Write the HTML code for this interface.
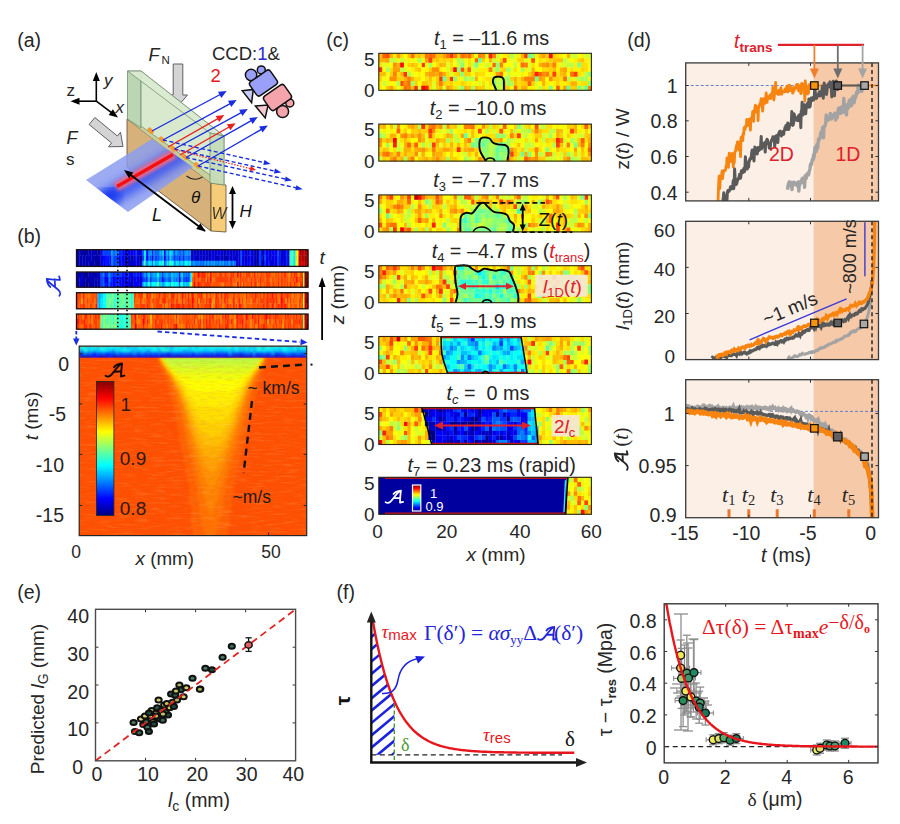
<!DOCTYPE html><html><head><meta charset="utf-8"><title>figure</title><style>html,body{margin:0;padding:0;background:#fff;width:900px;height:824px;overflow:hidden;font-family:"Liberation Sans",sans-serif;}svg{display:block;}</style></head><body><svg width="900" height="824" viewBox="0 0 900 824"><rect width="900" height="824" fill="#fff"/><text x="17.2" y="47.2" font-family='"Liberation Sans", sans-serif' font-size="19.5" text-anchor="start" fill="#262626" >(a)</text>
<line x1="96.3" y1="101.2" x2="96.3" y2="79.2" stroke="#000" stroke-width="1.6" /><polygon points="96.3,72 99.8,81 92.8,81" fill="#000" stroke="none" stroke-width="1" />
<line x1="96.3" y1="101.2" x2="77.7" y2="101.2" stroke="#000" stroke-width="1.6" /><polygon points="70.5,101.2 79.5,97.7 79.5,104.7" fill="#000" stroke="none" stroke-width="1" />
<line x1="96.3" y1="101.2" x2="112.2" y2="113.2" stroke="#000" stroke-width="1.6" /><polygon points="118,117.5 108.7,114.9 112.9,109.3" fill="#000" stroke="none" stroke-width="1" />
<text x="66.5" y="95.5" font-family='"Liberation Sans", sans-serif' font-size="17" text-anchor="start" fill="#262626" >z</text>
<text x="104.0" y="86.0" font-family='"Liberation Sans", sans-serif' font-size="17" text-anchor="start" fill="#262626" font-style="italic" >y</text>
<text x="115.5" y="113.0" font-family='"Liberation Sans", sans-serif' font-size="17" text-anchor="start" fill="#262626" font-style="italic" >x</text>
<polygon points="89.1,124.5 111.6,143 108.5,146.8 123,146.5 120.5,132.2 117.4,136 94.9,117.5" fill="#d4d4d4" stroke="#606060" stroke-width="1" />
<text x="66.5" y="143.5" font-family='"Liberation Sans", sans-serif' font-size="18" text-anchor="start" fill="#262626" font-style="italic" >F</text>
<text x="66.0" y="165.0" font-family='"Liberation Sans", sans-serif' font-size="17" text-anchor="start" fill="#262626" >s</text>
<polygon points="173.2,64 173.2,95 168.5,95 178,106 187.5,95 182.8,95 182.8,64" fill="#d4d4d4" stroke="#606060" stroke-width="1" />
<text x="148.5" y="60.5" font-family='"Liberation Sans", sans-serif' font-size="18" text-anchor="start" fill="#262626" font-style="italic" >F</text>
<text x="161.5" y="64.0" font-family='"Liberation Sans", sans-serif' font-size="11.5" text-anchor="start" fill="#262626" >N</text>
<text x="212" y="60" font-family='"Liberation Sans", sans-serif' font-size="18.5" fill="#262626">CCD:<tspan fill="#2a2ad0">1</tspan>&amp;</text>
<text x="210.5" y="82.0" font-family='"Liberation Sans", sans-serif' font-size="18.5" text-anchor="start" fill="#e8161c" >2</text>
<polygon points="127,119 211,183 211,231 127,167" fill="#d6b27a" stroke="#5a4a30" stroke-width="0.8" />
<polygon points="211,183 226,185 226,232 211,231" fill="#f6cc78" stroke="#5a4a30" stroke-width="0.8" />
<polygon points="127,119 141,126 226,185 211,183" fill="#c7cf9a" stroke="none" stroke-width="1" />
<defs><filter id="blr2" x="-20%" y="-20%" width="140%" height="140%"><feGaussianBlur stdDeviation="1.6"/></filter><filter id="blr6" x="-30%" y="-30%" width="160%" height="160%"><feGaussianBlur stdDeviation="5"/></filter><clipPath id="bplc"><polygon points="86,180 152,139 193,167 128,212"/></clipPath></defs>
<polygon points="86,180 152,139 193,167 128,212" fill="#8c9ef0" stroke="none" stroke-width="1" opacity="0.85"/>
<g clip-path="url(#bplc)">
<line x1="100" y1="203" x2="185" y2="152" stroke="#2a46f2" stroke-width="18" filter="url(#blr6)" opacity="0.75"/>
<line x1="100" y1="202" x2="118" y2="191" stroke="#1030f0" stroke-width="14" filter="url(#blr6)" opacity="0.85"/>
</g>
<line x1="116" y1="187" x2="174" y2="154" stroke="#ff6a7a" stroke-width="10" opacity="0.8" filter="url(#blr2)"/>
<line x1="117" y1="186.5" x2="173" y2="154.5" stroke="#f41010" stroke-width="3.2" />
<polygon points="127.5,71 141,71 141,128 127.5,119" fill="#b9d3ae" stroke="#6b8a6b" stroke-width="0.8" opacity="0.95"/>
<polygon points="141,71 224,136 224,185 141,126" fill="#d3e6c6" stroke="#6b8a6b" stroke-width="0.8" opacity="0.85"/>
<polygon points="127.5,71 141,71 224,136 210,133" fill="#dcecd2" stroke="#6b8a6b" stroke-width="0.8" opacity="0.9"/>
<polygon points="210,133 224,136 224,185 210,183" fill="#c6dcb8" stroke="#6b8a6b" stroke-width="0.8" opacity="0.9"/>
<rect x="147.2" y="128.7" width="7" height="4" rx="1.5" fill="#f7962a" transform="rotate(45 150.7 130.7)"/>
<rect x="158.5" y="137.5" width="7" height="4" rx="1.5" fill="#f7962a" transform="rotate(45 162.0 139.5)"/>
<rect x="169.8" y="146.5" width="7" height="4" rx="1.5" fill="#f7962a" transform="rotate(45 173.3 148.5)"/>
<rect x="181.5" y="155.0" width="7" height="4" rx="1.5" fill="#f7962a" transform="rotate(45 185.0 157.0)"/>
<rect x="193.5" y="163.3" width="7" height="4" rx="1.5" fill="#f7962a" transform="rotate(45 197.0 165.3)"/>
<line x1="152" y1="131" x2="221.1" y2="94" stroke="#1a2ee0" stroke-width="1.4" /><polygon points="226.7,91 221.3,97.9 218,91.7" fill="#1a2ee0" stroke="none" stroke-width="1" />
<line x1="163" y1="140" x2="231.1" y2="103.1" stroke="#1a2ee0" stroke-width="1.4" /><polygon points="236.7,100 231.3,106.9 228,100.7" fill="#1a2ee0" stroke="none" stroke-width="1" />
<line x1="174.5" y1="149" x2="242.2" y2="112.1" stroke="#1a2ee0" stroke-width="1.4" /><polygon points="247.8,109 242.5,115.9 239.1,109.8" fill="#1a2ee0" stroke="none" stroke-width="1" />
<line x1="186" y1="157.5" x2="252.2" y2="120.1" stroke="#1a2ee0" stroke-width="1.4" /><polygon points="257.8,117 252.6,124 249.1,117.9" fill="#1a2ee0" stroke="none" stroke-width="1" />
<line x1="198" y1="166" x2="262.3" y2="128.8" stroke="#1a2ee0" stroke-width="1.4" /><polygon points="267.8,125.6 262.6,132.6 259.1,126.6" fill="#1a2ee0" stroke="none" stroke-width="1" />
<line x1="168" y1="147" x2="218.8" y2="118.2" stroke="#e82020" stroke-width="1.4" /><polygon points="224.4,115 219.2,122 215.7,115.9" fill="#e82020" stroke="none" stroke-width="1" />
<line x1="180" y1="155" x2="230" y2="126.5" stroke="#e82020" stroke-width="1.4" /><polygon points="235.6,123.3 230.4,130.3 226.9,124.2" fill="#e82020" stroke="none" stroke-width="1" />
<line x1="163" y1="140" x2="264.8" y2="162.7" stroke="#1a2ee0" stroke-width="1.4" stroke-dasharray="4,2.5"/>
<polygon points="270.7,164 263.3,164.9 264.4,160" fill="#1a2ee0" stroke="none" stroke-width="1" />
<line x1="174.5" y1="149" x2="275.4" y2="171.2" stroke="#1a2ee0" stroke-width="1.4" stroke-dasharray="4,2.5"/>
<polygon points="281.3,172.5 273.9,173.4 275,168.6" fill="#1a2ee0" stroke="none" stroke-width="1" />
<line x1="186" y1="157.5" x2="286.1" y2="179.2" stroke="#1a2ee0" stroke-width="1.4" stroke-dasharray="4,2.5"/>
<polygon points="292,180.5 284.6,181.5 285.7,176.6" fill="#1a2ee0" stroke="none" stroke-width="1" />
<line x1="198" y1="166" x2="296.8" y2="188" stroke="#1a2ee0" stroke-width="1.4" stroke-dasharray="4,2.5"/>
<polygon points="302.7,189.3 295.3,190.2 296.4,185.3" fill="#1a2ee0" stroke="none" stroke-width="1" />
<line x1="176" y1="150" x2="252" y2="169" stroke="#e82020" stroke-width="1.2" stroke-dasharray="1.5,1.5"/>
<polygon points="256,170 249.6,171 250.8,166.1" fill="#e82020" stroke="none" stroke-width="1" />
<path d="M186.5,176 Q194,182 202.5,177" fill="none" stroke="#222" stroke-width="1.1"/>
<text x="191.0" y="203.0" font-family='"Liberation Sans", sans-serif' font-size="17" text-anchor="start" fill="#111" font-style="italic" >θ</text>
<line x1="205" y1="231" x2="129.8" y2="174.3" stroke="#000" stroke-width="1.8" /><polygon points="124,170 133.3,172.6 129.1,178.2" fill="#000" stroke="none" stroke-width="1" />
<polygon points="205.5,231.5 196.2,228.9 200.4,223.3" fill="#000" stroke="none" stroke-width="1" />
<text x="152.0" y="221.0" font-family='"Liberation Sans", sans-serif' font-size="18" text-anchor="start" fill="#111" font-style="italic" >L</text>
<text x="211.5" y="219.0" font-family='"Liberation Sans", sans-serif' font-size="16" text-anchor="start" fill="#222" font-style="italic" opacity="0.85">W</text>
<line x1="232.5" y1="207" x2="232.5" y2="192.4" stroke="#000" stroke-width="1.8" /><polygon points="232.5,186 236,194 229,194" fill="#000" stroke="none" stroke-width="1" />
<line x1="232.5" y1="207" x2="232.5" y2="222.6" stroke="#000" stroke-width="1.8" /><polygon points="232.5,229 229,221 236,221" fill="#000" stroke="none" stroke-width="1" />
<text x="239.5" y="216.5" font-family='"Liberation Sans", sans-serif' font-size="17" text-anchor="start" fill="#111" font-style="italic" >H</text>
<g transform="translate(263.5,83) rotate(-35)"><rect x="-12" y="-8" width="24" height="16" rx="3" fill="#9aa0f8" stroke="#1a1a1a" stroke-width="1.2"/></g><circle cx="251.1" cy="75" r="5.7" fill="#9aa0f8" stroke="#111" stroke-width="1.5"/><circle cx="261.3" cy="69.9" r="4" fill="#9aa0f8" stroke="#111" stroke-width="1.5"/><polygon points="242.2,90.7 253.3,89.4 251.6,102.6" fill="#c8ccf8" stroke="#111" stroke-width="1.5" />
<g transform="translate(277.5,97.5) rotate(-35)"><rect x="-12" y="-8" width="24" height="16" rx="3" fill="#f6a4ac" stroke="#1a1a1a" stroke-width="1.2"/></g><circle cx="282.6" cy="111.5" r="6" fill="#f6a4ac" stroke="#111" stroke-width="1.5"/><circle cx="289.8" cy="103" r="4" fill="#f6a4ac" stroke="#111" stroke-width="1.5"/><polygon points="255.4,106 268.1,105.1 265.2,117.9" fill="#f8c8d0" stroke="#111" stroke-width="1.5" />
<g transform="translate(263.5,83) rotate(-35)"><rect x="-12.5" y="-8.5" width="25" height="17" rx="3" fill="#9aa0f8" stroke="#111" stroke-width="1.5"/></g>
<g transform="translate(277.5,97.5) rotate(-35)"><rect x="-12.5" y="-8.5" width="25" height="17" rx="3" fill="#f6a4ac" stroke="#111" stroke-width="1.5"/></g>
<text x="17.2" y="242.8" font-family='"Liberation Sans", sans-serif' font-size="19.5" text-anchor="start" fill="#262626" >(b)</text>
<defs><filter id="sblur" x="0" y="0" width="100%" height="100%"><feGaussianBlur stdDeviation="0.5"/></filter></defs>
<g filter="url(#sblur)"><path fill="#000095" d="M76.5 249.7h1.8v5.9h-1.8zM76.5 255.3h1.8v5.9h-1.8zM84.0 249.7h1.8v5.9h-1.8zM84.0 255.3h1.8v5.9h-1.8zM85.5 249.7h1.8v5.9h-1.8zM93.0 260.8h1.8v5.9h-1.8zM96.0 260.8h1.8v5.9h-1.8zM97.5 249.7h1.8v5.9h-1.8zM97.5 260.8h1.8v5.9h-1.8zM99.0 249.7h1.8v5.9h-1.8zM139.5 255.3h1.8v5.9h-1.8zM255.0 255.3h1.8v5.9h-1.8zM256.5 260.8h1.8v5.9h-1.8z"/><path fill="#0000aa" d="M76.5 260.8h1.8v5.9h-1.8zM78.0 249.7h1.8v5.9h-1.8zM79.5 255.3h1.8v5.9h-1.8zM79.5 260.8h1.8v5.9h-1.8zM81.0 249.7h1.8v5.9h-1.8zM81.0 255.3h1.8v5.9h-1.8zM81.0 260.8h1.8v5.9h-1.8zM82.5 249.7h1.8v5.9h-1.8zM84.0 260.8h1.8v5.9h-1.8zM85.5 255.3h1.8v5.9h-1.8zM87.0 260.8h1.8v5.9h-1.8zM88.5 249.7h1.8v5.9h-1.8zM90.0 260.8h1.8v5.9h-1.8zM91.5 249.7h1.8v5.9h-1.8zM91.5 255.3h1.8v5.9h-1.8zM91.5 260.8h1.8v5.9h-1.8zM93.0 255.3h1.8v5.9h-1.8zM94.5 255.3h1.8v5.9h-1.8zM96.0 249.7h1.8v5.9h-1.8zM96.0 255.3h1.8v5.9h-1.8zM97.5 255.3h1.8v5.9h-1.8zM99.0 255.3h1.8v5.9h-1.8zM99.0 260.8h1.8v5.9h-1.8zM124.5 255.3h1.8v5.9h-1.8zM124.5 260.8h1.8v5.9h-1.8zM126.0 255.3h1.8v5.9h-1.8zM126.0 260.8h1.8v5.9h-1.8zM130.5 255.3h1.8v5.9h-1.8zM132.0 255.3h1.8v5.9h-1.8zM138.0 255.3h1.8v5.9h-1.8zM139.5 260.8h1.8v5.9h-1.8zM192.0 249.7h1.8v5.9h-1.8zM192.0 255.3h1.8v5.9h-1.8zM195.0 249.7h1.8v5.9h-1.8zM202.5 255.3h1.8v5.9h-1.8zM205.5 255.3h1.8v5.9h-1.8zM208.5 249.7h1.8v5.9h-1.8zM208.5 255.3h1.8v5.9h-1.8zM223.5 249.7h1.8v5.9h-1.8zM223.5 255.3h1.8v5.9h-1.8zM225.0 255.3h1.8v5.9h-1.8zM226.5 255.3h1.8v5.9h-1.8zM231.0 249.7h1.8v5.9h-1.8zM231.0 255.3h1.8v5.9h-1.8zM234.0 249.7h1.8v5.9h-1.8zM244.5 255.3h1.8v5.9h-1.8zM256.5 249.7h1.8v5.9h-1.8zM256.5 255.3h1.8v5.9h-1.8zM261.0 260.8h1.8v5.9h-1.8zM262.5 255.3h1.8v5.9h-1.8zM262.5 260.8h1.8v5.9h-1.8zM288.0 249.7h1.8v5.9h-1.8z"/><path fill="#0000bf" d="M78.0 255.3h1.8v5.9h-1.8zM78.0 260.8h1.8v5.9h-1.8zM79.5 249.7h1.8v5.9h-1.8zM82.5 255.3h1.8v5.9h-1.8zM82.5 260.8h1.8v5.9h-1.8zM85.5 260.8h1.8v5.9h-1.8zM87.0 249.7h1.8v5.9h-1.8zM87.0 255.3h1.8v5.9h-1.8zM88.5 255.3h1.8v5.9h-1.8zM88.5 260.8h1.8v5.9h-1.8zM90.0 249.7h1.8v5.9h-1.8zM90.0 255.3h1.8v5.9h-1.8zM93.0 249.7h1.8v5.9h-1.8zM94.5 249.7h1.8v5.9h-1.8zM94.5 260.8h1.8v5.9h-1.8zM129.0 255.3h1.8v5.9h-1.8zM129.0 260.8h1.8v5.9h-1.8zM130.5 260.8h1.8v5.9h-1.8zM132.0 260.8h1.8v5.9h-1.8zM133.5 255.3h1.8v5.9h-1.8zM133.5 260.8h1.8v5.9h-1.8zM138.0 260.8h1.8v5.9h-1.8zM141.0 255.3h1.8v5.9h-1.8zM190.5 249.7h1.8v5.9h-1.8zM190.5 255.3h1.8v5.9h-1.8zM195.0 255.3h1.8v5.9h-1.8zM196.5 249.7h1.8v5.9h-1.8zM196.5 255.3h1.8v5.9h-1.8zM198.0 255.3h1.8v5.9h-1.8zM199.5 249.7h1.8v5.9h-1.8zM202.5 249.7h1.8v5.9h-1.8zM205.5 249.7h1.8v5.9h-1.8zM214.5 249.7h1.8v5.9h-1.8zM214.5 255.3h1.8v5.9h-1.8zM216.0 255.3h1.8v5.9h-1.8zM217.5 255.3h1.8v5.9h-1.8zM220.5 249.7h1.8v5.9h-1.8zM220.5 255.3h1.8v5.9h-1.8zM222.0 255.3h1.8v5.9h-1.8zM226.5 249.7h1.8v5.9h-1.8zM229.5 255.3h1.8v5.9h-1.8zM234.0 255.3h1.8v5.9h-1.8zM235.5 249.7h1.8v5.9h-1.8zM235.5 255.3h1.8v5.9h-1.8zM238.5 249.7h1.8v5.9h-1.8zM238.5 255.3h1.8v5.9h-1.8zM238.5 260.8h1.8v5.9h-1.8zM246.0 249.7h1.8v5.9h-1.8zM247.5 255.3h1.8v5.9h-1.8zM252.0 249.7h1.8v5.9h-1.8zM252.0 255.3h1.8v5.9h-1.8zM261.0 249.7h1.8v5.9h-1.8zM261.0 255.3h1.8v5.9h-1.8zM262.5 249.7h1.8v5.9h-1.8zM267.0 255.3h1.8v5.9h-1.8zM267.0 260.8h1.8v5.9h-1.8zM270.0 249.7h1.8v5.9h-1.8zM270.0 255.3h1.8v5.9h-1.8zM282.0 260.8h1.8v5.9h-1.8zM288.0 255.3h1.8v5.9h-1.8zM288.0 260.8h1.8v5.9h-1.8z"/><path fill="#0000ea" d="M100.5 249.7h1.8v5.9h-1.8zM102.0 260.8h1.8v5.9h-1.8zM118.5 255.3h1.8v5.9h-1.8zM123.0 255.3h1.8v5.9h-1.8zM129.0 249.7h1.8v5.9h-1.8zM133.5 249.7h1.8v5.9h-1.8zM136.5 249.7h1.8v5.9h-1.8zM193.5 249.7h1.8v5.9h-1.8zM193.5 255.3h1.8v5.9h-1.8zM211.5 249.7h1.8v5.9h-1.8zM211.5 255.3h1.8v5.9h-1.8zM216.0 249.7h1.8v5.9h-1.8zM219.0 249.7h1.8v5.9h-1.8zM228.0 249.7h1.8v5.9h-1.8zM228.0 255.3h1.8v5.9h-1.8zM232.5 249.7h1.8v5.9h-1.8zM232.5 255.3h1.8v5.9h-1.8zM237.0 249.7h1.8v5.9h-1.8zM237.0 255.3h1.8v5.9h-1.8zM237.0 260.8h1.8v5.9h-1.8zM241.5 255.3h1.8v5.9h-1.8zM243.0 249.7h1.8v5.9h-1.8zM243.0 255.3h1.8v5.9h-1.8zM246.0 260.8h1.8v5.9h-1.8zM250.5 249.7h1.8v5.9h-1.8zM250.5 260.8h1.8v5.9h-1.8zM253.5 249.7h1.8v5.9h-1.8zM253.5 255.3h1.8v5.9h-1.8zM253.5 260.8h1.8v5.9h-1.8zM258.0 249.7h1.8v5.9h-1.8zM258.0 255.3h1.8v5.9h-1.8zM258.0 260.8h1.8v5.9h-1.8zM273.0 260.8h1.8v5.9h-1.8zM274.5 255.3h1.8v5.9h-1.8zM276.0 249.7h1.8v5.9h-1.8zM276.0 255.3h1.8v5.9h-1.8zM279.0 249.7h1.8v5.9h-1.8zM279.0 255.3h1.8v5.9h-1.8zM280.5 260.8h1.8v5.9h-1.8zM285.0 255.3h1.8v5.9h-1.8zM285.0 260.8h1.8v5.9h-1.8z"/><path fill="#0000d4" d="M100.5 255.3h1.8v5.9h-1.8zM100.5 260.8h1.8v5.9h-1.8zM118.5 260.8h1.8v5.9h-1.8zM123.0 260.8h1.8v5.9h-1.8zM124.5 249.7h1.8v5.9h-1.8zM126.0 249.7h1.8v5.9h-1.8zM127.5 255.3h1.8v5.9h-1.8zM127.5 260.8h1.8v5.9h-1.8zM130.5 249.7h1.8v5.9h-1.8zM136.5 255.3h1.8v5.9h-1.8zM136.5 260.8h1.8v5.9h-1.8zM138.0 249.7h1.8v5.9h-1.8zM139.5 249.7h1.8v5.9h-1.8zM141.0 260.8h1.8v5.9h-1.8zM151.5 255.3h1.8v5.9h-1.8zM163.5 255.3h1.8v5.9h-1.8zM198.0 249.7h1.8v5.9h-1.8zM199.5 255.3h1.8v5.9h-1.8zM201.0 249.7h1.8v5.9h-1.8zM201.0 255.3h1.8v5.9h-1.8zM204.0 249.7h1.8v5.9h-1.8zM204.0 255.3h1.8v5.9h-1.8zM207.0 249.7h1.8v5.9h-1.8zM207.0 255.3h1.8v5.9h-1.8zM210.0 249.7h1.8v5.9h-1.8zM210.0 255.3h1.8v5.9h-1.8zM213.0 249.7h1.8v5.9h-1.8zM213.0 255.3h1.8v5.9h-1.8zM217.5 249.7h1.8v5.9h-1.8zM219.0 255.3h1.8v5.9h-1.8zM222.0 249.7h1.8v5.9h-1.8zM225.0 249.7h1.8v5.9h-1.8zM229.5 249.7h1.8v5.9h-1.8zM235.5 260.8h1.8v5.9h-1.8zM241.5 260.8h1.8v5.9h-1.8zM244.5 249.7h1.8v5.9h-1.8zM244.5 260.8h1.8v5.9h-1.8zM246.0 255.3h1.8v5.9h-1.8zM247.5 249.7h1.8v5.9h-1.8zM247.5 260.8h1.8v5.9h-1.8zM250.5 255.3h1.8v5.9h-1.8zM252.0 260.8h1.8v5.9h-1.8zM267.0 249.7h1.8v5.9h-1.8zM270.0 260.8h1.8v5.9h-1.8zM271.5 255.3h1.8v5.9h-1.8zM271.5 260.8h1.8v5.9h-1.8zM274.5 249.7h1.8v5.9h-1.8zM274.5 260.8h1.8v5.9h-1.8zM276.0 260.8h1.8v5.9h-1.8zM279.0 260.8h1.8v5.9h-1.8zM280.5 249.7h1.8v5.9h-1.8zM280.5 255.3h1.8v5.9h-1.8zM282.0 249.7h1.8v5.9h-1.8zM282.0 255.3h1.8v5.9h-1.8zM283.5 249.7h1.8v5.9h-1.8zM283.5 255.3h1.8v5.9h-1.8zM283.5 260.8h1.8v5.9h-1.8z"/><path fill="#002aff" d="M102.0 249.7h1.8v5.9h-1.8zM114.0 260.8h1.8v5.9h-1.8zM117.0 255.3h1.8v5.9h-1.8zM120.0 249.7h1.8v5.9h-1.8zM121.5 249.7h1.8v5.9h-1.8zM135.0 249.7h1.8v5.9h-1.8zM145.5 249.7h1.8v5.9h-1.8zM151.5 249.7h1.8v5.9h-1.8zM165.0 255.3h1.8v5.9h-1.8zM168.0 255.3h1.8v5.9h-1.8zM178.5 255.3h1.8v5.9h-1.8zM183.0 249.7h1.8v5.9h-1.8zM264.0 249.7h1.8v5.9h-1.8zM264.0 260.8h1.8v5.9h-1.8z"/><path fill="#0000ff" d="M102.0 255.3h1.8v5.9h-1.8zM103.5 255.3h1.8v5.9h-1.8zM103.5 260.8h1.8v5.9h-1.8zM108.0 260.8h1.8v5.9h-1.8zM109.5 255.3h1.8v5.9h-1.8zM120.0 260.8h1.8v5.9h-1.8zM121.5 255.3h1.8v5.9h-1.8zM123.0 249.7h1.8v5.9h-1.8zM127.5 249.7h1.8v5.9h-1.8zM132.0 249.7h1.8v5.9h-1.8zM135.0 260.8h1.8v5.9h-1.8zM141.0 249.7h1.8v5.9h-1.8zM147.0 255.3h1.8v5.9h-1.8zM163.5 249.7h1.8v5.9h-1.8zM183.0 255.3h1.8v5.9h-1.8zM241.5 249.7h1.8v5.9h-1.8zM243.0 260.8h1.8v5.9h-1.8zM249.0 255.3h1.8v5.9h-1.8zM265.5 249.7h1.8v5.9h-1.8zM265.5 255.3h1.8v5.9h-1.8zM265.5 260.8h1.8v5.9h-1.8zM268.5 249.7h1.8v5.9h-1.8zM268.5 255.3h1.8v5.9h-1.8zM271.5 249.7h1.8v5.9h-1.8zM273.0 249.7h1.8v5.9h-1.8zM273.0 255.3h1.8v5.9h-1.8zM285.0 249.7h1.8v5.9h-1.8z"/><path fill="#0040ff" d="M103.5 249.7h1.8v5.9h-1.8zM105.0 249.7h1.8v5.9h-1.8zM106.5 249.7h1.8v5.9h-1.8zM108.0 249.7h1.8v5.9h-1.8zM109.5 249.7h1.8v5.9h-1.8zM114.0 255.3h1.8v5.9h-1.8zM115.5 255.3h1.8v5.9h-1.8zM142.5 255.3h1.8v5.9h-1.8zM154.5 255.3h1.8v5.9h-1.8zM156.0 255.3h1.8v5.9h-1.8zM174.0 249.7h1.8v5.9h-1.8zM240.0 249.7h1.8v5.9h-1.8zM240.0 255.3h1.8v5.9h-1.8zM240.0 260.8h1.8v5.9h-1.8zM259.5 249.7h1.8v5.9h-1.8zM259.5 255.3h1.8v5.9h-1.8zM259.5 260.8h1.8v5.9h-1.8zM264.0 255.3h1.8v5.9h-1.8zM277.5 255.3h1.8v5.9h-1.8zM277.5 260.8h1.8v5.9h-1.8z"/><path fill="#0015ff" d="M105.0 255.3h1.8v5.9h-1.8zM105.0 260.8h1.8v5.9h-1.8zM106.5 255.3h1.8v5.9h-1.8zM106.5 260.8h1.8v5.9h-1.8zM108.0 255.3h1.8v5.9h-1.8zM109.5 260.8h1.8v5.9h-1.8zM118.5 249.7h1.8v5.9h-1.8zM120.0 255.3h1.8v5.9h-1.8zM121.5 260.8h1.8v5.9h-1.8zM135.0 255.3h1.8v5.9h-1.8zM145.5 255.3h1.8v5.9h-1.8zM147.0 249.7h1.8v5.9h-1.8zM174.0 255.3h1.8v5.9h-1.8zM249.0 249.7h1.8v5.9h-1.8zM249.0 260.8h1.8v5.9h-1.8zM268.5 260.8h1.8v5.9h-1.8zM286.5 249.7h1.8v5.9h-1.8zM286.5 255.3h1.8v5.9h-1.8zM286.5 260.8h1.8v5.9h-1.8z"/><path fill="#00aaff" d="M111.0 249.7h1.8v5.9h-1.8zM154.5 260.8h1.8v5.9h-1.8zM159.0 249.7h1.8v5.9h-1.8zM162.0 255.3h1.8v5.9h-1.8zM175.5 249.7h1.8v5.9h-1.8zM178.5 260.8h1.8v5.9h-1.8zM228.0 260.8h1.8v5.9h-1.8zM232.5 260.8h1.8v5.9h-1.8z"/><path fill="#0080ff" d="M111.0 255.3h1.8v5.9h-1.8zM111.0 260.8h1.8v5.9h-1.8zM115.5 249.7h1.8v5.9h-1.8zM147.0 260.8h1.8v5.9h-1.8zM148.5 255.3h1.8v5.9h-1.8zM153.0 249.7h1.8v5.9h-1.8zM159.0 255.3h1.8v5.9h-1.8zM171.0 255.3h1.8v5.9h-1.8zM172.5 249.7h1.8v5.9h-1.8zM177.0 249.7h1.8v5.9h-1.8zM181.5 249.7h1.8v5.9h-1.8zM183.0 260.8h1.8v5.9h-1.8zM184.5 255.3h1.8v5.9h-1.8zM187.5 249.7h1.8v5.9h-1.8zM192.0 260.8h1.8v5.9h-1.8zM195.0 260.8h1.8v5.9h-1.8zM196.5 260.8h1.8v5.9h-1.8zM198.0 260.8h1.8v5.9h-1.8zM201.0 260.8h1.8v5.9h-1.8zM208.5 260.8h1.8v5.9h-1.8zM210.0 260.8h1.8v5.9h-1.8zM214.5 260.8h1.8v5.9h-1.8zM216.0 260.8h1.8v5.9h-1.8zM220.5 260.8h1.8v5.9h-1.8zM225.0 260.8h1.8v5.9h-1.8zM229.5 260.8h1.8v5.9h-1.8z"/><path fill="#006aff" d="M112.5 249.7h1.8v5.9h-1.8zM114.0 249.7h1.8v5.9h-1.8zM117.0 249.7h1.8v5.9h-1.8zM142.5 249.7h1.8v5.9h-1.8zM151.5 260.8h1.8v5.9h-1.8zM153.0 255.3h1.8v5.9h-1.8zM154.5 249.7h1.8v5.9h-1.8zM156.0 249.7h1.8v5.9h-1.8zM157.5 249.7h1.8v5.9h-1.8zM160.5 255.3h1.8v5.9h-1.8zM168.0 249.7h1.8v5.9h-1.8zM172.5 255.3h1.8v5.9h-1.8zM175.5 255.3h1.8v5.9h-1.8zM178.5 249.7h1.8v5.9h-1.8zM180.0 249.7h1.8v5.9h-1.8zM181.5 255.3h1.8v5.9h-1.8zM186.0 255.3h1.8v5.9h-1.8zM189.0 255.3h1.8v5.9h-1.8zM190.5 260.8h1.8v5.9h-1.8zM199.5 260.8h1.8v5.9h-1.8zM205.5 260.8h1.8v5.9h-1.8zM217.5 260.8h1.8v5.9h-1.8zM223.5 260.8h1.8v5.9h-1.8zM226.5 260.8h1.8v5.9h-1.8zM234.0 260.8h1.8v5.9h-1.8z"/><path fill="#0055ff" d="M112.5 255.3h1.8v5.9h-1.8zM112.5 260.8h1.8v5.9h-1.8zM115.5 260.8h1.8v5.9h-1.8zM117.0 260.8h1.8v5.9h-1.8zM150.0 255.3h1.8v5.9h-1.8zM157.5 255.3h1.8v5.9h-1.8zM163.5 260.8h1.8v5.9h-1.8zM165.0 249.7h1.8v5.9h-1.8zM177.0 255.3h1.8v5.9h-1.8zM180.0 255.3h1.8v5.9h-1.8zM187.5 255.3h1.8v5.9h-1.8zM202.5 260.8h1.8v5.9h-1.8zM231.0 260.8h1.8v5.9h-1.8zM277.5 249.7h1.8v5.9h-1.8z"/><path fill="#00bfff" d="M142.5 260.8h1.8v5.9h-1.8zM156.0 260.8h1.8v5.9h-1.8zM157.5 260.8h1.8v5.9h-1.8zM166.5 249.7h1.8v5.9h-1.8zM168.0 260.8h1.8v5.9h-1.8zM171.0 249.7h1.8v5.9h-1.8zM180.0 260.8h1.8v5.9h-1.8z"/><path fill="#00ffff" d="M144.0 249.7h1.8v5.9h-1.8zM159.0 260.8h1.8v5.9h-1.8zM166.5 260.8h1.8v5.9h-1.8zM184.5 260.8h1.8v5.9h-1.8zM186.0 260.8h1.8v5.9h-1.8zM189.0 260.8h1.8v5.9h-1.8zM292.5 255.3h1.8v5.9h-1.8z"/><path fill="#00eaff" d="M144.0 255.3h1.8v5.9h-1.8zM148.5 260.8h1.8v5.9h-1.8zM153.0 260.8h1.8v5.9h-1.8zM160.5 260.8h1.8v5.9h-1.8zM169.5 249.7h1.8v5.9h-1.8zM172.5 260.8h1.8v5.9h-1.8zM175.5 260.8h1.8v5.9h-1.8zM294.0 255.3h1.8v5.9h-1.8z"/><path fill="#55ffaa" d="M144.0 260.8h1.8v5.9h-1.8zM169.5 260.8h1.8v5.9h-1.8zM291.0 249.7h1.8v5.9h-1.8zM291.0 255.3h1.8v5.9h-1.8z"/><path fill="#0095ff" d="M145.5 260.8h1.8v5.9h-1.8zM148.5 249.7h1.8v5.9h-1.8zM150.0 249.7h1.8v5.9h-1.8zM160.5 249.7h1.8v5.9h-1.8zM165.0 260.8h1.8v5.9h-1.8zM166.5 255.3h1.8v5.9h-1.8zM174.0 260.8h1.8v5.9h-1.8zM184.5 249.7h1.8v5.9h-1.8zM186.0 249.7h1.8v5.9h-1.8zM189.0 249.7h1.8v5.9h-1.8zM193.5 260.8h1.8v5.9h-1.8zM204.0 260.8h1.8v5.9h-1.8zM207.0 260.8h1.8v5.9h-1.8zM211.5 260.8h1.8v5.9h-1.8zM213.0 260.8h1.8v5.9h-1.8zM219.0 260.8h1.8v5.9h-1.8zM222.0 260.8h1.8v5.9h-1.8z"/><path fill="#00d4ff" d="M150.0 260.8h1.8v5.9h-1.8zM162.0 249.7h1.8v5.9h-1.8zM169.5 255.3h1.8v5.9h-1.8zM177.0 260.8h1.8v5.9h-1.8zM181.5 260.8h1.8v5.9h-1.8zM187.5 260.8h1.8v5.9h-1.8zM294.0 249.7h1.8v5.9h-1.8zM294.0 260.8h1.8v5.9h-1.8z"/><path fill="#2bffd4" d="M162.0 260.8h1.8v5.9h-1.8zM289.5 249.7h1.8v5.9h-1.8zM292.5 249.7h1.8v5.9h-1.8z"/><path fill="#15ffea" d="M171.0 260.8h1.8v5.9h-1.8zM292.5 260.8h1.8v5.9h-1.8z"/><path fill="#000080" d="M255.0 249.7h1.8v5.9h-1.8zM255.0 260.8h1.8v5.9h-1.8z"/><path fill="#40ffbf" d="M289.5 255.3h1.8v5.9h-1.8zM289.5 260.8h1.8v5.9h-1.8zM291.0 260.8h1.8v5.9h-1.8z"/><path fill="#ffea00" d="M295.5 249.7h1.8v5.9h-1.8z"/><path fill="#ffd500" d="M295.5 255.3h1.8v5.9h-1.8z"/><path fill="#ffff00" d="M295.5 260.8h1.8v5.9h-1.8zM297.0 249.7h1.8v5.9h-1.8z"/><path fill="#d5ff2a" d="M297.0 255.3h1.8v5.9h-1.8z"/><path fill="#bfff40" d="M297.0 260.8h1.8v5.9h-1.8z"/><path fill="#ea0000" d="M298.5 249.7h1.8v5.9h-1.8zM303.0 260.8h1.8v5.9h-1.8z"/><path fill="#bf0000" d="M298.5 255.3h1.8v5.9h-1.8zM300.0 255.3h1.8v5.9h-1.8zM300.0 260.8h1.8v5.9h-1.8zM303.0 255.3h1.8v5.9h-1.8zM306.0 255.3h1.8v5.9h-1.8z"/><path fill="#d50000" d="M298.5 260.8h1.8v5.9h-1.8zM301.5 260.8h1.8v5.9h-1.8zM303.0 249.7h1.8v5.9h-1.8zM306.0 260.8h1.8v5.9h-1.8z"/><path fill="#950000" d="M300.0 249.7h1.8v5.9h-1.8zM304.5 255.3h1.8v5.9h-1.8zM307.5 249.7h0.8v5.9h-0.8zM307.5 260.8h0.8v5.9h-0.8z"/><path fill="#aa0000" d="M301.5 249.7h1.8v5.9h-1.8zM301.5 255.3h1.8v5.9h-1.8zM304.5 249.7h1.8v5.9h-1.8zM304.5 260.8h1.8v5.9h-1.8zM306.0 249.7h1.8v5.9h-1.8zM307.5 255.3h0.8v5.9h-0.8z"/></g>
<rect x="76.5" y="249.7" width="231.5" height="16.7" fill="none" stroke="#1a1010" stroke-width="1.3" />
<g filter="url(#sblur)"><path fill="#0000bf" d="M76.5 272.0h1.8v5.4h-1.8zM76.5 277.1h1.8v5.4h-1.8zM79.5 282.1h1.8v5.4h-1.8zM81.0 272.0h1.8v5.4h-1.8zM81.0 277.1h1.8v5.4h-1.8zM81.0 282.1h1.8v5.4h-1.8zM82.5 272.0h1.8v5.4h-1.8zM82.5 277.1h1.8v5.4h-1.8zM82.5 282.1h1.8v5.4h-1.8zM90.0 272.0h1.8v5.4h-1.8zM90.0 277.1h1.8v5.4h-1.8zM91.5 272.0h1.8v5.4h-1.8zM91.5 277.1h1.8v5.4h-1.8zM94.5 277.1h1.8v5.4h-1.8zM94.5 282.1h1.8v5.4h-1.8zM96.0 272.0h1.8v5.4h-1.8zM96.0 277.1h1.8v5.4h-1.8zM97.5 272.0h1.8v5.4h-1.8zM97.5 282.1h1.8v5.4h-1.8zM99.0 272.0h1.8v5.4h-1.8zM124.5 277.1h1.8v5.4h-1.8zM124.5 282.1h1.8v5.4h-1.8zM129.0 277.1h1.8v5.4h-1.8zM129.0 282.1h1.8v5.4h-1.8zM130.5 282.1h1.8v5.4h-1.8zM132.0 272.0h1.8v5.4h-1.8zM139.5 277.1h1.8v5.4h-1.8z"/><path fill="#0000aa" d="M76.5 282.1h1.8v5.4h-1.8zM78.0 272.0h1.8v5.4h-1.8zM78.0 277.1h1.8v5.4h-1.8zM78.0 282.1h1.8v5.4h-1.8zM79.5 272.0h1.8v5.4h-1.8zM84.0 277.1h1.8v5.4h-1.8zM87.0 277.1h1.8v5.4h-1.8zM88.5 272.0h1.8v5.4h-1.8zM88.5 277.1h1.8v5.4h-1.8zM88.5 282.1h1.8v5.4h-1.8zM90.0 282.1h1.8v5.4h-1.8zM91.5 282.1h1.8v5.4h-1.8zM93.0 272.0h1.8v5.4h-1.8zM93.0 282.1h1.8v5.4h-1.8zM94.5 272.0h1.8v5.4h-1.8zM96.0 282.1h1.8v5.4h-1.8zM97.5 277.1h1.8v5.4h-1.8zM99.0 277.1h1.8v5.4h-1.8zM99.0 282.1h1.8v5.4h-1.8zM132.0 277.1h1.8v5.4h-1.8zM132.0 282.1h1.8v5.4h-1.8z"/><path fill="#0000d4" d="M79.5 277.1h1.8v5.4h-1.8zM105.0 282.1h1.8v5.4h-1.8zM130.5 277.1h1.8v5.4h-1.8zM138.0 277.1h1.8v5.4h-1.8zM139.5 282.1h1.8v5.4h-1.8z"/><path fill="#000095" d="M84.0 272.0h1.8v5.4h-1.8zM84.0 282.1h1.8v5.4h-1.8zM85.5 272.0h1.8v5.4h-1.8zM85.5 277.1h1.8v5.4h-1.8zM87.0 272.0h1.8v5.4h-1.8zM87.0 282.1h1.8v5.4h-1.8zM93.0 277.1h1.8v5.4h-1.8z"/><path fill="#000080" d="M85.5 282.1h1.8v5.4h-1.8z"/><path fill="#0055ff" d="M100.5 272.0h1.8v5.4h-1.8zM102.0 277.1h1.8v5.4h-1.8zM102.0 282.1h1.8v5.4h-1.8zM103.5 272.0h1.8v5.4h-1.8zM109.5 277.1h1.8v5.4h-1.8zM144.0 277.1h1.8v5.4h-1.8zM145.5 272.0h1.8v5.4h-1.8zM163.5 277.1h1.8v5.4h-1.8zM168.0 277.1h1.8v5.4h-1.8zM169.5 277.1h1.8v5.4h-1.8zM184.5 277.1h1.8v5.4h-1.8zM187.5 272.0h1.8v5.4h-1.8z"/><path fill="#0040ff" d="M100.5 277.1h1.8v5.4h-1.8zM100.5 282.1h1.8v5.4h-1.8zM103.5 282.1h1.8v5.4h-1.8zM111.0 272.0h1.8v5.4h-1.8zM114.0 272.0h1.8v5.4h-1.8zM115.5 272.0h1.8v5.4h-1.8zM117.0 272.0h1.8v5.4h-1.8zM118.5 272.0h1.8v5.4h-1.8zM120.0 272.0h1.8v5.4h-1.8zM127.5 272.0h1.8v5.4h-1.8zM142.5 277.1h1.8v5.4h-1.8zM150.0 272.0h1.8v5.4h-1.8zM159.0 277.1h1.8v5.4h-1.8zM183.0 272.0h1.8v5.4h-1.8zM187.5 277.1h1.8v5.4h-1.8z"/><path fill="#006aff" d="M102.0 272.0h1.8v5.4h-1.8zM108.0 277.1h1.8v5.4h-1.8zM108.0 282.1h1.8v5.4h-1.8zM109.5 272.0h1.8v5.4h-1.8zM142.5 272.0h1.8v5.4h-1.8zM147.0 277.1h1.8v5.4h-1.8zM159.0 272.0h1.8v5.4h-1.8zM160.5 277.1h1.8v5.4h-1.8zM165.0 277.1h1.8v5.4h-1.8zM175.5 277.1h1.8v5.4h-1.8zM178.5 282.1h1.8v5.4h-1.8zM180.0 277.1h1.8v5.4h-1.8zM186.0 272.0h1.8v5.4h-1.8zM189.0 277.1h1.8v5.4h-1.8z"/><path fill="#002aff" d="M103.5 277.1h1.8v5.4h-1.8zM106.5 272.0h1.8v5.4h-1.8zM109.5 282.1h1.8v5.4h-1.8zM111.0 277.1h1.8v5.4h-1.8zM112.5 272.0h1.8v5.4h-1.8zM115.5 282.1h1.8v5.4h-1.8zM117.0 277.1h1.8v5.4h-1.8zM117.0 282.1h1.8v5.4h-1.8zM135.0 272.0h1.8v5.4h-1.8zM141.0 272.0h1.8v5.4h-1.8zM145.5 277.1h1.8v5.4h-1.8zM162.0 272.0h1.8v5.4h-1.8zM183.0 277.1h1.8v5.4h-1.8zM186.0 277.1h1.8v5.4h-1.8z"/><path fill="#0015ff" d="M105.0 272.0h1.8v5.4h-1.8zM111.0 282.1h1.8v5.4h-1.8zM114.0 277.1h1.8v5.4h-1.8zM115.5 277.1h1.8v5.4h-1.8zM118.5 277.1h1.8v5.4h-1.8zM118.5 282.1h1.8v5.4h-1.8zM121.5 272.0h1.8v5.4h-1.8zM123.0 272.0h1.8v5.4h-1.8zM126.0 272.0h1.8v5.4h-1.8zM127.5 277.1h1.8v5.4h-1.8zM133.5 272.0h1.8v5.4h-1.8zM136.5 272.0h1.8v5.4h-1.8zM138.0 272.0h1.8v5.4h-1.8zM162.0 277.1h1.8v5.4h-1.8zM178.5 272.0h1.8v5.4h-1.8z"/><path fill="#0000ea" d="M105.0 277.1h1.8v5.4h-1.8zM106.5 277.1h1.8v5.4h-1.8zM121.5 277.1h1.8v5.4h-1.8zM121.5 282.1h1.8v5.4h-1.8zM123.0 277.1h1.8v5.4h-1.8zM123.0 282.1h1.8v5.4h-1.8zM129.0 272.0h1.8v5.4h-1.8zM130.5 272.0h1.8v5.4h-1.8zM133.5 277.1h1.8v5.4h-1.8zM135.0 282.1h1.8v5.4h-1.8zM136.5 277.1h1.8v5.4h-1.8zM136.5 282.1h1.8v5.4h-1.8zM138.0 282.1h1.8v5.4h-1.8zM139.5 272.0h1.8v5.4h-1.8zM150.0 277.1h1.8v5.4h-1.8zM178.5 277.1h1.8v5.4h-1.8z"/><path fill="#0000ff" d="M106.5 282.1h1.8v5.4h-1.8zM112.5 277.1h1.8v5.4h-1.8zM112.5 282.1h1.8v5.4h-1.8zM114.0 282.1h1.8v5.4h-1.8zM120.0 277.1h1.8v5.4h-1.8zM120.0 282.1h1.8v5.4h-1.8zM124.5 272.0h1.8v5.4h-1.8zM126.0 277.1h1.8v5.4h-1.8zM126.0 282.1h1.8v5.4h-1.8zM127.5 282.1h1.8v5.4h-1.8zM133.5 282.1h1.8v5.4h-1.8zM135.0 277.1h1.8v5.4h-1.8zM141.0 277.1h1.8v5.4h-1.8zM141.0 282.1h1.8v5.4h-1.8z"/><path fill="#0080ff" d="M108.0 272.0h1.8v5.4h-1.8zM150.0 282.1h1.8v5.4h-1.8zM151.5 277.1h1.8v5.4h-1.8zM153.0 277.1h1.8v5.4h-1.8zM154.5 277.1h1.8v5.4h-1.8zM156.0 277.1h1.8v5.4h-1.8zM166.5 277.1h1.8v5.4h-1.8zM168.0 272.0h1.8v5.4h-1.8zM169.5 272.0h1.8v5.4h-1.8zM174.0 277.1h1.8v5.4h-1.8zM177.0 277.1h1.8v5.4h-1.8zM184.5 272.0h1.8v5.4h-1.8zM189.0 272.0h1.8v5.4h-1.8z"/><path fill="#00bfff" d="M142.5 282.1h1.8v5.4h-1.8zM156.0 272.0h1.8v5.4h-1.8zM157.5 277.1h1.8v5.4h-1.8zM163.5 282.1h1.8v5.4h-1.8zM169.5 282.1h1.8v5.4h-1.8zM171.0 272.0h1.8v5.4h-1.8zM186.0 282.1h1.8v5.4h-1.8zM187.5 282.1h1.8v5.4h-1.8z"/><path fill="#0095ff" d="M144.0 272.0h1.8v5.4h-1.8zM147.0 272.0h1.8v5.4h-1.8zM151.5 272.0h1.8v5.4h-1.8zM154.5 272.0h1.8v5.4h-1.8zM160.5 272.0h1.8v5.4h-1.8zM162.0 282.1h1.8v5.4h-1.8zM163.5 272.0h1.8v5.4h-1.8zM165.0 272.0h1.8v5.4h-1.8zM172.5 277.1h1.8v5.4h-1.8zM174.0 272.0h1.8v5.4h-1.8zM177.0 272.0h1.8v5.4h-1.8zM180.0 272.0h1.8v5.4h-1.8zM183.0 282.1h1.8v5.4h-1.8z"/><path fill="#00eaff" d="M144.0 282.1h1.8v5.4h-1.8zM147.0 282.1h1.8v5.4h-1.8zM154.5 282.1h1.8v5.4h-1.8zM165.0 282.1h1.8v5.4h-1.8zM168.0 282.1h1.8v5.4h-1.8zM174.0 282.1h1.8v5.4h-1.8zM177.0 282.1h1.8v5.4h-1.8zM180.0 282.1h1.8v5.4h-1.8z"/><path fill="#00aaff" d="M145.5 282.1h1.8v5.4h-1.8zM148.5 277.1h1.8v5.4h-1.8zM153.0 272.0h1.8v5.4h-1.8zM159.0 282.1h1.8v5.4h-1.8zM166.5 272.0h1.8v5.4h-1.8zM171.0 277.1h1.8v5.4h-1.8zM172.5 272.0h1.8v5.4h-1.8zM175.5 272.0h1.8v5.4h-1.8zM181.5 277.1h1.8v5.4h-1.8z"/><path fill="#00d4ff" d="M148.5 272.0h1.8v5.4h-1.8zM160.5 282.1h1.8v5.4h-1.8zM181.5 272.0h1.8v5.4h-1.8zM184.5 282.1h1.8v5.4h-1.8z"/><path fill="#2bffd4" d="M148.5 282.1h1.8v5.4h-1.8zM171.0 282.1h1.8v5.4h-1.8zM181.5 282.1h1.8v5.4h-1.8z"/><path fill="#00ffff" d="M151.5 282.1h1.8v5.4h-1.8zM153.0 282.1h1.8v5.4h-1.8zM157.5 272.0h1.8v5.4h-1.8zM166.5 282.1h1.8v5.4h-1.8zM175.5 282.1h1.8v5.4h-1.8zM189.0 282.1h1.8v5.4h-1.8z"/><path fill="#15ffea" d="M156.0 282.1h1.8v5.4h-1.8zM172.5 282.1h1.8v5.4h-1.8zM190.5 272.0h1.8v5.4h-1.8zM190.5 277.1h1.8v5.4h-1.8z"/><path fill="#55ffaa" d="M157.5 282.1h1.8v5.4h-1.8z"/><path fill="#d5ff2a" d="M190.5 282.1h1.8v5.4h-1.8z"/><path fill="#ff9500" d="M192.0 272.0h1.8v5.4h-1.8zM205.5 277.1h1.8v5.4h-1.8zM222.0 282.1h1.8v5.4h-1.8zM235.5 282.1h1.8v5.4h-1.8zM241.5 282.1h1.8v5.4h-1.8zM256.5 282.1h1.8v5.4h-1.8zM298.5 282.1h1.8v5.4h-1.8z"/><path fill="#ff6a00" d="M192.0 277.1h1.8v5.4h-1.8zM195.0 272.0h1.8v5.4h-1.8zM195.0 277.1h1.8v5.4h-1.8zM195.0 282.1h1.8v5.4h-1.8zM199.5 277.1h1.8v5.4h-1.8zM205.5 272.0h1.8v5.4h-1.8zM211.5 272.0h1.8v5.4h-1.8zM211.5 282.1h1.8v5.4h-1.8zM213.0 277.1h1.8v5.4h-1.8zM217.5 272.0h1.8v5.4h-1.8zM220.5 282.1h1.8v5.4h-1.8zM222.0 272.0h1.8v5.4h-1.8zM228.0 272.0h1.8v5.4h-1.8zM228.0 277.1h1.8v5.4h-1.8zM234.0 272.0h1.8v5.4h-1.8zM234.0 282.1h1.8v5.4h-1.8zM235.5 272.0h1.8v5.4h-1.8zM235.5 277.1h1.8v5.4h-1.8zM237.0 277.1h1.8v5.4h-1.8zM238.5 272.0h1.8v5.4h-1.8zM238.5 277.1h1.8v5.4h-1.8zM244.5 272.0h1.8v5.4h-1.8zM244.5 282.1h1.8v5.4h-1.8zM249.0 282.1h1.8v5.4h-1.8zM255.0 272.0h1.8v5.4h-1.8zM256.5 277.1h1.8v5.4h-1.8zM258.0 272.0h1.8v5.4h-1.8zM258.0 282.1h1.8v5.4h-1.8zM261.0 282.1h1.8v5.4h-1.8zM262.5 282.1h1.8v5.4h-1.8zM264.0 272.0h1.8v5.4h-1.8zM264.0 277.1h1.8v5.4h-1.8zM270.0 282.1h1.8v5.4h-1.8zM271.5 272.0h1.8v5.4h-1.8zM273.0 272.0h1.8v5.4h-1.8zM274.5 277.1h1.8v5.4h-1.8zM274.5 282.1h1.8v5.4h-1.8zM279.0 277.1h1.8v5.4h-1.8zM286.5 272.0h1.8v5.4h-1.8zM289.5 272.0h1.8v5.4h-1.8zM291.0 282.1h1.8v5.4h-1.8zM292.5 272.0h1.8v5.4h-1.8zM292.5 282.1h1.8v5.4h-1.8zM294.0 277.1h1.8v5.4h-1.8zM297.0 272.0h1.8v5.4h-1.8zM297.0 282.1h1.8v5.4h-1.8z"/><path fill="#ff8000" d="M192.0 282.1h1.8v5.4h-1.8zM208.5 272.0h1.8v5.4h-1.8zM211.5 277.1h1.8v5.4h-1.8zM232.5 282.1h1.8v5.4h-1.8zM238.5 282.1h1.8v5.4h-1.8zM241.5 272.0h1.8v5.4h-1.8zM247.5 277.1h1.8v5.4h-1.8zM250.5 272.0h1.8v5.4h-1.8zM252.0 282.1h1.8v5.4h-1.8zM270.0 277.1h1.8v5.4h-1.8zM279.0 272.0h1.8v5.4h-1.8zM279.0 282.1h1.8v5.4h-1.8zM288.0 272.0h1.8v5.4h-1.8zM288.0 277.1h1.8v5.4h-1.8zM288.0 282.1h1.8v5.4h-1.8zM298.5 272.0h1.8v5.4h-1.8z"/><path fill="#ff4000" d="M193.5 272.0h1.8v5.4h-1.8zM196.5 272.0h1.8v5.4h-1.8zM196.5 282.1h1.8v5.4h-1.8zM199.5 282.1h1.8v5.4h-1.8zM201.0 277.1h1.8v5.4h-1.8zM201.0 282.1h1.8v5.4h-1.8zM202.5 277.1h1.8v5.4h-1.8zM204.0 277.1h1.8v5.4h-1.8zM204.0 282.1h1.8v5.4h-1.8zM205.5 282.1h1.8v5.4h-1.8zM207.0 282.1h1.8v5.4h-1.8zM208.5 282.1h1.8v5.4h-1.8zM210.0 282.1h1.8v5.4h-1.8zM216.0 277.1h1.8v5.4h-1.8zM216.0 282.1h1.8v5.4h-1.8zM217.5 277.1h1.8v5.4h-1.8zM219.0 272.0h1.8v5.4h-1.8zM219.0 277.1h1.8v5.4h-1.8zM220.5 272.0h1.8v5.4h-1.8zM220.5 277.1h1.8v5.4h-1.8zM222.0 277.1h1.8v5.4h-1.8zM223.5 277.1h1.8v5.4h-1.8zM225.0 277.1h1.8v5.4h-1.8zM225.0 282.1h1.8v5.4h-1.8zM226.5 277.1h1.8v5.4h-1.8zM229.5 282.1h1.8v5.4h-1.8zM231.0 277.1h1.8v5.4h-1.8zM231.0 282.1h1.8v5.4h-1.8zM232.5 272.0h1.8v5.4h-1.8zM240.0 277.1h1.8v5.4h-1.8zM240.0 282.1h1.8v5.4h-1.8zM243.0 277.1h1.8v5.4h-1.8zM243.0 282.1h1.8v5.4h-1.8zM246.0 272.0h1.8v5.4h-1.8zM246.0 277.1h1.8v5.4h-1.8zM247.5 272.0h1.8v5.4h-1.8zM249.0 272.0h1.8v5.4h-1.8zM250.5 277.1h1.8v5.4h-1.8zM253.5 277.1h1.8v5.4h-1.8zM253.5 282.1h1.8v5.4h-1.8zM255.0 277.1h1.8v5.4h-1.8zM259.5 282.1h1.8v5.4h-1.8zM261.0 272.0h1.8v5.4h-1.8zM265.5 272.0h1.8v5.4h-1.8zM265.5 282.1h1.8v5.4h-1.8zM267.0 272.0h1.8v5.4h-1.8zM267.0 282.1h1.8v5.4h-1.8zM268.5 272.0h1.8v5.4h-1.8zM268.5 282.1h1.8v5.4h-1.8zM273.0 282.1h1.8v5.4h-1.8zM277.5 272.0h1.8v5.4h-1.8zM277.5 277.1h1.8v5.4h-1.8zM280.5 272.0h1.8v5.4h-1.8zM280.5 277.1h1.8v5.4h-1.8zM280.5 282.1h1.8v5.4h-1.8zM282.0 277.1h1.8v5.4h-1.8zM285.0 272.0h1.8v5.4h-1.8zM285.0 277.1h1.8v5.4h-1.8zM286.5 282.1h1.8v5.4h-1.8zM291.0 272.0h1.8v5.4h-1.8zM292.5 277.1h1.8v5.4h-1.8zM295.5 272.0h1.8v5.4h-1.8zM297.0 277.1h1.8v5.4h-1.8zM300.0 272.0h1.8v5.4h-1.8zM300.0 277.1h1.8v5.4h-1.8zM301.5 272.0h1.8v5.4h-1.8z"/><path fill="#ff2a00" d="M193.5 277.1h1.8v5.4h-1.8zM201.0 272.0h1.8v5.4h-1.8zM202.5 272.0h1.8v5.4h-1.8zM204.0 272.0h1.8v5.4h-1.8zM207.0 277.1h1.8v5.4h-1.8zM225.0 272.0h1.8v5.4h-1.8zM229.5 277.1h1.8v5.4h-1.8zM231.0 272.0h1.8v5.4h-1.8zM240.0 272.0h1.8v5.4h-1.8zM250.5 282.1h1.8v5.4h-1.8zM253.5 272.0h1.8v5.4h-1.8zM255.0 282.1h1.8v5.4h-1.8zM259.5 277.1h1.8v5.4h-1.8zM267.0 277.1h1.8v5.4h-1.8zM277.5 282.1h1.8v5.4h-1.8zM283.5 272.0h1.8v5.4h-1.8zM289.5 282.1h1.8v5.4h-1.8zM294.0 272.0h1.8v5.4h-1.8zM294.0 282.1h1.8v5.4h-1.8zM300.0 282.1h1.8v5.4h-1.8zM301.5 277.1h1.8v5.4h-1.8zM301.5 282.1h1.8v5.4h-1.8z"/><path fill="#ea0000" d="M193.5 282.1h1.8v5.4h-1.8z"/><path fill="#ff5500" d="M196.5 277.1h1.8v5.4h-1.8zM198.0 277.1h1.8v5.4h-1.8zM199.5 272.0h1.8v5.4h-1.8zM202.5 282.1h1.8v5.4h-1.8zM207.0 272.0h1.8v5.4h-1.8zM208.5 277.1h1.8v5.4h-1.8zM213.0 272.0h1.8v5.4h-1.8zM213.0 282.1h1.8v5.4h-1.8zM214.5 272.0h1.8v5.4h-1.8zM214.5 277.1h1.8v5.4h-1.8zM214.5 282.1h1.8v5.4h-1.8zM216.0 272.0h1.8v5.4h-1.8zM217.5 282.1h1.8v5.4h-1.8zM219.0 282.1h1.8v5.4h-1.8zM223.5 272.0h1.8v5.4h-1.8zM223.5 282.1h1.8v5.4h-1.8zM226.5 272.0h1.8v5.4h-1.8zM226.5 282.1h1.8v5.4h-1.8zM228.0 282.1h1.8v5.4h-1.8zM229.5 272.0h1.8v5.4h-1.8zM232.5 277.1h1.8v5.4h-1.8zM234.0 277.1h1.8v5.4h-1.8zM241.5 277.1h1.8v5.4h-1.8zM243.0 272.0h1.8v5.4h-1.8zM244.5 277.1h1.8v5.4h-1.8zM246.0 282.1h1.8v5.4h-1.8zM247.5 282.1h1.8v5.4h-1.8zM249.0 277.1h1.8v5.4h-1.8zM252.0 272.0h1.8v5.4h-1.8zM252.0 277.1h1.8v5.4h-1.8zM256.5 272.0h1.8v5.4h-1.8zM258.0 277.1h1.8v5.4h-1.8zM259.5 272.0h1.8v5.4h-1.8zM261.0 277.1h1.8v5.4h-1.8zM262.5 272.0h1.8v5.4h-1.8zM262.5 277.1h1.8v5.4h-1.8zM264.0 282.1h1.8v5.4h-1.8zM265.5 277.1h1.8v5.4h-1.8zM268.5 277.1h1.8v5.4h-1.8zM270.0 272.0h1.8v5.4h-1.8zM271.5 277.1h1.8v5.4h-1.8zM271.5 282.1h1.8v5.4h-1.8zM273.0 277.1h1.8v5.4h-1.8zM274.5 272.0h1.8v5.4h-1.8zM276.0 272.0h1.8v5.4h-1.8zM276.0 277.1h1.8v5.4h-1.8zM276.0 282.1h1.8v5.4h-1.8zM282.0 272.0h1.8v5.4h-1.8zM282.0 282.1h1.8v5.4h-1.8zM283.5 277.1h1.8v5.4h-1.8zM283.5 282.1h1.8v5.4h-1.8zM285.0 282.1h1.8v5.4h-1.8zM286.5 277.1h1.8v5.4h-1.8zM289.5 277.1h1.8v5.4h-1.8zM291.0 277.1h1.8v5.4h-1.8zM295.5 282.1h1.8v5.4h-1.8zM298.5 277.1h1.8v5.4h-1.8z"/><path fill="#ff0000" d="M198.0 272.0h1.8v5.4h-1.8z"/><path fill="#ff1500" d="M198.0 282.1h1.8v5.4h-1.8zM210.0 272.0h1.8v5.4h-1.8zM210.0 277.1h1.8v5.4h-1.8zM237.0 272.0h1.8v5.4h-1.8zM237.0 282.1h1.8v5.4h-1.8zM295.5 277.1h1.8v5.4h-1.8z"/><path fill="#bfff40" d="M303.0 272.0h1.8v5.4h-1.8zM303.0 277.1h1.8v5.4h-1.8z"/><path fill="#aaff55" d="M303.0 282.1h1.8v5.4h-1.8z"/><path fill="#800000" d="M304.5 272.0h1.8v5.4h-1.8zM304.5 277.1h1.8v5.4h-1.8zM304.5 282.1h1.8v5.4h-1.8zM306.0 277.1h1.8v5.4h-1.8zM306.0 282.1h1.8v5.4h-1.8zM307.5 282.1h0.8v5.4h-0.8z"/><path fill="#950000" d="M306.0 272.0h1.8v5.4h-1.8z"/><path fill="#aa0000" d="M307.5 272.0h0.8v5.4h-0.8z"/><path fill="#bf0000" d="M307.5 277.1h0.8v5.4h-0.8z"/></g>
<rect x="76.5" y="272" width="231.5" height="15.2" fill="none" stroke="#1a1010" stroke-width="1.3" />
<g filter="url(#sblur)"><path fill="#ff4000" d="M76.5 292.7h1.8v5.7h-1.8zM76.5 298.1h1.8v5.7h-1.8zM76.5 303.4h1.8v5.7h-1.8zM78.0 292.7h1.8v5.7h-1.8zM78.0 298.1h1.8v5.7h-1.8zM79.5 292.7h1.8v5.7h-1.8zM79.5 303.4h1.8v5.7h-1.8zM82.5 298.1h1.8v5.7h-1.8zM84.0 303.4h1.8v5.7h-1.8zM91.5 298.1h1.8v5.7h-1.8zM93.0 292.7h1.8v5.7h-1.8zM96.0 292.7h1.8v5.7h-1.8zM133.5 292.7h1.8v5.7h-1.8zM133.5 298.1h1.8v5.7h-1.8zM135.0 292.7h1.8v5.7h-1.8zM138.0 292.7h1.8v5.7h-1.8zM139.5 292.7h1.8v5.7h-1.8zM139.5 298.1h1.8v5.7h-1.8zM139.5 303.4h1.8v5.7h-1.8zM141.0 303.4h1.8v5.7h-1.8zM142.5 303.4h1.8v5.7h-1.8zM144.0 303.4h1.8v5.7h-1.8zM145.5 292.7h1.8v5.7h-1.8zM147.0 298.1h1.8v5.7h-1.8zM148.5 292.7h1.8v5.7h-1.8zM148.5 298.1h1.8v5.7h-1.8zM148.5 303.4h1.8v5.7h-1.8zM150.0 292.7h1.8v5.7h-1.8zM153.0 298.1h1.8v5.7h-1.8zM153.0 303.4h1.8v5.7h-1.8zM156.0 298.1h1.8v5.7h-1.8zM156.0 303.4h1.8v5.7h-1.8zM157.5 298.1h1.8v5.7h-1.8zM157.5 303.4h1.8v5.7h-1.8zM159.0 303.4h1.8v5.7h-1.8zM160.5 303.4h1.8v5.7h-1.8zM163.5 303.4h1.8v5.7h-1.8zM165.0 298.1h1.8v5.7h-1.8zM168.0 298.1h1.8v5.7h-1.8zM168.0 303.4h1.8v5.7h-1.8zM171.0 298.1h1.8v5.7h-1.8zM172.5 298.1h1.8v5.7h-1.8zM175.5 298.1h1.8v5.7h-1.8zM177.0 292.7h1.8v5.7h-1.8zM177.0 298.1h1.8v5.7h-1.8zM184.5 292.7h1.8v5.7h-1.8zM186.0 303.4h1.8v5.7h-1.8zM187.5 303.4h1.8v5.7h-1.8zM190.5 292.7h1.8v5.7h-1.8zM196.5 298.1h1.8v5.7h-1.8zM196.5 303.4h1.8v5.7h-1.8zM198.0 292.7h1.8v5.7h-1.8zM198.0 303.4h1.8v5.7h-1.8zM199.5 292.7h1.8v5.7h-1.8zM199.5 298.1h1.8v5.7h-1.8zM201.0 303.4h1.8v5.7h-1.8zM204.0 303.4h1.8v5.7h-1.8zM205.5 292.7h1.8v5.7h-1.8zM205.5 298.1h1.8v5.7h-1.8zM205.5 303.4h1.8v5.7h-1.8zM207.0 303.4h1.8v5.7h-1.8zM208.5 303.4h1.8v5.7h-1.8zM210.0 292.7h1.8v5.7h-1.8zM214.5 298.1h1.8v5.7h-1.8zM214.5 303.4h1.8v5.7h-1.8zM216.0 298.1h1.8v5.7h-1.8zM217.5 298.1h1.8v5.7h-1.8zM217.5 303.4h1.8v5.7h-1.8zM223.5 292.7h1.8v5.7h-1.8zM226.5 292.7h1.8v5.7h-1.8zM226.5 298.1h1.8v5.7h-1.8zM228.0 292.7h1.8v5.7h-1.8zM229.5 303.4h1.8v5.7h-1.8zM232.5 292.7h1.8v5.7h-1.8zM234.0 292.7h1.8v5.7h-1.8zM235.5 303.4h1.8v5.7h-1.8zM241.5 298.1h1.8v5.7h-1.8zM246.0 298.1h1.8v5.7h-1.8zM252.0 292.7h1.8v5.7h-1.8zM252.0 298.1h1.8v5.7h-1.8zM253.5 298.1h1.8v5.7h-1.8zM255.0 298.1h1.8v5.7h-1.8zM256.5 303.4h1.8v5.7h-1.8zM259.5 292.7h1.8v5.7h-1.8zM259.5 298.1h1.8v5.7h-1.8zM261.0 298.1h1.8v5.7h-1.8zM262.5 292.7h1.8v5.7h-1.8zM262.5 298.1h1.8v5.7h-1.8zM264.0 292.7h1.8v5.7h-1.8zM265.5 298.1h1.8v5.7h-1.8zM265.5 303.4h1.8v5.7h-1.8zM268.5 298.1h1.8v5.7h-1.8zM270.0 292.7h1.8v5.7h-1.8zM270.0 298.1h1.8v5.7h-1.8zM271.5 298.1h1.8v5.7h-1.8zM274.5 292.7h1.8v5.7h-1.8zM276.0 292.7h1.8v5.7h-1.8zM276.0 303.4h1.8v5.7h-1.8zM282.0 292.7h1.8v5.7h-1.8zM282.0 303.4h1.8v5.7h-1.8zM283.5 298.1h1.8v5.7h-1.8zM285.0 292.7h1.8v5.7h-1.8zM286.5 298.1h1.8v5.7h-1.8zM289.5 298.1h1.8v5.7h-1.8zM294.0 292.7h1.8v5.7h-1.8zM298.5 298.1h1.8v5.7h-1.8zM298.5 303.4h1.8v5.7h-1.8zM300.0 292.7h1.8v5.7h-1.8zM300.0 298.1h1.8v5.7h-1.8zM301.5 303.4h1.8v5.7h-1.8z"/><path fill="#ff5500" d="M78.0 303.4h1.8v5.7h-1.8zM79.5 298.1h1.8v5.7h-1.8zM81.0 303.4h1.8v5.7h-1.8zM84.0 292.7h1.8v5.7h-1.8zM84.0 298.1h1.8v5.7h-1.8zM87.0 303.4h1.8v5.7h-1.8zM90.0 292.7h1.8v5.7h-1.8zM90.0 298.1h1.8v5.7h-1.8zM91.5 292.7h1.8v5.7h-1.8zM91.5 303.4h1.8v5.7h-1.8zM93.0 298.1h1.8v5.7h-1.8zM94.5 292.7h1.8v5.7h-1.8zM94.5 303.4h1.8v5.7h-1.8zM135.0 303.4h1.8v5.7h-1.8zM136.5 303.4h1.8v5.7h-1.8zM138.0 303.4h1.8v5.7h-1.8zM141.0 298.1h1.8v5.7h-1.8zM145.5 298.1h1.8v5.7h-1.8zM145.5 303.4h1.8v5.7h-1.8zM151.5 298.1h1.8v5.7h-1.8zM153.0 292.7h1.8v5.7h-1.8zM154.5 298.1h1.8v5.7h-1.8zM154.5 303.4h1.8v5.7h-1.8zM156.0 292.7h1.8v5.7h-1.8zM157.5 292.7h1.8v5.7h-1.8zM159.0 298.1h1.8v5.7h-1.8zM162.0 292.7h1.8v5.7h-1.8zM165.0 292.7h1.8v5.7h-1.8zM166.5 292.7h1.8v5.7h-1.8zM169.5 298.1h1.8v5.7h-1.8zM174.0 292.7h1.8v5.7h-1.8zM174.0 303.4h1.8v5.7h-1.8zM180.0 303.4h1.8v5.7h-1.8zM183.0 292.7h1.8v5.7h-1.8zM184.5 298.1h1.8v5.7h-1.8zM184.5 303.4h1.8v5.7h-1.8zM186.0 298.1h1.8v5.7h-1.8zM189.0 298.1h1.8v5.7h-1.8zM190.5 298.1h1.8v5.7h-1.8zM190.5 303.4h1.8v5.7h-1.8zM193.5 298.1h1.8v5.7h-1.8zM196.5 292.7h1.8v5.7h-1.8zM201.0 298.1h1.8v5.7h-1.8zM202.5 298.1h1.8v5.7h-1.8zM202.5 303.4h1.8v5.7h-1.8zM207.0 292.7h1.8v5.7h-1.8zM207.0 298.1h1.8v5.7h-1.8zM214.5 292.7h1.8v5.7h-1.8zM217.5 292.7h1.8v5.7h-1.8zM219.0 303.4h1.8v5.7h-1.8zM220.5 298.1h1.8v5.7h-1.8zM220.5 303.4h1.8v5.7h-1.8zM225.0 298.1h1.8v5.7h-1.8zM225.0 303.4h1.8v5.7h-1.8zM228.0 303.4h1.8v5.7h-1.8zM234.0 298.1h1.8v5.7h-1.8zM234.0 303.4h1.8v5.7h-1.8zM237.0 292.7h1.8v5.7h-1.8zM237.0 298.1h1.8v5.7h-1.8zM238.5 292.7h1.8v5.7h-1.8zM241.5 303.4h1.8v5.7h-1.8zM246.0 303.4h1.8v5.7h-1.8zM247.5 303.4h1.8v5.7h-1.8zM249.0 292.7h1.8v5.7h-1.8zM249.0 298.1h1.8v5.7h-1.8zM250.5 292.7h1.8v5.7h-1.8zM252.0 303.4h1.8v5.7h-1.8zM253.5 292.7h1.8v5.7h-1.8zM253.5 303.4h1.8v5.7h-1.8zM255.0 303.4h1.8v5.7h-1.8zM256.5 292.7h1.8v5.7h-1.8zM258.0 292.7h1.8v5.7h-1.8zM258.0 298.1h1.8v5.7h-1.8zM258.0 303.4h1.8v5.7h-1.8zM259.5 303.4h1.8v5.7h-1.8zM261.0 303.4h1.8v5.7h-1.8zM264.0 298.1h1.8v5.7h-1.8zM264.0 303.4h1.8v5.7h-1.8zM265.5 292.7h1.8v5.7h-1.8zM268.5 292.7h1.8v5.7h-1.8zM268.5 303.4h1.8v5.7h-1.8zM273.0 292.7h1.8v5.7h-1.8zM273.0 303.4h1.8v5.7h-1.8zM274.5 298.1h1.8v5.7h-1.8zM279.0 303.4h1.8v5.7h-1.8zM283.5 292.7h1.8v5.7h-1.8zM286.5 303.4h1.8v5.7h-1.8zM288.0 292.7h1.8v5.7h-1.8zM289.5 292.7h1.8v5.7h-1.8zM289.5 303.4h1.8v5.7h-1.8zM291.0 303.4h1.8v5.7h-1.8zM292.5 298.1h1.8v5.7h-1.8zM294.0 303.4h1.8v5.7h-1.8zM295.5 303.4h1.8v5.7h-1.8zM300.0 303.4h1.8v5.7h-1.8zM301.5 298.1h1.8v5.7h-1.8z"/><path fill="#ff8000" d="M81.0 292.7h1.8v5.7h-1.8zM88.5 292.7h1.8v5.7h-1.8zM142.5 298.1h1.8v5.7h-1.8zM165.0 303.4h1.8v5.7h-1.8zM166.5 303.4h1.8v5.7h-1.8zM169.5 292.7h1.8v5.7h-1.8zM178.5 292.7h1.8v5.7h-1.8zM178.5 298.1h1.8v5.7h-1.8zM189.0 292.7h1.8v5.7h-1.8zM193.5 292.7h1.8v5.7h-1.8zM198.0 298.1h1.8v5.7h-1.8zM202.5 292.7h1.8v5.7h-1.8zM204.0 292.7h1.8v5.7h-1.8zM213.0 292.7h1.8v5.7h-1.8zM219.0 292.7h1.8v5.7h-1.8zM222.0 303.4h1.8v5.7h-1.8zM229.5 298.1h1.8v5.7h-1.8zM231.0 298.1h1.8v5.7h-1.8zM235.5 298.1h1.8v5.7h-1.8zM237.0 303.4h1.8v5.7h-1.8zM243.0 298.1h1.8v5.7h-1.8zM244.5 292.7h1.8v5.7h-1.8zM244.5 298.1h1.8v5.7h-1.8zM244.5 303.4h1.8v5.7h-1.8zM250.5 298.1h1.8v5.7h-1.8zM285.0 298.1h1.8v5.7h-1.8zM288.0 303.4h1.8v5.7h-1.8zM292.5 292.7h1.8v5.7h-1.8zM297.0 292.7h1.8v5.7h-1.8zM297.0 298.1h1.8v5.7h-1.8zM297.0 303.4h1.8v5.7h-1.8z"/><path fill="#ff9500" d="M81.0 298.1h1.8v5.7h-1.8zM142.5 292.7h1.8v5.7h-1.8zM144.0 292.7h1.8v5.7h-1.8zM151.5 292.7h1.8v5.7h-1.8zM151.5 303.4h1.8v5.7h-1.8zM211.5 298.1h1.8v5.7h-1.8zM213.0 298.1h1.8v5.7h-1.8zM279.0 298.1h1.8v5.7h-1.8z"/><path fill="#ff2a00" d="M82.5 292.7h1.8v5.7h-1.8zM82.5 303.4h1.8v5.7h-1.8zM87.0 298.1h1.8v5.7h-1.8zM90.0 303.4h1.8v5.7h-1.8zM96.0 298.1h1.8v5.7h-1.8zM141.0 292.7h1.8v5.7h-1.8zM147.0 292.7h1.8v5.7h-1.8zM147.0 303.4h1.8v5.7h-1.8zM159.0 292.7h1.8v5.7h-1.8zM162.0 298.1h1.8v5.7h-1.8zM163.5 292.7h1.8v5.7h-1.8zM163.5 298.1h1.8v5.7h-1.8zM171.0 292.7h1.8v5.7h-1.8zM172.5 292.7h1.8v5.7h-1.8zM172.5 303.4h1.8v5.7h-1.8zM175.5 303.4h1.8v5.7h-1.8zM177.0 303.4h1.8v5.7h-1.8zM178.5 303.4h1.8v5.7h-1.8zM181.5 298.1h1.8v5.7h-1.8zM181.5 303.4h1.8v5.7h-1.8zM183.0 303.4h1.8v5.7h-1.8zM187.5 292.7h1.8v5.7h-1.8zM187.5 298.1h1.8v5.7h-1.8zM189.0 303.4h1.8v5.7h-1.8zM201.0 292.7h1.8v5.7h-1.8zM208.5 298.1h1.8v5.7h-1.8zM210.0 298.1h1.8v5.7h-1.8zM216.0 292.7h1.8v5.7h-1.8zM216.0 303.4h1.8v5.7h-1.8zM220.5 292.7h1.8v5.7h-1.8zM223.5 298.1h1.8v5.7h-1.8zM225.0 292.7h1.8v5.7h-1.8zM226.5 303.4h1.8v5.7h-1.8zM232.5 298.1h1.8v5.7h-1.8zM232.5 303.4h1.8v5.7h-1.8zM238.5 298.1h1.8v5.7h-1.8zM240.0 303.4h1.8v5.7h-1.8zM246.0 292.7h1.8v5.7h-1.8zM255.0 292.7h1.8v5.7h-1.8zM262.5 303.4h1.8v5.7h-1.8zM267.0 292.7h1.8v5.7h-1.8zM267.0 298.1h1.8v5.7h-1.8zM267.0 303.4h1.8v5.7h-1.8zM273.0 298.1h1.8v5.7h-1.8zM276.0 298.1h1.8v5.7h-1.8zM277.5 303.4h1.8v5.7h-1.8zM282.0 298.1h1.8v5.7h-1.8zM283.5 303.4h1.8v5.7h-1.8zM285.0 303.4h1.8v5.7h-1.8zM286.5 292.7h1.8v5.7h-1.8zM301.5 292.7h1.8v5.7h-1.8z"/><path fill="#ff6a00" d="M85.5 292.7h1.8v5.7h-1.8zM85.5 298.1h1.8v5.7h-1.8zM85.5 303.4h1.8v5.7h-1.8zM87.0 292.7h1.8v5.7h-1.8zM88.5 298.1h1.8v5.7h-1.8zM88.5 303.4h1.8v5.7h-1.8zM93.0 303.4h1.8v5.7h-1.8zM94.5 298.1h1.8v5.7h-1.8zM133.5 303.4h1.8v5.7h-1.8zM135.0 298.1h1.8v5.7h-1.8zM136.5 292.7h1.8v5.7h-1.8zM136.5 298.1h1.8v5.7h-1.8zM138.0 298.1h1.8v5.7h-1.8zM144.0 298.1h1.8v5.7h-1.8zM150.0 298.1h1.8v5.7h-1.8zM150.0 303.4h1.8v5.7h-1.8zM154.5 292.7h1.8v5.7h-1.8zM160.5 292.7h1.8v5.7h-1.8zM160.5 298.1h1.8v5.7h-1.8zM162.0 303.4h1.8v5.7h-1.8zM166.5 298.1h1.8v5.7h-1.8zM168.0 292.7h1.8v5.7h-1.8zM169.5 303.4h1.8v5.7h-1.8zM174.0 298.1h1.8v5.7h-1.8zM175.5 292.7h1.8v5.7h-1.8zM180.0 292.7h1.8v5.7h-1.8zM180.0 298.1h1.8v5.7h-1.8zM183.0 298.1h1.8v5.7h-1.8zM186.0 292.7h1.8v5.7h-1.8zM193.5 303.4h1.8v5.7h-1.8zM195.0 292.7h1.8v5.7h-1.8zM195.0 298.1h1.8v5.7h-1.8zM195.0 303.4h1.8v5.7h-1.8zM199.5 303.4h1.8v5.7h-1.8zM204.0 298.1h1.8v5.7h-1.8zM208.5 292.7h1.8v5.7h-1.8zM211.5 292.7h1.8v5.7h-1.8zM213.0 303.4h1.8v5.7h-1.8zM219.0 298.1h1.8v5.7h-1.8zM222.0 292.7h1.8v5.7h-1.8zM222.0 298.1h1.8v5.7h-1.8zM223.5 303.4h1.8v5.7h-1.8zM228.0 298.1h1.8v5.7h-1.8zM229.5 292.7h1.8v5.7h-1.8zM231.0 292.7h1.8v5.7h-1.8zM231.0 303.4h1.8v5.7h-1.8zM235.5 292.7h1.8v5.7h-1.8zM240.0 292.7h1.8v5.7h-1.8zM240.0 298.1h1.8v5.7h-1.8zM241.5 292.7h1.8v5.7h-1.8zM243.0 292.7h1.8v5.7h-1.8zM243.0 303.4h1.8v5.7h-1.8zM247.5 292.7h1.8v5.7h-1.8zM247.5 298.1h1.8v5.7h-1.8zM249.0 303.4h1.8v5.7h-1.8zM250.5 303.4h1.8v5.7h-1.8zM256.5 298.1h1.8v5.7h-1.8zM261.0 292.7h1.8v5.7h-1.8zM270.0 303.4h1.8v5.7h-1.8zM274.5 303.4h1.8v5.7h-1.8zM277.5 292.7h1.8v5.7h-1.8zM277.5 298.1h1.8v5.7h-1.8zM279.0 292.7h1.8v5.7h-1.8zM288.0 298.1h1.8v5.7h-1.8zM291.0 292.7h1.8v5.7h-1.8zM291.0 298.1h1.8v5.7h-1.8zM292.5 303.4h1.8v5.7h-1.8zM294.0 298.1h1.8v5.7h-1.8zM295.5 292.7h1.8v5.7h-1.8zM295.5 298.1h1.8v5.7h-1.8zM298.5 292.7h1.8v5.7h-1.8z"/><path fill="#ff1500" d="M96.0 303.4h1.8v5.7h-1.8zM171.0 303.4h1.8v5.7h-1.8zM181.5 292.7h1.8v5.7h-1.8zM192.0 292.7h1.8v5.7h-1.8zM192.0 303.4h1.8v5.7h-1.8zM210.0 303.4h1.8v5.7h-1.8zM238.5 303.4h1.8v5.7h-1.8zM271.5 292.7h1.8v5.7h-1.8zM271.5 303.4h1.8v5.7h-1.8zM280.5 292.7h1.8v5.7h-1.8zM280.5 303.4h1.8v5.7h-1.8z"/><path fill="#00bfff" d="M97.5 292.7h1.8v5.7h-1.8zM97.5 298.1h1.8v5.7h-1.8z"/><path fill="#00d4ff" d="M97.5 303.4h1.8v5.7h-1.8zM100.5 292.7h1.8v5.7h-1.8zM102.0 292.7h1.8v5.7h-1.8z"/><path fill="#00aaff" d="M99.0 292.7h1.8v5.7h-1.8zM99.0 298.1h1.8v5.7h-1.8z"/><path fill="#0095ff" d="M99.0 303.4h1.8v5.7h-1.8z"/><path fill="#00eaff" d="M100.5 298.1h1.8v5.7h-1.8zM100.5 303.4h1.8v5.7h-1.8zM102.0 298.1h1.8v5.7h-1.8zM102.0 303.4h1.8v5.7h-1.8z"/><path fill="#15ffea" d="M103.5 292.7h1.8v5.7h-1.8zM103.5 298.1h1.8v5.7h-1.8zM105.0 303.4h1.8v5.7h-1.8zM114.0 292.7h1.8v5.7h-1.8zM114.0 298.1h1.8v5.7h-1.8zM114.0 303.4h1.8v5.7h-1.8zM130.5 298.1h1.8v5.7h-1.8zM130.5 303.4h1.8v5.7h-1.8z"/><path fill="#00ffff" d="M103.5 303.4h1.8v5.7h-1.8zM105.0 292.7h1.8v5.7h-1.8zM105.0 298.1h1.8v5.7h-1.8zM130.5 292.7h1.8v5.7h-1.8z"/><path fill="#6aff95" d="M106.5 292.7h1.8v5.7h-1.8zM106.5 298.1h1.8v5.7h-1.8zM106.5 303.4h1.8v5.7h-1.8zM108.0 298.1h1.8v5.7h-1.8zM108.0 303.4h1.8v5.7h-1.8zM109.5 303.4h1.8v5.7h-1.8zM112.5 298.1h1.8v5.7h-1.8zM112.5 303.4h1.8v5.7h-1.8zM117.0 303.4h1.8v5.7h-1.8zM120.0 298.1h1.8v5.7h-1.8zM120.0 303.4h1.8v5.7h-1.8zM121.5 298.1h1.8v5.7h-1.8zM121.5 303.4h1.8v5.7h-1.8zM123.0 292.7h1.8v5.7h-1.8zM127.5 292.7h1.8v5.7h-1.8zM127.5 298.1h1.8v5.7h-1.8zM127.5 303.4h1.8v5.7h-1.8zM129.0 292.7h1.8v5.7h-1.8zM129.0 303.4h1.8v5.7h-1.8z"/><path fill="#55ffaa" d="M108.0 292.7h1.8v5.7h-1.8zM109.5 292.7h1.8v5.7h-1.8zM111.0 292.7h1.8v5.7h-1.8zM111.0 298.1h1.8v5.7h-1.8zM115.5 292.7h1.8v5.7h-1.8zM115.5 298.1h1.8v5.7h-1.8zM115.5 303.4h1.8v5.7h-1.8zM117.0 292.7h1.8v5.7h-1.8zM117.0 298.1h1.8v5.7h-1.8zM118.5 292.7h1.8v5.7h-1.8zM118.5 303.4h1.8v5.7h-1.8zM123.0 303.4h1.8v5.7h-1.8zM129.0 298.1h1.8v5.7h-1.8z"/><path fill="#80ff80" d="M109.5 298.1h1.8v5.7h-1.8zM112.5 292.7h1.8v5.7h-1.8zM120.0 292.7h1.8v5.7h-1.8zM121.5 292.7h1.8v5.7h-1.8zM123.0 298.1h1.8v5.7h-1.8zM126.0 292.7h1.8v5.7h-1.8zM126.0 298.1h1.8v5.7h-1.8zM126.0 303.4h1.8v5.7h-1.8z"/><path fill="#40ffbf" d="M111.0 303.4h1.8v5.7h-1.8zM118.5 298.1h1.8v5.7h-1.8zM124.5 292.7h1.8v5.7h-1.8zM124.5 298.1h1.8v5.7h-1.8zM124.5 303.4h1.8v5.7h-1.8zM132.0 292.7h1.8v5.7h-1.8zM132.0 298.1h1.8v5.7h-1.8zM132.0 303.4h1.8v5.7h-1.8z"/><path fill="#ff0000" d="M192.0 298.1h1.8v5.7h-1.8zM280.5 298.1h1.8v5.7h-1.8z"/><path fill="#ffaa00" d="M211.5 303.4h1.8v5.7h-1.8z"/><path fill="#eaff15" d="M303.0 292.7h1.8v5.7h-1.8zM303.0 298.1h1.8v5.7h-1.8zM303.0 303.4h1.8v5.7h-1.8z"/><path fill="#bf0000" d="M304.5 292.7h1.8v5.7h-1.8z"/><path fill="#aa0000" d="M304.5 298.1h1.8v5.7h-1.8zM304.5 303.4h1.8v5.7h-1.8zM306.0 292.7h1.8v5.7h-1.8z"/><path fill="#950000" d="M306.0 298.1h1.8v5.7h-1.8zM307.5 298.1h0.8v5.7h-0.8zM307.5 303.4h0.8v5.7h-0.8z"/><path fill="#d50000" d="M306.0 303.4h1.8v5.7h-1.8z"/><path fill="#800000" d="M307.5 292.7h0.8v5.7h-0.8z"/></g>
<rect x="76.5" y="292.7" width="231.5" height="16.1" fill="none" stroke="#1a1010" stroke-width="1.3" />
<g filter="url(#sblur)"><path fill="#ff6a00" d="M76.5 314.0h1.8v5.4h-1.8zM79.5 324.1h1.8v5.4h-1.8zM81.0 324.1h1.8v5.4h-1.8zM87.0 314.0h1.8v5.4h-1.8zM87.0 324.1h1.8v5.4h-1.8zM88.5 314.0h1.8v5.4h-1.8zM88.5 319.1h1.8v5.4h-1.8zM91.5 324.1h1.8v5.4h-1.8zM99.0 319.1h1.8v5.4h-1.8zM99.0 324.1h1.8v5.4h-1.8zM132.0 324.1h1.8v5.4h-1.8zM139.5 314.0h1.8v5.4h-1.8zM139.5 319.1h1.8v5.4h-1.8zM139.5 324.1h1.8v5.4h-1.8zM141.0 319.1h1.8v5.4h-1.8zM145.5 314.0h1.8v5.4h-1.8zM145.5 319.1h1.8v5.4h-1.8zM145.5 324.1h1.8v5.4h-1.8zM148.5 314.0h1.8v5.4h-1.8zM151.5 319.1h1.8v5.4h-1.8zM153.0 314.0h1.8v5.4h-1.8zM153.0 324.1h1.8v5.4h-1.8zM157.5 319.1h1.8v5.4h-1.8zM162.0 314.0h1.8v5.4h-1.8zM163.5 324.1h1.8v5.4h-1.8zM165.0 319.1h1.8v5.4h-1.8zM171.0 314.0h1.8v5.4h-1.8zM171.0 324.1h1.8v5.4h-1.8zM174.0 319.1h1.8v5.4h-1.8zM178.5 314.0h1.8v5.4h-1.8zM180.0 314.0h1.8v5.4h-1.8zM180.0 319.1h1.8v5.4h-1.8zM180.0 324.1h1.8v5.4h-1.8zM181.5 319.1h1.8v5.4h-1.8zM183.0 324.1h1.8v5.4h-1.8zM187.5 324.1h1.8v5.4h-1.8zM190.5 314.0h1.8v5.4h-1.8zM190.5 324.1h1.8v5.4h-1.8zM192.0 319.1h1.8v5.4h-1.8zM195.0 324.1h1.8v5.4h-1.8zM196.5 324.1h1.8v5.4h-1.8zM199.5 314.0h1.8v5.4h-1.8zM204.0 314.0h1.8v5.4h-1.8zM214.5 319.1h1.8v5.4h-1.8zM217.5 314.0h1.8v5.4h-1.8zM217.5 324.1h1.8v5.4h-1.8zM219.0 314.0h1.8v5.4h-1.8zM223.5 314.0h1.8v5.4h-1.8zM223.5 324.1h1.8v5.4h-1.8zM229.5 319.1h1.8v5.4h-1.8zM231.0 314.0h1.8v5.4h-1.8zM232.5 314.0h1.8v5.4h-1.8zM232.5 319.1h1.8v5.4h-1.8zM243.0 314.0h1.8v5.4h-1.8zM243.0 319.1h1.8v5.4h-1.8zM243.0 324.1h1.8v5.4h-1.8zM249.0 314.0h1.8v5.4h-1.8zM249.0 319.1h1.8v5.4h-1.8zM249.0 324.1h1.8v5.4h-1.8zM250.5 314.0h1.8v5.4h-1.8zM256.5 319.1h1.8v5.4h-1.8zM256.5 324.1h1.8v5.4h-1.8zM259.5 314.0h1.8v5.4h-1.8zM261.0 319.1h1.8v5.4h-1.8zM262.5 319.1h1.8v5.4h-1.8zM267.0 324.1h1.8v5.4h-1.8zM268.5 324.1h1.8v5.4h-1.8zM270.0 324.1h1.8v5.4h-1.8zM271.5 314.0h1.8v5.4h-1.8zM274.5 324.1h1.8v5.4h-1.8zM277.5 319.1h1.8v5.4h-1.8zM277.5 324.1h1.8v5.4h-1.8zM282.0 314.0h1.8v5.4h-1.8zM283.5 314.0h1.8v5.4h-1.8zM298.5 324.1h1.8v5.4h-1.8z"/><path fill="#ff1500" d="M76.5 319.1h1.8v5.4h-1.8zM78.0 319.1h1.8v5.4h-1.8zM84.0 319.1h1.8v5.4h-1.8zM84.0 324.1h1.8v5.4h-1.8zM135.0 319.1h1.8v5.4h-1.8zM160.5 324.1h1.8v5.4h-1.8zM205.5 319.1h1.8v5.4h-1.8zM225.0 314.0h1.8v5.4h-1.8zM237.0 314.0h1.8v5.4h-1.8zM237.0 319.1h1.8v5.4h-1.8zM241.5 319.1h1.8v5.4h-1.8zM252.0 314.0h1.8v5.4h-1.8zM258.0 319.1h1.8v5.4h-1.8z"/><path fill="#ff2a00" d="M76.5 324.1h1.8v5.4h-1.8zM78.0 314.0h1.8v5.4h-1.8zM84.0 314.0h1.8v5.4h-1.8zM85.5 314.0h1.8v5.4h-1.8zM85.5 324.1h1.8v5.4h-1.8zM90.0 324.1h1.8v5.4h-1.8zM94.5 314.0h1.8v5.4h-1.8zM97.5 314.0h1.8v5.4h-1.8zM142.5 314.0h1.8v5.4h-1.8zM142.5 324.1h1.8v5.4h-1.8zM144.0 314.0h1.8v5.4h-1.8zM147.0 319.1h1.8v5.4h-1.8zM154.5 319.1h1.8v5.4h-1.8zM174.0 324.1h1.8v5.4h-1.8zM175.5 314.0h1.8v5.4h-1.8zM186.0 324.1h1.8v5.4h-1.8zM193.5 319.1h1.8v5.4h-1.8zM199.5 319.1h1.8v5.4h-1.8zM205.5 324.1h1.8v5.4h-1.8zM208.5 319.1h1.8v5.4h-1.8zM210.0 324.1h1.8v5.4h-1.8zM211.5 314.0h1.8v5.4h-1.8zM219.0 324.1h1.8v5.4h-1.8zM222.0 314.0h1.8v5.4h-1.8zM225.0 324.1h1.8v5.4h-1.8zM226.5 319.1h1.8v5.4h-1.8zM226.5 324.1h1.8v5.4h-1.8zM228.0 314.0h1.8v5.4h-1.8zM231.0 319.1h1.8v5.4h-1.8zM235.5 314.0h1.8v5.4h-1.8zM237.0 324.1h1.8v5.4h-1.8zM240.0 319.1h1.8v5.4h-1.8zM241.5 324.1h1.8v5.4h-1.8zM246.0 324.1h1.8v5.4h-1.8zM255.0 319.1h1.8v5.4h-1.8zM258.0 314.0h1.8v5.4h-1.8zM258.0 324.1h1.8v5.4h-1.8zM262.5 324.1h1.8v5.4h-1.8zM264.0 314.0h1.8v5.4h-1.8zM264.0 324.1h1.8v5.4h-1.8zM265.5 319.1h1.8v5.4h-1.8zM268.5 314.0h1.8v5.4h-1.8zM274.5 314.0h1.8v5.4h-1.8zM274.5 319.1h1.8v5.4h-1.8zM280.5 319.1h1.8v5.4h-1.8zM285.0 314.0h1.8v5.4h-1.8zM288.0 314.0h1.8v5.4h-1.8zM288.0 324.1h1.8v5.4h-1.8zM295.5 314.0h1.8v5.4h-1.8zM298.5 319.1h1.8v5.4h-1.8zM300.0 314.0h1.8v5.4h-1.8z"/><path fill="#ff4000" d="M78.0 324.1h1.8v5.4h-1.8zM81.0 314.0h1.8v5.4h-1.8zM81.0 319.1h1.8v5.4h-1.8zM82.5 319.1h1.8v5.4h-1.8zM88.5 324.1h1.8v5.4h-1.8zM90.0 314.0h1.8v5.4h-1.8zM93.0 314.0h1.8v5.4h-1.8zM93.0 319.1h1.8v5.4h-1.8zM94.5 319.1h1.8v5.4h-1.8zM94.5 324.1h1.8v5.4h-1.8zM96.0 314.0h1.8v5.4h-1.8zM96.0 319.1h1.8v5.4h-1.8zM96.0 324.1h1.8v5.4h-1.8zM130.5 314.0h1.8v5.4h-1.8zM130.5 319.1h1.8v5.4h-1.8zM133.5 314.0h1.8v5.4h-1.8zM138.0 314.0h1.8v5.4h-1.8zM138.0 324.1h1.8v5.4h-1.8zM144.0 319.1h1.8v5.4h-1.8zM154.5 324.1h1.8v5.4h-1.8zM156.0 314.0h1.8v5.4h-1.8zM156.0 319.1h1.8v5.4h-1.8zM156.0 324.1h1.8v5.4h-1.8zM157.5 314.0h1.8v5.4h-1.8zM157.5 324.1h1.8v5.4h-1.8zM159.0 319.1h1.8v5.4h-1.8zM159.0 324.1h1.8v5.4h-1.8zM160.5 319.1h1.8v5.4h-1.8zM162.0 319.1h1.8v5.4h-1.8zM168.0 314.0h1.8v5.4h-1.8zM168.0 319.1h1.8v5.4h-1.8zM168.0 324.1h1.8v5.4h-1.8zM171.0 319.1h1.8v5.4h-1.8zM172.5 324.1h1.8v5.4h-1.8zM186.0 314.0h1.8v5.4h-1.8zM186.0 319.1h1.8v5.4h-1.8zM187.5 319.1h1.8v5.4h-1.8zM189.0 324.1h1.8v5.4h-1.8zM192.0 324.1h1.8v5.4h-1.8zM193.5 314.0h1.8v5.4h-1.8zM195.0 314.0h1.8v5.4h-1.8zM198.0 319.1h1.8v5.4h-1.8zM198.0 324.1h1.8v5.4h-1.8zM199.5 324.1h1.8v5.4h-1.8zM202.5 319.1h1.8v5.4h-1.8zM205.5 314.0h1.8v5.4h-1.8zM207.0 324.1h1.8v5.4h-1.8zM208.5 314.0h1.8v5.4h-1.8zM208.5 324.1h1.8v5.4h-1.8zM210.0 314.0h1.8v5.4h-1.8zM210.0 319.1h1.8v5.4h-1.8zM213.0 314.0h1.8v5.4h-1.8zM213.0 319.1h1.8v5.4h-1.8zM216.0 319.1h1.8v5.4h-1.8zM219.0 319.1h1.8v5.4h-1.8zM222.0 324.1h1.8v5.4h-1.8zM225.0 319.1h1.8v5.4h-1.8zM226.5 314.0h1.8v5.4h-1.8zM228.0 319.1h1.8v5.4h-1.8zM228.0 324.1h1.8v5.4h-1.8zM235.5 324.1h1.8v5.4h-1.8zM238.5 314.0h1.8v5.4h-1.8zM238.5 319.1h1.8v5.4h-1.8zM240.0 314.0h1.8v5.4h-1.8zM241.5 314.0h1.8v5.4h-1.8zM244.5 324.1h1.8v5.4h-1.8zM246.0 319.1h1.8v5.4h-1.8zM253.5 314.0h1.8v5.4h-1.8zM253.5 319.1h1.8v5.4h-1.8zM253.5 324.1h1.8v5.4h-1.8zM255.0 314.0h1.8v5.4h-1.8zM261.0 324.1h1.8v5.4h-1.8zM264.0 319.1h1.8v5.4h-1.8zM265.5 324.1h1.8v5.4h-1.8zM267.0 314.0h1.8v5.4h-1.8zM270.0 314.0h1.8v5.4h-1.8zM270.0 319.1h1.8v5.4h-1.8zM273.0 314.0h1.8v5.4h-1.8zM273.0 324.1h1.8v5.4h-1.8zM276.0 314.0h1.8v5.4h-1.8zM276.0 324.1h1.8v5.4h-1.8zM277.5 314.0h1.8v5.4h-1.8zM279.0 319.1h1.8v5.4h-1.8zM283.5 324.1h1.8v5.4h-1.8zM285.0 319.1h1.8v5.4h-1.8zM285.0 324.1h1.8v5.4h-1.8zM286.5 314.0h1.8v5.4h-1.8zM288.0 319.1h1.8v5.4h-1.8zM289.5 319.1h1.8v5.4h-1.8zM289.5 324.1h1.8v5.4h-1.8zM292.5 314.0h1.8v5.4h-1.8zM292.5 319.1h1.8v5.4h-1.8zM292.5 324.1h1.8v5.4h-1.8zM294.0 319.1h1.8v5.4h-1.8zM294.0 324.1h1.8v5.4h-1.8zM295.5 319.1h1.8v5.4h-1.8zM297.0 319.1h1.8v5.4h-1.8zM300.0 319.1h1.8v5.4h-1.8zM300.0 324.1h1.8v5.4h-1.8zM301.5 319.1h1.8v5.4h-1.8zM301.5 324.1h1.8v5.4h-1.8z"/><path fill="#ff5500" d="M79.5 314.0h1.8v5.4h-1.8zM79.5 319.1h1.8v5.4h-1.8zM82.5 324.1h1.8v5.4h-1.8zM85.5 319.1h1.8v5.4h-1.8zM87.0 319.1h1.8v5.4h-1.8zM90.0 319.1h1.8v5.4h-1.8zM93.0 324.1h1.8v5.4h-1.8zM97.5 319.1h1.8v5.4h-1.8zM97.5 324.1h1.8v5.4h-1.8zM99.0 314.0h1.8v5.4h-1.8zM130.5 324.1h1.8v5.4h-1.8zM132.0 314.0h1.8v5.4h-1.8zM132.0 319.1h1.8v5.4h-1.8zM133.5 319.1h1.8v5.4h-1.8zM133.5 324.1h1.8v5.4h-1.8zM141.0 314.0h1.8v5.4h-1.8zM141.0 324.1h1.8v5.4h-1.8zM144.0 324.1h1.8v5.4h-1.8zM147.0 314.0h1.8v5.4h-1.8zM147.0 324.1h1.8v5.4h-1.8zM148.5 319.1h1.8v5.4h-1.8zM151.5 314.0h1.8v5.4h-1.8zM151.5 324.1h1.8v5.4h-1.8zM153.0 319.1h1.8v5.4h-1.8zM154.5 314.0h1.8v5.4h-1.8zM159.0 314.0h1.8v5.4h-1.8zM160.5 314.0h1.8v5.4h-1.8zM162.0 324.1h1.8v5.4h-1.8zM163.5 314.0h1.8v5.4h-1.8zM163.5 319.1h1.8v5.4h-1.8zM165.0 314.0h1.8v5.4h-1.8zM165.0 324.1h1.8v5.4h-1.8zM166.5 314.0h1.8v5.4h-1.8zM166.5 319.1h1.8v5.4h-1.8zM169.5 314.0h1.8v5.4h-1.8zM169.5 319.1h1.8v5.4h-1.8zM169.5 324.1h1.8v5.4h-1.8zM172.5 314.0h1.8v5.4h-1.8zM172.5 319.1h1.8v5.4h-1.8zM175.5 319.1h1.8v5.4h-1.8zM178.5 319.1h1.8v5.4h-1.8zM181.5 314.0h1.8v5.4h-1.8zM183.0 314.0h1.8v5.4h-1.8zM183.0 319.1h1.8v5.4h-1.8zM184.5 314.0h1.8v5.4h-1.8zM184.5 319.1h1.8v5.4h-1.8zM184.5 324.1h1.8v5.4h-1.8zM187.5 314.0h1.8v5.4h-1.8zM189.0 314.0h1.8v5.4h-1.8zM189.0 319.1h1.8v5.4h-1.8zM190.5 319.1h1.8v5.4h-1.8zM192.0 314.0h1.8v5.4h-1.8zM193.5 324.1h1.8v5.4h-1.8zM196.5 314.0h1.8v5.4h-1.8zM196.5 319.1h1.8v5.4h-1.8zM202.5 314.0h1.8v5.4h-1.8zM202.5 324.1h1.8v5.4h-1.8zM204.0 319.1h1.8v5.4h-1.8zM204.0 324.1h1.8v5.4h-1.8zM207.0 314.0h1.8v5.4h-1.8zM207.0 319.1h1.8v5.4h-1.8zM211.5 319.1h1.8v5.4h-1.8zM211.5 324.1h1.8v5.4h-1.8zM213.0 324.1h1.8v5.4h-1.8zM214.5 324.1h1.8v5.4h-1.8zM216.0 314.0h1.8v5.4h-1.8zM216.0 324.1h1.8v5.4h-1.8zM217.5 319.1h1.8v5.4h-1.8zM220.5 324.1h1.8v5.4h-1.8zM222.0 319.1h1.8v5.4h-1.8zM223.5 319.1h1.8v5.4h-1.8zM231.0 324.1h1.8v5.4h-1.8zM232.5 324.1h1.8v5.4h-1.8zM235.5 319.1h1.8v5.4h-1.8zM238.5 324.1h1.8v5.4h-1.8zM240.0 324.1h1.8v5.4h-1.8zM244.5 314.0h1.8v5.4h-1.8zM244.5 319.1h1.8v5.4h-1.8zM247.5 314.0h1.8v5.4h-1.8zM247.5 319.1h1.8v5.4h-1.8zM247.5 324.1h1.8v5.4h-1.8zM252.0 319.1h1.8v5.4h-1.8zM252.0 324.1h1.8v5.4h-1.8zM256.5 314.0h1.8v5.4h-1.8zM259.5 324.1h1.8v5.4h-1.8zM261.0 314.0h1.8v5.4h-1.8zM262.5 314.0h1.8v5.4h-1.8zM268.5 319.1h1.8v5.4h-1.8zM271.5 324.1h1.8v5.4h-1.8zM273.0 319.1h1.8v5.4h-1.8zM276.0 319.1h1.8v5.4h-1.8zM279.0 314.0h1.8v5.4h-1.8zM279.0 324.1h1.8v5.4h-1.8zM280.5 314.0h1.8v5.4h-1.8zM280.5 324.1h1.8v5.4h-1.8zM283.5 319.1h1.8v5.4h-1.8zM286.5 319.1h1.8v5.4h-1.8zM286.5 324.1h1.8v5.4h-1.8zM289.5 314.0h1.8v5.4h-1.8zM291.0 314.0h1.8v5.4h-1.8zM291.0 324.1h1.8v5.4h-1.8zM294.0 314.0h1.8v5.4h-1.8zM295.5 324.1h1.8v5.4h-1.8zM297.0 314.0h1.8v5.4h-1.8zM297.0 324.1h1.8v5.4h-1.8zM298.5 314.0h1.8v5.4h-1.8zM301.5 314.0h1.8v5.4h-1.8z"/><path fill="#ff8000" d="M82.5 314.0h1.8v5.4h-1.8zM91.5 314.0h1.8v5.4h-1.8zM91.5 319.1h1.8v5.4h-1.8zM136.5 319.1h1.8v5.4h-1.8zM136.5 324.1h1.8v5.4h-1.8zM138.0 319.1h1.8v5.4h-1.8zM148.5 324.1h1.8v5.4h-1.8zM150.0 324.1h1.8v5.4h-1.8zM166.5 324.1h1.8v5.4h-1.8zM174.0 314.0h1.8v5.4h-1.8zM177.0 314.0h1.8v5.4h-1.8zM177.0 319.1h1.8v5.4h-1.8zM177.0 324.1h1.8v5.4h-1.8zM178.5 324.1h1.8v5.4h-1.8zM181.5 324.1h1.8v5.4h-1.8zM195.0 319.1h1.8v5.4h-1.8zM198.0 314.0h1.8v5.4h-1.8zM201.0 319.1h1.8v5.4h-1.8zM201.0 324.1h1.8v5.4h-1.8zM214.5 314.0h1.8v5.4h-1.8zM220.5 314.0h1.8v5.4h-1.8zM220.5 319.1h1.8v5.4h-1.8zM229.5 314.0h1.8v5.4h-1.8zM229.5 324.1h1.8v5.4h-1.8zM234.0 314.0h1.8v5.4h-1.8zM234.0 324.1h1.8v5.4h-1.8zM250.5 319.1h1.8v5.4h-1.8zM250.5 324.1h1.8v5.4h-1.8zM255.0 324.1h1.8v5.4h-1.8zM259.5 319.1h1.8v5.4h-1.8zM271.5 319.1h1.8v5.4h-1.8zM282.0 319.1h1.8v5.4h-1.8zM291.0 319.1h1.8v5.4h-1.8z"/><path fill="#80ff80" d="M100.5 314.0h1.8v5.4h-1.8zM100.5 319.1h1.8v5.4h-1.8zM106.5 324.1h1.8v5.4h-1.8zM108.0 314.0h1.8v5.4h-1.8zM108.0 324.1h1.8v5.4h-1.8zM111.0 314.0h1.8v5.4h-1.8zM111.0 319.1h1.8v5.4h-1.8zM114.0 319.1h1.8v5.4h-1.8zM303.0 314.0h1.8v5.4h-1.8zM303.0 319.1h1.8v5.4h-1.8zM303.0 324.1h1.8v5.4h-1.8z"/><path fill="#55ffaa" d="M100.5 324.1h1.8v5.4h-1.8zM105.0 319.1h1.8v5.4h-1.8zM106.5 314.0h1.8v5.4h-1.8zM106.5 319.1h1.8v5.4h-1.8zM109.5 319.1h1.8v5.4h-1.8zM115.5 319.1h1.8v5.4h-1.8zM123.0 314.0h1.8v5.4h-1.8zM126.0 314.0h1.8v5.4h-1.8zM127.5 319.1h1.8v5.4h-1.8zM129.0 314.0h1.8v5.4h-1.8z"/><path fill="#40ffbf" d="M102.0 314.0h1.8v5.4h-1.8zM102.0 319.1h1.8v5.4h-1.8zM102.0 324.1h1.8v5.4h-1.8zM109.5 314.0h1.8v5.4h-1.8zM109.5 324.1h1.8v5.4h-1.8zM112.5 319.1h1.8v5.4h-1.8zM112.5 324.1h1.8v5.4h-1.8zM115.5 314.0h1.8v5.4h-1.8zM115.5 324.1h1.8v5.4h-1.8zM118.5 319.1h1.8v5.4h-1.8zM123.0 319.1h1.8v5.4h-1.8zM123.0 324.1h1.8v5.4h-1.8zM124.5 324.1h1.8v5.4h-1.8zM126.0 319.1h1.8v5.4h-1.8zM126.0 324.1h1.8v5.4h-1.8zM127.5 314.0h1.8v5.4h-1.8zM127.5 324.1h1.8v5.4h-1.8zM129.0 319.1h1.8v5.4h-1.8zM129.0 324.1h1.8v5.4h-1.8z"/><path fill="#95ff6a" d="M103.5 314.0h1.8v5.4h-1.8zM103.5 319.1h1.8v5.4h-1.8zM111.0 324.1h1.8v5.4h-1.8zM114.0 314.0h1.8v5.4h-1.8zM114.0 324.1h1.8v5.4h-1.8z"/><path fill="#aaff55" d="M103.5 324.1h1.8v5.4h-1.8z"/><path fill="#6aff95" d="M105.0 314.0h1.8v5.4h-1.8zM105.0 324.1h1.8v5.4h-1.8zM108.0 319.1h1.8v5.4h-1.8zM117.0 314.0h1.8v5.4h-1.8zM117.0 319.1h1.8v5.4h-1.8zM117.0 324.1h1.8v5.4h-1.8z"/><path fill="#2bffd4" d="M112.5 314.0h1.8v5.4h-1.8zM118.5 314.0h1.8v5.4h-1.8zM118.5 324.1h1.8v5.4h-1.8zM120.0 319.1h1.8v5.4h-1.8zM121.5 319.1h1.8v5.4h-1.8zM124.5 314.0h1.8v5.4h-1.8z"/><path fill="#15ffea" d="M120.0 314.0h1.8v5.4h-1.8zM120.0 324.1h1.8v5.4h-1.8zM121.5 324.1h1.8v5.4h-1.8zM124.5 319.1h1.8v5.4h-1.8z"/><path fill="#00ffff" d="M121.5 314.0h1.8v5.4h-1.8z"/><path fill="#ff0000" d="M135.0 314.0h1.8v5.4h-1.8zM142.5 319.1h1.8v5.4h-1.8zM175.5 324.1h1.8v5.4h-1.8zM246.0 314.0h1.8v5.4h-1.8zM265.5 314.0h1.8v5.4h-1.8z"/><path fill="#ea0000" d="M135.0 324.1h1.8v5.4h-1.8z"/><path fill="#ff9500" d="M136.5 314.0h1.8v5.4h-1.8zM201.0 314.0h1.8v5.4h-1.8zM234.0 319.1h1.8v5.4h-1.8zM267.0 319.1h1.8v5.4h-1.8zM282.0 324.1h1.8v5.4h-1.8z"/><path fill="#ffbf00" d="M150.0 314.0h1.8v5.4h-1.8z"/><path fill="#ffaa00" d="M150.0 319.1h1.8v5.4h-1.8z"/><path fill="#aa0000" d="M304.5 314.0h1.8v5.4h-1.8zM306.0 319.1h1.8v5.4h-1.8zM307.5 314.0h0.8v5.4h-0.8z"/><path fill="#d50000" d="M304.5 319.1h1.8v5.4h-1.8zM304.5 324.1h1.8v5.4h-1.8zM306.0 314.0h1.8v5.4h-1.8z"/><path fill="#950000" d="M306.0 324.1h1.8v5.4h-1.8zM307.5 324.1h0.8v5.4h-0.8z"/><path fill="#800000" d="M307.5 319.1h0.8v5.4h-0.8z"/></g>
<rect x="76.5" y="314" width="231.5" height="15.2" fill="none" stroke="#1a1010" stroke-width="1.3" />
<line x1="117.8" y1="249.7" x2="117.8" y2="329.2" stroke="#000" stroke-width="1.6" stroke-dasharray="1.6,2.4"/>
<line x1="127" y1="249.7" x2="127" y2="329.2" stroke="#000" stroke-width="1.6" stroke-dasharray="1.6,2.4"/>
<path transform="translate(60.4,296.4) rotate(-90) scale(1.020) translate(0,-14)" d="M0.6,13 C2,14.2 4.5,13.8 6.2,12.2 C9,9.3 12,4.2 16.2,0.8 M9.2,4.2 C10.8,2 13.5,0.9 17.2,0.6 M17.2,0.6 C16.6,5 16.3,9.2 16.2,13.6 M16.2,13.6 L19.6,12.8 M10.2,8.8 L16.6,8.4" fill="none" stroke="#2030e0" stroke-width="1.7" stroke-linecap="round" stroke-linejoin="round"/>
<line x1="76.3" y1="331" x2="76.3" y2="339" stroke="#1a2ee0" stroke-width="1.8" stroke-dasharray="3.5,2"/>
<polygon points="76.3,345.5 73,338.5 79.5,338.5" fill="#1a2ee0" stroke="none" stroke-width="1" />
<line x1="157.5" y1="331.5" x2="300" y2="342" stroke="#1a2ee0" stroke-width="1.8" stroke-dasharray="4.5,3"/>
<polygon points="307.5,342.6 300.3,345.3 300.8,338.8" fill="#1a2ee0" stroke="none" stroke-width="1" />
<line x1="322.1" y1="340" x2="322.1" y2="285" stroke="#000" stroke-width="1.8" /><polygon points="322.1,277 325.6,287 318.6,287" fill="#000" stroke="none" stroke-width="1" />
<text x="319.5" y="264.0" font-family='"Liberation Sans", sans-serif' font-size="19" text-anchor="start" fill="#262626" font-style="italic" >t</text>
<defs><clipPath id="hmclip"><rect x="79.2" y="346.1" width="227.5" height="189.5"/></clipPath><filter id="blurV" x="-30%" y="-30%" width="160%" height="160%"><feGaussianBlur stdDeviation="4"/></filter><filter id="blurS" x="-30%" y="-30%" width="160%" height="160%"><feGaussianBlur stdDeviation="2.5"/></filter><linearGradient id="vgrad" x1="0" y1="0" x2="0" y2="1"><stop offset="0" stop-color="#f2f23a"/><stop offset="0.35" stop-color="#f8d228"/><stop offset="0.7" stop-color="#f6a030"/><stop offset="1" stop-color="#f07830"/></linearGradient><linearGradient id="vgrad2" x1="0" y1="0" x2="0" y2="1"><stop offset="0" stop-color="#c8f070"/><stop offset="0.3" stop-color="#ecf03c"/><stop offset="0.7" stop-color="#f6d030"/><stop offset="1" stop-color="#f4a030"/></linearGradient><linearGradient id="cbar" x1="0" y1="1" x2="0" y2="0"><stop offset="0.000" stop-color="#000080"/><stop offset="0.062" stop-color="#0000bf"/><stop offset="0.125" stop-color="#0000ff"/><stop offset="0.188" stop-color="#0040ff"/><stop offset="0.250" stop-color="#0080ff"/><stop offset="0.312" stop-color="#00bfff"/><stop offset="0.375" stop-color="#00ffff"/><stop offset="0.438" stop-color="#40ffbf"/><stop offset="0.500" stop-color="#80ff80"/><stop offset="0.562" stop-color="#bfff40"/><stop offset="0.625" stop-color="#ffff00"/><stop offset="0.688" stop-color="#ffbf00"/><stop offset="0.750" stop-color="#ff8000"/><stop offset="0.812" stop-color="#ff4000"/><stop offset="0.875" stop-color="#ff0000"/><stop offset="0.938" stop-color="#bf0000"/><stop offset="1.000" stop-color="#800000"/></linearGradient><filter id="blur1" x="0" y="0" width="100%" height="100%"><feGaussianBlur stdDeviation="0.8"/></filter><filter id="grain" x="0" y="0" width="100%" height="100%"><feTurbulence type="fractalNoise" baseFrequency="0.12 0.7" numOctaves="2" seed="3"/><feColorMatrix type="matrix" values="0 0 0 0 0.55  0 0 0 0 0.2  0 0 0 0 0.05  0 0 0 1.6 -0.75"/></filter><filter id="grain2" x="0" y="0" width="100%" height="100%"><feTurbulence type="fractalNoise" baseFrequency="0.06 0.45" numOctaves="2" seed="8"/><feColorMatrix type="matrix" values="0 0 0 0 1  0 0 0 0 0.62  0 0 0 0 0.25  0 0 0 1.8 -0.85"/></filter></defs>
<g clip-path="url(#hmclip)">
<rect x="79.2" y="346.1" width="227.5" height="189.5" fill="#ff5200" stroke="none" stroke-width="1" />
<g filter="url(#blur1)"><path fill="#ff5000" d="M79.2 357.5h78.3v2.8h-78.3zM267.2 357.5h40.3v2.8h-40.3zM79.2 360.0h78.3v2.8h-78.3zM267.2 360.0h40.3v2.8h-40.3zM79.2 362.5h80.3v2.8h-80.3zM265.2 362.5h42.3v2.8h-42.3zM79.2 365.0h80.3v2.8h-80.3zM265.2 365.0h42.3v2.8h-42.3zM79.2 367.5h82.3v2.8h-82.3zM263.2 367.5h44.3v2.8h-44.3zM79.2 370.0h82.3v2.8h-82.3zM263.2 370.0h44.3v2.8h-44.3zM79.2 372.5h84.3v2.8h-84.3zM261.2 372.5h46.3v2.8h-46.3zM79.2 375.0h86.3v2.8h-86.3zM261.2 375.0h46.3v2.8h-46.3zM79.2 377.5h86.3v2.8h-86.3zM259.2 377.5h48.3v2.8h-48.3zM79.2 380.0h86.3v2.8h-86.3zM259.2 380.0h48.3v2.8h-48.3zM79.2 382.5h88.3v2.8h-88.3zM257.2 382.5h50.3v2.8h-50.3zM79.2 385.0h88.3v2.8h-88.3zM257.2 385.0h50.3v2.8h-50.3zM79.2 387.5h90.3v2.8h-90.3zM257.2 387.5h50.3v2.8h-50.3zM79.2 390.0h90.3v2.8h-90.3zM257.2 390.0h50.3v2.8h-50.3zM79.2 392.5h90.3v2.8h-90.3zM255.2 392.5h52.3v2.8h-52.3zM79.2 395.0h92.3v2.8h-92.3zM255.2 395.0h52.3v2.8h-52.3zM79.2 397.5h92.3v2.8h-92.3zM255.2 397.5h52.3v2.8h-52.3zM79.2 400.0h92.3v2.8h-92.3zM253.2 400.0h54.3v2.8h-54.3zM79.2 402.5h94.3v2.8h-94.3zM253.2 402.5h54.3v2.8h-54.3zM79.2 405.0h94.3v2.8h-94.3zM253.2 405.0h54.3v2.8h-54.3zM79.2 407.5h94.3v2.8h-94.3zM251.2 407.5h56.3v2.8h-56.3zM79.2 410.0h96.3v2.8h-96.3zM251.2 410.0h56.3v2.8h-56.3zM79.2 412.5h96.3v2.8h-96.3zM251.2 412.5h56.3v2.8h-56.3zM79.2 415.0h96.3v2.8h-96.3zM249.2 415.0h58.3v2.8h-58.3zM79.2 417.5h96.3v2.8h-96.3zM249.2 417.5h58.3v2.8h-58.3zM79.2 420.0h98.3v2.8h-98.3zM249.2 420.0h58.3v2.8h-58.3zM79.2 422.5h98.3v2.8h-98.3zM249.2 422.5h58.3v2.8h-58.3zM79.2 425.0h98.3v2.8h-98.3zM247.2 425.0h60.3v2.8h-60.3zM79.2 427.5h98.3v2.8h-98.3zM247.2 427.5h60.3v2.8h-60.3zM79.2 430.0h100.3v2.8h-100.3zM247.2 430.0h60.3v2.8h-60.3zM79.2 432.5h100.3v2.8h-100.3zM245.2 432.5h62.3v2.8h-62.3zM79.2 435.0h100.3v2.8h-100.3zM245.2 435.0h62.3v2.8h-62.3zM79.2 437.5h100.3v2.8h-100.3zM245.2 437.5h62.3v2.8h-62.3zM79.2 440.0h100.3v2.8h-100.3zM245.2 440.0h62.3v2.8h-62.3zM79.2 442.5h102.3v2.8h-102.3zM243.2 442.5h64.3v2.8h-64.3zM79.2 445.0h102.3v2.8h-102.3zM243.2 445.0h64.3v2.8h-64.3zM79.2 447.5h102.3v2.8h-102.3zM243.2 447.5h64.3v2.8h-64.3zM79.2 450.0h102.3v2.8h-102.3zM241.2 450.0h66.3v2.8h-66.3zM79.2 452.5h104.3v2.8h-104.3zM241.2 452.5h66.3v2.8h-66.3zM79.2 455.0h104.3v2.8h-104.3zM241.2 455.0h66.3v2.8h-66.3zM79.2 457.5h104.3v2.8h-104.3zM239.2 457.5h68.3v2.8h-68.3zM79.2 460.0h104.3v2.8h-104.3zM239.2 460.0h68.3v2.8h-68.3zM79.2 462.5h106.3v2.8h-106.3zM239.2 462.5h68.3v2.8h-68.3zM79.2 465.0h106.3v2.8h-106.3zM237.2 465.0h70.3v2.8h-70.3zM79.2 467.5h106.3v2.8h-106.3zM237.2 467.5h70.3v2.8h-70.3zM79.2 470.0h106.3v2.8h-106.3zM237.2 470.0h70.3v2.8h-70.3zM79.2 472.5h108.3v2.8h-108.3zM235.2 472.5h72.3v2.8h-72.3zM79.2 475.0h108.3v2.8h-108.3zM235.2 475.0h72.3v2.8h-72.3zM79.2 477.5h108.3v2.8h-108.3zM235.2 477.5h72.3v2.8h-72.3zM79.2 480.0h108.3v2.8h-108.3zM235.2 480.0h72.3v2.8h-72.3zM79.2 482.5h110.3v2.8h-110.3zM233.2 482.5h74.3v2.8h-74.3zM79.2 485.0h110.3v2.8h-110.3zM233.2 485.0h74.3v2.8h-74.3zM79.2 487.5h110.3v2.8h-110.3zM233.2 487.5h74.3v2.8h-74.3zM79.2 490.0h110.3v2.8h-110.3zM233.2 490.0h74.3v2.8h-74.3zM79.2 492.5h110.3v2.8h-110.3zM233.2 492.5h74.3v2.8h-74.3zM79.2 495.0h110.3v2.8h-110.3zM231.2 495.0h76.3v2.8h-76.3zM79.2 497.5h110.3v2.8h-110.3zM231.2 497.5h76.3v2.8h-76.3zM79.2 500.0h110.3v2.8h-110.3zM231.2 500.0h76.3v2.8h-76.3zM79.2 502.5h110.3v2.8h-110.3zM231.2 502.5h76.3v2.8h-76.3zM79.2 505.0h112.3v2.8h-112.3zM231.2 505.0h76.3v2.8h-76.3zM79.2 507.5h112.3v2.8h-112.3zM231.2 507.5h76.3v2.8h-76.3zM79.2 510.0h112.3v2.8h-112.3zM231.2 510.0h76.3v2.8h-76.3zM79.2 512.5h112.3v2.8h-112.3zM229.2 512.5h78.3v2.8h-78.3zM79.2 515.0h112.3v2.8h-112.3zM229.2 515.0h78.3v2.8h-78.3zM79.2 517.5h112.3v2.8h-112.3zM229.2 517.5h78.3v2.8h-78.3zM79.2 520.0h112.3v2.8h-112.3zM229.2 520.0h78.3v2.8h-78.3zM79.2 522.5h112.3v2.8h-112.3zM229.2 522.5h78.3v2.8h-78.3zM79.2 525.0h112.3v2.8h-112.3zM229.2 525.0h78.3v2.8h-78.3zM79.2 527.5h114.3v2.8h-114.3zM227.2 527.5h80.3v2.8h-80.3zM79.2 530.0h114.3v2.8h-114.3zM227.2 530.0h80.3v2.8h-80.3zM79.2 532.5h114.3v2.8h-114.3zM227.2 532.5h80.3v2.8h-80.3zM79.2 535.0h114.3v2.8h-114.3zM227.2 535.0h80.3v2.8h-80.3z"/><path fill="#ff6000" d="M157.2 357.5h2.3v2.8h-2.3zM265.2 357.5h2.3v2.8h-2.3zM157.2 360.0h2.3v2.8h-2.3zM265.2 360.0h2.3v2.8h-2.3zM159.2 362.5h2.3v2.8h-2.3zM263.2 362.5h2.3v2.8h-2.3zM159.2 365.0h2.3v2.8h-2.3zM263.2 365.0h2.3v2.8h-2.3zM161.2 367.5h2.3v2.8h-2.3zM261.2 367.5h2.3v2.8h-2.3zM161.2 370.0h4.3v2.8h-4.3zM259.2 370.0h4.3v2.8h-4.3zM163.2 372.5h2.3v2.8h-2.3zM259.2 372.5h2.3v2.8h-2.3zM165.2 375.0h2.3v2.8h-2.3zM257.2 375.0h4.3v2.8h-4.3zM165.2 377.5h4.3v2.8h-4.3zM257.2 377.5h2.3v2.8h-2.3zM165.2 380.0h4.3v2.8h-4.3zM255.2 380.0h4.3v2.8h-4.3zM167.2 382.5h4.3v2.8h-4.3zM255.2 382.5h2.3v2.8h-2.3zM167.2 385.0h4.3v2.8h-4.3zM253.2 385.0h4.3v2.8h-4.3zM169.2 387.5h4.3v2.8h-4.3zM253.2 387.5h4.3v2.8h-4.3zM169.2 390.0h4.3v2.8h-4.3zM251.2 390.0h6.3v2.8h-6.3zM169.2 392.5h4.3v2.8h-4.3zM251.2 392.5h4.3v2.8h-4.3zM171.2 395.0h4.3v2.8h-4.3zM251.2 395.0h4.3v2.8h-4.3zM171.2 397.5h4.3v2.8h-4.3zM249.2 397.5h6.3v2.8h-6.3zM171.2 400.0h6.3v2.8h-6.3zM249.2 400.0h4.3v2.8h-4.3zM173.2 402.5h4.3v2.8h-4.3zM249.2 402.5h4.3v2.8h-4.3zM173.2 405.0h4.3v2.8h-4.3zM247.2 405.0h6.3v2.8h-6.3zM173.2 407.5h6.3v2.8h-6.3zM247.2 407.5h4.3v2.8h-4.3zM175.2 410.0h4.3v2.8h-4.3zM247.2 410.0h4.3v2.8h-4.3zM175.2 412.5h6.3v2.8h-6.3zM245.2 412.5h6.3v2.8h-6.3zM175.2 415.0h6.3v2.8h-6.3zM245.2 415.0h4.3v2.8h-4.3zM175.2 417.5h6.3v2.8h-6.3zM245.2 417.5h4.3v2.8h-4.3zM177.2 420.0h4.3v2.8h-4.3zM243.2 420.0h6.3v2.8h-6.3zM177.2 422.5h6.3v2.8h-6.3zM243.2 422.5h6.3v2.8h-6.3zM177.2 425.0h6.3v2.8h-6.3zM243.2 425.0h4.3v2.8h-4.3zM177.2 427.5h6.3v2.8h-6.3zM241.2 427.5h6.3v2.8h-6.3zM179.2 430.0h4.3v2.8h-4.3zM241.2 430.0h6.3v2.8h-6.3zM179.2 432.5h6.3v2.8h-6.3zM241.2 432.5h4.3v2.8h-4.3zM179.2 435.0h6.3v2.8h-6.3zM239.2 435.0h6.3v2.8h-6.3zM179.2 437.5h6.3v2.8h-6.3zM239.2 437.5h6.3v2.8h-6.3zM179.2 440.0h6.3v2.8h-6.3zM239.2 440.0h6.3v2.8h-6.3zM181.2 442.5h6.3v2.8h-6.3zM237.2 442.5h6.3v2.8h-6.3zM181.2 445.0h6.3v2.8h-6.3zM237.2 445.0h6.3v2.8h-6.3zM181.2 447.5h6.3v2.8h-6.3zM235.2 447.5h8.3v2.8h-8.3zM181.2 450.0h8.3v2.8h-8.3zM235.2 450.0h6.3v2.8h-6.3zM183.2 452.5h6.3v2.8h-6.3zM235.2 452.5h6.3v2.8h-6.3zM183.2 455.0h6.3v2.8h-6.3zM233.2 455.0h8.3v2.8h-8.3zM183.2 457.5h8.3v2.8h-8.3zM233.2 457.5h6.3v2.8h-6.3zM183.2 460.0h8.3v2.8h-8.3zM233.2 460.0h6.3v2.8h-6.3zM185.2 462.5h6.3v2.8h-6.3zM231.2 462.5h8.3v2.8h-8.3zM185.2 465.0h6.3v2.8h-6.3zM231.2 465.0h6.3v2.8h-6.3zM185.2 467.5h8.3v2.8h-8.3zM231.2 467.5h6.3v2.8h-6.3zM185.2 470.0h8.3v2.8h-8.3zM229.2 470.0h8.3v2.8h-8.3zM187.2 472.5h6.3v2.8h-6.3zM229.2 472.5h6.3v2.8h-6.3zM187.2 475.0h8.3v2.8h-8.3zM229.2 475.0h6.3v2.8h-6.3zM187.2 477.5h8.3v2.8h-8.3zM227.2 477.5h8.3v2.8h-8.3zM187.2 480.0h8.3v2.8h-8.3zM227.2 480.0h8.3v2.8h-8.3zM189.2 482.5h6.3v2.8h-6.3zM225.2 482.5h8.3v2.8h-8.3zM189.2 485.0h8.3v2.8h-8.3zM225.2 485.0h8.3v2.8h-8.3zM189.2 487.5h8.3v2.8h-8.3zM225.2 487.5h8.3v2.8h-8.3zM189.2 490.0h8.3v2.8h-8.3zM225.2 490.0h8.3v2.8h-8.3zM189.2 492.5h8.3v2.8h-8.3zM225.2 492.5h8.3v2.8h-8.3zM189.2 495.0h8.3v2.8h-8.3zM223.2 495.0h8.3v2.8h-8.3zM189.2 497.5h8.3v2.8h-8.3zM223.2 497.5h8.3v2.8h-8.3zM189.2 500.0h10.3v2.8h-10.3zM223.2 500.0h8.3v2.8h-8.3zM189.2 502.5h10.3v2.8h-10.3zM223.2 502.5h8.3v2.8h-8.3zM191.2 505.0h8.3v2.8h-8.3zM223.2 505.0h8.3v2.8h-8.3zM191.2 507.5h8.3v2.8h-8.3zM221.2 507.5h10.3v2.8h-10.3zM191.2 510.0h8.3v2.8h-8.3zM221.2 510.0h10.3v2.8h-10.3zM191.2 512.5h8.3v2.8h-8.3zM221.2 512.5h8.3v2.8h-8.3zM191.2 515.0h10.3v2.8h-10.3zM221.2 515.0h8.3v2.8h-8.3zM191.2 517.5h10.3v2.8h-10.3zM219.2 517.5h10.3v2.8h-10.3zM191.2 520.0h10.3v2.8h-10.3zM219.2 520.0h10.3v2.8h-10.3zM191.2 522.5h10.3v2.8h-10.3zM219.2 522.5h10.3v2.8h-10.3zM191.2 525.0h12.3v2.8h-12.3zM217.2 525.0h12.3v2.8h-12.3zM193.2 527.5h10.3v2.8h-10.3zM217.2 527.5h10.3v2.8h-10.3zM193.2 530.0h10.3v2.8h-10.3zM217.2 530.0h10.3v2.8h-10.3zM193.2 532.5h12.3v2.8h-12.3zM215.2 532.5h12.3v2.8h-12.3zM193.2 535.0h12.3v2.8h-12.3zM215.2 535.0h12.3v2.8h-12.3z"/><path fill="#ff9f00" d="M159.2 357.5h2.3v2.8h-2.3zM163.2 365.0h2.3v2.8h-2.3zM259.2 365.0h2.3v2.8h-2.3zM165.2 367.5h2.3v2.8h-2.3zM257.2 367.5h2.3v2.8h-2.3zM171.2 377.5h2.3v2.8h-2.3zM251.2 377.5h2.3v2.8h-2.3zM173.2 380.0h2.3v2.8h-2.3zM249.2 382.5h2.3v2.8h-2.3zM175.2 385.0h2.3v2.8h-2.3zM247.2 385.0h2.3v2.8h-2.3zM177.2 387.5h2.3v2.8h-2.3zM245.2 390.0h2.3v2.8h-2.3zM179.2 392.5h2.3v2.8h-2.3zM179.2 395.0h2.3v2.8h-2.3zM243.2 395.0h2.3v2.8h-2.3zM181.2 397.5h2.3v2.8h-2.3zM243.2 397.5h2.3v2.8h-2.3zM181.2 400.0h2.3v2.8h-2.3zM183.2 402.5h2.3v2.8h-2.3zM241.2 402.5h2.3v2.8h-2.3zM183.2 405.0h2.3v2.8h-2.3zM239.2 407.5h2.3v2.8h-2.3zM185.2 410.0h2.3v2.8h-2.3zM239.2 410.0h2.3v2.8h-2.3zM237.2 412.5h2.3v2.8h-2.3zM187.2 415.0h2.3v2.8h-2.3zM237.2 415.0h2.3v2.8h-2.3zM187.2 417.5h2.3v2.8h-2.3zM235.2 420.0h2.3v2.8h-2.3zM189.2 422.5h2.3v2.8h-2.3zM235.2 422.5h2.3v2.8h-2.3zM189.2 425.0h2.3v2.8h-2.3zM233.2 425.0h2.3v2.8h-2.3zM191.2 427.5h2.3v2.8h-2.3zM233.2 427.5h2.3v2.8h-2.3zM191.2 430.0h2.3v2.8h-2.3zM231.2 430.0h2.3v2.8h-2.3zM191.2 432.5h2.3v2.8h-2.3zM231.2 432.5h2.3v2.8h-2.3zM193.2 435.0h2.3v2.8h-2.3zM229.2 435.0h2.3v2.8h-2.3zM193.2 437.5h2.3v2.8h-2.3zM229.2 437.5h2.3v2.8h-2.3zM193.2 440.0h4.3v2.8h-4.3zM227.2 440.0h2.3v2.8h-2.3zM195.2 442.5h2.3v2.8h-2.3zM225.2 442.5h4.3v2.8h-4.3zM195.2 445.0h4.3v2.8h-4.3zM225.2 445.0h4.3v2.8h-4.3zM197.2 447.5h4.3v2.8h-4.3zM223.2 447.5h4.3v2.8h-4.3zM197.2 450.0h4.3v2.8h-4.3zM221.2 450.0h4.3v2.8h-4.3zM199.2 452.5h4.3v2.8h-4.3zM219.2 452.5h6.3v2.8h-6.3zM199.2 455.0h8.3v2.8h-8.3zM217.2 455.0h6.3v2.8h-6.3zM201.2 457.5h10.3v2.8h-10.3zM213.2 457.5h10.3v2.8h-10.3zM203.2 460.0h18.3v2.8h-18.3zM203.2 462.5h16.3v2.8h-16.3zM205.2 465.0h12.3v2.8h-12.3zM207.2 467.5h10.3v2.8h-10.3zM209.2 470.0h4.3v2.8h-4.3z"/><path fill="#efff10" d="M161.2 357.5h2.3v2.8h-2.3zM163.2 360.0h2.3v2.8h-2.3zM259.2 360.0h2.3v2.8h-2.3zM165.2 362.5h2.3v2.8h-2.3zM257.2 362.5h2.3v2.8h-2.3zM167.2 365.0h2.3v2.8h-2.3zM255.2 365.0h2.3v2.8h-2.3zM173.2 370.0h2.3v2.8h-2.3zM249.2 370.0h2.3v2.8h-2.3zM175.2 372.5h74.3v2.8h-74.3zM179.2 375.0h66.3v2.8h-66.3zM187.2 377.5h52.3v2.8h-52.3z"/><path fill="#cfff30" d="M163.2 357.5h2.3v2.8h-2.3zM259.2 357.5h2.3v2.8h-2.3zM165.2 360.0h4.3v2.8h-4.3zM255.2 360.0h4.3v2.8h-4.3zM167.2 362.5h90.3v2.8h-90.3zM171.2 365.0h82.3v2.8h-82.3z"/><path fill="#bfff40" d="M165.2 357.5h94.3v2.8h-94.3zM169.2 360.0h86.3v2.8h-86.3z"/><path fill="#ffff00" d="M261.2 357.5h2.3v2.8h-2.3zM169.2 367.5h2.3v2.8h-2.3zM253.2 367.5h2.3v2.8h-2.3zM171.2 370.0h2.3v2.8h-2.3zM251.2 370.0h2.3v2.8h-2.3zM173.2 372.5h2.3v2.8h-2.3zM249.2 372.5h2.3v2.8h-2.3zM177.2 375.0h2.3v2.8h-2.3zM245.2 375.0h4.3v2.8h-4.3zM179.2 377.5h8.3v2.8h-8.3zM239.2 377.5h6.3v2.8h-6.3zM181.2 380.0h62.3v2.8h-62.3zM183.2 382.5h58.3v2.8h-58.3zM187.2 385.0h52.3v2.8h-52.3zM189.2 387.5h46.3v2.8h-46.3zM193.2 390.0h38.3v2.8h-38.3z"/><path fill="#ff8f00" d="M263.2 357.5h2.3v2.8h-2.3zM161.2 362.5h2.3v2.8h-2.3zM169.2 375.0h2.3v2.8h-2.3zM253.2 375.0h2.3v2.8h-2.3zM251.2 380.0h2.3v2.8h-2.3zM173.2 382.5h2.3v2.8h-2.3zM175.2 387.5h2.3v2.8h-2.3zM247.2 387.5h2.3v2.8h-2.3zM177.2 390.0h2.3v2.8h-2.3zM247.2 390.0h2.3v2.8h-2.3zM177.2 392.5h2.3v2.8h-2.3zM245.2 392.5h2.3v2.8h-2.3zM245.2 395.0h2.3v2.8h-2.3zM179.2 397.5h2.3v2.8h-2.3zM243.2 400.0h2.3v2.8h-2.3zM181.2 402.5h2.3v2.8h-2.3zM243.2 402.5h2.3v2.8h-2.3zM241.2 405.0h2.3v2.8h-2.3zM183.2 407.5h2.3v2.8h-2.3zM241.2 407.5h2.3v2.8h-2.3zM183.2 410.0h2.3v2.8h-2.3zM185.2 412.5h2.3v2.8h-2.3zM239.2 412.5h2.3v2.8h-2.3zM185.2 415.0h2.3v2.8h-2.3zM239.2 415.0h2.3v2.8h-2.3zM185.2 417.5h2.3v2.8h-2.3zM237.2 417.5h2.3v2.8h-2.3zM187.2 420.0h2.3v2.8h-2.3zM237.2 420.0h2.3v2.8h-2.3zM187.2 422.5h2.3v2.8h-2.3zM237.2 422.5h2.3v2.8h-2.3zM187.2 425.0h2.3v2.8h-2.3zM235.2 425.0h2.3v2.8h-2.3zM189.2 427.5h2.3v2.8h-2.3zM235.2 427.5h2.3v2.8h-2.3zM189.2 430.0h2.3v2.8h-2.3zM233.2 430.0h2.3v2.8h-2.3zM189.2 432.5h2.3v2.8h-2.3zM233.2 432.5h2.3v2.8h-2.3zM191.2 435.0h2.3v2.8h-2.3zM231.2 435.0h4.3v2.8h-4.3zM191.2 437.5h2.3v2.8h-2.3zM231.2 437.5h2.3v2.8h-2.3zM191.2 440.0h2.3v2.8h-2.3zM229.2 440.0h4.3v2.8h-4.3zM193.2 442.5h2.3v2.8h-2.3zM229.2 442.5h2.3v2.8h-2.3zM193.2 445.0h2.3v2.8h-2.3zM229.2 445.0h2.3v2.8h-2.3zM193.2 447.5h4.3v2.8h-4.3zM227.2 447.5h2.3v2.8h-2.3zM195.2 450.0h2.3v2.8h-2.3zM225.2 450.0h4.3v2.8h-4.3zM195.2 452.5h4.3v2.8h-4.3zM225.2 452.5h2.3v2.8h-2.3zM197.2 455.0h2.3v2.8h-2.3zM223.2 455.0h4.3v2.8h-4.3zM197.2 457.5h4.3v2.8h-4.3zM223.2 457.5h2.3v2.8h-2.3zM197.2 460.0h6.3v2.8h-6.3zM221.2 460.0h4.3v2.8h-4.3zM199.2 462.5h4.3v2.8h-4.3zM219.2 462.5h6.3v2.8h-6.3zM199.2 465.0h6.3v2.8h-6.3zM217.2 465.0h6.3v2.8h-6.3zM201.2 467.5h6.3v2.8h-6.3zM217.2 467.5h6.3v2.8h-6.3zM201.2 470.0h8.3v2.8h-8.3zM213.2 470.0h8.3v2.8h-8.3zM203.2 472.5h18.3v2.8h-18.3zM203.2 475.0h16.3v2.8h-16.3zM205.2 477.5h12.3v2.8h-12.3zM205.2 480.0h12.3v2.8h-12.3zM207.2 482.5h8.3v2.8h-8.3zM209.2 485.0h4.3v2.8h-4.3z"/><path fill="#ff7000" d="M159.2 360.0h2.3v2.8h-2.3zM263.2 360.0h2.3v2.8h-2.3zM161.2 365.0h2.3v2.8h-2.3zM261.2 365.0h2.3v2.8h-2.3zM163.2 367.5h2.3v2.8h-2.3zM259.2 367.5h2.3v2.8h-2.3zM165.2 372.5h2.3v2.8h-2.3zM257.2 372.5h2.3v2.8h-2.3zM167.2 375.0h2.3v2.8h-2.3zM255.2 375.0h2.3v2.8h-2.3zM255.2 377.5h2.3v2.8h-2.3zM169.2 380.0h2.3v2.8h-2.3zM253.2 380.0h2.3v2.8h-2.3zM171.2 382.5h2.3v2.8h-2.3zM253.2 382.5h2.3v2.8h-2.3zM171.2 385.0h2.3v2.8h-2.3zM251.2 385.0h2.3v2.8h-2.3zM173.2 387.5h2.3v2.8h-2.3zM251.2 387.5h2.3v2.8h-2.3zM173.2 390.0h2.3v2.8h-2.3zM249.2 390.0h2.3v2.8h-2.3zM173.2 392.5h4.3v2.8h-4.3zM249.2 392.5h2.3v2.8h-2.3zM175.2 395.0h2.3v2.8h-2.3zM249.2 395.0h2.3v2.8h-2.3zM175.2 397.5h2.3v2.8h-2.3zM247.2 397.5h2.3v2.8h-2.3zM177.2 400.0h2.3v2.8h-2.3zM247.2 400.0h2.3v2.8h-2.3zM177.2 402.5h2.3v2.8h-2.3zM245.2 402.5h4.3v2.8h-4.3zM177.2 405.0h4.3v2.8h-4.3zM245.2 405.0h2.3v2.8h-2.3zM179.2 407.5h2.3v2.8h-2.3zM245.2 407.5h2.3v2.8h-2.3zM179.2 410.0h2.3v2.8h-2.3zM243.2 410.0h4.3v2.8h-4.3zM181.2 412.5h2.3v2.8h-2.3zM243.2 412.5h2.3v2.8h-2.3zM181.2 415.0h2.3v2.8h-2.3zM243.2 415.0h2.3v2.8h-2.3zM181.2 417.5h2.3v2.8h-2.3zM241.2 417.5h4.3v2.8h-4.3zM181.2 420.0h4.3v2.8h-4.3zM241.2 420.0h2.3v2.8h-2.3zM183.2 422.5h2.3v2.8h-2.3zM241.2 422.5h2.3v2.8h-2.3zM183.2 425.0h2.3v2.8h-2.3zM239.2 425.0h4.3v2.8h-4.3zM183.2 427.5h4.3v2.8h-4.3zM239.2 427.5h2.3v2.8h-2.3zM183.2 430.0h4.3v2.8h-4.3zM237.2 430.0h4.3v2.8h-4.3zM185.2 432.5h2.3v2.8h-2.3zM237.2 432.5h4.3v2.8h-4.3zM185.2 435.0h2.3v2.8h-2.3zM237.2 435.0h2.3v2.8h-2.3zM185.2 437.5h4.3v2.8h-4.3zM235.2 437.5h4.3v2.8h-4.3zM185.2 440.0h4.3v2.8h-4.3zM235.2 440.0h4.3v2.8h-4.3zM187.2 442.5h2.3v2.8h-2.3zM235.2 442.5h2.3v2.8h-2.3zM187.2 445.0h4.3v2.8h-4.3zM233.2 445.0h4.3v2.8h-4.3zM187.2 447.5h4.3v2.8h-4.3zM233.2 447.5h2.3v2.8h-2.3zM189.2 450.0h2.3v2.8h-2.3zM231.2 450.0h4.3v2.8h-4.3zM189.2 452.5h4.3v2.8h-4.3zM231.2 452.5h4.3v2.8h-4.3zM189.2 455.0h4.3v2.8h-4.3zM231.2 455.0h2.3v2.8h-2.3zM191.2 457.5h2.3v2.8h-2.3zM229.2 457.5h4.3v2.8h-4.3zM191.2 460.0h4.3v2.8h-4.3zM229.2 460.0h4.3v2.8h-4.3zM191.2 462.5h4.3v2.8h-4.3zM227.2 462.5h4.3v2.8h-4.3zM191.2 465.0h4.3v2.8h-4.3zM227.2 465.0h4.3v2.8h-4.3zM193.2 467.5h4.3v2.8h-4.3zM227.2 467.5h4.3v2.8h-4.3zM193.2 470.0h4.3v2.8h-4.3zM225.2 470.0h4.3v2.8h-4.3zM193.2 472.5h4.3v2.8h-4.3zM225.2 472.5h4.3v2.8h-4.3zM195.2 475.0h4.3v2.8h-4.3zM223.2 475.0h6.3v2.8h-6.3zM195.2 477.5h4.3v2.8h-4.3zM223.2 477.5h4.3v2.8h-4.3zM195.2 480.0h4.3v2.8h-4.3zM223.2 480.0h4.3v2.8h-4.3zM195.2 482.5h6.3v2.8h-6.3zM221.2 482.5h4.3v2.8h-4.3zM197.2 485.0h4.3v2.8h-4.3zM221.2 485.0h4.3v2.8h-4.3zM197.2 487.5h6.3v2.8h-6.3zM219.2 487.5h6.3v2.8h-6.3zM197.2 490.0h6.3v2.8h-6.3zM219.2 490.0h6.3v2.8h-6.3zM197.2 492.5h6.3v2.8h-6.3zM219.2 492.5h6.3v2.8h-6.3zM197.2 495.0h6.3v2.8h-6.3zM217.2 495.0h6.3v2.8h-6.3zM197.2 497.5h8.3v2.8h-8.3zM217.2 497.5h6.3v2.8h-6.3zM199.2 500.0h6.3v2.8h-6.3zM217.2 500.0h6.3v2.8h-6.3zM199.2 502.5h6.3v2.8h-6.3zM215.2 502.5h8.3v2.8h-8.3zM199.2 505.0h8.3v2.8h-8.3zM215.2 505.0h8.3v2.8h-8.3zM199.2 507.5h8.3v2.8h-8.3zM213.2 507.5h8.3v2.8h-8.3zM199.2 510.0h10.3v2.8h-10.3zM213.2 510.0h8.3v2.8h-8.3zM199.2 512.5h10.3v2.8h-10.3zM211.2 512.5h10.3v2.8h-10.3zM201.2 515.0h20.3v2.8h-20.3zM201.2 517.5h18.3v2.8h-18.3zM201.2 520.0h18.3v2.8h-18.3zM201.2 522.5h18.3v2.8h-18.3zM203.2 525.0h14.3v2.8h-14.3zM203.2 527.5h14.3v2.8h-14.3zM203.2 530.0h14.3v2.8h-14.3zM205.2 532.5h10.3v2.8h-10.3zM205.2 535.0h10.3v2.8h-10.3z"/><path fill="#ffbf00" d="M161.2 360.0h2.3v2.8h-2.3zM261.2 360.0h2.3v2.8h-2.3zM251.2 375.0h2.3v2.8h-2.3zM173.2 377.5h2.3v2.8h-2.3zM249.2 377.5h2.3v2.8h-2.3zM175.2 380.0h2.3v2.8h-2.3zM245.2 385.0h2.3v2.8h-2.3zM179.2 387.5h2.3v2.8h-2.3zM243.2 390.0h2.3v2.8h-2.3zM181.2 392.5h2.3v2.8h-2.3zM241.2 395.0h2.3v2.8h-2.3zM183.2 397.5h2.3v2.8h-2.3zM185.2 400.0h2.3v2.8h-2.3zM239.2 400.0h2.3v2.8h-2.3zM185.2 402.5h2.3v2.8h-2.3zM187.2 405.0h2.3v2.8h-2.3zM237.2 405.0h2.3v2.8h-2.3zM187.2 407.5h2.3v2.8h-2.3zM235.2 407.5h2.3v2.8h-2.3zM189.2 410.0h2.3v2.8h-2.3zM235.2 410.0h2.3v2.8h-2.3zM189.2 412.5h2.3v2.8h-2.3zM233.2 412.5h2.3v2.8h-2.3zM191.2 415.0h2.3v2.8h-2.3zM233.2 415.0h2.3v2.8h-2.3zM191.2 417.5h2.3v2.8h-2.3zM231.2 417.5h4.3v2.8h-4.3zM193.2 420.0h2.3v2.8h-2.3zM231.2 420.0h2.3v2.8h-2.3zM193.2 422.5h4.3v2.8h-4.3zM229.2 422.5h4.3v2.8h-4.3zM193.2 425.0h4.3v2.8h-4.3zM227.2 425.0h4.3v2.8h-4.3zM195.2 427.5h4.3v2.8h-4.3zM225.2 427.5h6.3v2.8h-6.3zM195.2 430.0h6.3v2.8h-6.3zM223.2 430.0h6.3v2.8h-6.3zM197.2 432.5h6.3v2.8h-6.3zM221.2 432.5h6.3v2.8h-6.3zM199.2 435.0h10.3v2.8h-10.3zM215.2 435.0h12.3v2.8h-12.3zM199.2 437.5h26.3v2.8h-26.3zM201.2 440.0h22.3v2.8h-22.3zM203.2 442.5h18.3v2.8h-18.3zM207.2 445.0h10.3v2.8h-10.3z"/><path fill="#ffcf00" d="M163.2 362.5h2.3v2.8h-2.3zM259.2 362.5h2.3v2.8h-2.3zM247.2 380.0h2.3v2.8h-2.3zM177.2 382.5h2.3v2.8h-2.3zM245.2 382.5h2.3v2.8h-2.3zM179.2 385.0h2.3v2.8h-2.3zM181.2 387.5h2.3v2.8h-2.3zM243.2 387.5h2.3v2.8h-2.3zM181.2 390.0h2.3v2.8h-2.3zM241.2 390.0h2.3v2.8h-2.3zM183.2 392.5h2.3v2.8h-2.3zM241.2 392.5h2.3v2.8h-2.3zM183.2 395.0h2.3v2.8h-2.3zM239.2 395.0h2.3v2.8h-2.3zM185.2 397.5h2.3v2.8h-2.3zM239.2 397.5h2.3v2.8h-2.3zM187.2 400.0h2.3v2.8h-2.3zM237.2 400.0h2.3v2.8h-2.3zM187.2 402.5h2.3v2.8h-2.3zM235.2 402.5h4.3v2.8h-4.3zM189.2 405.0h2.3v2.8h-2.3zM235.2 405.0h2.3v2.8h-2.3zM189.2 407.5h4.3v2.8h-4.3zM233.2 407.5h2.3v2.8h-2.3zM191.2 410.0h4.3v2.8h-4.3zM231.2 410.0h4.3v2.8h-4.3zM191.2 412.5h4.3v2.8h-4.3zM229.2 412.5h4.3v2.8h-4.3zM193.2 415.0h4.3v2.8h-4.3zM229.2 415.0h4.3v2.8h-4.3zM193.2 417.5h6.3v2.8h-6.3zM225.2 417.5h6.3v2.8h-6.3zM195.2 420.0h8.3v2.8h-8.3zM223.2 420.0h8.3v2.8h-8.3zM197.2 422.5h14.3v2.8h-14.3zM213.2 422.5h16.3v2.8h-16.3zM197.2 425.0h30.3v2.8h-30.3zM199.2 427.5h26.3v2.8h-26.3zM201.2 430.0h22.3v2.8h-22.3zM203.2 432.5h18.3v2.8h-18.3zM209.2 435.0h6.3v2.8h-6.3z"/><path fill="#ff8000" d="M261.2 362.5h2.3v2.8h-2.3zM165.2 370.0h2.3v2.8h-2.3zM257.2 370.0h2.3v2.8h-2.3zM167.2 372.5h2.3v2.8h-2.3zM255.2 372.5h2.3v2.8h-2.3zM169.2 377.5h2.3v2.8h-2.3zM253.2 377.5h2.3v2.8h-2.3zM171.2 380.0h2.3v2.8h-2.3zM251.2 382.5h2.3v2.8h-2.3zM173.2 385.0h2.3v2.8h-2.3zM249.2 385.0h2.3v2.8h-2.3zM249.2 387.5h2.3v2.8h-2.3zM175.2 390.0h2.3v2.8h-2.3zM247.2 392.5h2.3v2.8h-2.3zM177.2 395.0h2.3v2.8h-2.3zM247.2 395.0h2.3v2.8h-2.3zM177.2 397.5h2.3v2.8h-2.3zM245.2 397.5h2.3v2.8h-2.3zM179.2 400.0h2.3v2.8h-2.3zM245.2 400.0h2.3v2.8h-2.3zM179.2 402.5h2.3v2.8h-2.3zM181.2 405.0h2.3v2.8h-2.3zM243.2 405.0h2.3v2.8h-2.3zM181.2 407.5h2.3v2.8h-2.3zM243.2 407.5h2.3v2.8h-2.3zM181.2 410.0h2.3v2.8h-2.3zM241.2 410.0h2.3v2.8h-2.3zM183.2 412.5h2.3v2.8h-2.3zM241.2 412.5h2.3v2.8h-2.3zM183.2 415.0h2.3v2.8h-2.3zM241.2 415.0h2.3v2.8h-2.3zM183.2 417.5h2.3v2.8h-2.3zM239.2 417.5h2.3v2.8h-2.3zM185.2 420.0h2.3v2.8h-2.3zM239.2 420.0h2.3v2.8h-2.3zM185.2 422.5h2.3v2.8h-2.3zM239.2 422.5h2.3v2.8h-2.3zM185.2 425.0h2.3v2.8h-2.3zM237.2 425.0h2.3v2.8h-2.3zM187.2 427.5h2.3v2.8h-2.3zM237.2 427.5h2.3v2.8h-2.3zM187.2 430.0h2.3v2.8h-2.3zM235.2 430.0h2.3v2.8h-2.3zM187.2 432.5h2.3v2.8h-2.3zM235.2 432.5h2.3v2.8h-2.3zM187.2 435.0h4.3v2.8h-4.3zM235.2 435.0h2.3v2.8h-2.3zM189.2 437.5h2.3v2.8h-2.3zM233.2 437.5h2.3v2.8h-2.3zM189.2 440.0h2.3v2.8h-2.3zM233.2 440.0h2.3v2.8h-2.3zM189.2 442.5h4.3v2.8h-4.3zM231.2 442.5h4.3v2.8h-4.3zM191.2 445.0h2.3v2.8h-2.3zM231.2 445.0h2.3v2.8h-2.3zM191.2 447.5h2.3v2.8h-2.3zM229.2 447.5h4.3v2.8h-4.3zM191.2 450.0h4.3v2.8h-4.3zM229.2 450.0h2.3v2.8h-2.3zM193.2 452.5h2.3v2.8h-2.3zM227.2 452.5h4.3v2.8h-4.3zM193.2 455.0h4.3v2.8h-4.3zM227.2 455.0h4.3v2.8h-4.3zM193.2 457.5h4.3v2.8h-4.3zM225.2 457.5h4.3v2.8h-4.3zM195.2 460.0h2.3v2.8h-2.3zM225.2 460.0h4.3v2.8h-4.3zM195.2 462.5h4.3v2.8h-4.3zM225.2 462.5h2.3v2.8h-2.3zM195.2 465.0h4.3v2.8h-4.3zM223.2 465.0h4.3v2.8h-4.3zM197.2 467.5h4.3v2.8h-4.3zM223.2 467.5h4.3v2.8h-4.3zM197.2 470.0h4.3v2.8h-4.3zM221.2 470.0h4.3v2.8h-4.3zM197.2 472.5h6.3v2.8h-6.3zM221.2 472.5h4.3v2.8h-4.3zM199.2 475.0h4.3v2.8h-4.3zM219.2 475.0h4.3v2.8h-4.3zM199.2 477.5h6.3v2.8h-6.3zM217.2 477.5h6.3v2.8h-6.3zM199.2 480.0h6.3v2.8h-6.3zM217.2 480.0h6.3v2.8h-6.3zM201.2 482.5h6.3v2.8h-6.3zM215.2 482.5h6.3v2.8h-6.3zM201.2 485.0h8.3v2.8h-8.3zM213.2 485.0h8.3v2.8h-8.3zM203.2 487.5h16.3v2.8h-16.3zM203.2 490.0h16.3v2.8h-16.3zM203.2 492.5h16.3v2.8h-16.3zM203.2 495.0h14.3v2.8h-14.3zM205.2 497.5h12.3v2.8h-12.3zM205.2 500.0h12.3v2.8h-12.3zM205.2 502.5h10.3v2.8h-10.3zM207.2 505.0h8.3v2.8h-8.3zM207.2 507.5h6.3v2.8h-6.3zM209.2 510.0h4.3v2.8h-4.3zM209.2 512.5h2.3v2.8h-2.3z"/><path fill="#ffdf00" d="M165.2 365.0h2.3v2.8h-2.3zM257.2 365.0h2.3v2.8h-2.3zM167.2 367.5h2.3v2.8h-2.3zM255.2 367.5h2.3v2.8h-2.3zM169.2 370.0h2.3v2.8h-2.3zM253.2 370.0h2.3v2.8h-2.3zM171.2 372.5h2.3v2.8h-2.3zM251.2 372.5h2.3v2.8h-2.3zM173.2 375.0h2.3v2.8h-2.3zM249.2 375.0h2.3v2.8h-2.3zM175.2 377.5h2.3v2.8h-2.3zM247.2 377.5h2.3v2.8h-2.3zM177.2 380.0h2.3v2.8h-2.3zM245.2 380.0h2.3v2.8h-2.3zM179.2 382.5h2.3v2.8h-2.3zM181.2 385.0h2.3v2.8h-2.3zM243.2 385.0h2.3v2.8h-2.3zM183.2 387.5h2.3v2.8h-2.3zM241.2 387.5h2.3v2.8h-2.3zM183.2 390.0h2.3v2.8h-2.3zM239.2 390.0h2.3v2.8h-2.3zM185.2 392.5h2.3v2.8h-2.3zM237.2 392.5h4.3v2.8h-4.3zM185.2 395.0h4.3v2.8h-4.3zM237.2 395.0h2.3v2.8h-2.3zM187.2 397.5h4.3v2.8h-4.3zM235.2 397.5h4.3v2.8h-4.3zM189.2 400.0h4.3v2.8h-4.3zM233.2 400.0h4.3v2.8h-4.3zM189.2 402.5h6.3v2.8h-6.3zM231.2 402.5h4.3v2.8h-4.3zM191.2 405.0h8.3v2.8h-8.3zM227.2 405.0h8.3v2.8h-8.3zM193.2 407.5h40.3v2.8h-40.3zM195.2 410.0h36.3v2.8h-36.3zM195.2 412.5h34.3v2.8h-34.3zM197.2 415.0h32.3v2.8h-32.3zM199.2 417.5h26.3v2.8h-26.3zM203.2 420.0h20.3v2.8h-20.3zM211.2 422.5h2.3v2.8h-2.3z"/><path fill="#dfff20" d="M169.2 365.0h2.3v2.8h-2.3zM253.2 365.0h2.3v2.8h-2.3zM171.2 367.5h82.3v2.8h-82.3zM175.2 370.0h74.3v2.8h-74.3z"/><path fill="#ffaf00" d="M167.2 370.0h2.3v2.8h-2.3zM255.2 370.0h2.3v2.8h-2.3zM169.2 372.5h2.3v2.8h-2.3zM253.2 372.5h2.3v2.8h-2.3zM171.2 375.0h2.3v2.8h-2.3zM249.2 380.0h2.3v2.8h-2.3zM175.2 382.5h2.3v2.8h-2.3zM247.2 382.5h2.3v2.8h-2.3zM177.2 385.0h2.3v2.8h-2.3zM245.2 387.5h2.3v2.8h-2.3zM179.2 390.0h2.3v2.8h-2.3zM243.2 392.5h2.3v2.8h-2.3zM181.2 395.0h2.3v2.8h-2.3zM241.2 397.5h2.3v2.8h-2.3zM183.2 400.0h2.3v2.8h-2.3zM241.2 400.0h2.3v2.8h-2.3zM239.2 402.5h2.3v2.8h-2.3zM185.2 405.0h2.3v2.8h-2.3zM239.2 405.0h2.3v2.8h-2.3zM185.2 407.5h2.3v2.8h-2.3zM237.2 407.5h2.3v2.8h-2.3zM187.2 410.0h2.3v2.8h-2.3zM237.2 410.0h2.3v2.8h-2.3zM187.2 412.5h2.3v2.8h-2.3zM235.2 412.5h2.3v2.8h-2.3zM189.2 415.0h2.3v2.8h-2.3zM235.2 415.0h2.3v2.8h-2.3zM189.2 417.5h2.3v2.8h-2.3zM235.2 417.5h2.3v2.8h-2.3zM189.2 420.0h4.3v2.8h-4.3zM233.2 420.0h2.3v2.8h-2.3zM191.2 422.5h2.3v2.8h-2.3zM233.2 422.5h2.3v2.8h-2.3zM191.2 425.0h2.3v2.8h-2.3zM231.2 425.0h2.3v2.8h-2.3zM193.2 427.5h2.3v2.8h-2.3zM231.2 427.5h2.3v2.8h-2.3zM193.2 430.0h2.3v2.8h-2.3zM229.2 430.0h2.3v2.8h-2.3zM193.2 432.5h4.3v2.8h-4.3zM227.2 432.5h4.3v2.8h-4.3zM195.2 435.0h4.3v2.8h-4.3zM227.2 435.0h2.3v2.8h-2.3zM195.2 437.5h4.3v2.8h-4.3zM225.2 437.5h4.3v2.8h-4.3zM197.2 440.0h4.3v2.8h-4.3zM223.2 440.0h4.3v2.8h-4.3zM197.2 442.5h6.3v2.8h-6.3zM221.2 442.5h4.3v2.8h-4.3zM199.2 445.0h8.3v2.8h-8.3zM217.2 445.0h8.3v2.8h-8.3zM201.2 447.5h22.3v2.8h-22.3zM201.2 450.0h20.3v2.8h-20.3zM203.2 452.5h16.3v2.8h-16.3zM207.2 455.0h10.3v2.8h-10.3zM211.2 457.5h2.3v2.8h-2.3z"/><path fill="#ffef00" d="M175.2 375.0h2.3v2.8h-2.3zM177.2 377.5h2.3v2.8h-2.3zM245.2 377.5h2.3v2.8h-2.3zM179.2 380.0h2.3v2.8h-2.3zM243.2 380.0h2.3v2.8h-2.3zM181.2 382.5h2.3v2.8h-2.3zM241.2 382.5h4.3v2.8h-4.3zM183.2 385.0h4.3v2.8h-4.3zM239.2 385.0h4.3v2.8h-4.3zM185.2 387.5h4.3v2.8h-4.3zM235.2 387.5h6.3v2.8h-6.3zM185.2 390.0h8.3v2.8h-8.3zM231.2 390.0h8.3v2.8h-8.3zM187.2 392.5h50.3v2.8h-50.3zM189.2 395.0h48.3v2.8h-48.3zM191.2 397.5h44.3v2.8h-44.3zM193.2 400.0h40.3v2.8h-40.3zM195.2 402.5h36.3v2.8h-36.3zM199.2 405.0h28.3v2.8h-28.3z"/></g>
<rect x="79.2" y="346.1" width="227.5" height="189.5" filter="url(#grain)" opacity="0.3"/>
<rect x="79.2" y="346.1" width="227.5" height="189.5" filter="url(#grain2)" opacity="0.25"/>
<g filter="url(#blur1)"><path fill="#00efff" d="M79.2 346.1h2.3v3.1h-2.3zM87.2 346.1h2.3v3.1h-2.3zM93.2 346.1h2.3v3.1h-2.3zM101.2 346.1h2.3v3.1h-2.3zM105.2 346.1h2.3v3.1h-2.3zM113.2 346.1h4.3v3.1h-4.3zM137.2 346.1h2.3v3.1h-2.3zM141.2 346.1h2.3v3.1h-2.3zM149.2 346.1h2.3v3.1h-2.3zM155.2 346.1h2.3v3.1h-2.3zM161.2 346.1h2.3v3.1h-2.3zM173.2 346.1h2.3v3.1h-2.3zM199.2 346.1h2.3v3.1h-2.3zM205.2 346.1h2.3v3.1h-2.3zM213.2 346.1h2.3v3.1h-2.3zM223.2 346.1h2.3v3.1h-2.3zM237.2 346.1h2.3v3.1h-2.3zM251.2 346.1h2.3v3.1h-2.3zM255.2 346.1h2.3v3.1h-2.3zM275.2 346.1h4.3v3.1h-4.3zM285.2 346.1h4.3v3.1h-4.3zM295.2 346.1h2.3v3.1h-2.3zM305.2 346.1h2.3v3.1h-2.3zM91.2 349.0h2.3v3.1h-2.3zM115.2 349.0h2.3v3.1h-2.3zM119.2 349.0h4.3v3.1h-4.3zM125.2 349.0h2.3v3.1h-2.3zM155.2 349.0h2.3v3.1h-2.3zM163.2 349.0h2.3v3.1h-2.3zM173.2 349.0h6.3v3.1h-6.3zM193.2 349.0h4.3v3.1h-4.3zM209.2 349.0h2.3v3.1h-2.3zM213.2 349.0h2.3v3.1h-2.3zM217.2 349.0h2.3v3.1h-2.3zM249.2 349.0h4.3v3.1h-4.3zM259.2 349.0h2.3v3.1h-2.3zM271.2 349.0h2.3v3.1h-2.3zM275.2 349.0h2.3v3.1h-2.3zM289.2 349.0h2.3v3.1h-2.3z"/><path fill="#10ffef" d="M81.2 346.1h4.3v3.1h-4.3zM153.2 346.1h2.3v3.1h-2.3zM163.2 346.1h2.3v3.1h-2.3zM179.2 346.1h2.3v3.1h-2.3zM187.2 346.1h2.3v3.1h-2.3zM219.2 346.1h2.3v3.1h-2.3zM227.2 346.1h2.3v3.1h-2.3zM241.2 346.1h2.3v3.1h-2.3zM247.2 346.1h2.3v3.1h-2.3zM257.2 346.1h2.3v3.1h-2.3zM293.2 346.1h2.3v3.1h-2.3zM299.2 346.1h2.3v3.1h-2.3zM165.2 349.0h2.3v3.1h-2.3zM245.2 349.0h2.3v3.1h-2.3zM283.2 349.0h2.3v3.1h-2.3z"/><path fill="#00dfff" d="M85.2 346.1h2.3v3.1h-2.3zM89.2 346.1h2.3v3.1h-2.3zM107.2 346.1h2.3v3.1h-2.3zM119.2 346.1h2.3v3.1h-2.3zM125.2 346.1h2.3v3.1h-2.3zM129.2 346.1h4.3v3.1h-4.3zM143.2 346.1h2.3v3.1h-2.3zM157.2 346.1h2.3v3.1h-2.3zM167.2 346.1h4.3v3.1h-4.3zM177.2 346.1h2.3v3.1h-2.3zM203.2 346.1h2.3v3.1h-2.3zM209.2 346.1h2.3v3.1h-2.3zM217.2 346.1h2.3v3.1h-2.3zM263.2 346.1h2.3v3.1h-2.3zM271.2 346.1h2.3v3.1h-2.3zM279.2 346.1h2.3v3.1h-2.3zM291.2 346.1h2.3v3.1h-2.3zM99.2 349.0h2.3v3.1h-2.3zM103.2 349.0h2.3v3.1h-2.3zM109.2 349.0h2.3v3.1h-2.3zM129.2 349.0h2.3v3.1h-2.3zM141.2 349.0h4.3v3.1h-4.3zM149.2 349.0h4.3v3.1h-4.3zM171.2 349.0h2.3v3.1h-2.3zM179.2 349.0h4.3v3.1h-4.3zM189.2 349.0h2.3v3.1h-2.3zM197.2 349.0h6.3v3.1h-6.3zM211.2 349.0h2.3v3.1h-2.3zM227.2 349.0h2.3v3.1h-2.3zM237.2 349.0h2.3v3.1h-2.3zM241.2 349.0h2.3v3.1h-2.3zM255.2 349.0h2.3v3.1h-2.3zM261.2 349.0h2.3v3.1h-2.3zM265.2 349.0h6.3v3.1h-6.3zM281.2 349.0h2.3v3.1h-2.3zM293.2 349.0h4.3v3.1h-4.3zM299.2 349.0h2.3v3.1h-2.3z"/><path fill="#00ffff" d="M91.2 346.1h2.3v3.1h-2.3zM95.2 346.1h2.3v3.1h-2.3zM103.2 346.1h2.3v3.1h-2.3zM109.2 346.1h4.3v3.1h-4.3zM117.2 346.1h2.3v3.1h-2.3zM123.2 346.1h2.3v3.1h-2.3zM139.2 346.1h2.3v3.1h-2.3zM145.2 346.1h4.3v3.1h-4.3zM151.2 346.1h2.3v3.1h-2.3zM159.2 346.1h2.3v3.1h-2.3zM175.2 346.1h2.3v3.1h-2.3zM181.2 346.1h6.3v3.1h-6.3zM191.2 346.1h4.3v3.1h-4.3zM197.2 346.1h2.3v3.1h-2.3zM201.2 346.1h2.3v3.1h-2.3zM207.2 346.1h2.3v3.1h-2.3zM211.2 346.1h2.3v3.1h-2.3zM215.2 346.1h2.3v3.1h-2.3zM221.2 346.1h2.3v3.1h-2.3zM225.2 346.1h2.3v3.1h-2.3zM233.2 346.1h4.3v3.1h-4.3zM245.2 346.1h2.3v3.1h-2.3zM265.2 346.1h2.3v3.1h-2.3zM269.2 346.1h2.3v3.1h-2.3zM273.2 346.1h2.3v3.1h-2.3zM281.2 346.1h4.3v3.1h-4.3zM301.2 346.1h2.3v3.1h-2.3zM83.2 349.0h2.3v3.1h-2.3zM101.2 349.0h2.3v3.1h-2.3zM105.2 349.0h2.3v3.1h-2.3zM123.2 349.0h2.3v3.1h-2.3zM127.2 349.0h2.3v3.1h-2.3zM153.2 349.0h2.3v3.1h-2.3zM235.2 349.0h2.3v3.1h-2.3zM257.2 349.0h2.3v3.1h-2.3zM263.2 349.0h2.3v3.1h-2.3zM285.2 349.0h2.3v3.1h-2.3z"/><path fill="#00bfff" d="M97.2 346.1h2.3v3.1h-2.3zM127.2 346.1h2.3v3.1h-2.3zM171.2 346.1h2.3v3.1h-2.3zM195.2 346.1h2.3v3.1h-2.3zM249.2 346.1h2.3v3.1h-2.3zM261.2 346.1h2.3v3.1h-2.3zM87.2 349.0h2.3v3.1h-2.3zM93.2 349.0h2.3v3.1h-2.3zM131.2 349.0h4.3v3.1h-4.3zM137.2 349.0h2.3v3.1h-2.3zM159.2 349.0h2.3v3.1h-2.3zM169.2 349.0h2.3v3.1h-2.3zM187.2 349.0h2.3v3.1h-2.3zM219.2 349.0h4.3v3.1h-4.3zM231.2 349.0h4.3v3.1h-4.3zM239.2 349.0h2.3v3.1h-2.3zM273.2 349.0h2.3v3.1h-2.3zM279.2 349.0h2.3v3.1h-2.3zM301.2 349.0h4.3v3.1h-4.3zM253.2 351.8h2.3v3.1h-2.3z"/><path fill="#20ffdf" d="M99.2 346.1h2.3v3.1h-2.3zM229.2 346.1h2.3v3.1h-2.3zM259.2 346.1h2.3v3.1h-2.3zM267.2 346.1h2.3v3.1h-2.3zM303.2 346.1h2.3v3.1h-2.3zM161.2 349.0h2.3v3.1h-2.3zM167.2 349.0h2.3v3.1h-2.3z"/><path fill="#00cfff" d="M121.2 346.1h2.3v3.1h-2.3zM133.2 346.1h4.3v3.1h-4.3zM165.2 346.1h2.3v3.1h-2.3zM189.2 346.1h2.3v3.1h-2.3zM231.2 346.1h2.3v3.1h-2.3zM239.2 346.1h2.3v3.1h-2.3zM243.2 346.1h2.3v3.1h-2.3zM253.2 346.1h2.3v3.1h-2.3zM289.2 346.1h2.3v3.1h-2.3zM297.2 346.1h2.3v3.1h-2.3zM79.2 349.0h2.3v3.1h-2.3zM89.2 349.0h2.3v3.1h-2.3zM95.2 349.0h4.3v3.1h-4.3zM107.2 349.0h2.3v3.1h-2.3zM117.2 349.0h2.3v3.1h-2.3zM135.2 349.0h2.3v3.1h-2.3zM139.2 349.0h2.3v3.1h-2.3zM145.2 349.0h2.3v3.1h-2.3zM157.2 349.0h2.3v3.1h-2.3zM185.2 349.0h2.3v3.1h-2.3zM191.2 349.0h2.3v3.1h-2.3zM203.2 349.0h6.3v3.1h-6.3zM223.2 349.0h4.3v3.1h-4.3zM229.2 349.0h2.3v3.1h-2.3zM277.2 349.0h2.3v3.1h-2.3zM287.2 349.0h2.3v3.1h-2.3zM291.2 349.0h2.3v3.1h-2.3zM229.2 351.8h2.3v3.1h-2.3z"/><path fill="#00afff" d="M81.2 349.0h2.3v3.1h-2.3zM113.2 349.0h2.3v3.1h-2.3zM183.2 349.0h2.3v3.1h-2.3zM215.2 349.0h2.3v3.1h-2.3zM243.2 349.0h2.3v3.1h-2.3zM247.2 349.0h2.3v3.1h-2.3zM253.2 349.0h2.3v3.1h-2.3zM305.2 349.0h2.3v3.1h-2.3zM271.2 351.8h2.3v3.1h-2.3z"/><path fill="#30ffcf" d="M85.2 349.0h2.3v3.1h-2.3z"/><path fill="#009fff" d="M111.2 349.0h2.3v3.1h-2.3zM147.2 349.0h2.3v3.1h-2.3zM133.2 351.8h2.3v3.1h-2.3zM285.2 351.8h2.3v3.1h-2.3z"/><path fill="#008fff" d="M297.2 349.0h2.3v3.1h-2.3zM85.2 351.8h2.3v3.1h-2.3zM117.2 351.8h2.3v3.1h-2.3zM141.2 351.8h2.3v3.1h-2.3zM147.2 351.8h2.3v3.1h-2.3zM195.2 351.8h2.3v3.1h-2.3zM213.2 351.8h2.3v3.1h-2.3zM247.2 351.8h2.3v3.1h-2.3zM273.2 351.8h2.3v3.1h-2.3zM297.2 351.8h2.3v3.1h-2.3zM303.2 351.8h2.3v3.1h-2.3z"/><path fill="#0030ff" d="M79.2 351.8h2.3v3.1h-2.3zM107.2 351.8h2.3v3.1h-2.3zM211.2 351.8h2.3v3.1h-2.3zM217.2 351.8h2.3v3.1h-2.3zM239.2 351.8h2.3v3.1h-2.3z"/><path fill="#0040ff" d="M81.2 351.8h2.3v3.1h-2.3zM105.2 351.8h2.3v3.1h-2.3zM149.2 351.8h2.3v3.1h-2.3zM155.2 351.8h2.3v3.1h-2.3zM161.2 351.8h2.3v3.1h-2.3zM191.2 351.8h2.3v3.1h-2.3zM225.2 351.8h2.3v3.1h-2.3zM231.2 351.8h2.3v3.1h-2.3zM241.2 351.8h2.3v3.1h-2.3zM257.2 351.8h2.3v3.1h-2.3zM279.2 351.8h2.3v3.1h-2.3z"/><path fill="#0080ff" d="M83.2 351.8h2.3v3.1h-2.3zM89.2 351.8h2.3v3.1h-2.3zM115.2 351.8h2.3v3.1h-2.3zM123.2 351.8h2.3v3.1h-2.3zM127.2 351.8h2.3v3.1h-2.3zM131.2 351.8h2.3v3.1h-2.3zM135.2 351.8h2.3v3.1h-2.3zM157.2 351.8h2.3v3.1h-2.3zM183.2 351.8h2.3v3.1h-2.3zM263.2 351.8h2.3v3.1h-2.3zM287.2 351.8h4.3v3.1h-4.3z"/><path fill="#0060ff" d="M87.2 351.8h2.3v3.1h-2.3zM91.2 351.8h2.3v3.1h-2.3zM95.2 351.8h2.3v3.1h-2.3zM109.2 351.8h4.3v3.1h-4.3zM153.2 351.8h2.3v3.1h-2.3zM175.2 351.8h4.3v3.1h-4.3zM181.2 351.8h2.3v3.1h-2.3zM185.2 351.8h2.3v3.1h-2.3zM199.2 351.8h2.3v3.1h-2.3zM219.2 351.8h2.3v3.1h-2.3zM223.2 351.8h2.3v3.1h-2.3zM237.2 351.8h2.3v3.1h-2.3zM245.2 351.8h2.3v3.1h-2.3zM251.2 351.8h2.3v3.1h-2.3zM259.2 351.8h4.3v3.1h-4.3zM265.2 351.8h2.3v3.1h-2.3zM269.2 351.8h2.3v3.1h-2.3zM277.2 351.8h2.3v3.1h-2.3zM283.2 351.8h2.3v3.1h-2.3zM291.2 351.8h4.3v3.1h-4.3zM305.2 351.8h2.3v3.1h-2.3z"/><path fill="#0020ff" d="M93.2 351.8h2.3v3.1h-2.3zM167.2 351.8h2.3v3.1h-2.3zM253.2 354.7h2.3v3.1h-2.3z"/><path fill="#0070ff" d="M97.2 351.8h2.3v3.1h-2.3zM101.2 351.8h4.3v3.1h-4.3zM121.2 351.8h2.3v3.1h-2.3zM125.2 351.8h2.3v3.1h-2.3zM139.2 351.8h2.3v3.1h-2.3zM143.2 351.8h2.3v3.1h-2.3zM151.2 351.8h2.3v3.1h-2.3zM159.2 351.8h2.3v3.1h-2.3zM163.2 351.8h2.3v3.1h-2.3zM171.2 351.8h4.3v3.1h-4.3zM179.2 351.8h2.3v3.1h-2.3zM187.2 351.8h4.3v3.1h-4.3zM197.2 351.8h2.3v3.1h-2.3zM201.2 351.8h2.3v3.1h-2.3zM205.2 351.8h2.3v3.1h-2.3zM209.2 351.8h2.3v3.1h-2.3zM227.2 351.8h2.3v3.1h-2.3zM233.2 351.8h2.3v3.1h-2.3zM243.2 351.8h2.3v3.1h-2.3zM281.2 351.8h2.3v3.1h-2.3zM295.2 351.8h2.3v3.1h-2.3zM299.2 351.8h2.3v3.1h-2.3z"/><path fill="#0050ff" d="M99.2 351.8h2.3v3.1h-2.3zM113.2 351.8h2.3v3.1h-2.3zM119.2 351.8h2.3v3.1h-2.3zM129.2 351.8h2.3v3.1h-2.3zM137.2 351.8h2.3v3.1h-2.3zM145.2 351.8h2.3v3.1h-2.3zM165.2 351.8h2.3v3.1h-2.3zM169.2 351.8h2.3v3.1h-2.3zM193.2 351.8h2.3v3.1h-2.3zM203.2 351.8h2.3v3.1h-2.3zM207.2 351.8h2.3v3.1h-2.3zM215.2 351.8h2.3v3.1h-2.3zM221.2 351.8h2.3v3.1h-2.3zM235.2 351.8h2.3v3.1h-2.3zM249.2 351.8h2.3v3.1h-2.3zM255.2 351.8h2.3v3.1h-2.3zM267.2 351.8h2.3v3.1h-2.3zM301.2 351.8h2.3v3.1h-2.3z"/><path fill="#0010ff" d="M275.2 351.8h2.3v3.1h-2.3zM107.2 354.7h6.3v3.1h-6.3zM151.2 354.7h2.3v3.1h-2.3zM175.2 354.7h2.3v3.1h-2.3zM189.2 354.7h2.3v3.1h-2.3zM215.2 354.7h2.3v3.1h-2.3zM219.2 354.7h2.3v3.1h-2.3zM257.2 354.7h2.3v3.1h-2.3zM267.2 354.7h2.3v3.1h-2.3zM289.2 354.7h2.3v3.1h-2.3zM303.2 354.7h2.3v3.1h-2.3z"/><path fill="#0000ef" d="M79.2 354.7h2.3v3.1h-2.3zM93.2 354.7h2.3v3.1h-2.3zM103.2 354.7h2.3v3.1h-2.3zM119.2 354.7h2.3v3.1h-2.3zM123.2 354.7h4.3v3.1h-4.3zM133.2 354.7h2.3v3.1h-2.3zM137.2 354.7h6.3v3.1h-6.3zM153.2 354.7h2.3v3.1h-2.3zM163.2 354.7h4.3v3.1h-4.3zM173.2 354.7h2.3v3.1h-2.3zM191.2 354.7h2.3v3.1h-2.3zM201.2 354.7h2.3v3.1h-2.3zM205.2 354.7h4.3v3.1h-4.3zM211.2 354.7h2.3v3.1h-2.3zM223.2 354.7h6.3v3.1h-6.3zM231.2 354.7h2.3v3.1h-2.3zM235.2 354.7h2.3v3.1h-2.3zM239.2 354.7h2.3v3.1h-2.3zM245.2 354.7h4.3v3.1h-4.3zM263.2 354.7h2.3v3.1h-2.3zM273.2 354.7h2.3v3.1h-2.3zM277.2 354.7h2.3v3.1h-2.3zM285.2 354.7h2.3v3.1h-2.3zM297.2 354.7h4.3v3.1h-4.3zM305.2 354.7h2.3v3.1h-2.3z"/><path fill="#0000df" d="M81.2 354.7h6.3v3.1h-6.3zM113.2 354.7h2.3v3.1h-2.3zM131.2 354.7h2.3v3.1h-2.3zM147.2 354.7h4.3v3.1h-4.3zM159.2 354.7h4.3v3.1h-4.3zM171.2 354.7h2.3v3.1h-2.3zM181.2 354.7h2.3v3.1h-2.3zM185.2 354.7h2.3v3.1h-2.3zM197.2 354.7h2.3v3.1h-2.3zM203.2 354.7h2.3v3.1h-2.3zM213.2 354.7h2.3v3.1h-2.3zM259.2 354.7h4.3v3.1h-4.3zM271.2 354.7h2.3v3.1h-2.3zM283.2 354.7h2.3v3.1h-2.3zM291.2 354.7h4.3v3.1h-4.3z"/><path fill="#0000af" d="M87.2 354.7h2.3v3.1h-2.3z"/><path fill="#0000ff" d="M89.2 354.7h4.3v3.1h-4.3zM95.2 354.7h6.3v3.1h-6.3zM105.2 354.7h2.3v3.1h-2.3zM117.2 354.7h2.3v3.1h-2.3zM121.2 354.7h2.3v3.1h-2.3zM129.2 354.7h2.3v3.1h-2.3zM135.2 354.7h2.3v3.1h-2.3zM143.2 354.7h4.3v3.1h-4.3zM155.2 354.7h4.3v3.1h-4.3zM167.2 354.7h2.3v3.1h-2.3zM179.2 354.7h2.3v3.1h-2.3zM183.2 354.7h2.3v3.1h-2.3zM187.2 354.7h2.3v3.1h-2.3zM193.2 354.7h4.3v3.1h-4.3zM199.2 354.7h2.3v3.1h-2.3zM209.2 354.7h2.3v3.1h-2.3zM217.2 354.7h2.3v3.1h-2.3zM221.2 354.7h2.3v3.1h-2.3zM229.2 354.7h2.3v3.1h-2.3zM251.2 354.7h2.3v3.1h-2.3zM269.2 354.7h2.3v3.1h-2.3zM279.2 354.7h2.3v3.1h-2.3zM287.2 354.7h2.3v3.1h-2.3zM295.2 354.7h2.3v3.1h-2.3zM301.2 354.7h2.3v3.1h-2.3z"/><path fill="#0000bf" d="M101.2 354.7h2.3v3.1h-2.3zM115.2 354.7h2.3v3.1h-2.3zM177.2 354.7h2.3v3.1h-2.3z"/><path fill="#0000cf" d="M127.2 354.7h2.3v3.1h-2.3zM169.2 354.7h2.3v3.1h-2.3zM233.2 354.7h2.3v3.1h-2.3zM237.2 354.7h2.3v3.1h-2.3zM241.2 354.7h4.3v3.1h-4.3zM249.2 354.7h2.3v3.1h-2.3zM255.2 354.7h2.3v3.1h-2.3zM265.2 354.7h2.3v3.1h-2.3zM275.2 354.7h2.3v3.1h-2.3zM281.2 354.7h2.3v3.1h-2.3z"/></g>
</g>
<rect x="79.2" y="346.1" width="227.5" height="189.5" fill="none" stroke="#262626" stroke-width="1.2" />
<line x1="79.2" y1="353.5" x2="82.2" y2="353.5" stroke="#262626" stroke-width="1" />
<line x1="306.7" y1="353.5" x2="303.7" y2="353.5" stroke="#262626" stroke-width="1" />
<line x1="79.2" y1="404" x2="82.2" y2="404" stroke="#262626" stroke-width="1" />
<line x1="306.7" y1="404" x2="303.7" y2="404" stroke="#262626" stroke-width="1" />
<line x1="79.2" y1="454.4" x2="82.2" y2="454.4" stroke="#262626" stroke-width="1" />
<line x1="306.7" y1="454.4" x2="303.7" y2="454.4" stroke="#262626" stroke-width="1" />
<line x1="79.2" y1="505.5" x2="82.2" y2="505.5" stroke="#262626" stroke-width="1" />
<line x1="306.7" y1="505.5" x2="303.7" y2="505.5" stroke="#262626" stroke-width="1" />
<line x1="268.5" y1="535.6" x2="268.5" y2="532.6" stroke="#262626" stroke-width="1" />
<rect x="96.4" y="381.4" width="17.5" height="134.2" fill="url(#cbar)" stroke="#262626" stroke-width="0.8" />
<text x="120.5" y="410.5" font-family='"Liberation Sans", sans-serif' font-size="19" text-anchor="start" fill="#2b1a10" >1</text>
<text x="119.8" y="464.5" font-family='"Liberation Sans", sans-serif' font-size="19" text-anchor="start" fill="#2b1a10" >0.9</text>
<text x="119.8" y="514.5" font-family='"Liberation Sans", sans-serif' font-size="19" text-anchor="start" fill="#2b1a10" >0.8</text>
<path transform="translate(105.0,376.8) rotate(0) scale(0.990) translate(0,-14)" d="M0.6,13 C2,14.2 4.5,13.8 6.2,12.2 C9,9.3 12,4.2 16.2,0.8 M9.2,4.2 C10.8,2 13.5,0.9 17.2,0.6 M17.2,0.6 C16.6,5 16.3,9.2 16.2,13.6 M16.2,13.6 L19.6,12.8 M10.2,8.8 L16.6,8.4" fill="none" stroke="#1a0800" stroke-width="2.0" stroke-linecap="round" stroke-linejoin="round"/>
<line x1="259" y1="367.5" x2="303.5" y2="364.7" stroke="#111" stroke-width="2.4" stroke-dasharray="7,5"/>
<rect x="310.5" y="363.6" width="2" height="2" fill="#111" stroke="none" stroke-width="1" />
<line x1="252" y1="401" x2="243.6" y2="473" stroke="#111" stroke-width="2.4" stroke-dasharray="7,5"/>
<text x="247.5" y="393.5" font-family='"Liberation Sans", sans-serif' font-size="17.5" text-anchor="start" fill="#1a1a1a" >~ km/s</text>
<text x="232.5" y="503.0" font-family='"Liberation Sans", sans-serif' font-size="17.5" text-anchor="start" fill="#1a1a1a" >~m/s</text>
<text x="69.2" y="371.2" font-family='"Liberation Sans", sans-serif' font-size="19.5" text-anchor="end" fill="#262626" >0</text>
<text x="66.2" y="420.8" font-family='"Liberation Sans", sans-serif' font-size="19.5" text-anchor="end" fill="#262626" >-5</text>
<text x="64.0" y="471.5" font-family='"Liberation Sans", sans-serif' font-size="19.5" text-anchor="end" fill="#262626" >-10</text>
<text x="64.0" y="521.8" font-family='"Liberation Sans", sans-serif' font-size="19.5" text-anchor="end" fill="#262626" >-15</text>
<text x="0" y="0" font-family='"Liberation Sans", sans-serif' font-size="19" fill="#262626" text-anchor="middle" transform="translate(38,416) rotate(-90)"><tspan font-style="italic">t</tspan> (ms)</text>
<text x="76.2" y="558.2" font-family='"Liberation Sans", sans-serif' font-size="17.5" text-anchor="middle" fill="#262626" >0</text>
<text x="271.0" y="558.2" font-family='"Liberation Sans", sans-serif' font-size="17.5" text-anchor="middle" fill="#262626" >50</text>
<text x="164.8" y="565" font-family='"Liberation Sans", sans-serif' font-size="18.8" fill="#262626" text-anchor="middle"><tspan font-style="italic">x</tspan> (mm)</text>
<text x="326.2" y="47.4" font-family='"Liberation Sans", sans-serif' font-size="19.5" text-anchor="start" fill="#262626" >(c)</text>
<defs><filter id="cellblur" x="0" y="0" width="100%" height="100%"><feGaussianBlur stdDeviation="0.7"/></filter></defs>
<g filter="url(#cellblur)"><path fill="#ffbf00" d="M378.8 53.3h3.8v4.9h-3.8zM378.8 71.8h3.8v4.9h-3.8zM382.3 71.8h3.8v4.9h-3.8zM385.9 85.7h3.8v4.9h-3.8zM407.1 53.3h3.8v4.9h-3.8zM410.7 62.5h3.8v4.9h-3.8zM410.7 85.7h3.8v4.9h-3.8zM417.8 53.3h3.8v4.9h-3.8zM417.8 67.2h3.8v4.9h-3.8zM421.3 81.0h3.8v4.9h-3.8zM424.9 81.0h3.8v4.9h-3.8zM428.4 76.4h3.8v4.9h-3.8zM435.5 53.3h3.8v4.9h-3.8zM435.5 57.9h3.8v4.9h-3.8zM435.5 81.0h3.8v4.9h-3.8zM439.0 53.3h3.8v4.9h-3.8zM442.6 62.5h3.8v4.9h-3.8zM449.7 85.7h3.8v4.9h-3.8zM467.4 85.7h3.8v4.9h-3.8zM470.9 53.3h3.8v4.9h-3.8zM474.5 85.7h3.8v4.9h-3.8zM502.8 81.0h3.8v4.9h-3.8zM513.4 81.0h3.8v4.9h-3.8zM538.2 53.3h3.8v4.9h-3.8zM548.9 62.5h3.8v4.9h-3.8zM552.4 57.9h3.8v4.9h-3.8zM552.4 67.2h3.8v4.9h-3.8zM556.0 57.9h3.8v4.9h-3.8zM559.5 57.9h3.8v4.9h-3.8zM559.5 71.8h3.8v4.9h-3.8zM580.8 57.9h3.8v4.9h-3.8z"/><path fill="#ffaf00" d="M378.8 57.9h3.8v4.9h-3.8zM382.3 57.9h3.8v4.9h-3.8zM389.4 53.3h3.8v4.9h-3.8zM396.5 62.5h3.8v4.9h-3.8zM400.1 71.8h3.8v4.9h-3.8zM403.6 76.4h3.8v4.9h-3.8zM410.7 76.4h3.8v4.9h-3.8zM424.9 71.8h3.8v4.9h-3.8zM435.5 71.8h3.8v4.9h-3.8zM439.0 62.5h3.8v4.9h-3.8zM439.0 85.7h3.8v4.9h-3.8zM442.6 71.8h3.8v4.9h-3.8zM463.8 85.7h3.8v4.9h-3.8zM474.5 76.4h3.8v4.9h-3.8zM488.6 57.9h3.8v4.9h-3.8zM502.8 85.7h3.8v4.9h-3.8zM513.4 76.4h3.8v4.9h-3.8zM520.5 53.3h3.8v4.9h-3.8zM520.5 76.4h3.8v4.9h-3.8zM520.5 85.7h3.8v4.9h-3.8zM524.1 85.7h3.8v4.9h-3.8zM531.2 67.2h3.8v4.9h-3.8zM538.2 62.5h3.8v4.9h-3.8zM541.8 76.4h3.8v4.9h-3.8zM541.8 81.0h3.8v4.9h-3.8zM559.5 67.2h3.8v4.9h-3.8zM563.1 71.8h3.8v4.9h-3.8zM566.6 53.3h3.8v4.9h-3.8zM570.1 81.0h3.8v4.9h-3.8zM573.7 81.0h3.8v4.9h-3.8z"/><path fill="#ffdf00" d="M378.8 62.5h3.8v4.9h-3.8zM389.4 67.2h3.8v4.9h-3.8zM393.0 85.7h3.8v4.9h-3.8zM396.5 71.8h3.8v4.9h-3.8zM400.1 53.3h3.8v4.9h-3.8zM400.1 85.7h3.8v4.9h-3.8zM414.2 76.4h3.8v4.9h-3.8zM417.8 76.4h3.8v4.9h-3.8zM421.3 53.3h3.8v4.9h-3.8zM424.9 76.4h3.8v4.9h-3.8zM428.4 85.7h3.8v4.9h-3.8zM435.5 62.5h3.8v4.9h-3.8zM439.0 57.9h3.8v4.9h-3.8zM446.1 57.9h3.8v4.9h-3.8zM446.1 71.8h3.8v4.9h-3.8zM446.1 81.0h3.8v4.9h-3.8zM449.7 62.5h3.8v4.9h-3.8zM453.2 71.8h3.8v4.9h-3.8zM453.2 85.7h3.8v4.9h-3.8zM463.8 67.2h3.8v4.9h-3.8zM463.8 81.0h3.8v4.9h-3.8zM467.4 57.9h3.8v4.9h-3.8zM467.4 62.5h3.8v4.9h-3.8zM478.0 71.8h3.8v4.9h-3.8zM481.6 71.8h3.8v4.9h-3.8zM481.6 81.0h3.8v4.9h-3.8zM485.1 76.4h3.8v4.9h-3.8zM488.6 76.4h3.8v4.9h-3.8zM488.6 81.0h3.8v4.9h-3.8zM499.3 67.2h3.8v4.9h-3.8zM506.4 53.3h3.8v4.9h-3.8zM513.4 67.2h3.8v4.9h-3.8zM517.0 76.4h3.8v4.9h-3.8zM517.0 81.0h3.8v4.9h-3.8zM517.0 85.7h3.8v4.9h-3.8zM531.2 62.5h3.8v4.9h-3.8zM538.2 57.9h3.8v4.9h-3.8zM541.8 67.2h3.8v4.9h-3.8zM541.8 85.7h3.8v4.9h-3.8zM545.3 57.9h3.8v4.9h-3.8zM545.3 67.2h3.8v4.9h-3.8zM548.9 71.8h3.8v4.9h-3.8zM556.0 53.3h3.8v4.9h-3.8zM556.0 71.8h3.8v4.9h-3.8zM559.5 76.4h3.8v4.9h-3.8zM566.6 81.0h3.8v4.9h-3.8zM570.1 67.2h3.8v4.9h-3.8zM577.2 71.8h3.8v4.9h-3.8zM580.8 62.5h3.8v4.9h-3.8zM580.8 81.0h3.8v4.9h-3.8zM584.3 62.5h3.8v4.9h-3.8zM584.3 67.2h3.8v4.9h-3.8zM584.3 81.0h3.8v4.9h-3.8z"/><path fill="#ff3000" d="M378.8 67.2h3.8v4.9h-3.8zM403.6 71.8h3.8v4.9h-3.8zM414.2 85.7h3.8v4.9h-3.8zM421.3 62.5h3.8v4.9h-3.8zM439.0 76.4h3.8v4.9h-3.8zM449.7 53.3h3.8v4.9h-3.8zM449.7 76.4h3.8v4.9h-3.8z"/><path fill="#ffcf00" d="M378.8 76.4h3.8v4.9h-3.8zM389.4 71.8h3.8v4.9h-3.8zM396.5 76.4h3.8v4.9h-3.8zM400.1 76.4h3.8v4.9h-3.8zM407.1 62.5h3.8v4.9h-3.8zM414.2 53.3h3.8v4.9h-3.8zM414.2 62.5h3.8v4.9h-3.8zM414.2 67.2h3.8v4.9h-3.8zM414.2 81.0h3.8v4.9h-3.8zM428.4 67.2h3.8v4.9h-3.8zM428.4 81.0h3.8v4.9h-3.8zM431.9 57.9h3.8v4.9h-3.8zM435.5 76.4h3.8v4.9h-3.8zM435.5 85.7h3.8v4.9h-3.8zM442.6 57.9h3.8v4.9h-3.8zM442.6 81.0h3.8v4.9h-3.8zM446.1 76.4h3.8v4.9h-3.8zM449.7 57.9h3.8v4.9h-3.8zM449.7 67.2h3.8v4.9h-3.8zM449.7 81.0h3.8v4.9h-3.8zM456.8 53.3h3.8v4.9h-3.8zM456.8 71.8h3.8v4.9h-3.8zM460.3 81.0h3.8v4.9h-3.8zM463.8 71.8h3.8v4.9h-3.8zM467.4 71.8h3.8v4.9h-3.8zM474.5 71.8h3.8v4.9h-3.8zM478.0 85.7h3.8v4.9h-3.8zM481.6 57.9h3.8v4.9h-3.8zM481.6 85.7h3.8v4.9h-3.8zM499.3 57.9h3.8v4.9h-3.8zM502.8 67.2h3.8v4.9h-3.8zM506.4 85.7h3.8v4.9h-3.8zM509.9 76.4h3.8v4.9h-3.8zM517.0 57.9h3.8v4.9h-3.8zM520.5 57.9h3.8v4.9h-3.8zM520.5 81.0h3.8v4.9h-3.8zM524.1 81.0h3.8v4.9h-3.8zM527.6 71.8h3.8v4.9h-3.8zM531.2 81.0h3.8v4.9h-3.8zM545.3 53.3h3.8v4.9h-3.8zM548.9 57.9h3.8v4.9h-3.8zM548.9 67.2h3.8v4.9h-3.8zM552.4 53.3h3.8v4.9h-3.8zM552.4 76.4h3.8v4.9h-3.8zM556.0 76.4h3.8v4.9h-3.8zM556.0 81.0h3.8v4.9h-3.8zM570.1 85.7h3.8v4.9h-3.8zM573.7 85.7h3.8v4.9h-3.8zM577.2 57.9h3.8v4.9h-3.8zM580.8 67.2h3.8v4.9h-3.8z"/><path fill="#ffef00" d="M378.8 81.0h3.8v4.9h-3.8zM378.8 85.7h3.8v4.9h-3.8zM393.0 53.3h3.8v4.9h-3.8zM407.1 57.9h3.8v4.9h-3.8zM410.7 67.2h3.8v4.9h-3.8zM417.8 71.8h3.8v4.9h-3.8zM424.9 67.2h3.8v4.9h-3.8zM431.9 76.4h3.8v4.9h-3.8zM439.0 67.2h3.8v4.9h-3.8zM453.2 81.0h3.8v4.9h-3.8zM456.8 76.4h3.8v4.9h-3.8zM456.8 81.0h3.8v4.9h-3.8zM467.4 81.0h3.8v4.9h-3.8zM478.0 67.2h3.8v4.9h-3.8zM481.6 67.2h3.8v4.9h-3.8zM481.6 76.4h3.8v4.9h-3.8zM485.1 67.2h3.8v4.9h-3.8zM488.6 85.7h3.8v4.9h-3.8zM492.2 71.8h3.8v4.9h-3.8zM502.8 53.3h3.8v4.9h-3.8zM517.0 53.3h3.8v4.9h-3.8zM520.5 71.8h3.8v4.9h-3.8zM524.1 67.2h3.8v4.9h-3.8zM527.6 85.7h3.8v4.9h-3.8zM531.2 85.7h3.8v4.9h-3.8zM534.7 53.3h3.8v4.9h-3.8zM541.8 57.9h3.8v4.9h-3.8zM545.3 81.0h3.8v4.9h-3.8zM545.3 85.7h3.8v4.9h-3.8zM552.4 81.0h3.8v4.9h-3.8zM556.0 62.5h3.8v4.9h-3.8zM556.0 67.2h3.8v4.9h-3.8zM559.5 53.3h3.8v4.9h-3.8zM559.5 81.0h3.8v4.9h-3.8zM559.5 85.7h3.8v4.9h-3.8zM563.1 81.0h3.8v4.9h-3.8zM566.6 67.2h3.8v4.9h-3.8zM570.1 76.4h3.8v4.9h-3.8zM573.7 57.9h3.8v4.9h-3.8zM573.7 62.5h3.8v4.9h-3.8zM573.7 67.2h3.8v4.9h-3.8zM577.2 67.2h3.8v4.9h-3.8zM577.2 81.0h3.8v4.9h-3.8zM580.8 53.3h3.8v4.9h-3.8zM580.8 71.8h3.8v4.9h-3.8zM584.3 57.9h3.8v4.9h-3.8z"/><path fill="#ff6000" d="M382.3 53.3h3.8v4.9h-3.8zM428.4 53.3h3.8v4.9h-3.8zM467.4 67.2h3.8v4.9h-3.8zM474.5 57.9h3.8v4.9h-3.8zM492.2 62.5h3.8v4.9h-3.8zM513.4 85.7h3.8v4.9h-3.8zM527.6 81.0h3.8v4.9h-3.8zM538.2 71.8h3.8v4.9h-3.8zM556.0 85.7h3.8v4.9h-3.8z"/><path fill="#dfff20" d="M382.3 62.5h3.8v4.9h-3.8zM403.6 57.9h3.8v4.9h-3.8zM403.6 67.2h3.8v4.9h-3.8zM431.9 81.0h3.8v4.9h-3.8zM431.9 85.7h3.8v4.9h-3.8zM442.6 85.7h3.8v4.9h-3.8zM446.1 62.5h3.8v4.9h-3.8zM446.1 67.2h3.8v4.9h-3.8zM449.7 71.8h3.8v4.9h-3.8zM470.9 67.2h3.8v4.9h-3.8zM474.5 67.2h3.8v4.9h-3.8zM478.0 81.0h3.8v4.9h-3.8zM485.1 53.3h3.8v4.9h-3.8zM485.1 85.7h3.8v4.9h-3.8zM495.7 57.9h3.8v4.9h-3.8zM509.9 67.2h3.8v4.9h-3.8zM513.4 53.3h3.8v4.9h-3.8zM513.4 57.9h3.8v4.9h-3.8zM524.1 57.9h3.8v4.9h-3.8zM527.6 62.5h3.8v4.9h-3.8zM527.6 67.2h3.8v4.9h-3.8zM534.7 81.0h3.8v4.9h-3.8zM559.5 62.5h3.8v4.9h-3.8zM563.1 62.5h3.8v4.9h-3.8zM573.7 76.4h3.8v4.9h-3.8z"/><path fill="#ffff00" d="M382.3 67.2h3.8v4.9h-3.8zM382.3 85.7h3.8v4.9h-3.8zM385.9 76.4h3.8v4.9h-3.8zM389.4 62.5h3.8v4.9h-3.8zM389.4 81.0h3.8v4.9h-3.8zM393.0 81.0h3.8v4.9h-3.8zM403.6 53.3h3.8v4.9h-3.8zM403.6 62.5h3.8v4.9h-3.8zM414.2 71.8h3.8v4.9h-3.8zM417.8 62.5h3.8v4.9h-3.8zM417.8 81.0h3.8v4.9h-3.8zM421.3 67.2h3.8v4.9h-3.8zM421.3 71.8h3.8v4.9h-3.8zM421.3 76.4h3.8v4.9h-3.8zM424.9 62.5h3.8v4.9h-3.8zM431.9 62.5h3.8v4.9h-3.8zM442.6 67.2h3.8v4.9h-3.8zM453.2 62.5h3.8v4.9h-3.8zM470.9 57.9h3.8v4.9h-3.8zM470.9 71.8h3.8v4.9h-3.8zM470.9 81.0h3.8v4.9h-3.8zM478.0 76.4h3.8v4.9h-3.8zM485.1 57.9h3.8v4.9h-3.8zM485.1 71.8h3.8v4.9h-3.8zM499.3 53.3h3.8v4.9h-3.8zM502.8 62.5h3.8v4.9h-3.8zM502.8 71.8h3.8v4.9h-3.8zM506.4 62.5h3.8v4.9h-3.8zM509.9 62.5h3.8v4.9h-3.8zM517.0 62.5h3.8v4.9h-3.8zM517.0 67.2h3.8v4.9h-3.8zM524.1 71.8h3.8v4.9h-3.8zM527.6 57.9h3.8v4.9h-3.8zM534.7 57.9h3.8v4.9h-3.8zM534.7 62.5h3.8v4.9h-3.8zM534.7 67.2h3.8v4.9h-3.8zM538.2 67.2h3.8v4.9h-3.8zM538.2 81.0h3.8v4.9h-3.8zM545.3 76.4h3.8v4.9h-3.8zM548.9 81.0h3.8v4.9h-3.8zM552.4 85.7h3.8v4.9h-3.8zM563.1 53.3h3.8v4.9h-3.8zM566.6 71.8h3.8v4.9h-3.8zM570.1 57.9h3.8v4.9h-3.8zM577.2 53.3h3.8v4.9h-3.8zM587.9 67.2h3.8v4.9h-3.8z"/><path fill="#efff10" d="M382.3 76.4h3.8v4.9h-3.8zM385.9 62.5h3.8v4.9h-3.8zM385.9 71.8h3.8v4.9h-3.8zM385.9 81.0h3.8v4.9h-3.8zM396.5 57.9h3.8v4.9h-3.8zM396.5 85.7h3.8v4.9h-3.8zM407.1 67.2h3.8v4.9h-3.8zM410.7 57.9h3.8v4.9h-3.8zM410.7 71.8h3.8v4.9h-3.8zM414.2 57.9h3.8v4.9h-3.8zM421.3 57.9h3.8v4.9h-3.8zM453.2 57.9h3.8v4.9h-3.8zM460.3 76.4h3.8v4.9h-3.8zM463.8 57.9h3.8v4.9h-3.8zM463.8 62.5h3.8v4.9h-3.8zM474.5 53.3h3.8v4.9h-3.8zM474.5 81.0h3.8v4.9h-3.8zM478.0 62.5h3.8v4.9h-3.8zM481.6 62.5h3.8v4.9h-3.8zM485.1 81.0h3.8v4.9h-3.8zM488.6 62.5h3.8v4.9h-3.8zM488.6 71.8h3.8v4.9h-3.8zM492.2 85.7h3.8v4.9h-3.8zM506.4 57.9h3.8v4.9h-3.8zM509.9 57.9h3.8v4.9h-3.8zM509.9 71.8h3.8v4.9h-3.8zM509.9 85.7h3.8v4.9h-3.8zM513.4 71.8h3.8v4.9h-3.8zM517.0 71.8h3.8v4.9h-3.8zM534.7 85.7h3.8v4.9h-3.8zM566.6 57.9h3.8v4.9h-3.8zM587.9 57.9h3.8v4.9h-3.8zM587.9 62.5h3.8v4.9h-3.8zM587.9 76.4h3.8v4.9h-3.8z"/><path fill="#cfff30" d="M382.3 81.0h3.8v4.9h-3.8zM393.0 57.9h3.8v4.9h-3.8zM400.1 57.9h3.8v4.9h-3.8zM417.8 85.7h3.8v4.9h-3.8zM456.8 62.5h3.8v4.9h-3.8zM456.8 85.7h3.8v4.9h-3.8zM470.9 62.5h3.8v4.9h-3.8zM485.1 62.5h3.8v4.9h-3.8zM492.2 57.9h3.8v4.9h-3.8zM492.2 67.2h3.8v4.9h-3.8zM495.7 53.3h3.8v4.9h-3.8zM495.7 76.4h3.8v4.9h-3.8zM499.3 85.7h3.8v4.9h-3.8zM506.4 71.8h3.8v4.9h-3.8zM570.1 53.3h3.8v4.9h-3.8zM573.7 53.3h3.8v4.9h-3.8zM584.3 53.3h3.8v4.9h-3.8zM587.9 53.3h3.8v4.9h-3.8z"/><path fill="#ff5000" d="M385.9 53.3h3.8v4.9h-3.8zM400.1 81.0h3.8v4.9h-3.8zM460.3 67.2h3.8v4.9h-3.8zM502.8 57.9h3.8v4.9h-3.8zM531.2 57.9h3.8v4.9h-3.8z"/><path fill="#ff9f00" d="M385.9 57.9h3.8v4.9h-3.8zM389.4 85.7h3.8v4.9h-3.8zM393.0 67.2h3.8v4.9h-3.8zM396.5 53.3h3.8v4.9h-3.8zM396.5 67.2h3.8v4.9h-3.8zM424.9 57.9h3.8v4.9h-3.8zM428.4 71.8h3.8v4.9h-3.8zM431.9 71.8h3.8v4.9h-3.8zM442.6 53.3h3.8v4.9h-3.8zM446.1 85.7h3.8v4.9h-3.8zM495.7 71.8h3.8v4.9h-3.8zM531.2 71.8h3.8v4.9h-3.8zM538.2 76.4h3.8v4.9h-3.8zM541.8 53.3h3.8v4.9h-3.8zM541.8 62.5h3.8v4.9h-3.8zM563.1 67.2h3.8v4.9h-3.8zM563.1 85.7h3.8v4.9h-3.8z"/><path fill="#afff50" d="M385.9 67.2h3.8v4.9h-3.8zM396.5 81.0h3.8v4.9h-3.8zM407.1 71.8h3.8v4.9h-3.8zM417.8 57.9h3.8v4.9h-3.8zM428.4 62.5h3.8v4.9h-3.8zM456.8 57.9h3.8v4.9h-3.8zM470.9 76.4h3.8v4.9h-3.8zM470.9 85.7h3.8v4.9h-3.8zM495.7 85.7h3.8v4.9h-3.8zM499.3 81.0h3.8v4.9h-3.8zM502.8 76.4h3.8v4.9h-3.8zM509.9 53.3h3.8v4.9h-3.8zM509.9 81.0h3.8v4.9h-3.8zM520.5 67.2h3.8v4.9h-3.8zM566.6 76.4h3.8v4.9h-3.8zM584.3 76.4h3.8v4.9h-3.8z"/><path fill="#bfff40" d="M389.4 57.9h3.8v4.9h-3.8zM400.1 67.2h3.8v4.9h-3.8zM460.3 57.9h3.8v4.9h-3.8zM467.4 76.4h3.8v4.9h-3.8zM495.7 81.0h3.8v4.9h-3.8zM499.3 76.4h3.8v4.9h-3.8zM513.4 62.5h3.8v4.9h-3.8zM538.2 85.7h3.8v4.9h-3.8zM563.1 57.9h3.8v4.9h-3.8zM566.6 62.5h3.8v4.9h-3.8zM570.1 62.5h3.8v4.9h-3.8zM577.2 76.4h3.8v4.9h-3.8zM580.8 85.7h3.8v4.9h-3.8zM584.3 71.8h3.8v4.9h-3.8z"/><path fill="#ff8f00" d="M389.4 76.4h3.8v4.9h-3.8zM393.0 62.5h3.8v4.9h-3.8zM393.0 76.4h3.8v4.9h-3.8zM403.6 81.0h3.8v4.9h-3.8zM431.9 67.2h3.8v4.9h-3.8zM435.5 67.2h3.8v4.9h-3.8zM481.6 53.3h3.8v4.9h-3.8zM541.8 71.8h3.8v4.9h-3.8zM545.3 62.5h3.8v4.9h-3.8zM548.9 76.4h3.8v4.9h-3.8z"/><path fill="#ff8000" d="M393.0 71.8h3.8v4.9h-3.8zM407.1 76.4h3.8v4.9h-3.8zM407.1 85.7h3.8v4.9h-3.8zM439.0 71.8h3.8v4.9h-3.8zM439.0 81.0h3.8v4.9h-3.8zM453.2 53.3h3.8v4.9h-3.8zM463.8 53.3h3.8v4.9h-3.8zM478.0 53.3h3.8v4.9h-3.8zM488.6 67.2h3.8v4.9h-3.8zM492.2 53.3h3.8v4.9h-3.8zM499.3 62.5h3.8v4.9h-3.8zM524.1 62.5h3.8v4.9h-3.8zM524.1 76.4h3.8v4.9h-3.8zM527.6 76.4h3.8v4.9h-3.8zM531.2 76.4h3.8v4.9h-3.8zM545.3 71.8h3.8v4.9h-3.8zM552.4 62.5h3.8v4.9h-3.8zM587.9 85.7h3.8v4.9h-3.8z"/><path fill="#ff1000" d="M400.1 62.5h3.8v4.9h-3.8zM453.2 67.2h3.8v4.9h-3.8zM548.9 53.3h3.8v4.9h-3.8z"/><path fill="#ff7000" d="M403.6 85.7h3.8v4.9h-3.8zM407.1 81.0h3.8v4.9h-3.8zM410.7 53.3h3.8v4.9h-3.8zM424.9 53.3h3.8v4.9h-3.8zM431.9 53.3h3.8v4.9h-3.8zM446.1 53.3h3.8v4.9h-3.8zM460.3 53.3h3.8v4.9h-3.8zM467.4 53.3h3.8v4.9h-3.8zM499.3 71.8h3.8v4.9h-3.8zM520.5 62.5h3.8v4.9h-3.8zM563.1 76.4h3.8v4.9h-3.8zM570.1 71.8h3.8v4.9h-3.8z"/><path fill="#9fff60" d="M410.7 81.0h3.8v4.9h-3.8zM460.3 85.7h3.8v4.9h-3.8zM463.8 76.4h3.8v4.9h-3.8zM492.2 76.4h3.8v4.9h-3.8zM495.7 67.2h3.8v4.9h-3.8zM506.4 67.2h3.8v4.9h-3.8zM506.4 76.4h3.8v4.9h-3.8zM506.4 81.0h3.8v4.9h-3.8zM531.2 53.3h3.8v4.9h-3.8zM580.8 76.4h3.8v4.9h-3.8z"/><path fill="#ff0000" d="M421.3 85.7h3.8v4.9h-3.8z"/><path fill="#ff2000" d="M424.9 85.7h3.8v4.9h-3.8zM488.6 53.3h3.8v4.9h-3.8zM534.7 71.8h3.8v4.9h-3.8z"/><path fill="#ff4000" d="M428.4 57.9h3.8v4.9h-3.8zM524.1 53.3h3.8v4.9h-3.8zM552.4 71.8h3.8v4.9h-3.8zM573.7 71.8h3.8v4.9h-3.8z"/><path fill="#70ff8f" d="M442.6 76.4h3.8v4.9h-3.8zM478.0 57.9h3.8v4.9h-3.8zM527.6 53.3h3.8v4.9h-3.8zM566.6 85.7h3.8v4.9h-3.8zM584.3 85.7h3.8v4.9h-3.8z"/><path fill="#8fff70" d="M453.2 76.4h3.8v4.9h-3.8zM456.8 67.2h3.8v4.9h-3.8zM460.3 62.5h3.8v4.9h-3.8zM460.3 71.8h3.8v4.9h-3.8zM495.7 62.5h3.8v4.9h-3.8zM587.9 71.8h3.8v4.9h-3.8zM587.9 81.0h3.8v4.9h-3.8z"/><path fill="#80ff80" d="M474.5 62.5h3.8v4.9h-3.8zM492.2 81.0h3.8v4.9h-3.8zM534.7 76.4h3.8v4.9h-3.8zM548.9 85.7h3.8v4.9h-3.8zM577.2 62.5h3.8v4.9h-3.8zM577.2 85.7h3.8v4.9h-3.8z"/></g>
<path d="M496.4,90.3 C496.0,89.5 494.8,86.7 494.2,85.3 C493.6,83.9 493.0,83.2 492.9,81.9 C492.8,80.7 493.1,78.7 493.8,77.8 C494.5,76.9 495.7,76.8 497.0,76.7 C498.3,76.6 500.4,76.7 501.5,77.1 C502.6,77.5 503.2,78.3 503.6,79.3 C504.0,80.3 503.8,81.5 503.9,83.3 C503.9,85.1 503.9,89.1 503.9,90.3" fill="none" stroke="#000" stroke-width="1.9"/>
<rect x="378.8" y="53.3" width="212.6" height="37" fill="none" stroke="#2a2410" stroke-width="1.1" />
<text x="374.5" y="65.5" font-family='"Liberation Sans", sans-serif' font-size="19" text-anchor="end" fill="#262626" >5</text>
<text x="374.5" y="96.8" font-family='"Liberation Sans", sans-serif' font-size="19" text-anchor="end" fill="#262626" >0</text>
<text x="491.5" y="44.5" font-family='"Liberation Sans", sans-serif' font-size="19.8" fill="#262626" text-anchor="middle"><tspan font-style="italic">t</tspan><tspan font-size="13" dy="4">1</tspan><tspan dy="-4"> = –11.6 ms</tspan></text>
<g filter="url(#cellblur)"><path fill="#ffbf00" d="M378.8 124.1h3.8v4.9h-3.8zM378.8 151.8h3.8v4.9h-3.8zM382.3 147.2h3.8v4.9h-3.8zM389.4 124.1h3.8v4.9h-3.8zM389.4 138.0h3.8v4.9h-3.8zM403.6 138.0h3.8v4.9h-3.8zM407.1 133.3h3.8v4.9h-3.8zM414.2 124.1h3.8v4.9h-3.8zM414.2 133.3h3.8v4.9h-3.8zM417.8 128.7h3.8v4.9h-3.8zM421.3 133.3h3.8v4.9h-3.8zM421.3 156.5h3.8v4.9h-3.8zM424.9 147.2h3.8v4.9h-3.8zM435.5 142.6h3.8v4.9h-3.8zM439.0 138.0h3.8v4.9h-3.8zM439.0 147.2h3.8v4.9h-3.8zM439.0 156.5h3.8v4.9h-3.8zM442.6 138.0h3.8v4.9h-3.8zM449.7 133.3h3.8v4.9h-3.8zM449.7 147.2h3.8v4.9h-3.8zM453.2 124.1h3.8v4.9h-3.8zM456.8 142.6h3.8v4.9h-3.8zM463.8 142.6h3.8v4.9h-3.8zM470.9 128.7h3.8v4.9h-3.8zM470.9 133.3h3.8v4.9h-3.8zM481.6 156.5h3.8v4.9h-3.8zM492.2 138.0h3.8v4.9h-3.8zM495.7 138.0h3.8v4.9h-3.8zM509.9 128.7h3.8v4.9h-3.8zM509.9 156.5h3.8v4.9h-3.8zM513.4 147.2h3.8v4.9h-3.8zM513.4 151.8h3.8v4.9h-3.8zM517.0 142.6h3.8v4.9h-3.8zM538.2 128.7h3.8v4.9h-3.8zM556.0 147.2h3.8v4.9h-3.8zM559.5 128.7h3.8v4.9h-3.8zM559.5 142.6h3.8v4.9h-3.8zM577.2 142.6h3.8v4.9h-3.8zM580.8 147.2h3.8v4.9h-3.8zM580.8 156.5h3.8v4.9h-3.8zM584.3 156.5h3.8v4.9h-3.8zM587.9 133.3h3.8v4.9h-3.8z"/><path fill="#dfff20" d="M378.8 128.7h3.8v4.9h-3.8zM396.5 138.0h3.8v4.9h-3.8zM400.1 147.2h3.8v4.9h-3.8zM417.8 151.8h3.8v4.9h-3.8zM424.9 133.3h3.8v4.9h-3.8zM424.9 138.0h3.8v4.9h-3.8zM439.0 128.7h3.8v4.9h-3.8zM439.0 142.6h3.8v4.9h-3.8zM460.3 151.8h3.8v4.9h-3.8zM467.4 133.3h3.8v4.9h-3.8zM470.9 138.0h3.8v4.9h-3.8zM499.3 124.1h3.8v4.9h-3.8zM513.4 138.0h3.8v4.9h-3.8zM520.5 133.3h3.8v4.9h-3.8zM527.6 138.0h3.8v4.9h-3.8zM545.3 133.3h3.8v4.9h-3.8zM545.3 156.5h3.8v4.9h-3.8zM552.4 156.5h3.8v4.9h-3.8zM559.5 156.5h3.8v4.9h-3.8zM563.1 142.6h3.8v4.9h-3.8zM573.7 133.3h3.8v4.9h-3.8zM577.2 133.3h3.8v4.9h-3.8zM577.2 151.8h3.8v4.9h-3.8z"/><path fill="#9fff60" d="M378.8 133.3h3.8v4.9h-3.8zM385.9 142.6h3.8v4.9h-3.8zM446.1 156.5h3.8v4.9h-3.8zM449.7 128.7h3.8v4.9h-3.8zM463.8 156.5h3.8v4.9h-3.8zM492.2 147.2h3.8v4.9h-3.8zM492.2 151.8h3.8v4.9h-3.8zM499.3 133.3h3.8v4.9h-3.8zM499.3 151.8h3.8v4.9h-3.8zM502.8 133.3h3.8v4.9h-3.8zM502.8 156.5h3.8v4.9h-3.8zM506.4 138.0h3.8v4.9h-3.8zM527.6 128.7h3.8v4.9h-3.8zM548.9 133.3h3.8v4.9h-3.8zM566.6 151.8h3.8v4.9h-3.8zM570.1 156.5h3.8v4.9h-3.8z"/><path fill="#ff8f00" d="M378.8 138.0h3.8v4.9h-3.8zM396.5 124.1h3.8v4.9h-3.8zM400.1 133.3h3.8v4.9h-3.8zM414.2 151.8h3.8v4.9h-3.8zM417.8 133.3h3.8v4.9h-3.8zM417.8 138.0h3.8v4.9h-3.8zM421.3 147.2h3.8v4.9h-3.8zM431.9 128.7h3.8v4.9h-3.8zM435.5 156.5h3.8v4.9h-3.8zM439.0 124.1h3.8v4.9h-3.8zM446.1 124.1h3.8v4.9h-3.8zM478.0 156.5h3.8v4.9h-3.8zM481.6 124.1h3.8v4.9h-3.8zM509.9 147.2h3.8v4.9h-3.8zM527.6 156.5h3.8v4.9h-3.8zM534.7 151.8h3.8v4.9h-3.8zM534.7 156.5h3.8v4.9h-3.8zM548.9 151.8h3.8v4.9h-3.8zM566.6 156.5h3.8v4.9h-3.8zM587.9 142.6h3.8v4.9h-3.8zM587.9 151.8h3.8v4.9h-3.8z"/><path fill="#ff9f00" d="M378.8 142.6h3.8v4.9h-3.8zM389.4 156.5h3.8v4.9h-3.8zM410.7 124.1h3.8v4.9h-3.8zM410.7 133.3h3.8v4.9h-3.8zM417.8 147.2h3.8v4.9h-3.8zM431.9 151.8h3.8v4.9h-3.8zM435.5 138.0h3.8v4.9h-3.8zM442.6 147.2h3.8v4.9h-3.8zM446.1 147.2h3.8v4.9h-3.8zM460.3 133.3h3.8v4.9h-3.8zM467.4 147.2h3.8v4.9h-3.8zM470.9 147.2h3.8v4.9h-3.8zM499.3 138.0h3.8v4.9h-3.8zM531.2 156.5h3.8v4.9h-3.8zM534.7 138.0h3.8v4.9h-3.8zM573.7 147.2h3.8v4.9h-3.8z"/><path fill="#ffdf00" d="M378.8 147.2h3.8v4.9h-3.8zM385.9 156.5h3.8v4.9h-3.8zM393.0 147.2h3.8v4.9h-3.8zM400.1 138.0h3.8v4.9h-3.8zM400.1 151.8h3.8v4.9h-3.8zM407.1 138.0h3.8v4.9h-3.8zM410.7 147.2h3.8v4.9h-3.8zM424.9 124.1h3.8v4.9h-3.8zM428.4 138.0h3.8v4.9h-3.8zM428.4 147.2h3.8v4.9h-3.8zM431.9 138.0h3.8v4.9h-3.8zM442.6 133.3h3.8v4.9h-3.8zM442.6 151.8h3.8v4.9h-3.8zM449.7 138.0h3.8v4.9h-3.8zM453.2 147.2h3.8v4.9h-3.8zM460.3 147.2h3.8v4.9h-3.8zM463.8 128.7h3.8v4.9h-3.8zM467.4 142.6h3.8v4.9h-3.8zM474.5 156.5h3.8v4.9h-3.8zM478.0 147.2h3.8v4.9h-3.8zM485.1 133.3h3.8v4.9h-3.8zM488.6 133.3h3.8v4.9h-3.8zM492.2 133.3h3.8v4.9h-3.8zM495.7 124.1h3.8v4.9h-3.8zM513.4 156.5h3.8v4.9h-3.8zM517.0 151.8h3.8v4.9h-3.8zM524.1 124.1h3.8v4.9h-3.8zM524.1 138.0h3.8v4.9h-3.8zM527.6 147.2h3.8v4.9h-3.8zM531.2 147.2h3.8v4.9h-3.8zM538.2 147.2h3.8v4.9h-3.8zM541.8 128.7h3.8v4.9h-3.8zM545.3 124.1h3.8v4.9h-3.8zM545.3 128.7h3.8v4.9h-3.8zM548.9 124.1h3.8v4.9h-3.8zM548.9 138.0h3.8v4.9h-3.8zM559.5 147.2h3.8v4.9h-3.8zM563.1 147.2h3.8v4.9h-3.8zM580.8 124.1h3.8v4.9h-3.8zM584.3 138.0h3.8v4.9h-3.8z"/><path fill="#cfff30" d="M378.8 156.5h3.8v4.9h-3.8zM393.0 124.1h3.8v4.9h-3.8zM396.5 142.6h3.8v4.9h-3.8zM396.5 147.2h3.8v4.9h-3.8zM446.1 128.7h3.8v4.9h-3.8zM453.2 138.0h3.8v4.9h-3.8zM456.8 124.1h3.8v4.9h-3.8zM463.8 151.8h3.8v4.9h-3.8zM467.4 156.5h3.8v4.9h-3.8zM488.6 156.5h3.8v4.9h-3.8zM492.2 128.7h3.8v4.9h-3.8zM509.9 138.0h3.8v4.9h-3.8zM520.5 124.1h3.8v4.9h-3.8zM531.2 142.6h3.8v4.9h-3.8zM538.2 124.1h3.8v4.9h-3.8zM541.8 133.3h3.8v4.9h-3.8zM541.8 151.8h3.8v4.9h-3.8zM548.9 156.5h3.8v4.9h-3.8zM552.4 151.8h3.8v4.9h-3.8zM559.5 151.8h3.8v4.9h-3.8zM563.1 138.0h3.8v4.9h-3.8zM570.1 151.8h3.8v4.9h-3.8zM573.7 138.0h3.8v4.9h-3.8zM577.2 156.5h3.8v4.9h-3.8zM580.8 133.3h3.8v4.9h-3.8z"/><path fill="#ffaf00" d="M382.3 124.1h3.8v4.9h-3.8zM385.9 138.0h3.8v4.9h-3.8zM389.4 133.3h3.8v4.9h-3.8zM389.4 151.8h3.8v4.9h-3.8zM393.0 133.3h3.8v4.9h-3.8zM400.1 156.5h3.8v4.9h-3.8zM403.6 142.6h3.8v4.9h-3.8zM403.6 147.2h3.8v4.9h-3.8zM403.6 151.8h3.8v4.9h-3.8zM407.1 124.1h3.8v4.9h-3.8zM407.1 147.2h3.8v4.9h-3.8zM407.1 156.5h3.8v4.9h-3.8zM414.2 147.2h3.8v4.9h-3.8zM421.3 138.0h3.8v4.9h-3.8zM421.3 151.8h3.8v4.9h-3.8zM424.9 156.5h3.8v4.9h-3.8zM431.9 156.5h3.8v4.9h-3.8zM435.5 124.1h3.8v4.9h-3.8zM435.5 151.8h3.8v4.9h-3.8zM439.0 151.8h3.8v4.9h-3.8zM446.1 133.3h3.8v4.9h-3.8zM449.7 142.6h3.8v4.9h-3.8zM463.8 138.0h3.8v4.9h-3.8zM463.8 147.2h3.8v4.9h-3.8zM474.5 151.8h3.8v4.9h-3.8zM524.1 151.8h3.8v4.9h-3.8zM556.0 128.7h3.8v4.9h-3.8zM556.0 133.3h3.8v4.9h-3.8zM563.1 156.5h3.8v4.9h-3.8zM573.7 124.1h3.8v4.9h-3.8zM573.7 128.7h3.8v4.9h-3.8zM587.9 138.0h3.8v4.9h-3.8z"/><path fill="#ffef00" d="M382.3 128.7h3.8v4.9h-3.8zM385.9 133.3h3.8v4.9h-3.8zM389.4 128.7h3.8v4.9h-3.8zM400.1 128.7h3.8v4.9h-3.8zM403.6 124.1h3.8v4.9h-3.8zM417.8 142.6h3.8v4.9h-3.8zM424.9 142.6h3.8v4.9h-3.8zM424.9 151.8h3.8v4.9h-3.8zM435.5 128.7h3.8v4.9h-3.8zM446.1 142.6h3.8v4.9h-3.8zM453.2 142.6h3.8v4.9h-3.8zM456.8 128.7h3.8v4.9h-3.8zM456.8 133.3h3.8v4.9h-3.8zM456.8 151.8h3.8v4.9h-3.8zM456.8 156.5h3.8v4.9h-3.8zM460.3 128.7h3.8v4.9h-3.8zM460.3 142.6h3.8v4.9h-3.8zM467.4 128.7h3.8v4.9h-3.8zM470.9 151.8h3.8v4.9h-3.8zM474.5 124.1h3.8v4.9h-3.8zM474.5 128.7h3.8v4.9h-3.8zM474.5 133.3h3.8v4.9h-3.8zM478.0 124.1h3.8v4.9h-3.8zM481.6 133.3h3.8v4.9h-3.8zM488.6 128.7h3.8v4.9h-3.8zM495.7 128.7h3.8v4.9h-3.8zM502.8 128.7h3.8v4.9h-3.8zM506.4 133.3h3.8v4.9h-3.8zM513.4 142.6h3.8v4.9h-3.8zM517.0 147.2h3.8v4.9h-3.8zM520.5 156.5h3.8v4.9h-3.8zM531.2 133.3h3.8v4.9h-3.8zM531.2 138.0h3.8v4.9h-3.8zM538.2 138.0h3.8v4.9h-3.8zM538.2 142.6h3.8v4.9h-3.8zM545.3 142.6h3.8v4.9h-3.8zM548.9 142.6h3.8v4.9h-3.8zM548.9 147.2h3.8v4.9h-3.8zM556.0 124.1h3.8v4.9h-3.8zM556.0 151.8h3.8v4.9h-3.8zM566.6 128.7h3.8v4.9h-3.8zM566.6 147.2h3.8v4.9h-3.8zM570.1 133.3h3.8v4.9h-3.8zM577.2 128.7h3.8v4.9h-3.8zM584.3 147.2h3.8v4.9h-3.8zM584.3 151.8h3.8v4.9h-3.8z"/><path fill="#bfff40" d="M382.3 133.3h3.8v4.9h-3.8zM428.4 142.6h3.8v4.9h-3.8zM442.6 124.1h3.8v4.9h-3.8zM453.2 133.3h3.8v4.9h-3.8zM456.8 138.0h3.8v4.9h-3.8zM488.6 124.1h3.8v4.9h-3.8zM488.6 142.6h3.8v4.9h-3.8zM488.6 147.2h3.8v4.9h-3.8zM488.6 151.8h3.8v4.9h-3.8zM513.4 128.7h3.8v4.9h-3.8zM517.0 156.5h3.8v4.9h-3.8zM520.5 128.7h3.8v4.9h-3.8zM524.1 128.7h3.8v4.9h-3.8zM524.1 133.3h3.8v4.9h-3.8zM524.1 142.6h3.8v4.9h-3.8zM524.1 147.2h3.8v4.9h-3.8zM527.6 142.6h3.8v4.9h-3.8zM538.2 151.8h3.8v4.9h-3.8zM541.8 124.1h3.8v4.9h-3.8zM541.8 138.0h3.8v4.9h-3.8zM548.9 128.7h3.8v4.9h-3.8zM552.4 128.7h3.8v4.9h-3.8zM573.7 156.5h3.8v4.9h-3.8z"/><path fill="#ffcf00" d="M382.3 138.0h3.8v4.9h-3.8zM382.3 156.5h3.8v4.9h-3.8zM385.9 147.2h3.8v4.9h-3.8zM393.0 151.8h3.8v4.9h-3.8zM396.5 156.5h3.8v4.9h-3.8zM403.6 128.7h3.8v4.9h-3.8zM407.1 151.8h3.8v4.9h-3.8zM410.7 128.7h3.8v4.9h-3.8zM410.7 142.6h3.8v4.9h-3.8zM410.7 151.8h3.8v4.9h-3.8zM414.2 128.7h3.8v4.9h-3.8zM417.8 156.5h3.8v4.9h-3.8zM421.3 128.7h3.8v4.9h-3.8zM424.9 128.7h3.8v4.9h-3.8zM428.4 156.5h3.8v4.9h-3.8zM431.9 133.3h3.8v4.9h-3.8zM435.5 147.2h3.8v4.9h-3.8zM442.6 142.6h3.8v4.9h-3.8zM442.6 156.5h3.8v4.9h-3.8zM449.7 124.1h3.8v4.9h-3.8zM449.7 151.8h3.8v4.9h-3.8zM449.7 156.5h3.8v4.9h-3.8zM453.2 156.5h3.8v4.9h-3.8zM467.4 151.8h3.8v4.9h-3.8zM474.5 147.2h3.8v4.9h-3.8zM485.1 124.1h3.8v4.9h-3.8zM492.2 124.1h3.8v4.9h-3.8zM513.4 124.1h3.8v4.9h-3.8zM513.4 133.3h3.8v4.9h-3.8zM520.5 147.2h3.8v4.9h-3.8zM527.6 124.1h3.8v4.9h-3.8zM531.2 128.7h3.8v4.9h-3.8zM534.7 133.3h3.8v4.9h-3.8zM538.2 133.3h3.8v4.9h-3.8zM538.2 156.5h3.8v4.9h-3.8zM541.8 156.5h3.8v4.9h-3.8zM545.3 138.0h3.8v4.9h-3.8zM552.4 138.0h3.8v4.9h-3.8zM559.5 133.3h3.8v4.9h-3.8zM563.1 151.8h3.8v4.9h-3.8zM566.6 124.1h3.8v4.9h-3.8zM566.6 133.3h3.8v4.9h-3.8zM570.1 124.1h3.8v4.9h-3.8zM573.7 151.8h3.8v4.9h-3.8zM577.2 138.0h3.8v4.9h-3.8zM580.8 151.8h3.8v4.9h-3.8zM584.3 128.7h3.8v4.9h-3.8zM584.3 133.3h3.8v4.9h-3.8zM587.9 124.1h3.8v4.9h-3.8zM587.9 156.5h3.8v4.9h-3.8z"/><path fill="#ffff00" d="M382.3 142.6h3.8v4.9h-3.8zM385.9 124.1h3.8v4.9h-3.8zM389.4 142.6h3.8v4.9h-3.8zM393.0 128.7h3.8v4.9h-3.8zM400.1 124.1h3.8v4.9h-3.8zM407.1 128.7h3.8v4.9h-3.8zM410.7 138.0h3.8v4.9h-3.8zM414.2 138.0h3.8v4.9h-3.8zM414.2 156.5h3.8v4.9h-3.8zM439.0 133.3h3.8v4.9h-3.8zM446.1 151.8h3.8v4.9h-3.8zM453.2 128.7h3.8v4.9h-3.8zM453.2 151.8h3.8v4.9h-3.8zM460.3 124.1h3.8v4.9h-3.8zM460.3 138.0h3.8v4.9h-3.8zM460.3 156.5h3.8v4.9h-3.8zM478.0 151.8h3.8v4.9h-3.8zM481.6 128.7h3.8v4.9h-3.8zM506.4 124.1h3.8v4.9h-3.8zM509.9 124.1h3.8v4.9h-3.8zM520.5 142.6h3.8v4.9h-3.8zM531.2 151.8h3.8v4.9h-3.8zM534.7 142.6h3.8v4.9h-3.8zM541.8 147.2h3.8v4.9h-3.8zM552.4 124.1h3.8v4.9h-3.8zM559.5 124.1h3.8v4.9h-3.8zM566.6 138.0h3.8v4.9h-3.8zM577.2 124.1h3.8v4.9h-3.8zM584.3 142.6h3.8v4.9h-3.8zM587.9 128.7h3.8v4.9h-3.8z"/><path fill="#ff8000" d="M382.3 151.8h3.8v4.9h-3.8zM393.0 156.5h3.8v4.9h-3.8zM396.5 151.8h3.8v4.9h-3.8zM403.6 133.3h3.8v4.9h-3.8zM410.7 156.5h3.8v4.9h-3.8zM428.4 124.1h3.8v4.9h-3.8zM431.9 147.2h3.8v4.9h-3.8zM463.8 124.1h3.8v4.9h-3.8zM467.4 124.1h3.8v4.9h-3.8zM467.4 138.0h3.8v4.9h-3.8zM506.4 156.5h3.8v4.9h-3.8zM509.9 133.3h3.8v4.9h-3.8zM534.7 128.7h3.8v4.9h-3.8zM534.7 147.2h3.8v4.9h-3.8zM545.3 151.8h3.8v4.9h-3.8zM566.6 142.6h3.8v4.9h-3.8zM580.8 142.6h3.8v4.9h-3.8z"/><path fill="#efff10" d="M385.9 128.7h3.8v4.9h-3.8zM389.4 147.2h3.8v4.9h-3.8zM396.5 133.3h3.8v4.9h-3.8zM400.1 142.6h3.8v4.9h-3.8zM428.4 151.8h3.8v4.9h-3.8zM435.5 133.3h3.8v4.9h-3.8zM442.6 128.7h3.8v4.9h-3.8zM470.9 156.5h3.8v4.9h-3.8zM478.0 133.3h3.8v4.9h-3.8zM502.8 138.0h3.8v4.9h-3.8zM506.4 128.7h3.8v4.9h-3.8zM509.9 142.6h3.8v4.9h-3.8zM517.0 128.7h3.8v4.9h-3.8zM517.0 138.0h3.8v4.9h-3.8zM520.5 138.0h3.8v4.9h-3.8zM527.6 133.3h3.8v4.9h-3.8zM531.2 124.1h3.8v4.9h-3.8zM541.8 142.6h3.8v4.9h-3.8zM552.4 133.3h3.8v4.9h-3.8zM552.4 147.2h3.8v4.9h-3.8zM556.0 156.5h3.8v4.9h-3.8zM563.1 124.1h3.8v4.9h-3.8zM563.1 128.7h3.8v4.9h-3.8zM563.1 133.3h3.8v4.9h-3.8zM570.1 142.6h3.8v4.9h-3.8zM570.1 147.2h3.8v4.9h-3.8zM577.2 147.2h3.8v4.9h-3.8zM580.8 128.7h3.8v4.9h-3.8z"/><path fill="#ff7000" d="M385.9 151.8h3.8v4.9h-3.8zM431.9 124.1h3.8v4.9h-3.8zM470.9 124.1h3.8v4.9h-3.8zM559.5 138.0h3.8v4.9h-3.8z"/><path fill="#ff0000" d="M393.0 138.0h3.8v4.9h-3.8z"/><path fill="#ff2000" d="M393.0 142.6h3.8v4.9h-3.8zM556.0 138.0h3.8v4.9h-3.8z"/><path fill="#ff6000" d="M396.5 128.7h3.8v4.9h-3.8zM407.1 142.6h3.8v4.9h-3.8zM414.2 142.6h3.8v4.9h-3.8zM502.8 124.1h3.8v4.9h-3.8zM524.1 156.5h3.8v4.9h-3.8zM580.8 138.0h3.8v4.9h-3.8zM584.3 124.1h3.8v4.9h-3.8zM587.9 147.2h3.8v4.9h-3.8z"/><path fill="#afff50" d="M403.6 156.5h3.8v4.9h-3.8zM417.8 124.1h3.8v4.9h-3.8zM421.3 142.6h3.8v4.9h-3.8zM446.1 138.0h3.8v4.9h-3.8zM481.6 151.8h3.8v4.9h-3.8zM485.1 128.7h3.8v4.9h-3.8zM492.2 142.6h3.8v4.9h-3.8zM506.4 142.6h3.8v4.9h-3.8zM552.4 142.6h3.8v4.9h-3.8zM570.1 138.0h3.8v4.9h-3.8z"/><path fill="#ff3000" d="M421.3 124.1h3.8v4.9h-3.8zM428.4 128.7h3.8v4.9h-3.8zM456.8 147.2h3.8v4.9h-3.8z"/><path fill="#ff5000" d="M428.4 133.3h3.8v4.9h-3.8zM499.3 128.7h3.8v4.9h-3.8zM534.7 124.1h3.8v4.9h-3.8z"/><path fill="#ff4000" d="M431.9 142.6h3.8v4.9h-3.8zM478.0 128.7h3.8v4.9h-3.8zM509.9 151.8h3.8v4.9h-3.8zM517.0 133.3h3.8v4.9h-3.8zM556.0 142.6h3.8v4.9h-3.8zM570.1 128.7h3.8v4.9h-3.8z"/><path fill="#70ff8f" d="M463.8 133.3h3.8v4.9h-3.8zM470.9 142.6h3.8v4.9h-3.8zM478.0 138.0h3.8v4.9h-3.8zM495.7 151.8h3.8v4.9h-3.8zM495.7 156.5h3.8v4.9h-3.8zM502.8 142.6h3.8v4.9h-3.8zM520.5 151.8h3.8v4.9h-3.8z"/><path fill="#80ff80" d="M474.5 138.0h3.8v4.9h-3.8zM474.5 142.6h3.8v4.9h-3.8zM478.0 142.6h3.8v4.9h-3.8zM481.6 138.0h3.8v4.9h-3.8zM485.1 138.0h3.8v4.9h-3.8zM492.2 156.5h3.8v4.9h-3.8zM495.7 142.6h3.8v4.9h-3.8zM499.3 147.2h3.8v4.9h-3.8zM499.3 156.5h3.8v4.9h-3.8zM502.8 147.2h3.8v4.9h-3.8zM517.0 124.1h3.8v4.9h-3.8zM573.7 142.6h3.8v4.9h-3.8z"/><path fill="#60ff9f" d="M481.6 142.6h3.8v4.9h-3.8zM495.7 147.2h3.8v4.9h-3.8zM499.3 142.6h3.8v4.9h-3.8zM506.4 147.2h3.8v4.9h-3.8z"/><path fill="#8fff70" d="M481.6 147.2h3.8v4.9h-3.8zM485.1 142.6h3.8v4.9h-3.8zM485.1 147.2h3.8v4.9h-3.8zM485.1 151.8h3.8v4.9h-3.8zM485.1 156.5h3.8v4.9h-3.8zM488.6 138.0h3.8v4.9h-3.8zM495.7 133.3h3.8v4.9h-3.8zM502.8 151.8h3.8v4.9h-3.8zM506.4 151.8h3.8v4.9h-3.8zM527.6 151.8h3.8v4.9h-3.8zM545.3 147.2h3.8v4.9h-3.8z"/></g>
<path d="M485.5,160.7 C484.8,159.4 482.0,155.1 481.0,153.0 C480.0,150.9 479.7,150.1 479.5,148.0 C479.3,145.9 479.3,142.0 479.8,140.3 C480.3,138.6 480.9,137.9 482.5,137.6 C484.1,137.3 487.8,137.7 489.5,138.5 C491.2,139.3 491.3,141.5 492.7,142.5 C494.1,143.5 495.9,144.0 498.0,144.4 C500.1,144.8 503.3,144.5 505.0,145.0 C506.7,145.5 507.4,146.2 508.0,147.5 C508.6,148.8 508.7,150.8 508.6,153.0 C508.5,155.2 507.7,159.4 507.5,160.7" fill="none" stroke="#000" stroke-width="1.9"/>
<rect x="378.8" y="124.1" width="212.6" height="37" fill="none" stroke="#2a2410" stroke-width="1.1" />
<text x="374.5" y="136.3" font-family='"Liberation Sans", sans-serif' font-size="19" text-anchor="end" fill="#262626" >5</text>
<text x="374.5" y="167.6" font-family='"Liberation Sans", sans-serif' font-size="19" text-anchor="end" fill="#262626" >0</text>
<text x="488" y="115" font-family='"Liberation Sans", sans-serif' font-size="19.8" fill="#262626" text-anchor="middle"><tspan font-style="italic">t</tspan><tspan font-size="13" dy="4">2</tspan><tspan dy="-4"> = –10.0 ms</tspan></text>
<g filter="url(#cellblur)"><path fill="#ff8000" d="M378.8 194.9h3.8v4.9h-3.8zM385.9 194.9h3.8v4.9h-3.8zM393.0 204.2h3.8v4.9h-3.8zM400.1 204.2h3.8v4.9h-3.8zM403.6 227.3h3.8v4.9h-3.8zM439.0 213.4h3.8v4.9h-3.8zM453.2 194.9h3.8v4.9h-3.8zM456.8 227.3h3.8v4.9h-3.8zM485.1 194.9h3.8v4.9h-3.8zM495.7 194.9h3.8v4.9h-3.8zM527.6 222.7h3.8v4.9h-3.8zM548.9 199.5h3.8v4.9h-3.8z"/><path fill="#ffaf00" d="M378.8 199.5h3.8v4.9h-3.8zM396.5 199.5h3.8v4.9h-3.8zM400.1 199.5h3.8v4.9h-3.8zM400.1 208.8h3.8v4.9h-3.8zM414.2 208.8h3.8v4.9h-3.8zM421.3 218.0h3.8v4.9h-3.8zM424.9 194.9h3.8v4.9h-3.8zM424.9 208.8h3.8v4.9h-3.8zM431.9 218.0h3.8v4.9h-3.8zM439.0 208.8h3.8v4.9h-3.8zM453.2 204.2h3.8v4.9h-3.8zM470.9 194.9h3.8v4.9h-3.8zM485.1 199.5h3.8v4.9h-3.8zM513.4 194.9h3.8v4.9h-3.8zM513.4 213.4h3.8v4.9h-3.8zM524.1 204.2h3.8v4.9h-3.8zM531.2 199.5h3.8v4.9h-3.8zM534.7 222.7h3.8v4.9h-3.8zM541.8 204.2h3.8v4.9h-3.8zM545.3 194.9h3.8v4.9h-3.8zM552.4 194.9h3.8v4.9h-3.8zM552.4 208.8h3.8v4.9h-3.8zM559.5 213.4h3.8v4.9h-3.8zM563.1 218.0h3.8v4.9h-3.8zM563.1 227.3h3.8v4.9h-3.8zM584.3 204.2h3.8v4.9h-3.8zM587.9 222.7h3.8v4.9h-3.8zM587.9 227.3h3.8v4.9h-3.8z"/><path fill="#dfff20" d="M378.8 204.2h3.8v4.9h-3.8zM407.1 218.0h3.8v4.9h-3.8zM449.7 222.7h3.8v4.9h-3.8zM449.7 227.3h3.8v4.9h-3.8zM463.8 204.2h3.8v4.9h-3.8zM470.9 204.2h3.8v4.9h-3.8zM478.0 222.7h3.8v4.9h-3.8zM488.6 194.9h3.8v4.9h-3.8zM499.3 194.9h3.8v4.9h-3.8zM502.8 194.9h3.8v4.9h-3.8zM509.9 208.8h3.8v4.9h-3.8zM513.4 199.5h3.8v4.9h-3.8zM513.4 208.8h3.8v4.9h-3.8zM520.5 204.2h3.8v4.9h-3.8zM531.2 204.2h3.8v4.9h-3.8zM531.2 227.3h3.8v4.9h-3.8zM534.7 199.5h3.8v4.9h-3.8zM534.7 227.3h3.8v4.9h-3.8zM538.2 227.3h3.8v4.9h-3.8zM541.8 194.9h3.8v4.9h-3.8z"/><path fill="#9fff60" d="M378.8 208.8h3.8v4.9h-3.8zM414.2 227.3h3.8v4.9h-3.8zM424.9 213.4h3.8v4.9h-3.8zM460.3 227.3h3.8v4.9h-3.8zM470.9 227.3h3.8v4.9h-3.8zM474.5 204.2h3.8v4.9h-3.8zM474.5 222.7h3.8v4.9h-3.8zM481.6 213.4h3.8v4.9h-3.8zM485.1 204.2h3.8v4.9h-3.8zM485.1 218.0h3.8v4.9h-3.8zM485.1 222.7h3.8v4.9h-3.8zM488.6 222.7h3.8v4.9h-3.8zM495.7 227.3h3.8v4.9h-3.8zM502.8 213.4h3.8v4.9h-3.8zM502.8 227.3h3.8v4.9h-3.8zM520.5 199.5h3.8v4.9h-3.8zM524.1 199.5h3.8v4.9h-3.8zM524.1 222.7h3.8v4.9h-3.8zM584.3 199.5h3.8v4.9h-3.8z"/><path fill="#ffdf00" d="M378.8 213.4h3.8v4.9h-3.8zM378.8 227.3h3.8v4.9h-3.8zM382.3 194.9h3.8v4.9h-3.8zM389.4 208.8h3.8v4.9h-3.8zM400.1 213.4h3.8v4.9h-3.8zM400.1 218.0h3.8v4.9h-3.8zM410.7 208.8h3.8v4.9h-3.8zM410.7 227.3h3.8v4.9h-3.8zM414.2 213.4h3.8v4.9h-3.8zM417.8 227.3h3.8v4.9h-3.8zM421.3 204.2h3.8v4.9h-3.8zM424.9 222.7h3.8v4.9h-3.8zM431.9 199.5h3.8v4.9h-3.8zM435.5 208.8h3.8v4.9h-3.8zM435.5 227.3h3.8v4.9h-3.8zM439.0 204.2h3.8v4.9h-3.8zM439.0 227.3h3.8v4.9h-3.8zM442.6 213.4h3.8v4.9h-3.8zM446.1 204.2h3.8v4.9h-3.8zM449.7 218.0h3.8v4.9h-3.8zM456.8 218.0h3.8v4.9h-3.8zM478.0 194.9h3.8v4.9h-3.8zM492.2 194.9h3.8v4.9h-3.8zM499.3 208.8h3.8v4.9h-3.8zM506.4 213.4h3.8v4.9h-3.8zM509.9 204.2h3.8v4.9h-3.8zM520.5 218.0h3.8v4.9h-3.8zM520.5 227.3h3.8v4.9h-3.8zM527.6 204.2h3.8v4.9h-3.8zM531.2 213.4h3.8v4.9h-3.8zM545.3 213.4h3.8v4.9h-3.8zM545.3 222.7h3.8v4.9h-3.8zM545.3 227.3h3.8v4.9h-3.8zM548.9 204.2h3.8v4.9h-3.8zM548.9 222.7h3.8v4.9h-3.8zM552.4 199.5h3.8v4.9h-3.8zM559.5 218.0h3.8v4.9h-3.8zM559.5 222.7h3.8v4.9h-3.8zM570.1 199.5h3.8v4.9h-3.8zM570.1 213.4h3.8v4.9h-3.8zM573.7 199.5h3.8v4.9h-3.8zM580.8 204.2h3.8v4.9h-3.8zM580.8 227.3h3.8v4.9h-3.8zM587.9 208.8h3.8v4.9h-3.8z"/><path fill="#ffbf00" d="M378.8 218.0h3.8v4.9h-3.8zM385.9 218.0h3.8v4.9h-3.8zM389.4 204.2h3.8v4.9h-3.8zM403.6 194.9h3.8v4.9h-3.8zM403.6 222.7h3.8v4.9h-3.8zM414.2 218.0h3.8v4.9h-3.8zM417.8 199.5h3.8v4.9h-3.8zM428.4 194.9h3.8v4.9h-3.8zM428.4 208.8h3.8v4.9h-3.8zM428.4 227.3h3.8v4.9h-3.8zM431.9 194.9h3.8v4.9h-3.8zM449.7 204.2h3.8v4.9h-3.8zM453.2 199.5h3.8v4.9h-3.8zM456.8 208.8h3.8v4.9h-3.8zM488.6 199.5h3.8v4.9h-3.8zM488.6 204.2h3.8v4.9h-3.8zM502.8 204.2h3.8v4.9h-3.8zM502.8 208.8h3.8v4.9h-3.8zM513.4 218.0h3.8v4.9h-3.8zM524.1 227.3h3.8v4.9h-3.8zM527.6 208.8h3.8v4.9h-3.8zM545.3 218.0h3.8v4.9h-3.8zM559.5 208.8h3.8v4.9h-3.8zM563.1 213.4h3.8v4.9h-3.8zM563.1 222.7h3.8v4.9h-3.8zM570.1 194.9h3.8v4.9h-3.8zM577.2 213.4h3.8v4.9h-3.8zM584.3 208.8h3.8v4.9h-3.8z"/><path fill="#ff5000" d="M378.8 222.7h3.8v4.9h-3.8zM407.1 227.3h3.8v4.9h-3.8zM435.5 194.9h3.8v4.9h-3.8zM470.9 199.5h3.8v4.9h-3.8zM513.4 204.2h3.8v4.9h-3.8zM520.5 213.4h3.8v4.9h-3.8zM545.3 199.5h3.8v4.9h-3.8zM556.0 194.9h3.8v4.9h-3.8z"/><path fill="#ffef00" d="M382.3 199.5h3.8v4.9h-3.8zM382.3 222.7h3.8v4.9h-3.8zM393.0 194.9h3.8v4.9h-3.8zM393.0 199.5h3.8v4.9h-3.8zM393.0 218.0h3.8v4.9h-3.8zM396.5 213.4h3.8v4.9h-3.8zM410.7 199.5h3.8v4.9h-3.8zM414.2 222.7h3.8v4.9h-3.8zM417.8 222.7h3.8v4.9h-3.8zM421.3 199.5h3.8v4.9h-3.8zM421.3 213.4h3.8v4.9h-3.8zM424.9 204.2h3.8v4.9h-3.8zM428.4 213.4h3.8v4.9h-3.8zM428.4 222.7h3.8v4.9h-3.8zM431.9 208.8h3.8v4.9h-3.8zM431.9 213.4h3.8v4.9h-3.8zM439.0 218.0h3.8v4.9h-3.8zM439.0 222.7h3.8v4.9h-3.8zM442.6 227.3h3.8v4.9h-3.8zM446.1 208.8h3.8v4.9h-3.8zM449.7 194.9h3.8v4.9h-3.8zM449.7 199.5h3.8v4.9h-3.8zM456.8 204.2h3.8v4.9h-3.8zM460.3 213.4h3.8v4.9h-3.8zM463.8 208.8h3.8v4.9h-3.8zM492.2 199.5h3.8v4.9h-3.8zM495.7 199.5h3.8v4.9h-3.8zM509.9 213.4h3.8v4.9h-3.8zM513.4 222.7h3.8v4.9h-3.8zM531.2 194.9h3.8v4.9h-3.8zM534.7 194.9h3.8v4.9h-3.8zM534.7 213.4h3.8v4.9h-3.8zM534.7 218.0h3.8v4.9h-3.8zM541.8 213.4h3.8v4.9h-3.8zM552.4 213.4h3.8v4.9h-3.8zM552.4 222.7h3.8v4.9h-3.8zM556.0 199.5h3.8v4.9h-3.8zM556.0 218.0h3.8v4.9h-3.8zM563.1 208.8h3.8v4.9h-3.8zM566.6 199.5h3.8v4.9h-3.8zM570.1 204.2h3.8v4.9h-3.8zM577.2 199.5h3.8v4.9h-3.8zM587.9 204.2h3.8v4.9h-3.8z"/><path fill="#ffff00" d="M382.3 204.2h3.8v4.9h-3.8zM382.3 213.4h3.8v4.9h-3.8zM382.3 218.0h3.8v4.9h-3.8zM393.0 213.4h3.8v4.9h-3.8zM396.5 194.9h3.8v4.9h-3.8zM396.5 218.0h3.8v4.9h-3.8zM396.5 222.7h3.8v4.9h-3.8zM396.5 227.3h3.8v4.9h-3.8zM400.1 222.7h3.8v4.9h-3.8zM410.7 194.9h3.8v4.9h-3.8zM410.7 218.0h3.8v4.9h-3.8zM410.7 222.7h3.8v4.9h-3.8zM421.3 222.7h3.8v4.9h-3.8zM428.4 218.0h3.8v4.9h-3.8zM431.9 227.3h3.8v4.9h-3.8zM435.5 213.4h3.8v4.9h-3.8zM446.1 194.9h3.8v4.9h-3.8zM446.1 213.4h3.8v4.9h-3.8zM453.2 227.3h3.8v4.9h-3.8zM467.4 199.5h3.8v4.9h-3.8zM467.4 208.8h3.8v4.9h-3.8zM506.4 208.8h3.8v4.9h-3.8zM517.0 213.4h3.8v4.9h-3.8zM520.5 222.7h3.8v4.9h-3.8zM524.1 218.0h3.8v4.9h-3.8zM527.6 213.4h3.8v4.9h-3.8zM527.6 218.0h3.8v4.9h-3.8zM538.2 194.9h3.8v4.9h-3.8zM538.2 222.7h3.8v4.9h-3.8zM545.3 208.8h3.8v4.9h-3.8zM548.9 194.9h3.8v4.9h-3.8zM548.9 208.8h3.8v4.9h-3.8zM559.5 199.5h3.8v4.9h-3.8zM570.1 208.8h3.8v4.9h-3.8zM570.1 227.3h3.8v4.9h-3.8zM573.7 204.2h3.8v4.9h-3.8zM577.2 204.2h3.8v4.9h-3.8zM580.8 199.5h3.8v4.9h-3.8zM580.8 213.4h3.8v4.9h-3.8zM587.9 199.5h3.8v4.9h-3.8zM587.9 218.0h3.8v4.9h-3.8z"/><path fill="#efff10" d="M382.3 208.8h3.8v4.9h-3.8zM403.6 208.8h3.8v4.9h-3.8zM410.7 213.4h3.8v4.9h-3.8zM414.2 199.5h3.8v4.9h-3.8zM414.2 204.2h3.8v4.9h-3.8zM435.5 218.0h3.8v4.9h-3.8zM435.5 222.7h3.8v4.9h-3.8zM442.6 194.9h3.8v4.9h-3.8zM442.6 199.5h3.8v4.9h-3.8zM442.6 208.8h3.8v4.9h-3.8zM442.6 218.0h3.8v4.9h-3.8zM446.1 222.7h3.8v4.9h-3.8zM453.2 213.4h3.8v4.9h-3.8zM453.2 222.7h3.8v4.9h-3.8zM456.8 199.5h3.8v4.9h-3.8zM456.8 213.4h3.8v4.9h-3.8zM460.3 204.2h3.8v4.9h-3.8zM495.7 204.2h3.8v4.9h-3.8zM509.9 194.9h3.8v4.9h-3.8zM509.9 218.0h3.8v4.9h-3.8zM517.0 218.0h3.8v4.9h-3.8zM517.0 222.7h3.8v4.9h-3.8zM524.1 213.4h3.8v4.9h-3.8zM527.6 194.9h3.8v4.9h-3.8zM527.6 199.5h3.8v4.9h-3.8zM527.6 227.3h3.8v4.9h-3.8zM531.2 208.8h3.8v4.9h-3.8zM534.7 208.8h3.8v4.9h-3.8zM538.2 204.2h3.8v4.9h-3.8zM548.9 227.3h3.8v4.9h-3.8zM552.4 218.0h3.8v4.9h-3.8zM559.5 194.9h3.8v4.9h-3.8zM559.5 227.3h3.8v4.9h-3.8zM566.6 194.9h3.8v4.9h-3.8zM566.6 208.8h3.8v4.9h-3.8zM566.6 218.0h3.8v4.9h-3.8zM573.7 227.3h3.8v4.9h-3.8zM577.2 218.0h3.8v4.9h-3.8zM577.2 227.3h3.8v4.9h-3.8zM580.8 218.0h3.8v4.9h-3.8zM584.3 222.7h3.8v4.9h-3.8z"/><path fill="#ff9f00" d="M382.3 227.3h3.8v4.9h-3.8zM396.5 208.8h3.8v4.9h-3.8zM417.8 208.8h3.8v4.9h-3.8zM417.8 213.4h3.8v4.9h-3.8zM424.9 218.0h3.8v4.9h-3.8zM439.0 194.9h3.8v4.9h-3.8zM449.7 208.8h3.8v4.9h-3.8zM478.0 199.5h3.8v4.9h-3.8zM481.6 194.9h3.8v4.9h-3.8zM509.9 199.5h3.8v4.9h-3.8zM531.2 222.7h3.8v4.9h-3.8zM556.0 204.2h3.8v4.9h-3.8zM556.0 208.8h3.8v4.9h-3.8zM580.8 222.7h3.8v4.9h-3.8z"/><path fill="#ffcf00" d="M385.9 199.5h3.8v4.9h-3.8zM385.9 204.2h3.8v4.9h-3.8zM389.4 199.5h3.8v4.9h-3.8zM389.4 218.0h3.8v4.9h-3.8zM393.0 208.8h3.8v4.9h-3.8zM403.6 199.5h3.8v4.9h-3.8zM403.6 204.2h3.8v4.9h-3.8zM407.1 204.2h3.8v4.9h-3.8zM421.3 208.8h3.8v4.9h-3.8zM421.3 227.3h3.8v4.9h-3.8zM431.9 204.2h3.8v4.9h-3.8zM435.5 204.2h3.8v4.9h-3.8zM446.1 199.5h3.8v4.9h-3.8zM449.7 213.4h3.8v4.9h-3.8zM453.2 218.0h3.8v4.9h-3.8zM456.8 222.7h3.8v4.9h-3.8zM474.5 199.5h3.8v4.9h-3.8zM481.6 199.5h3.8v4.9h-3.8zM499.3 204.2h3.8v4.9h-3.8zM502.8 199.5h3.8v4.9h-3.8zM506.4 204.2h3.8v4.9h-3.8zM524.1 208.8h3.8v4.9h-3.8zM531.2 218.0h3.8v4.9h-3.8zM538.2 213.4h3.8v4.9h-3.8zM541.8 199.5h3.8v4.9h-3.8zM545.3 204.2h3.8v4.9h-3.8zM552.4 204.2h3.8v4.9h-3.8zM556.0 213.4h3.8v4.9h-3.8zM559.5 204.2h3.8v4.9h-3.8zM566.6 213.4h3.8v4.9h-3.8zM573.7 194.9h3.8v4.9h-3.8zM573.7 222.7h3.8v4.9h-3.8zM577.2 208.8h3.8v4.9h-3.8zM580.8 208.8h3.8v4.9h-3.8zM584.3 227.3h3.8v4.9h-3.8z"/><path fill="#ff6000" d="M385.9 208.8h3.8v4.9h-3.8zM407.1 199.5h3.8v4.9h-3.8zM417.8 218.0h3.8v4.9h-3.8zM435.5 199.5h3.8v4.9h-3.8zM463.8 194.9h3.8v4.9h-3.8zM467.4 194.9h3.8v4.9h-3.8zM506.4 199.5h3.8v4.9h-3.8zM566.6 227.3h3.8v4.9h-3.8z"/><path fill="#70ff8f" d="M385.9 213.4h3.8v4.9h-3.8zM463.8 222.7h3.8v4.9h-3.8zM478.0 208.8h3.8v4.9h-3.8zM481.6 208.8h3.8v4.9h-3.8zM481.6 227.3h3.8v4.9h-3.8zM485.1 213.4h3.8v4.9h-3.8zM509.9 222.7h3.8v4.9h-3.8z"/><path fill="#ff8f00" d="M385.9 222.7h3.8v4.9h-3.8zM385.9 227.3h3.8v4.9h-3.8zM400.1 194.9h3.8v4.9h-3.8zM417.8 204.2h3.8v4.9h-3.8zM439.0 199.5h3.8v4.9h-3.8zM453.2 208.8h3.8v4.9h-3.8zM460.3 208.8h3.8v4.9h-3.8zM577.2 222.7h3.8v4.9h-3.8zM584.3 213.4h3.8v4.9h-3.8z"/><path fill="#ff4000" d="M389.4 194.9h3.8v4.9h-3.8zM407.1 194.9h3.8v4.9h-3.8zM556.0 222.7h3.8v4.9h-3.8zM556.0 227.3h3.8v4.9h-3.8z"/><path fill="#cfff30" d="M389.4 213.4h3.8v4.9h-3.8zM403.6 213.4h3.8v4.9h-3.8zM403.6 218.0h3.8v4.9h-3.8zM446.1 218.0h3.8v4.9h-3.8zM467.4 204.2h3.8v4.9h-3.8zM506.4 194.9h3.8v4.9h-3.8zM513.4 227.3h3.8v4.9h-3.8zM520.5 194.9h3.8v4.9h-3.8zM520.5 208.8h3.8v4.9h-3.8zM534.7 204.2h3.8v4.9h-3.8zM538.2 218.0h3.8v4.9h-3.8zM541.8 208.8h3.8v4.9h-3.8zM552.4 227.3h3.8v4.9h-3.8zM563.1 199.5h3.8v4.9h-3.8zM566.6 204.2h3.8v4.9h-3.8zM566.6 222.7h3.8v4.9h-3.8zM570.1 222.7h3.8v4.9h-3.8zM577.2 194.9h3.8v4.9h-3.8zM584.3 218.0h3.8v4.9h-3.8zM587.9 194.9h3.8v4.9h-3.8z"/><path fill="#ff7000" d="M389.4 222.7h3.8v4.9h-3.8zM393.0 222.7h3.8v4.9h-3.8zM396.5 204.2h3.8v4.9h-3.8zM421.3 194.9h3.8v4.9h-3.8zM517.0 194.9h3.8v4.9h-3.8zM548.9 213.4h3.8v4.9h-3.8zM548.9 218.0h3.8v4.9h-3.8z"/><path fill="#afff50" d="M389.4 227.3h3.8v4.9h-3.8zM407.1 208.8h3.8v4.9h-3.8zM424.9 227.3h3.8v4.9h-3.8zM446.1 227.3h3.8v4.9h-3.8zM470.9 213.4h3.8v4.9h-3.8zM470.9 218.0h3.8v4.9h-3.8zM470.9 222.7h3.8v4.9h-3.8zM488.6 218.0h3.8v4.9h-3.8zM499.3 222.7h3.8v4.9h-3.8zM502.8 222.7h3.8v4.9h-3.8zM517.0 204.2h3.8v4.9h-3.8zM517.0 227.3h3.8v4.9h-3.8zM563.1 194.9h3.8v4.9h-3.8zM573.7 208.8h3.8v4.9h-3.8z"/><path fill="#ff3000" d="M393.0 227.3h3.8v4.9h-3.8zM499.3 199.5h3.8v4.9h-3.8zM584.3 194.9h3.8v4.9h-3.8z"/><path fill="#ff0000" d="M400.1 227.3h3.8v4.9h-3.8z"/><path fill="#bfff40" d="M407.1 213.4h3.8v4.9h-3.8zM407.1 222.7h3.8v4.9h-3.8zM410.7 204.2h3.8v4.9h-3.8zM428.4 199.5h3.8v4.9h-3.8zM428.4 204.2h3.8v4.9h-3.8zM442.6 204.2h3.8v4.9h-3.8zM456.8 194.9h3.8v4.9h-3.8zM460.3 194.9h3.8v4.9h-3.8zM460.3 199.5h3.8v4.9h-3.8zM463.8 199.5h3.8v4.9h-3.8zM474.5 194.9h3.8v4.9h-3.8zM481.6 204.2h3.8v4.9h-3.8zM481.6 218.0h3.8v4.9h-3.8zM481.6 222.7h3.8v4.9h-3.8zM492.2 204.2h3.8v4.9h-3.8zM492.2 208.8h3.8v4.9h-3.8zM499.3 227.3h3.8v4.9h-3.8zM517.0 199.5h3.8v4.9h-3.8zM524.1 194.9h3.8v4.9h-3.8zM538.2 208.8h3.8v4.9h-3.8zM541.8 218.0h3.8v4.9h-3.8zM541.8 222.7h3.8v4.9h-3.8zM541.8 227.3h3.8v4.9h-3.8zM563.1 204.2h3.8v4.9h-3.8zM570.1 218.0h3.8v4.9h-3.8zM573.7 213.4h3.8v4.9h-3.8zM573.7 218.0h3.8v4.9h-3.8z"/><path fill="#bf0000" d="M414.2 194.9h3.8v4.9h-3.8z"/><path fill="#ff1000" d="M417.8 194.9h3.8v4.9h-3.8z"/><path fill="#80ff80" d="M424.9 199.5h3.8v4.9h-3.8zM442.6 222.7h3.8v4.9h-3.8zM460.3 222.7h3.8v4.9h-3.8zM467.4 213.4h3.8v4.9h-3.8zM467.4 218.0h3.8v4.9h-3.8zM467.4 222.7h3.8v4.9h-3.8zM474.5 208.8h3.8v4.9h-3.8zM474.5 227.3h3.8v4.9h-3.8zM478.0 213.4h3.8v4.9h-3.8zM478.0 218.0h3.8v4.9h-3.8zM478.0 227.3h3.8v4.9h-3.8zM485.1 208.8h3.8v4.9h-3.8zM485.1 227.3h3.8v4.9h-3.8zM488.6 208.8h3.8v4.9h-3.8zM488.6 227.3h3.8v4.9h-3.8zM492.2 213.4h3.8v4.9h-3.8zM492.2 222.7h3.8v4.9h-3.8zM499.3 213.4h3.8v4.9h-3.8zM502.8 218.0h3.8v4.9h-3.8zM506.4 222.7h3.8v4.9h-3.8zM506.4 227.3h3.8v4.9h-3.8zM580.8 194.9h3.8v4.9h-3.8z"/><path fill="#ff2000" d="M431.9 222.7h3.8v4.9h-3.8z"/><path fill="#60ff9f" d="M460.3 218.0h3.8v4.9h-3.8zM463.8 213.4h3.8v4.9h-3.8zM463.8 227.3h3.8v4.9h-3.8zM467.4 227.3h3.8v4.9h-3.8zM474.5 213.4h3.8v4.9h-3.8zM492.2 227.3h3.8v4.9h-3.8zM495.7 213.4h3.8v4.9h-3.8z"/><path fill="#40ffbf" d="M463.8 218.0h3.8v4.9h-3.8zM517.0 208.8h3.8v4.9h-3.8z"/><path fill="#8fff70" d="M470.9 208.8h3.8v4.9h-3.8zM478.0 204.2h3.8v4.9h-3.8zM488.6 213.4h3.8v4.9h-3.8zM492.2 218.0h3.8v4.9h-3.8zM495.7 208.8h3.8v4.9h-3.8zM495.7 218.0h3.8v4.9h-3.8zM495.7 222.7h3.8v4.9h-3.8zM499.3 218.0h3.8v4.9h-3.8zM538.2 199.5h3.8v4.9h-3.8zM587.9 213.4h3.8v4.9h-3.8z"/><path fill="#50ffaf" d="M474.5 218.0h3.8v4.9h-3.8zM506.4 218.0h3.8v4.9h-3.8zM509.9 227.3h3.8v4.9h-3.8z"/></g>
<path d="M460.4,231.9 C460.5,229.4 459.9,220.1 460.8,216.9 C461.7,213.7 464.1,213.5 466.0,212.9 C467.9,212.3 470.3,214.1 472.0,213.4 C473.7,212.7 474.7,210.5 476.0,208.9 C477.3,207.3 478.7,204.9 480.0,203.9 C481.3,202.9 482.7,202.4 484.0,202.9 C485.3,203.4 486.3,205.4 488.0,206.9 C489.7,208.4 491.8,210.9 494.0,211.9 C496.2,212.9 498.8,212.4 501.0,212.9 C503.2,213.4 505.5,213.6 507.0,214.9 C508.5,216.2 508.8,219.2 510.0,220.9 C511.2,222.6 513.5,223.1 514.0,224.9 C514.5,226.7 513.2,230.7 513.0,231.9" fill="none" stroke="#000" stroke-width="1.9"/>
<rect x="378.8" y="194.9" width="212.6" height="37" fill="none" stroke="#2a2410" stroke-width="1.1" />
<text x="374.5" y="207.1" font-family='"Liberation Sans", sans-serif' font-size="19" text-anchor="end" fill="#262626" >5</text>
<text x="374.5" y="238.4" font-family='"Liberation Sans", sans-serif' font-size="19" text-anchor="end" fill="#262626" >0</text>
<text x="486" y="186.5" font-family='"Liberation Sans", sans-serif' font-size="19.8" fill="#262626" text-anchor="middle"><tspan font-style="italic">t</tspan><tspan font-size="13" dy="4">3</tspan><tspan dy="-4"> = –7.7 ms</tspan></text>
<g filter="url(#cellblur)"><path fill="#ff8000" d="M378.8 265.7h3.8v4.9h-3.8zM378.8 270.3h3.8v4.9h-3.8zM389.4 265.7h3.8v4.9h-3.8zM396.5 265.7h3.8v4.9h-3.8zM410.7 265.7h3.8v4.9h-3.8zM439.0 284.2h3.8v4.9h-3.8zM517.0 288.8h3.8v4.9h-3.8zM527.6 270.3h3.8v4.9h-3.8zM545.3 279.6h3.8v4.9h-3.8zM545.3 288.8h3.8v4.9h-3.8zM577.2 265.7h3.8v4.9h-3.8z"/><path fill="#ff7000" d="M378.8 274.9h3.8v4.9h-3.8zM400.1 288.8h3.8v4.9h-3.8zM403.6 284.2h3.8v4.9h-3.8zM435.5 284.2h3.8v4.9h-3.8zM506.4 265.7h3.8v4.9h-3.8zM524.1 298.1h3.8v4.9h-3.8zM531.2 270.3h3.8v4.9h-3.8zM541.8 293.4h3.8v4.9h-3.8zM552.4 284.2h3.8v4.9h-3.8z"/><path fill="#ffbf00" d="M378.8 279.6h3.8v4.9h-3.8zM382.3 293.4h3.8v4.9h-3.8zM389.4 270.3h3.8v4.9h-3.8zM396.5 293.4h3.8v4.9h-3.8zM403.6 298.1h3.8v4.9h-3.8zM407.1 265.7h3.8v4.9h-3.8zM407.1 293.4h3.8v4.9h-3.8zM410.7 274.9h3.8v4.9h-3.8zM414.2 265.7h3.8v4.9h-3.8zM417.8 279.6h3.8v4.9h-3.8zM417.8 288.8h3.8v4.9h-3.8zM421.3 279.6h3.8v4.9h-3.8zM424.9 293.4h3.8v4.9h-3.8zM428.4 279.6h3.8v4.9h-3.8zM431.9 284.2h3.8v4.9h-3.8zM442.6 284.2h3.8v4.9h-3.8zM492.2 265.7h3.8v4.9h-3.8zM502.8 265.7h3.8v4.9h-3.8zM520.5 274.9h3.8v4.9h-3.8zM520.5 288.8h3.8v4.9h-3.8zM531.2 288.8h3.8v4.9h-3.8zM531.2 298.1h3.8v4.9h-3.8zM534.7 265.7h3.8v4.9h-3.8zM534.7 298.1h3.8v4.9h-3.8zM541.8 288.8h3.8v4.9h-3.8zM548.9 298.1h3.8v4.9h-3.8zM552.4 298.1h3.8v4.9h-3.8zM559.5 270.3h3.8v4.9h-3.8zM559.5 293.4h3.8v4.9h-3.8zM563.1 298.1h3.8v4.9h-3.8zM580.8 270.3h3.8v4.9h-3.8zM587.9 270.3h3.8v4.9h-3.8zM587.9 279.6h3.8v4.9h-3.8z"/><path fill="#9fff60" d="M378.8 284.2h3.8v4.9h-3.8zM393.0 279.6h3.8v4.9h-3.8zM414.2 298.1h3.8v4.9h-3.8zM456.8 298.1h3.8v4.9h-3.8zM463.8 270.3h3.8v4.9h-3.8zM467.4 270.3h3.8v4.9h-3.8zM474.5 274.9h3.8v4.9h-3.8zM478.0 284.2h3.8v4.9h-3.8zM488.6 279.6h3.8v4.9h-3.8zM524.1 284.2h3.8v4.9h-3.8zM531.2 265.7h3.8v4.9h-3.8zM538.2 270.3h3.8v4.9h-3.8zM548.9 284.2h3.8v4.9h-3.8zM556.0 288.8h3.8v4.9h-3.8zM566.6 270.3h3.8v4.9h-3.8z"/><path fill="#ffdf00" d="M378.8 288.8h3.8v4.9h-3.8zM378.8 298.1h3.8v4.9h-3.8zM382.3 265.7h3.8v4.9h-3.8zM385.9 298.1h3.8v4.9h-3.8zM400.1 265.7h3.8v4.9h-3.8zM400.1 274.9h3.8v4.9h-3.8zM403.6 265.7h3.8v4.9h-3.8zM403.6 270.3h3.8v4.9h-3.8zM407.1 270.3h3.8v4.9h-3.8zM407.1 288.8h3.8v4.9h-3.8zM410.7 284.2h3.8v4.9h-3.8zM414.2 288.8h3.8v4.9h-3.8zM414.2 293.4h3.8v4.9h-3.8zM417.8 293.4h3.8v4.9h-3.8zM417.8 298.1h3.8v4.9h-3.8zM421.3 274.9h3.8v4.9h-3.8zM421.3 298.1h3.8v4.9h-3.8zM424.9 288.8h3.8v4.9h-3.8zM431.9 270.3h3.8v4.9h-3.8zM431.9 298.1h3.8v4.9h-3.8zM499.3 265.7h3.8v4.9h-3.8zM517.0 279.6h3.8v4.9h-3.8zM520.5 270.3h3.8v4.9h-3.8zM520.5 284.2h3.8v4.9h-3.8zM520.5 298.1h3.8v4.9h-3.8zM524.1 265.7h3.8v4.9h-3.8zM524.1 270.3h3.8v4.9h-3.8zM524.1 279.6h3.8v4.9h-3.8zM524.1 288.8h3.8v4.9h-3.8zM538.2 298.1h3.8v4.9h-3.8zM556.0 270.3h3.8v4.9h-3.8zM566.6 265.7h3.8v4.9h-3.8zM566.6 284.2h3.8v4.9h-3.8zM566.6 288.8h3.8v4.9h-3.8zM573.7 270.3h3.8v4.9h-3.8zM584.3 265.7h3.8v4.9h-3.8zM584.3 293.4h3.8v4.9h-3.8zM587.9 265.7h3.8v4.9h-3.8zM587.9 293.4h3.8v4.9h-3.8z"/><path fill="#ffcf00" d="M378.8 293.4h3.8v4.9h-3.8zM382.3 298.1h3.8v4.9h-3.8zM385.9 274.9h3.8v4.9h-3.8zM389.4 284.2h3.8v4.9h-3.8zM396.5 288.8h3.8v4.9h-3.8zM400.1 298.1h3.8v4.9h-3.8zM407.1 284.2h3.8v4.9h-3.8zM410.7 270.3h3.8v4.9h-3.8zM414.2 274.9h3.8v4.9h-3.8zM414.2 284.2h3.8v4.9h-3.8zM428.4 265.7h3.8v4.9h-3.8zM428.4 293.4h3.8v4.9h-3.8zM435.5 293.4h3.8v4.9h-3.8zM446.1 265.7h3.8v4.9h-3.8zM453.2 274.9h3.8v4.9h-3.8zM485.1 265.7h3.8v4.9h-3.8zM527.6 284.2h3.8v4.9h-3.8zM541.8 279.6h3.8v4.9h-3.8zM548.9 270.3h3.8v4.9h-3.8zM548.9 279.6h3.8v4.9h-3.8zM556.0 284.2h3.8v4.9h-3.8zM563.1 265.7h3.8v4.9h-3.8zM573.7 293.4h3.8v4.9h-3.8zM587.9 274.9h3.8v4.9h-3.8z"/><path fill="#ff2000" d="M382.3 270.3h3.8v4.9h-3.8zM396.5 298.1h3.8v4.9h-3.8z"/><path fill="#ff8f00" d="M382.3 274.9h3.8v4.9h-3.8zM393.0 293.4h3.8v4.9h-3.8zM421.3 265.7h3.8v4.9h-3.8zM439.0 274.9h3.8v4.9h-3.8zM453.2 279.6h3.8v4.9h-3.8zM474.5 265.7h3.8v4.9h-3.8zM509.9 270.3h3.8v4.9h-3.8zM524.1 274.9h3.8v4.9h-3.8zM541.8 270.3h3.8v4.9h-3.8zM556.0 279.6h3.8v4.9h-3.8z"/><path fill="#cfff30" d="M382.3 279.6h3.8v4.9h-3.8zM385.9 293.4h3.8v4.9h-3.8zM393.0 284.2h3.8v4.9h-3.8zM421.3 284.2h3.8v4.9h-3.8zM442.6 270.3h3.8v4.9h-3.8zM449.7 279.6h3.8v4.9h-3.8zM449.7 284.2h3.8v4.9h-3.8zM517.0 293.4h3.8v4.9h-3.8zM534.7 293.4h3.8v4.9h-3.8zM541.8 298.1h3.8v4.9h-3.8zM563.1 288.8h3.8v4.9h-3.8zM584.3 284.2h3.8v4.9h-3.8z"/><path fill="#afff50" d="M382.3 284.2h3.8v4.9h-3.8zM400.1 284.2h3.8v4.9h-3.8zM428.4 270.3h3.8v4.9h-3.8zM446.1 274.9h3.8v4.9h-3.8zM446.1 279.6h3.8v4.9h-3.8zM463.8 293.4h3.8v4.9h-3.8zM502.8 288.8h3.8v4.9h-3.8zM509.9 298.1h3.8v4.9h-3.8zM513.4 279.6h3.8v4.9h-3.8zM517.0 284.2h3.8v4.9h-3.8zM527.6 274.9h3.8v4.9h-3.8zM577.2 293.4h3.8v4.9h-3.8z"/><path fill="#ffff00" d="M382.3 288.8h3.8v4.9h-3.8zM385.9 279.6h3.8v4.9h-3.8zM393.0 298.1h3.8v4.9h-3.8zM414.2 270.3h3.8v4.9h-3.8zM414.2 279.6h3.8v4.9h-3.8zM417.8 270.3h3.8v4.9h-3.8zM417.8 274.9h3.8v4.9h-3.8zM417.8 284.2h3.8v4.9h-3.8zM421.3 270.3h3.8v4.9h-3.8zM421.3 288.8h3.8v4.9h-3.8zM424.9 284.2h3.8v4.9h-3.8zM431.9 293.4h3.8v4.9h-3.8zM435.5 279.6h3.8v4.9h-3.8zM435.5 298.1h3.8v4.9h-3.8zM449.7 270.3h3.8v4.9h-3.8zM488.6 265.7h3.8v4.9h-3.8zM495.7 265.7h3.8v4.9h-3.8zM513.4 270.3h3.8v4.9h-3.8zM534.7 270.3h3.8v4.9h-3.8zM534.7 288.8h3.8v4.9h-3.8zM538.2 265.7h3.8v4.9h-3.8zM538.2 288.8h3.8v4.9h-3.8zM541.8 274.9h3.8v4.9h-3.8zM545.3 284.2h3.8v4.9h-3.8zM552.4 270.3h3.8v4.9h-3.8zM552.4 293.4h3.8v4.9h-3.8zM559.5 298.1h3.8v4.9h-3.8zM566.6 298.1h3.8v4.9h-3.8zM570.1 265.7h3.8v4.9h-3.8zM570.1 270.3h3.8v4.9h-3.8zM573.7 288.8h3.8v4.9h-3.8zM577.2 288.8h3.8v4.9h-3.8zM580.8 288.8h3.8v4.9h-3.8z"/><path fill="#ff6000" d="M385.9 265.7h3.8v4.9h-3.8zM453.2 288.8h3.8v4.9h-3.8zM527.6 279.6h3.8v4.9h-3.8zM527.6 298.1h3.8v4.9h-3.8z"/><path fill="#ff9f00" d="M385.9 270.3h3.8v4.9h-3.8zM393.0 270.3h3.8v4.9h-3.8zM410.7 279.6h3.8v4.9h-3.8zM424.9 279.6h3.8v4.9h-3.8zM439.0 270.3h3.8v4.9h-3.8zM439.0 293.4h3.8v4.9h-3.8zM442.6 265.7h3.8v4.9h-3.8zM449.7 288.8h3.8v4.9h-3.8zM449.7 293.4h3.8v4.9h-3.8zM527.6 265.7h3.8v4.9h-3.8zM534.7 284.2h3.8v4.9h-3.8zM538.2 274.9h3.8v4.9h-3.8zM545.3 293.4h3.8v4.9h-3.8z"/><path fill="#ffaf00" d="M385.9 284.2h3.8v4.9h-3.8zM385.9 288.8h3.8v4.9h-3.8zM389.4 293.4h3.8v4.9h-3.8zM393.0 288.8h3.8v4.9h-3.8zM400.1 293.4h3.8v4.9h-3.8zM403.6 274.9h3.8v4.9h-3.8zM403.6 279.6h3.8v4.9h-3.8zM403.6 293.4h3.8v4.9h-3.8zM407.1 279.6h3.8v4.9h-3.8zM424.9 274.9h3.8v4.9h-3.8zM435.5 288.8h3.8v4.9h-3.8zM439.0 279.6h3.8v4.9h-3.8zM449.7 265.7h3.8v4.9h-3.8zM517.0 298.1h3.8v4.9h-3.8zM527.6 288.8h3.8v4.9h-3.8zM556.0 298.1h3.8v4.9h-3.8zM570.1 274.9h3.8v4.9h-3.8z"/><path fill="#ffef00" d="M389.4 274.9h3.8v4.9h-3.8zM389.4 288.8h3.8v4.9h-3.8zM389.4 298.1h3.8v4.9h-3.8zM396.5 270.3h3.8v4.9h-3.8zM396.5 279.6h3.8v4.9h-3.8zM410.7 293.4h3.8v4.9h-3.8zM410.7 298.1h3.8v4.9h-3.8zM424.9 265.7h3.8v4.9h-3.8zM424.9 270.3h3.8v4.9h-3.8zM424.9 298.1h3.8v4.9h-3.8zM428.4 284.2h3.8v4.9h-3.8zM428.4 298.1h3.8v4.9h-3.8zM431.9 279.6h3.8v4.9h-3.8zM446.1 293.4h3.8v4.9h-3.8zM449.7 274.9h3.8v4.9h-3.8zM453.2 265.7h3.8v4.9h-3.8zM453.2 298.1h3.8v4.9h-3.8zM470.9 265.7h3.8v4.9h-3.8zM478.0 265.7h3.8v4.9h-3.8zM513.4 265.7h3.8v4.9h-3.8zM520.5 265.7h3.8v4.9h-3.8zM520.5 293.4h3.8v4.9h-3.8zM524.1 293.4h3.8v4.9h-3.8zM531.2 284.2h3.8v4.9h-3.8zM541.8 284.2h3.8v4.9h-3.8zM548.9 265.7h3.8v4.9h-3.8zM552.4 265.7h3.8v4.9h-3.8zM559.5 265.7h3.8v4.9h-3.8zM559.5 288.8h3.8v4.9h-3.8zM563.1 274.9h3.8v4.9h-3.8zM570.1 284.2h3.8v4.9h-3.8zM573.7 265.7h3.8v4.9h-3.8zM577.2 270.3h3.8v4.9h-3.8zM580.8 284.2h3.8v4.9h-3.8zM580.8 293.4h3.8v4.9h-3.8zM584.3 298.1h3.8v4.9h-3.8zM587.9 298.1h3.8v4.9h-3.8z"/><path fill="#dfff20" d="M389.4 279.6h3.8v4.9h-3.8zM400.1 270.3h3.8v4.9h-3.8zM400.1 279.6h3.8v4.9h-3.8zM410.7 288.8h3.8v4.9h-3.8zM428.4 274.9h3.8v4.9h-3.8zM435.5 274.9h3.8v4.9h-3.8zM446.1 288.8h3.8v4.9h-3.8zM453.2 284.2h3.8v4.9h-3.8zM513.4 274.9h3.8v4.9h-3.8zM534.7 274.9h3.8v4.9h-3.8zM534.7 279.6h3.8v4.9h-3.8zM545.3 265.7h3.8v4.9h-3.8zM545.3 274.9h3.8v4.9h-3.8zM545.3 298.1h3.8v4.9h-3.8zM548.9 293.4h3.8v4.9h-3.8zM552.4 279.6h3.8v4.9h-3.8zM559.5 274.9h3.8v4.9h-3.8zM563.1 279.6h3.8v4.9h-3.8zM563.1 284.2h3.8v4.9h-3.8zM566.6 279.6h3.8v4.9h-3.8zM570.1 293.4h3.8v4.9h-3.8zM570.1 298.1h3.8v4.9h-3.8zM573.7 284.2h3.8v4.9h-3.8zM573.7 298.1h3.8v4.9h-3.8zM577.2 274.9h3.8v4.9h-3.8zM580.8 274.9h3.8v4.9h-3.8zM580.8 298.1h3.8v4.9h-3.8zM584.3 279.6h3.8v4.9h-3.8z"/><path fill="#ff4000" d="M393.0 265.7h3.8v4.9h-3.8zM396.5 274.9h3.8v4.9h-3.8zM435.5 265.7h3.8v4.9h-3.8zM439.0 265.7h3.8v4.9h-3.8zM446.1 284.2h3.8v4.9h-3.8zM449.7 298.1h3.8v4.9h-3.8zM453.2 270.3h3.8v4.9h-3.8zM527.6 293.4h3.8v4.9h-3.8z"/><path fill="#bfff40" d="M393.0 274.9h3.8v4.9h-3.8zM435.5 270.3h3.8v4.9h-3.8zM442.6 274.9h3.8v4.9h-3.8zM442.6 293.4h3.8v4.9h-3.8zM488.6 274.9h3.8v4.9h-3.8zM517.0 265.7h3.8v4.9h-3.8zM517.0 270.3h3.8v4.9h-3.8zM541.8 265.7h3.8v4.9h-3.8zM548.9 288.8h3.8v4.9h-3.8zM556.0 293.4h3.8v4.9h-3.8zM559.5 279.6h3.8v4.9h-3.8zM559.5 284.2h3.8v4.9h-3.8zM566.6 274.9h3.8v4.9h-3.8z"/><path fill="#efff10" d="M396.5 284.2h3.8v4.9h-3.8zM403.6 288.8h3.8v4.9h-3.8zM407.1 274.9h3.8v4.9h-3.8zM431.9 274.9h3.8v4.9h-3.8zM431.9 288.8h3.8v4.9h-3.8zM439.0 298.1h3.8v4.9h-3.8zM442.6 288.8h3.8v4.9h-3.8zM446.1 270.3h3.8v4.9h-3.8zM446.1 298.1h3.8v4.9h-3.8zM453.2 293.4h3.8v4.9h-3.8zM481.6 265.7h3.8v4.9h-3.8zM517.0 274.9h3.8v4.9h-3.8zM520.5 279.6h3.8v4.9h-3.8zM531.2 274.9h3.8v4.9h-3.8zM531.2 279.6h3.8v4.9h-3.8zM531.2 293.4h3.8v4.9h-3.8zM538.2 279.6h3.8v4.9h-3.8zM538.2 284.2h3.8v4.9h-3.8zM545.3 270.3h3.8v4.9h-3.8zM548.9 274.9h3.8v4.9h-3.8zM556.0 265.7h3.8v4.9h-3.8zM556.0 274.9h3.8v4.9h-3.8zM563.1 293.4h3.8v4.9h-3.8zM566.6 293.4h3.8v4.9h-3.8zM580.8 279.6h3.8v4.9h-3.8zM584.3 274.9h3.8v4.9h-3.8zM584.3 288.8h3.8v4.9h-3.8z"/><path fill="#80ff80" d="M407.1 298.1h3.8v4.9h-3.8zM460.3 274.9h3.8v4.9h-3.8zM460.3 298.1h3.8v4.9h-3.8zM463.8 284.2h3.8v4.9h-3.8zM470.9 293.4h3.8v4.9h-3.8zM499.3 279.6h3.8v4.9h-3.8zM502.8 274.9h3.8v4.9h-3.8zM502.8 293.4h3.8v4.9h-3.8zM509.9 265.7h3.8v4.9h-3.8zM538.2 293.4h3.8v4.9h-3.8zM563.1 270.3h3.8v4.9h-3.8zM570.1 288.8h3.8v4.9h-3.8zM573.7 274.9h3.8v4.9h-3.8zM587.9 284.2h3.8v4.9h-3.8zM587.9 288.8h3.8v4.9h-3.8z"/><path fill="#ff5000" d="M417.8 265.7h3.8v4.9h-3.8zM421.3 293.4h3.8v4.9h-3.8zM428.4 288.8h3.8v4.9h-3.8zM580.8 265.7h3.8v4.9h-3.8zM584.3 270.3h3.8v4.9h-3.8z"/><path fill="#ff0000" d="M431.9 265.7h3.8v4.9h-3.8z"/><path fill="#ff3000" d="M439.0 288.8h3.8v4.9h-3.8zM442.6 279.6h3.8v4.9h-3.8zM552.4 274.9h3.8v4.9h-3.8z"/><path fill="#8fff70" d="M442.6 298.1h3.8v4.9h-3.8zM456.8 288.8h3.8v4.9h-3.8zM460.3 293.4h3.8v4.9h-3.8zM463.8 265.7h3.8v4.9h-3.8zM463.8 274.9h3.8v4.9h-3.8zM470.9 270.3h3.8v4.9h-3.8zM470.9 274.9h3.8v4.9h-3.8zM488.6 270.3h3.8v4.9h-3.8zM492.2 293.4h3.8v4.9h-3.8zM495.7 298.1h3.8v4.9h-3.8zM513.4 298.1h3.8v4.9h-3.8zM552.4 288.8h3.8v4.9h-3.8zM570.1 279.6h3.8v4.9h-3.8zM573.7 279.6h3.8v4.9h-3.8zM577.2 279.6h3.8v4.9h-3.8zM577.2 298.1h3.8v4.9h-3.8z"/><path fill="#10ffef" d="M456.8 265.7h3.8v4.9h-3.8zM474.5 293.4h3.8v4.9h-3.8zM481.6 274.9h3.8v4.9h-3.8zM488.6 288.8h3.8v4.9h-3.8zM499.3 293.4h3.8v4.9h-3.8z"/><path fill="#60ff9f" d="M456.8 270.3h3.8v4.9h-3.8zM456.8 293.4h3.8v4.9h-3.8zM467.4 265.7h3.8v4.9h-3.8zM467.4 274.9h3.8v4.9h-3.8zM467.4 284.2h3.8v4.9h-3.8zM467.4 288.8h3.8v4.9h-3.8zM467.4 298.1h3.8v4.9h-3.8zM481.6 284.2h3.8v4.9h-3.8zM485.1 270.3h3.8v4.9h-3.8zM485.1 293.4h3.8v4.9h-3.8zM488.6 284.2h3.8v4.9h-3.8zM492.2 288.8h3.8v4.9h-3.8zM492.2 298.1h3.8v4.9h-3.8zM495.7 274.9h3.8v4.9h-3.8zM495.7 279.6h3.8v4.9h-3.8zM495.7 293.4h3.8v4.9h-3.8zM502.8 298.1h3.8v4.9h-3.8zM506.4 274.9h3.8v4.9h-3.8zM506.4 279.6h3.8v4.9h-3.8zM506.4 284.2h3.8v4.9h-3.8zM509.9 274.9h3.8v4.9h-3.8zM513.4 284.2h3.8v4.9h-3.8zM513.4 288.8h3.8v4.9h-3.8z"/><path fill="#40ffbf" d="M456.8 274.9h3.8v4.9h-3.8zM456.8 284.2h3.8v4.9h-3.8zM463.8 298.1h3.8v4.9h-3.8zM474.5 279.6h3.8v4.9h-3.8zM478.0 288.8h3.8v4.9h-3.8zM481.6 293.4h3.8v4.9h-3.8zM481.6 298.1h3.8v4.9h-3.8zM485.1 298.1h3.8v4.9h-3.8zM488.6 293.4h3.8v4.9h-3.8zM488.6 298.1h3.8v4.9h-3.8zM499.3 270.3h3.8v4.9h-3.8zM499.3 284.2h3.8v4.9h-3.8zM502.8 270.3h3.8v4.9h-3.8zM506.4 298.1h3.8v4.9h-3.8zM509.9 288.8h3.8v4.9h-3.8z"/><path fill="#50ffaf" d="M456.8 279.6h3.8v4.9h-3.8zM470.9 279.6h3.8v4.9h-3.8zM474.5 270.3h3.8v4.9h-3.8zM478.0 274.9h3.8v4.9h-3.8zM485.1 274.9h3.8v4.9h-3.8zM485.1 288.8h3.8v4.9h-3.8zM492.2 284.2h3.8v4.9h-3.8zM499.3 274.9h3.8v4.9h-3.8zM499.3 288.8h3.8v4.9h-3.8zM502.8 279.6h3.8v4.9h-3.8zM506.4 288.8h3.8v4.9h-3.8zM509.9 284.2h3.8v4.9h-3.8z"/><path fill="#20ffdf" d="M460.3 265.7h3.8v4.9h-3.8zM460.3 279.6h3.8v4.9h-3.8zM470.9 284.2h3.8v4.9h-3.8zM478.0 293.4h3.8v4.9h-3.8zM481.6 288.8h3.8v4.9h-3.8zM485.1 279.6h3.8v4.9h-3.8zM492.2 274.9h3.8v4.9h-3.8zM502.8 284.2h3.8v4.9h-3.8zM509.9 279.6h3.8v4.9h-3.8zM513.4 293.4h3.8v4.9h-3.8z"/><path fill="#70ff8f" d="M460.3 270.3h3.8v4.9h-3.8zM460.3 288.8h3.8v4.9h-3.8zM463.8 288.8h3.8v4.9h-3.8zM467.4 293.4h3.8v4.9h-3.8zM470.9 288.8h3.8v4.9h-3.8zM470.9 298.1h3.8v4.9h-3.8zM474.5 298.1h3.8v4.9h-3.8zM478.0 279.6h3.8v4.9h-3.8zM478.0 298.1h3.8v4.9h-3.8zM485.1 284.2h3.8v4.9h-3.8zM492.2 270.3h3.8v4.9h-3.8zM492.2 279.6h3.8v4.9h-3.8zM495.7 270.3h3.8v4.9h-3.8zM499.3 298.1h3.8v4.9h-3.8zM506.4 270.3h3.8v4.9h-3.8zM506.4 293.4h3.8v4.9h-3.8zM509.9 293.4h3.8v4.9h-3.8z"/><path fill="#30ffcf" d="M460.3 284.2h3.8v4.9h-3.8zM463.8 279.6h3.8v4.9h-3.8zM467.4 279.6h3.8v4.9h-3.8zM474.5 284.2h3.8v4.9h-3.8zM474.5 288.8h3.8v4.9h-3.8zM481.6 270.3h3.8v4.9h-3.8zM481.6 279.6h3.8v4.9h-3.8zM495.7 288.8h3.8v4.9h-3.8z"/><path fill="#00efff" d="M478.0 270.3h3.8v4.9h-3.8z"/><path fill="#00dfff" d="M495.7 284.2h3.8v4.9h-3.8z"/><path fill="#ff1000" d="M577.2 284.2h3.8v4.9h-3.8z"/></g>
<path d="M455.5,302.7 C455.8,301.2 457.5,297.2 457.5,293.7 C457.5,290.2 455.9,286.0 455.5,281.7 C455.1,277.4 454.6,270.4 455.0,267.7 C455.4,265.0 455.8,266.0 458.0,265.7 C460.2,265.4 465.7,265.2 468.0,265.7 C470.3,266.2 470.3,267.7 472.0,268.7 C473.7,269.7 476.0,271.7 478.0,271.7 C480.0,271.7 482.0,269.0 484.0,268.7 C486.0,268.4 488.0,269.4 490.0,269.7 C492.0,270.0 494.0,270.7 496.0,270.7 C498.0,270.7 499.8,269.5 502.0,269.7 C504.2,269.9 507.3,270.4 509.0,271.7 C510.7,273.0 510.8,275.0 512.0,277.7 C513.2,280.4 515.0,284.7 516.0,287.7 C517.0,290.7 517.8,293.2 518.2,295.7 C518.6,298.2 518.2,301.5 518.2,302.7" fill="none" stroke="#000" stroke-width="1.9"/>
<rect x="378.8" y="265.7" width="212.6" height="37" fill="none" stroke="#2a2410" stroke-width="1.1" />
<text x="374.5" y="277.9" font-family='"Liberation Sans", sans-serif' font-size="19" text-anchor="end" fill="#262626" >5</text>
<text x="374.5" y="309.2" font-family='"Liberation Sans", sans-serif' font-size="19" text-anchor="end" fill="#262626" >0</text>
<text x="511" y="257.8" font-family='"Liberation Sans", sans-serif' font-size="19.8" fill="#262626" text-anchor="middle"><tspan font-style="italic">t</tspan><tspan font-size="13" dy="4">4</tspan><tspan dy="-4"> = –4.7 ms (</tspan><tspan font-style="italic" fill="#e0202a">t</tspan><tspan font-size="13" dy="4" fill="#e0202a">trans</tspan><tspan dy="-4">)</tspan></text>
<g filter="url(#cellblur)"><path fill="#ffcf00" d="M378.8 336.5h3.8v4.9h-3.8zM378.8 341.1h3.8v4.9h-3.8zM382.3 341.1h3.8v4.9h-3.8zM382.3 350.4h3.8v4.9h-3.8zM385.9 345.8h3.8v4.9h-3.8zM389.4 350.4h3.8v4.9h-3.8zM389.4 364.2h3.8v4.9h-3.8zM396.5 355.0h3.8v4.9h-3.8zM396.5 364.2h3.8v4.9h-3.8zM403.6 350.4h3.8v4.9h-3.8zM407.1 350.4h3.8v4.9h-3.8zM407.1 368.9h3.8v4.9h-3.8zM410.7 368.9h3.8v4.9h-3.8zM421.3 359.6h3.8v4.9h-3.8zM424.9 350.4h3.8v4.9h-3.8zM439.0 355.0h3.8v4.9h-3.8zM524.1 336.5h3.8v4.9h-3.8zM524.1 350.4h3.8v4.9h-3.8zM524.1 359.6h3.8v4.9h-3.8zM538.2 355.0h3.8v4.9h-3.8zM541.8 364.2h3.8v4.9h-3.8zM541.8 368.9h3.8v4.9h-3.8zM556.0 345.8h3.8v4.9h-3.8zM556.0 359.6h3.8v4.9h-3.8zM577.2 368.9h3.8v4.9h-3.8z"/><path fill="#afff50" d="M378.8 345.8h3.8v4.9h-3.8zM403.6 368.9h3.8v4.9h-3.8zM414.2 364.2h3.8v4.9h-3.8zM538.2 350.4h3.8v4.9h-3.8zM570.1 345.8h3.8v4.9h-3.8zM573.7 368.9h3.8v4.9h-3.8zM577.2 341.1h3.8v4.9h-3.8zM587.9 350.4h3.8v4.9h-3.8z"/><path fill="#efff10" d="M378.8 350.4h3.8v4.9h-3.8zM393.0 341.1h3.8v4.9h-3.8zM393.0 350.4h3.8v4.9h-3.8zM393.0 364.2h3.8v4.9h-3.8zM400.1 341.1h3.8v4.9h-3.8zM400.1 359.6h3.8v4.9h-3.8zM403.6 341.1h3.8v4.9h-3.8zM403.6 364.2h3.8v4.9h-3.8zM407.1 336.5h3.8v4.9h-3.8zM520.5 341.1h3.8v4.9h-3.8zM524.1 355.0h3.8v4.9h-3.8zM534.7 359.6h3.8v4.9h-3.8zM541.8 341.1h3.8v4.9h-3.8zM545.3 368.9h3.8v4.9h-3.8zM548.9 350.4h3.8v4.9h-3.8zM548.9 359.6h3.8v4.9h-3.8zM552.4 345.8h3.8v4.9h-3.8zM563.1 368.9h3.8v4.9h-3.8zM573.7 336.5h3.8v4.9h-3.8zM573.7 345.8h3.8v4.9h-3.8zM577.2 350.4h3.8v4.9h-3.8zM577.2 355.0h3.8v4.9h-3.8zM584.3 355.0h3.8v4.9h-3.8zM584.3 364.2h3.8v4.9h-3.8z"/><path fill="#70ff8f" d="M378.8 355.0h3.8v4.9h-3.8z"/><path fill="#ff5000" d="M378.8 359.6h3.8v4.9h-3.8zM389.4 336.5h3.8v4.9h-3.8zM417.8 336.5h3.8v4.9h-3.8zM421.3 336.5h3.8v4.9h-3.8zM570.1 359.6h3.8v4.9h-3.8z"/><path fill="#ffaf00" d="M378.8 364.2h3.8v4.9h-3.8zM382.3 364.2h3.8v4.9h-3.8zM382.3 368.9h3.8v4.9h-3.8zM385.9 341.1h3.8v4.9h-3.8zM385.9 350.4h3.8v4.9h-3.8zM393.0 355.0h3.8v4.9h-3.8zM410.7 345.8h3.8v4.9h-3.8zM417.8 355.0h3.8v4.9h-3.8zM421.3 341.1h3.8v4.9h-3.8zM424.9 341.1h3.8v4.9h-3.8zM424.9 355.0h3.8v4.9h-3.8zM431.9 345.8h3.8v4.9h-3.8zM435.5 336.5h3.8v4.9h-3.8zM435.5 355.0h3.8v4.9h-3.8zM439.0 368.9h3.8v4.9h-3.8zM527.6 341.1h3.8v4.9h-3.8zM541.8 336.5h3.8v4.9h-3.8zM548.9 336.5h3.8v4.9h-3.8zM556.0 350.4h3.8v4.9h-3.8zM559.5 336.5h3.8v4.9h-3.8zM559.5 345.8h3.8v4.9h-3.8zM559.5 355.0h3.8v4.9h-3.8zM573.7 364.2h3.8v4.9h-3.8zM580.8 359.6h3.8v4.9h-3.8z"/><path fill="#dfff20" d="M378.8 368.9h3.8v4.9h-3.8zM407.1 364.2h3.8v4.9h-3.8zM414.2 359.6h3.8v4.9h-3.8zM431.9 359.6h3.8v4.9h-3.8zM431.9 364.2h3.8v4.9h-3.8zM439.0 364.2h3.8v4.9h-3.8zM531.2 345.8h3.8v4.9h-3.8zM531.2 364.2h3.8v4.9h-3.8zM534.7 341.1h3.8v4.9h-3.8zM545.3 355.0h3.8v4.9h-3.8zM548.9 355.0h3.8v4.9h-3.8zM577.2 336.5h3.8v4.9h-3.8zM580.8 350.4h3.8v4.9h-3.8zM580.8 368.9h3.8v4.9h-3.8zM584.3 336.5h3.8v4.9h-3.8zM584.3 341.1h3.8v4.9h-3.8zM587.9 359.6h3.8v4.9h-3.8z"/><path fill="#ff9f00" d="M382.3 336.5h3.8v4.9h-3.8zM389.4 368.9h3.8v4.9h-3.8zM403.6 336.5h3.8v4.9h-3.8zM410.7 336.5h3.8v4.9h-3.8zM410.7 355.0h3.8v4.9h-3.8zM414.2 336.5h3.8v4.9h-3.8zM424.9 345.8h3.8v4.9h-3.8zM435.5 341.1h3.8v4.9h-3.8zM439.0 345.8h3.8v4.9h-3.8zM439.0 359.6h3.8v4.9h-3.8zM534.7 336.5h3.8v4.9h-3.8zM545.3 336.5h3.8v4.9h-3.8zM559.5 341.1h3.8v4.9h-3.8zM566.6 341.1h3.8v4.9h-3.8z"/><path fill="#ffff00" d="M382.3 345.8h3.8v4.9h-3.8zM385.9 368.9h3.8v4.9h-3.8zM389.4 355.0h3.8v4.9h-3.8zM393.0 345.8h3.8v4.9h-3.8zM396.5 345.8h3.8v4.9h-3.8zM396.5 350.4h3.8v4.9h-3.8zM403.6 359.6h3.8v4.9h-3.8zM407.1 355.0h3.8v4.9h-3.8zM417.8 345.8h3.8v4.9h-3.8zM421.3 355.0h3.8v4.9h-3.8zM431.9 350.4h3.8v4.9h-3.8zM538.2 359.6h3.8v4.9h-3.8zM538.2 364.2h3.8v4.9h-3.8zM545.3 359.6h3.8v4.9h-3.8zM552.4 368.9h3.8v4.9h-3.8zM573.7 359.6h3.8v4.9h-3.8zM577.2 359.6h3.8v4.9h-3.8zM577.2 364.2h3.8v4.9h-3.8zM580.8 355.0h3.8v4.9h-3.8zM584.3 345.8h3.8v4.9h-3.8zM584.3 350.4h3.8v4.9h-3.8zM587.9 341.1h3.8v4.9h-3.8zM587.9 355.0h3.8v4.9h-3.8z"/><path fill="#8fff70" d="M382.3 355.0h3.8v4.9h-3.8zM403.6 345.8h3.8v4.9h-3.8zM570.1 350.4h3.8v4.9h-3.8zM570.1 368.9h3.8v4.9h-3.8zM580.8 341.1h3.8v4.9h-3.8zM587.9 368.9h3.8v4.9h-3.8z"/><path fill="#ffbf00" d="M382.3 359.6h3.8v4.9h-3.8zM385.9 336.5h3.8v4.9h-3.8zM396.5 359.6h3.8v4.9h-3.8zM400.1 336.5h3.8v4.9h-3.8zM410.7 350.4h3.8v4.9h-3.8zM410.7 359.6h3.8v4.9h-3.8zM414.2 350.4h3.8v4.9h-3.8zM414.2 355.0h3.8v4.9h-3.8zM417.8 368.9h3.8v4.9h-3.8zM421.3 364.2h3.8v4.9h-3.8zM428.4 359.6h3.8v4.9h-3.8zM435.5 345.8h3.8v4.9h-3.8zM524.1 341.1h3.8v4.9h-3.8zM527.6 355.0h3.8v4.9h-3.8zM538.2 336.5h3.8v4.9h-3.8zM552.4 355.0h3.8v4.9h-3.8zM552.4 359.6h3.8v4.9h-3.8zM556.0 355.0h3.8v4.9h-3.8zM563.1 336.5h3.8v4.9h-3.8zM566.6 336.5h3.8v4.9h-3.8z"/><path fill="#ff4000" d="M385.9 355.0h3.8v4.9h-3.8zM385.9 364.2h3.8v4.9h-3.8zM389.4 341.1h3.8v4.9h-3.8zM414.2 345.8h3.8v4.9h-3.8zM424.9 368.9h3.8v4.9h-3.8zM428.4 350.4h3.8v4.9h-3.8zM545.3 350.4h3.8v4.9h-3.8zM566.6 355.0h3.8v4.9h-3.8zM577.2 345.8h3.8v4.9h-3.8z"/><path fill="#bfff40" d="M385.9 359.6h3.8v4.9h-3.8zM435.5 364.2h3.8v4.9h-3.8zM531.2 355.0h3.8v4.9h-3.8zM531.2 368.9h3.8v4.9h-3.8zM538.2 368.9h3.8v4.9h-3.8zM545.3 341.1h3.8v4.9h-3.8zM548.9 345.8h3.8v4.9h-3.8zM552.4 341.1h3.8v4.9h-3.8zM566.6 350.4h3.8v4.9h-3.8zM573.7 350.4h3.8v4.9h-3.8z"/><path fill="#ff8f00" d="M389.4 345.8h3.8v4.9h-3.8zM393.0 336.5h3.8v4.9h-3.8zM414.2 341.1h3.8v4.9h-3.8zM428.4 364.2h3.8v4.9h-3.8zM524.1 345.8h3.8v4.9h-3.8z"/><path fill="#cfff30" d="M389.4 359.6h3.8v4.9h-3.8zM400.1 364.2h3.8v4.9h-3.8zM400.1 368.9h3.8v4.9h-3.8zM407.1 359.6h3.8v4.9h-3.8zM417.8 350.4h3.8v4.9h-3.8zM417.8 364.2h3.8v4.9h-3.8zM421.3 368.9h3.8v4.9h-3.8zM527.6 336.5h3.8v4.9h-3.8zM527.6 345.8h3.8v4.9h-3.8zM527.6 368.9h3.8v4.9h-3.8zM531.2 359.6h3.8v4.9h-3.8zM534.7 345.8h3.8v4.9h-3.8zM552.4 364.2h3.8v4.9h-3.8zM563.1 364.2h3.8v4.9h-3.8zM570.1 341.1h3.8v4.9h-3.8zM570.1 355.0h3.8v4.9h-3.8zM573.7 355.0h3.8v4.9h-3.8zM580.8 345.8h3.8v4.9h-3.8z"/><path fill="#9fff60" d="M393.0 359.6h3.8v4.9h-3.8zM396.5 368.9h3.8v4.9h-3.8zM439.0 341.1h3.8v4.9h-3.8zM556.0 364.2h3.8v4.9h-3.8zM556.0 368.9h3.8v4.9h-3.8zM563.1 350.4h3.8v4.9h-3.8zM563.1 359.6h3.8v4.9h-3.8zM573.7 341.1h3.8v4.9h-3.8zM587.9 345.8h3.8v4.9h-3.8zM587.9 364.2h3.8v4.9h-3.8z"/><path fill="#ffef00" d="M393.0 368.9h3.8v4.9h-3.8zM396.5 341.1h3.8v4.9h-3.8zM400.1 345.8h3.8v4.9h-3.8zM400.1 355.0h3.8v4.9h-3.8zM403.6 355.0h3.8v4.9h-3.8zM410.7 341.1h3.8v4.9h-3.8zM410.7 364.2h3.8v4.9h-3.8zM421.3 350.4h3.8v4.9h-3.8zM428.4 368.9h3.8v4.9h-3.8zM431.9 355.0h3.8v4.9h-3.8zM435.5 350.4h3.8v4.9h-3.8zM534.7 350.4h3.8v4.9h-3.8zM534.7 355.0h3.8v4.9h-3.8zM534.7 368.9h3.8v4.9h-3.8zM538.2 345.8h3.8v4.9h-3.8zM541.8 345.8h3.8v4.9h-3.8zM545.3 364.2h3.8v4.9h-3.8zM548.9 364.2h3.8v4.9h-3.8zM556.0 336.5h3.8v4.9h-3.8zM559.5 368.9h3.8v4.9h-3.8zM563.1 341.1h3.8v4.9h-3.8zM563.1 345.8h3.8v4.9h-3.8zM570.1 364.2h3.8v4.9h-3.8zM580.8 364.2h3.8v4.9h-3.8zM584.3 368.9h3.8v4.9h-3.8zM587.9 336.5h3.8v4.9h-3.8z"/><path fill="#cf0000" d="M396.5 336.5h3.8v4.9h-3.8z"/><path fill="#ff8000" d="M400.1 350.4h3.8v4.9h-3.8zM428.4 336.5h3.8v4.9h-3.8zM527.6 350.4h3.8v4.9h-3.8z"/><path fill="#ff7000" d="M407.1 341.1h3.8v4.9h-3.8zM421.3 345.8h3.8v4.9h-3.8zM424.9 336.5h3.8v4.9h-3.8zM428.4 341.1h3.8v4.9h-3.8zM439.0 350.4h3.8v4.9h-3.8zM563.1 355.0h3.8v4.9h-3.8zM566.6 368.9h3.8v4.9h-3.8z"/><path fill="#ffdf00" d="M407.1 345.8h3.8v4.9h-3.8zM414.2 368.9h3.8v4.9h-3.8zM417.8 341.1h3.8v4.9h-3.8zM417.8 359.6h3.8v4.9h-3.8zM424.9 359.6h3.8v4.9h-3.8zM424.9 364.2h3.8v4.9h-3.8zM428.4 355.0h3.8v4.9h-3.8zM431.9 336.5h3.8v4.9h-3.8zM431.9 341.1h3.8v4.9h-3.8zM431.9 368.9h3.8v4.9h-3.8zM435.5 359.6h3.8v4.9h-3.8zM435.5 368.9h3.8v4.9h-3.8zM439.0 336.5h3.8v4.9h-3.8zM442.6 364.2h3.8v4.9h-3.8zM442.6 368.9h3.8v4.9h-3.8zM520.5 336.5h3.8v4.9h-3.8zM527.6 364.2h3.8v4.9h-3.8zM531.2 336.5h3.8v4.9h-3.8zM531.2 350.4h3.8v4.9h-3.8zM534.7 364.2h3.8v4.9h-3.8zM538.2 341.1h3.8v4.9h-3.8zM541.8 350.4h3.8v4.9h-3.8zM541.8 355.0h3.8v4.9h-3.8zM541.8 359.6h3.8v4.9h-3.8zM548.9 368.9h3.8v4.9h-3.8zM552.4 336.5h3.8v4.9h-3.8zM552.4 350.4h3.8v4.9h-3.8zM556.0 341.1h3.8v4.9h-3.8zM559.5 350.4h3.8v4.9h-3.8zM559.5 359.6h3.8v4.9h-3.8zM566.6 345.8h3.8v4.9h-3.8zM566.6 364.2h3.8v4.9h-3.8zM570.1 336.5h3.8v4.9h-3.8zM580.8 336.5h3.8v4.9h-3.8z"/><path fill="#ff3000" d="M428.4 345.8h3.8v4.9h-3.8zM531.2 341.1h3.8v4.9h-3.8z"/><path fill="#10ffef" d="M442.6 336.5h3.8v4.9h-3.8zM449.7 355.0h3.8v4.9h-3.8zM449.7 364.2h3.8v4.9h-3.8zM449.7 368.9h3.8v4.9h-3.8zM453.2 355.0h3.8v4.9h-3.8zM453.2 364.2h3.8v4.9h-3.8zM460.3 341.1h3.8v4.9h-3.8zM467.4 345.8h3.8v4.9h-3.8zM470.9 350.4h3.8v4.9h-3.8zM470.9 359.6h3.8v4.9h-3.8zM474.5 350.4h3.8v4.9h-3.8zM474.5 359.6h3.8v4.9h-3.8zM478.0 345.8h3.8v4.9h-3.8zM478.0 355.0h3.8v4.9h-3.8zM478.0 364.2h3.8v4.9h-3.8zM488.6 355.0h3.8v4.9h-3.8zM492.2 368.9h3.8v4.9h-3.8zM495.7 364.2h3.8v4.9h-3.8zM499.3 364.2h3.8v4.9h-3.8zM506.4 359.6h3.8v4.9h-3.8zM506.4 368.9h3.8v4.9h-3.8zM509.9 359.6h3.8v4.9h-3.8zM513.4 350.4h3.8v4.9h-3.8zM513.4 355.0h3.8v4.9h-3.8zM513.4 359.6h3.8v4.9h-3.8zM520.5 364.2h3.8v4.9h-3.8z"/><path fill="#00dfff" d="M442.6 341.1h3.8v4.9h-3.8zM446.1 345.8h3.8v4.9h-3.8zM463.8 336.5h3.8v4.9h-3.8zM467.4 350.4h3.8v4.9h-3.8zM470.9 345.8h3.8v4.9h-3.8zM470.9 364.2h3.8v4.9h-3.8zM474.5 355.0h3.8v4.9h-3.8zM478.0 336.5h3.8v4.9h-3.8zM481.6 350.4h3.8v4.9h-3.8zM481.6 368.9h3.8v4.9h-3.8zM488.6 336.5h3.8v4.9h-3.8zM488.6 359.6h3.8v4.9h-3.8zM492.2 355.0h3.8v4.9h-3.8zM495.7 341.1h3.8v4.9h-3.8zM502.8 336.5h3.8v4.9h-3.8zM509.9 341.1h3.8v4.9h-3.8zM517.0 341.1h3.8v4.9h-3.8zM517.0 355.0h3.8v4.9h-3.8zM520.5 355.0h3.8v4.9h-3.8z"/><path fill="#00bfff" d="M442.6 345.8h3.8v4.9h-3.8zM449.7 341.1h3.8v4.9h-3.8zM449.7 350.4h3.8v4.9h-3.8zM456.8 368.9h3.8v4.9h-3.8zM460.3 350.4h3.8v4.9h-3.8zM463.8 350.4h3.8v4.9h-3.8zM463.8 359.6h3.8v4.9h-3.8zM470.9 355.0h3.8v4.9h-3.8zM474.5 368.9h3.8v4.9h-3.8zM492.2 341.1h3.8v4.9h-3.8zM492.2 364.2h3.8v4.9h-3.8zM495.7 359.6h3.8v4.9h-3.8zM506.4 341.1h3.8v4.9h-3.8zM506.4 364.2h3.8v4.9h-3.8zM517.0 336.5h3.8v4.9h-3.8z"/><path fill="#30ffcf" d="M442.6 350.4h3.8v4.9h-3.8zM449.7 336.5h3.8v4.9h-3.8zM481.6 359.6h3.8v4.9h-3.8zM485.1 345.8h3.8v4.9h-3.8zM485.1 368.9h3.8v4.9h-3.8zM488.6 350.4h3.8v4.9h-3.8zM495.7 368.9h3.8v4.9h-3.8zM517.0 359.6h3.8v4.9h-3.8z"/><path fill="#009fff" d="M442.6 355.0h3.8v4.9h-3.8zM446.1 350.4h3.8v4.9h-3.8zM456.8 341.1h3.8v4.9h-3.8zM467.4 336.5h3.8v4.9h-3.8zM470.9 341.1h3.8v4.9h-3.8zM474.5 345.8h3.8v4.9h-3.8zM488.6 368.9h3.8v4.9h-3.8zM499.3 345.8h3.8v4.9h-3.8zM506.4 336.5h3.8v4.9h-3.8zM506.4 350.4h3.8v4.9h-3.8zM513.4 368.9h3.8v4.9h-3.8z"/><path fill="#20ffdf" d="M442.6 359.6h3.8v4.9h-3.8zM446.1 359.6h3.8v4.9h-3.8zM456.8 345.8h3.8v4.9h-3.8zM456.8 350.4h3.8v4.9h-3.8zM463.8 341.1h3.8v4.9h-3.8zM474.5 364.2h3.8v4.9h-3.8zM478.0 341.1h3.8v4.9h-3.8zM488.6 341.1h3.8v4.9h-3.8zM495.7 350.4h3.8v4.9h-3.8zM499.3 355.0h3.8v4.9h-3.8zM502.8 359.6h3.8v4.9h-3.8zM506.4 355.0h3.8v4.9h-3.8zM513.4 336.5h3.8v4.9h-3.8zM524.1 364.2h3.8v4.9h-3.8z"/><path fill="#60ff9f" d="M446.1 336.5h3.8v4.9h-3.8zM485.1 359.6h3.8v4.9h-3.8zM545.3 345.8h3.8v4.9h-3.8z"/><path fill="#00efff" d="M446.1 341.1h3.8v4.9h-3.8zM453.2 341.1h3.8v4.9h-3.8zM460.3 336.5h3.8v4.9h-3.8zM463.8 345.8h3.8v4.9h-3.8zM463.8 355.0h3.8v4.9h-3.8zM467.4 359.6h3.8v4.9h-3.8zM474.5 336.5h3.8v4.9h-3.8zM478.0 359.6h3.8v4.9h-3.8zM481.6 341.1h3.8v4.9h-3.8zM481.6 345.8h3.8v4.9h-3.8zM485.1 364.2h3.8v4.9h-3.8zM492.2 359.6h3.8v4.9h-3.8zM495.7 355.0h3.8v4.9h-3.8zM499.3 350.4h3.8v4.9h-3.8zM502.8 345.8h3.8v4.9h-3.8zM509.9 336.5h3.8v4.9h-3.8zM509.9 350.4h3.8v4.9h-3.8zM509.9 355.0h3.8v4.9h-3.8zM509.9 364.2h3.8v4.9h-3.8zM509.9 368.9h3.8v4.9h-3.8zM520.5 345.8h3.8v4.9h-3.8zM520.5 350.4h3.8v4.9h-3.8zM524.1 368.9h3.8v4.9h-3.8z"/><path fill="#00cfff" d="M446.1 355.0h3.8v4.9h-3.8zM446.1 364.2h3.8v4.9h-3.8zM453.2 336.5h3.8v4.9h-3.8zM460.3 345.8h3.8v4.9h-3.8zM463.8 364.2h3.8v4.9h-3.8zM481.6 336.5h3.8v4.9h-3.8zM506.4 345.8h3.8v4.9h-3.8zM517.0 345.8h3.8v4.9h-3.8z"/><path fill="#00ffff" d="M446.1 368.9h3.8v4.9h-3.8zM449.7 359.6h3.8v4.9h-3.8zM453.2 350.4h3.8v4.9h-3.8zM453.2 359.6h3.8v4.9h-3.8zM456.8 336.5h3.8v4.9h-3.8zM460.3 368.9h3.8v4.9h-3.8zM470.9 368.9h3.8v4.9h-3.8zM481.6 364.2h3.8v4.9h-3.8zM485.1 336.5h3.8v4.9h-3.8zM485.1 350.4h3.8v4.9h-3.8zM488.6 345.8h3.8v4.9h-3.8zM492.2 336.5h3.8v4.9h-3.8zM492.2 350.4h3.8v4.9h-3.8zM495.7 336.5h3.8v4.9h-3.8zM502.8 341.1h3.8v4.9h-3.8zM502.8 355.0h3.8v4.9h-3.8zM502.8 368.9h3.8v4.9h-3.8zM513.4 341.1h3.8v4.9h-3.8zM517.0 350.4h3.8v4.9h-3.8zM517.0 364.2h3.8v4.9h-3.8z"/><path fill="#0080ff" d="M449.7 345.8h3.8v4.9h-3.8zM474.5 341.1h3.8v4.9h-3.8zM478.0 350.4h3.8v4.9h-3.8zM492.2 345.8h3.8v4.9h-3.8zM499.3 336.5h3.8v4.9h-3.8zM513.4 364.2h3.8v4.9h-3.8zM520.5 368.9h3.8v4.9h-3.8z"/><path fill="#00afff" d="M453.2 345.8h3.8v4.9h-3.8zM460.3 359.6h3.8v4.9h-3.8zM463.8 368.9h3.8v4.9h-3.8zM467.4 341.1h3.8v4.9h-3.8zM467.4 368.9h3.8v4.9h-3.8zM478.0 368.9h3.8v4.9h-3.8zM495.7 345.8h3.8v4.9h-3.8zM499.3 368.9h3.8v4.9h-3.8zM502.8 350.4h3.8v4.9h-3.8zM513.4 345.8h3.8v4.9h-3.8zM520.5 359.6h3.8v4.9h-3.8z"/><path fill="#008fff" d="M453.2 368.9h3.8v4.9h-3.8zM456.8 359.6h3.8v4.9h-3.8zM460.3 355.0h3.8v4.9h-3.8zM488.6 364.2h3.8v4.9h-3.8z"/><path fill="#40ffbf" d="M456.8 355.0h3.8v4.9h-3.8zM456.8 364.2h3.8v4.9h-3.8zM481.6 355.0h3.8v4.9h-3.8zM485.1 341.1h3.8v4.9h-3.8z"/><path fill="#50ffaf" d="M460.3 364.2h3.8v4.9h-3.8zM499.3 359.6h3.8v4.9h-3.8zM517.0 368.9h3.8v4.9h-3.8z"/><path fill="#0070ff" d="M467.4 355.0h3.8v4.9h-3.8zM502.8 364.2h3.8v4.9h-3.8z"/><path fill="#0060ff" d="M467.4 364.2h3.8v4.9h-3.8z"/><path fill="#0030ff" d="M470.9 336.5h3.8v4.9h-3.8z"/><path fill="#80ff80" d="M485.1 355.0h3.8v4.9h-3.8zM548.9 341.1h3.8v4.9h-3.8z"/><path fill="#0040ff" d="M499.3 341.1h3.8v4.9h-3.8z"/><path fill="#0050ff" d="M509.9 345.8h3.8v4.9h-3.8z"/><path fill="#ff1000" d="M527.6 359.6h3.8v4.9h-3.8z"/><path fill="#ff6000" d="M559.5 364.2h3.8v4.9h-3.8zM566.6 359.6h3.8v4.9h-3.8z"/><path fill="#ff2000" d="M584.3 359.6h3.8v4.9h-3.8z"/></g>
<line x1="441.1" y1="337.4" x2="521" y2="337.4" stroke="#c0101a" stroke-width="1.8" />
<line x1="447.7" y1="372.6" x2="527.1" y2="372.6" stroke="#c0101a" stroke-width="1.8" />
<path d="M447.7,373.5 C446.8,370.3 443.1,360.7 442.0,354.5 C440.9,348.3 441.2,339.5 441.1,336.5" fill="none" stroke="#000" stroke-width="1.5"/>
<path d="M521.0,336.5 C521.6,340.2 523.7,352.3 524.7,358.5 C525.7,364.7 526.7,371.0 527.1,373.5" fill="none" stroke="#000" stroke-width="1.5"/>
<rect x="378.8" y="336.5" width="212.6" height="37" fill="none" stroke="#2a2410" stroke-width="1.1" />
<text x="374.5" y="348.7" font-family='"Liberation Sans", sans-serif' font-size="19" text-anchor="end" fill="#262626" >5</text>
<text x="374.5" y="380.0" font-family='"Liberation Sans", sans-serif' font-size="19" text-anchor="end" fill="#262626" >0</text>
<text x="483.7" y="327.5" font-family='"Liberation Sans", sans-serif' font-size="19.8" fill="#262626" text-anchor="middle"><tspan font-style="italic">t</tspan><tspan font-size="13" dy="4">5</tspan><tspan dy="-4"> = –1.9 ms</tspan></text>
<g filter="url(#cellblur)"><path fill="#ffef00" d="M378.8 407.5h3.8v4.9h-3.8zM385.9 407.5h3.8v4.9h-3.8zM414.2 435.2h3.8v4.9h-3.8zM421.3 426.0h3.8v4.9h-3.8zM534.7 416.8h3.8v4.9h-3.8zM538.2 416.8h3.8v4.9h-3.8zM538.2 430.6h3.8v4.9h-3.8zM541.8 412.1h3.8v4.9h-3.8zM545.3 435.2h3.8v4.9h-3.8zM548.9 430.6h3.8v4.9h-3.8zM548.9 435.2h3.8v4.9h-3.8zM552.4 430.6h3.8v4.9h-3.8zM552.4 439.9h3.8v4.9h-3.8zM556.0 416.8h3.8v4.9h-3.8zM559.5 430.6h3.8v4.9h-3.8zM566.6 412.1h3.8v4.9h-3.8zM570.1 412.1h3.8v4.9h-3.8zM570.1 416.8h3.8v4.9h-3.8zM570.1 435.2h3.8v4.9h-3.8zM573.7 412.1h3.8v4.9h-3.8zM573.7 416.8h3.8v4.9h-3.8zM573.7 430.6h3.8v4.9h-3.8zM577.2 435.2h3.8v4.9h-3.8zM580.8 426.0h3.8v4.9h-3.8zM587.9 421.4h3.8v4.9h-3.8z"/><path fill="#ff5000" d="M378.8 412.1h3.8v4.9h-3.8zM403.6 430.6h3.8v4.9h-3.8z"/><path fill="#ff9f00" d="M378.8 416.8h3.8v4.9h-3.8zM385.9 430.6h3.8v4.9h-3.8zM389.4 412.1h3.8v4.9h-3.8zM389.4 430.6h3.8v4.9h-3.8zM400.1 439.9h3.8v4.9h-3.8zM403.6 439.9h3.8v4.9h-3.8zM407.1 421.4h3.8v4.9h-3.8zM414.2 412.1h3.8v4.9h-3.8zM417.8 412.1h3.8v4.9h-3.8zM417.8 435.2h3.8v4.9h-3.8zM538.2 435.2h3.8v4.9h-3.8zM559.5 407.5h3.8v4.9h-3.8zM563.1 439.9h3.8v4.9h-3.8zM566.6 416.8h3.8v4.9h-3.8zM587.9 407.5h3.8v4.9h-3.8z"/><path fill="#dfff20" d="M378.8 421.4h3.8v4.9h-3.8zM400.1 426.0h3.8v4.9h-3.8zM414.2 430.6h3.8v4.9h-3.8zM417.8 430.6h3.8v4.9h-3.8zM421.3 416.8h3.8v4.9h-3.8zM421.3 430.6h3.8v4.9h-3.8zM541.8 439.9h3.8v4.9h-3.8zM545.3 426.0h3.8v4.9h-3.8zM548.9 426.0h3.8v4.9h-3.8zM552.4 421.4h3.8v4.9h-3.8zM552.4 426.0h3.8v4.9h-3.8zM577.2 416.8h3.8v4.9h-3.8zM577.2 421.4h3.8v4.9h-3.8zM580.8 412.1h3.8v4.9h-3.8zM580.8 435.2h3.8v4.9h-3.8zM584.3 407.5h3.8v4.9h-3.8zM584.3 421.4h3.8v4.9h-3.8z"/><path fill="#ffaf00" d="M378.8 426.0h3.8v4.9h-3.8zM385.9 426.0h3.8v4.9h-3.8zM393.0 407.5h3.8v4.9h-3.8zM396.5 439.9h3.8v4.9h-3.8zM407.1 426.0h3.8v4.9h-3.8zM407.1 430.6h3.8v4.9h-3.8zM417.8 439.9h3.8v4.9h-3.8zM424.9 430.6h3.8v4.9h-3.8zM424.9 435.2h3.8v4.9h-3.8zM563.1 407.5h3.8v4.9h-3.8zM573.7 407.5h3.8v4.9h-3.8zM577.2 439.9h3.8v4.9h-3.8zM584.3 439.9h3.8v4.9h-3.8z"/><path fill="#8fff70" d="M378.8 430.6h3.8v4.9h-3.8zM396.5 426.0h3.8v4.9h-3.8zM545.3 416.8h3.8v4.9h-3.8zM580.8 407.5h3.8v4.9h-3.8z"/><path fill="#cfff30" d="M378.8 435.2h3.8v4.9h-3.8zM393.0 421.4h3.8v4.9h-3.8zM393.0 426.0h3.8v4.9h-3.8zM414.2 426.0h3.8v4.9h-3.8zM428.4 439.9h3.8v4.9h-3.8zM534.7 412.1h3.8v4.9h-3.8zM534.7 421.4h3.8v4.9h-3.8zM538.2 412.1h3.8v4.9h-3.8zM559.5 416.8h3.8v4.9h-3.8zM563.1 416.8h3.8v4.9h-3.8zM573.7 421.4h3.8v4.9h-3.8zM584.3 435.2h3.8v4.9h-3.8z"/><path fill="#ff1000" d="M378.8 439.9h3.8v4.9h-3.8zM403.6 421.4h3.8v4.9h-3.8z"/><path fill="#ffbf00" d="M382.3 407.5h3.8v4.9h-3.8zM382.3 416.8h3.8v4.9h-3.8zM382.3 435.2h3.8v4.9h-3.8zM382.3 439.9h3.8v4.9h-3.8zM389.4 407.5h3.8v4.9h-3.8zM396.5 416.8h3.8v4.9h-3.8zM400.1 412.1h3.8v4.9h-3.8zM403.6 407.5h3.8v4.9h-3.8zM407.1 407.5h3.8v4.9h-3.8zM407.1 416.8h3.8v4.9h-3.8zM407.1 435.2h3.8v4.9h-3.8zM407.1 439.9h3.8v4.9h-3.8zM410.7 407.5h3.8v4.9h-3.8zM410.7 412.1h3.8v4.9h-3.8zM417.8 421.4h3.8v4.9h-3.8zM545.3 407.5h3.8v4.9h-3.8zM552.4 412.1h3.8v4.9h-3.8zM552.4 435.2h3.8v4.9h-3.8zM559.5 439.9h3.8v4.9h-3.8zM566.6 439.9h3.8v4.9h-3.8zM570.1 407.5h3.8v4.9h-3.8zM570.1 439.9h3.8v4.9h-3.8zM573.7 439.9h3.8v4.9h-3.8zM580.8 421.4h3.8v4.9h-3.8zM580.8 439.9h3.8v4.9h-3.8z"/><path fill="#ffcf00" d="M382.3 412.1h3.8v4.9h-3.8zM382.3 426.0h3.8v4.9h-3.8zM385.9 416.8h3.8v4.9h-3.8zM393.0 412.1h3.8v4.9h-3.8zM396.5 407.5h3.8v4.9h-3.8zM396.5 412.1h3.8v4.9h-3.8zM403.6 416.8h3.8v4.9h-3.8zM538.2 439.9h3.8v4.9h-3.8zM541.8 430.6h3.8v4.9h-3.8zM559.5 412.1h3.8v4.9h-3.8zM559.5 435.2h3.8v4.9h-3.8zM570.1 430.6h3.8v4.9h-3.8zM577.2 407.5h3.8v4.9h-3.8zM587.9 426.0h3.8v4.9h-3.8z"/><path fill="#ffff00" d="M382.3 421.4h3.8v4.9h-3.8zM385.9 412.1h3.8v4.9h-3.8zM385.9 421.4h3.8v4.9h-3.8zM389.4 416.8h3.8v4.9h-3.8zM389.4 439.9h3.8v4.9h-3.8zM393.0 430.6h3.8v4.9h-3.8zM403.6 412.1h3.8v4.9h-3.8zM410.7 430.6h3.8v4.9h-3.8zM421.3 412.1h3.8v4.9h-3.8zM421.3 421.4h3.8v4.9h-3.8zM421.3 439.9h3.8v4.9h-3.8zM534.7 407.5h3.8v4.9h-3.8zM538.2 407.5h3.8v4.9h-3.8zM538.2 426.0h3.8v4.9h-3.8zM545.3 412.1h3.8v4.9h-3.8zM545.3 430.6h3.8v4.9h-3.8zM545.3 439.9h3.8v4.9h-3.8zM556.0 426.0h3.8v4.9h-3.8zM556.0 435.2h3.8v4.9h-3.8zM559.5 421.4h3.8v4.9h-3.8zM559.5 426.0h3.8v4.9h-3.8zM573.7 426.0h3.8v4.9h-3.8zM577.2 412.1h3.8v4.9h-3.8zM580.8 416.8h3.8v4.9h-3.8zM587.9 435.2h3.8v4.9h-3.8zM587.9 439.9h3.8v4.9h-3.8z"/><path fill="#ff2000" d="M382.3 430.6h3.8v4.9h-3.8z"/><path fill="#ff7000" d="M385.9 435.2h3.8v4.9h-3.8z"/><path fill="#bfff40" d="M385.9 439.9h3.8v4.9h-3.8zM389.4 421.4h3.8v4.9h-3.8zM400.1 435.2h3.8v4.9h-3.8zM556.0 421.4h3.8v4.9h-3.8zM566.6 435.2h3.8v4.9h-3.8zM580.8 430.6h3.8v4.9h-3.8zM584.3 416.8h3.8v4.9h-3.8z"/><path fill="#ff8000" d="M389.4 426.0h3.8v4.9h-3.8zM548.9 407.5h3.8v4.9h-3.8zM556.0 407.5h3.8v4.9h-3.8zM556.0 412.1h3.8v4.9h-3.8zM563.1 430.6h3.8v4.9h-3.8zM566.6 426.0h3.8v4.9h-3.8z"/><path fill="#ff8f00" d="M389.4 435.2h3.8v4.9h-3.8zM417.8 407.5h3.8v4.9h-3.8zM417.8 416.8h3.8v4.9h-3.8zM584.3 426.0h3.8v4.9h-3.8z"/><path fill="#ffdf00" d="M393.0 416.8h3.8v4.9h-3.8zM393.0 435.2h3.8v4.9h-3.8zM393.0 439.9h3.8v4.9h-3.8zM400.1 407.5h3.8v4.9h-3.8zM400.1 416.8h3.8v4.9h-3.8zM400.1 421.4h3.8v4.9h-3.8zM403.6 426.0h3.8v4.9h-3.8zM407.1 412.1h3.8v4.9h-3.8zM410.7 421.4h3.8v4.9h-3.8zM414.2 416.8h3.8v4.9h-3.8zM414.2 439.9h3.8v4.9h-3.8zM421.3 435.2h3.8v4.9h-3.8zM424.9 426.0h3.8v4.9h-3.8zM541.8 407.5h3.8v4.9h-3.8zM541.8 416.8h3.8v4.9h-3.8zM541.8 421.4h3.8v4.9h-3.8zM541.8 426.0h3.8v4.9h-3.8zM541.8 435.2h3.8v4.9h-3.8zM548.9 412.1h3.8v4.9h-3.8zM552.4 407.5h3.8v4.9h-3.8zM552.4 416.8h3.8v4.9h-3.8zM556.0 439.9h3.8v4.9h-3.8zM563.1 426.0h3.8v4.9h-3.8zM566.6 407.5h3.8v4.9h-3.8zM570.1 426.0h3.8v4.9h-3.8zM573.7 435.2h3.8v4.9h-3.8zM587.9 412.1h3.8v4.9h-3.8zM587.9 416.8h3.8v4.9h-3.8z"/><path fill="#afff50" d="M396.5 421.4h3.8v4.9h-3.8zM556.0 430.6h3.8v4.9h-3.8zM577.2 430.6h3.8v4.9h-3.8z"/><path fill="#efff10" d="M396.5 430.6h3.8v4.9h-3.8zM396.5 435.2h3.8v4.9h-3.8zM400.1 430.6h3.8v4.9h-3.8zM410.7 416.8h3.8v4.9h-3.8zM410.7 426.0h3.8v4.9h-3.8zM410.7 435.2h3.8v4.9h-3.8zM410.7 439.9h3.8v4.9h-3.8zM417.8 426.0h3.8v4.9h-3.8zM424.9 439.9h3.8v4.9h-3.8zM545.3 421.4h3.8v4.9h-3.8zM548.9 416.8h3.8v4.9h-3.8zM548.9 421.4h3.8v4.9h-3.8zM563.1 412.1h3.8v4.9h-3.8zM563.1 435.2h3.8v4.9h-3.8zM566.6 421.4h3.8v4.9h-3.8zM566.6 430.6h3.8v4.9h-3.8zM570.1 421.4h3.8v4.9h-3.8zM584.3 412.1h3.8v4.9h-3.8zM584.3 430.6h3.8v4.9h-3.8zM587.9 430.6h3.8v4.9h-3.8z"/><path fill="#9fff60" d="M403.6 435.2h3.8v4.9h-3.8zM538.2 421.4h3.8v4.9h-3.8zM548.9 439.9h3.8v4.9h-3.8zM563.1 421.4h3.8v4.9h-3.8zM577.2 426.0h3.8v4.9h-3.8z"/><path fill="#ff4000" d="M414.2 407.5h3.8v4.9h-3.8z"/><path fill="#ff6000" d="M414.2 421.4h3.8v4.9h-3.8z"/><path fill="#00008f" d="M421.3 407.5h3.8v4.9h-3.8zM439.0 407.5h3.8v4.9h-3.8zM453.2 426.0h3.8v4.9h-3.8zM460.3 421.4h3.8v4.9h-3.8zM463.8 412.1h3.8v4.9h-3.8zM470.9 426.0h3.8v4.9h-3.8z"/><path fill="#0000bf" d="M424.9 407.5h3.8v4.9h-3.8zM428.4 426.0h3.8v4.9h-3.8zM428.4 435.2h3.8v4.9h-3.8zM435.5 407.5h3.8v4.9h-3.8zM439.0 412.1h3.8v4.9h-3.8zM439.0 421.4h3.8v4.9h-3.8zM442.6 407.5h3.8v4.9h-3.8zM456.8 421.4h3.8v4.9h-3.8zM474.5 421.4h3.8v4.9h-3.8zM481.6 430.6h3.8v4.9h-3.8zM488.6 426.0h3.8v4.9h-3.8zM488.6 439.9h3.8v4.9h-3.8zM506.4 430.6h3.8v4.9h-3.8zM506.4 435.2h3.8v4.9h-3.8zM517.0 407.5h3.8v4.9h-3.8z"/><path fill="#000080" d="M424.9 412.1h3.8v4.9h-3.8zM424.9 421.4h3.8v4.9h-3.8zM428.4 430.6h3.8v4.9h-3.8zM431.9 430.6h3.8v4.9h-3.8zM431.9 435.2h3.8v4.9h-3.8zM439.0 426.0h3.8v4.9h-3.8zM449.7 421.4h3.8v4.9h-3.8zM453.2 421.4h3.8v4.9h-3.8zM467.4 421.4h3.8v4.9h-3.8zM470.9 421.4h3.8v4.9h-3.8zM474.5 416.8h3.8v4.9h-3.8zM474.5 439.9h3.8v4.9h-3.8zM478.0 407.5h3.8v4.9h-3.8zM485.1 435.2h3.8v4.9h-3.8z"/><path fill="#0000ef" d="M424.9 416.8h3.8v4.9h-3.8zM428.4 416.8h3.8v4.9h-3.8zM431.9 407.5h3.8v4.9h-3.8zM431.9 412.1h3.8v4.9h-3.8zM435.5 416.8h3.8v4.9h-3.8zM435.5 435.2h3.8v4.9h-3.8zM439.0 435.2h3.8v4.9h-3.8zM439.0 439.9h3.8v4.9h-3.8zM442.6 412.1h3.8v4.9h-3.8zM442.6 430.6h3.8v4.9h-3.8zM446.1 407.5h3.8v4.9h-3.8zM446.1 421.4h3.8v4.9h-3.8zM456.8 430.6h3.8v4.9h-3.8zM467.4 426.0h3.8v4.9h-3.8zM467.4 435.2h3.8v4.9h-3.8zM474.5 407.5h3.8v4.9h-3.8zM474.5 412.1h3.8v4.9h-3.8zM478.0 426.0h3.8v4.9h-3.8zM485.1 407.5h3.8v4.9h-3.8zM488.6 407.5h3.8v4.9h-3.8zM488.6 412.1h3.8v4.9h-3.8zM488.6 435.2h3.8v4.9h-3.8zM492.2 407.5h3.8v4.9h-3.8zM492.2 430.6h3.8v4.9h-3.8zM509.9 421.4h3.8v4.9h-3.8zM509.9 426.0h3.8v4.9h-3.8zM517.0 412.1h3.8v4.9h-3.8z"/><path fill="#0000cf" d="M428.4 407.5h3.8v4.9h-3.8zM428.4 412.1h3.8v4.9h-3.8zM431.9 426.0h3.8v4.9h-3.8zM431.9 439.9h3.8v4.9h-3.8zM442.6 416.8h3.8v4.9h-3.8zM442.6 426.0h3.8v4.9h-3.8zM446.1 430.6h3.8v4.9h-3.8zM449.7 407.5h3.8v4.9h-3.8zM449.7 435.2h3.8v4.9h-3.8zM467.4 430.6h3.8v4.9h-3.8zM470.9 435.2h3.8v4.9h-3.8zM478.0 430.6h3.8v4.9h-3.8zM485.1 430.6h3.8v4.9h-3.8zM492.2 439.9h3.8v4.9h-3.8zM495.7 435.2h3.8v4.9h-3.8zM517.0 439.9h3.8v4.9h-3.8z"/><path fill="#0000af" d="M428.4 421.4h3.8v4.9h-3.8zM431.9 421.4h3.8v4.9h-3.8zM435.5 426.0h3.8v4.9h-3.8zM446.1 439.9h3.8v4.9h-3.8zM453.2 430.6h3.8v4.9h-3.8zM456.8 439.9h3.8v4.9h-3.8zM463.8 430.6h3.8v4.9h-3.8zM470.9 430.6h3.8v4.9h-3.8zM474.5 426.0h3.8v4.9h-3.8zM488.6 430.6h3.8v4.9h-3.8zM502.8 412.1h3.8v4.9h-3.8zM509.9 439.9h3.8v4.9h-3.8z"/><path fill="#0030ff" d="M431.9 416.8h3.8v4.9h-3.8zM449.7 426.0h3.8v4.9h-3.8zM453.2 407.5h3.8v4.9h-3.8zM460.3 435.2h3.8v4.9h-3.8zM470.9 412.1h3.8v4.9h-3.8zM474.5 435.2h3.8v4.9h-3.8zM481.6 435.2h3.8v4.9h-3.8zM499.3 407.5h3.8v4.9h-3.8zM499.3 412.1h3.8v4.9h-3.8zM499.3 416.8h3.8v4.9h-3.8zM502.8 416.8h3.8v4.9h-3.8zM513.4 426.0h3.8v4.9h-3.8zM524.1 430.6h3.8v4.9h-3.8zM524.1 439.9h3.8v4.9h-3.8z"/><path fill="#0000ff" d="M435.5 412.1h3.8v4.9h-3.8zM435.5 421.4h3.8v4.9h-3.8zM435.5 430.6h3.8v4.9h-3.8zM439.0 430.6h3.8v4.9h-3.8zM442.6 421.4h3.8v4.9h-3.8zM449.7 412.1h3.8v4.9h-3.8zM453.2 435.2h3.8v4.9h-3.8zM460.3 426.0h3.8v4.9h-3.8zM460.3 430.6h3.8v4.9h-3.8zM474.5 430.6h3.8v4.9h-3.8zM481.6 412.1h3.8v4.9h-3.8zM481.6 421.4h3.8v4.9h-3.8zM485.1 412.1h3.8v4.9h-3.8zM488.6 421.4h3.8v4.9h-3.8zM495.7 407.5h3.8v4.9h-3.8zM502.8 435.2h3.8v4.9h-3.8zM506.4 412.1h3.8v4.9h-3.8zM509.9 430.6h3.8v4.9h-3.8zM513.4 439.9h3.8v4.9h-3.8zM520.5 412.1h3.8v4.9h-3.8zM520.5 416.8h3.8v4.9h-3.8zM520.5 421.4h3.8v4.9h-3.8zM524.1 412.1h3.8v4.9h-3.8zM524.1 421.4h3.8v4.9h-3.8z"/><path fill="#0000df" d="M435.5 439.9h3.8v4.9h-3.8zM442.6 439.9h3.8v4.9h-3.8zM446.1 435.2h3.8v4.9h-3.8zM453.2 412.1h3.8v4.9h-3.8zM453.2 416.8h3.8v4.9h-3.8zM453.2 439.9h3.8v4.9h-3.8zM456.8 412.1h3.8v4.9h-3.8zM463.8 407.5h3.8v4.9h-3.8zM463.8 416.8h3.8v4.9h-3.8zM467.4 416.8h3.8v4.9h-3.8zM470.9 407.5h3.8v4.9h-3.8zM470.9 439.9h3.8v4.9h-3.8zM478.0 416.8h3.8v4.9h-3.8zM478.0 439.9h3.8v4.9h-3.8zM481.6 407.5h3.8v4.9h-3.8zM499.3 430.6h3.8v4.9h-3.8zM506.4 426.0h3.8v4.9h-3.8zM509.9 435.2h3.8v4.9h-3.8zM513.4 421.4h3.8v4.9h-3.8zM513.4 430.6h3.8v4.9h-3.8zM524.1 416.8h3.8v4.9h-3.8z"/><path fill="#00009f" d="M439.0 416.8h3.8v4.9h-3.8zM449.7 439.9h3.8v4.9h-3.8zM463.8 421.4h3.8v4.9h-3.8zM463.8 439.9h3.8v4.9h-3.8zM470.9 416.8h3.8v4.9h-3.8zM478.0 412.1h3.8v4.9h-3.8zM478.0 421.4h3.8v4.9h-3.8zM481.6 439.9h3.8v4.9h-3.8zM485.1 439.9h3.8v4.9h-3.8zM495.7 412.1h3.8v4.9h-3.8zM499.3 435.2h3.8v4.9h-3.8zM506.4 416.8h3.8v4.9h-3.8z"/><path fill="#0010ff" d="M442.6 435.2h3.8v4.9h-3.8zM446.1 426.0h3.8v4.9h-3.8zM449.7 430.6h3.8v4.9h-3.8zM460.3 407.5h3.8v4.9h-3.8zM460.3 416.8h3.8v4.9h-3.8zM467.4 407.5h3.8v4.9h-3.8zM467.4 439.9h3.8v4.9h-3.8zM485.1 416.8h3.8v4.9h-3.8zM495.7 430.6h3.8v4.9h-3.8zM502.8 430.6h3.8v4.9h-3.8zM506.4 421.4h3.8v4.9h-3.8z"/><path fill="#0020ff" d="M446.1 412.1h3.8v4.9h-3.8zM446.1 416.8h3.8v4.9h-3.8zM449.7 416.8h3.8v4.9h-3.8zM456.8 416.8h3.8v4.9h-3.8zM456.8 426.0h3.8v4.9h-3.8zM460.3 439.9h3.8v4.9h-3.8zM463.8 435.2h3.8v4.9h-3.8zM467.4 412.1h3.8v4.9h-3.8zM481.6 426.0h3.8v4.9h-3.8zM485.1 421.4h3.8v4.9h-3.8zM488.6 416.8h3.8v4.9h-3.8zM492.2 435.2h3.8v4.9h-3.8zM509.9 412.1h3.8v4.9h-3.8zM513.4 412.1h3.8v4.9h-3.8zM517.0 421.4h3.8v4.9h-3.8zM524.1 426.0h3.8v4.9h-3.8z"/><path fill="#0050ff" d="M456.8 407.5h3.8v4.9h-3.8zM463.8 426.0h3.8v4.9h-3.8zM478.0 435.2h3.8v4.9h-3.8zM481.6 416.8h3.8v4.9h-3.8zM492.2 412.1h3.8v4.9h-3.8zM499.3 426.0h3.8v4.9h-3.8zM502.8 426.0h3.8v4.9h-3.8zM509.9 416.8h3.8v4.9h-3.8zM517.0 416.8h3.8v4.9h-3.8z"/><path fill="#0040ff" d="M456.8 435.2h3.8v4.9h-3.8zM460.3 412.1h3.8v4.9h-3.8zM502.8 421.4h3.8v4.9h-3.8zM506.4 407.5h3.8v4.9h-3.8zM506.4 439.9h3.8v4.9h-3.8zM509.9 407.5h3.8v4.9h-3.8zM513.4 407.5h3.8v4.9h-3.8zM513.4 435.2h3.8v4.9h-3.8zM520.5 407.5h3.8v4.9h-3.8zM520.5 439.9h3.8v4.9h-3.8z"/><path fill="#0060ff" d="M485.1 426.0h3.8v4.9h-3.8zM492.2 416.8h3.8v4.9h-3.8zM492.2 421.4h3.8v4.9h-3.8zM495.7 416.8h3.8v4.9h-3.8zM495.7 426.0h3.8v4.9h-3.8zM495.7 439.9h3.8v4.9h-3.8zM499.3 421.4h3.8v4.9h-3.8zM513.4 416.8h3.8v4.9h-3.8zM517.0 426.0h3.8v4.9h-3.8zM517.0 430.6h3.8v4.9h-3.8zM520.5 426.0h3.8v4.9h-3.8zM524.1 407.5h3.8v4.9h-3.8zM524.1 435.2h3.8v4.9h-3.8zM527.6 407.5h3.8v4.9h-3.8zM531.2 435.2h3.8v4.9h-3.8z"/><path fill="#0070ff" d="M492.2 426.0h3.8v4.9h-3.8zM502.8 407.5h3.8v4.9h-3.8z"/><path fill="#0080ff" d="M495.7 421.4h3.8v4.9h-3.8zM499.3 439.9h3.8v4.9h-3.8zM502.8 439.9h3.8v4.9h-3.8zM520.5 430.6h3.8v4.9h-3.8zM520.5 435.2h3.8v4.9h-3.8zM527.6 430.6h3.8v4.9h-3.8z"/><path fill="#008fff" d="M517.0 435.2h3.8v4.9h-3.8z"/><path fill="#00bfff" d="M527.6 412.1h3.8v4.9h-3.8zM527.6 426.0h3.8v4.9h-3.8zM527.6 439.9h3.8v4.9h-3.8zM531.2 416.8h3.8v4.9h-3.8zM531.2 430.6h3.8v4.9h-3.8zM531.2 439.9h3.8v4.9h-3.8z"/><path fill="#00afff" d="M527.6 416.8h3.8v4.9h-3.8zM534.7 426.0h3.8v4.9h-3.8z"/><path fill="#00efff" d="M527.6 421.4h3.8v4.9h-3.8z"/><path fill="#10ffef" d="M527.6 435.2h3.8v4.9h-3.8z"/><path fill="#00cfff" d="M531.2 407.5h3.8v4.9h-3.8zM531.2 421.4h3.8v4.9h-3.8zM531.2 426.0h3.8v4.9h-3.8z"/><path fill="#00dfff" d="M531.2 412.1h3.8v4.9h-3.8z"/><path fill="#009fff" d="M534.7 430.6h3.8v4.9h-3.8zM534.7 435.2h3.8v4.9h-3.8zM534.7 439.9h3.8v4.9h-3.8z"/></g>
<line x1="422" y1="408.4" x2="534.5" y2="408.4" stroke="#c0101a" stroke-width="1.8" />
<line x1="431.8" y1="443.6" x2="538.1" y2="443.6" stroke="#c0101a" stroke-width="1.8" />
<path d="M431.8,444.5 L422.0,407.5" fill="none" stroke="#000" stroke-width="1.5"/>
<path d="M534.5,407.5 C534.8,410.2 535.4,417.3 536.0,423.5 C536.6,429.7 537.8,441.0 538.1,444.5" fill="none" stroke="#000" stroke-width="1.5"/>
<rect x="378.8" y="407.5" width="212.6" height="37" fill="none" stroke="#2a2410" stroke-width="1.1" />
<text x="374.5" y="419.7" font-family='"Liberation Sans", sans-serif' font-size="19" text-anchor="end" fill="#262626" >5</text>
<text x="374.5" y="451.0" font-family='"Liberation Sans", sans-serif' font-size="19" text-anchor="end" fill="#262626" >0</text>
<text x="488" y="399.7" font-family='"Liberation Sans", sans-serif' font-size="19.8" fill="#262626" text-anchor="middle"><tspan font-style="italic">t</tspan><tspan font-size="13" dy="4" font-style="italic">c</tspan><tspan dy="-4"> =  0 ms</tspan></text>
<g filter="url(#cellblur)"><path fill="#00009f" d="M378.8 477.3h3.8v4.9h-3.8zM378.8 481.9h3.8v4.9h-3.8zM378.8 486.6h3.8v4.9h-3.8zM378.8 491.2h3.8v4.9h-3.8zM378.8 495.8h3.8v4.9h-3.8zM378.8 500.4h3.8v4.9h-3.8zM378.8 505.1h3.8v4.9h-3.8zM378.8 509.7h3.8v4.9h-3.8zM382.3 477.3h3.8v4.9h-3.8zM382.3 481.9h3.8v4.9h-3.8zM382.3 486.6h3.8v4.9h-3.8zM382.3 491.2h3.8v4.9h-3.8zM382.3 495.8h3.8v4.9h-3.8zM382.3 500.4h3.8v4.9h-3.8zM382.3 505.1h3.8v4.9h-3.8zM382.3 509.7h3.8v4.9h-3.8zM385.9 477.3h3.8v4.9h-3.8zM385.9 481.9h3.8v4.9h-3.8zM385.9 486.6h3.8v4.9h-3.8zM385.9 491.2h3.8v4.9h-3.8zM385.9 495.8h3.8v4.9h-3.8zM385.9 500.4h3.8v4.9h-3.8zM385.9 505.1h3.8v4.9h-3.8zM385.9 509.7h3.8v4.9h-3.8zM389.4 477.3h3.8v4.9h-3.8zM389.4 481.9h3.8v4.9h-3.8zM389.4 486.6h3.8v4.9h-3.8zM389.4 491.2h3.8v4.9h-3.8zM389.4 495.8h3.8v4.9h-3.8zM389.4 500.4h3.8v4.9h-3.8zM389.4 505.1h3.8v4.9h-3.8zM389.4 509.7h3.8v4.9h-3.8zM393.0 477.3h3.8v4.9h-3.8zM393.0 481.9h3.8v4.9h-3.8zM393.0 486.6h3.8v4.9h-3.8zM393.0 491.2h3.8v4.9h-3.8zM393.0 495.8h3.8v4.9h-3.8zM393.0 500.4h3.8v4.9h-3.8zM393.0 505.1h3.8v4.9h-3.8zM393.0 509.7h3.8v4.9h-3.8zM396.5 477.3h3.8v4.9h-3.8zM396.5 481.9h3.8v4.9h-3.8zM396.5 486.6h3.8v4.9h-3.8zM396.5 491.2h3.8v4.9h-3.8zM396.5 495.8h3.8v4.9h-3.8zM396.5 500.4h3.8v4.9h-3.8zM396.5 505.1h3.8v4.9h-3.8zM396.5 509.7h3.8v4.9h-3.8zM400.1 477.3h3.8v4.9h-3.8zM400.1 481.9h3.8v4.9h-3.8zM400.1 486.6h3.8v4.9h-3.8zM400.1 491.2h3.8v4.9h-3.8zM400.1 495.8h3.8v4.9h-3.8zM400.1 500.4h3.8v4.9h-3.8zM400.1 505.1h3.8v4.9h-3.8zM400.1 509.7h3.8v4.9h-3.8zM403.6 477.3h3.8v4.9h-3.8zM403.6 481.9h3.8v4.9h-3.8zM403.6 486.6h3.8v4.9h-3.8zM403.6 491.2h3.8v4.9h-3.8zM403.6 495.8h3.8v4.9h-3.8zM403.6 500.4h3.8v4.9h-3.8zM403.6 505.1h3.8v4.9h-3.8zM403.6 509.7h3.8v4.9h-3.8zM407.1 477.3h3.8v4.9h-3.8zM407.1 481.9h3.8v4.9h-3.8zM407.1 486.6h3.8v4.9h-3.8zM407.1 491.2h3.8v4.9h-3.8zM407.1 495.8h3.8v4.9h-3.8zM407.1 500.4h3.8v4.9h-3.8zM407.1 505.1h3.8v4.9h-3.8zM407.1 509.7h3.8v4.9h-3.8zM410.7 477.3h3.8v4.9h-3.8zM410.7 481.9h3.8v4.9h-3.8zM410.7 486.6h3.8v4.9h-3.8zM410.7 491.2h3.8v4.9h-3.8zM410.7 495.8h3.8v4.9h-3.8zM410.7 500.4h3.8v4.9h-3.8zM410.7 505.1h3.8v4.9h-3.8zM410.7 509.7h3.8v4.9h-3.8zM414.2 477.3h3.8v4.9h-3.8zM414.2 481.9h3.8v4.9h-3.8zM414.2 486.6h3.8v4.9h-3.8zM414.2 491.2h3.8v4.9h-3.8zM414.2 495.8h3.8v4.9h-3.8zM414.2 500.4h3.8v4.9h-3.8zM414.2 505.1h3.8v4.9h-3.8zM414.2 509.7h3.8v4.9h-3.8zM417.8 477.3h3.8v4.9h-3.8zM417.8 481.9h3.8v4.9h-3.8zM417.8 486.6h3.8v4.9h-3.8zM417.8 491.2h3.8v4.9h-3.8zM417.8 495.8h3.8v4.9h-3.8zM417.8 500.4h3.8v4.9h-3.8zM417.8 505.1h3.8v4.9h-3.8zM417.8 509.7h3.8v4.9h-3.8zM421.3 477.3h3.8v4.9h-3.8zM421.3 481.9h3.8v4.9h-3.8zM421.3 486.6h3.8v4.9h-3.8zM421.3 491.2h3.8v4.9h-3.8zM421.3 495.8h3.8v4.9h-3.8zM421.3 500.4h3.8v4.9h-3.8zM421.3 505.1h3.8v4.9h-3.8zM421.3 509.7h3.8v4.9h-3.8zM424.9 477.3h3.8v4.9h-3.8zM424.9 481.9h3.8v4.9h-3.8zM424.9 486.6h3.8v4.9h-3.8zM424.9 491.2h3.8v4.9h-3.8zM424.9 495.8h3.8v4.9h-3.8zM424.9 500.4h3.8v4.9h-3.8zM424.9 505.1h3.8v4.9h-3.8zM424.9 509.7h3.8v4.9h-3.8zM428.4 477.3h3.8v4.9h-3.8zM428.4 481.9h3.8v4.9h-3.8zM428.4 486.6h3.8v4.9h-3.8zM428.4 491.2h3.8v4.9h-3.8zM428.4 495.8h3.8v4.9h-3.8zM428.4 500.4h3.8v4.9h-3.8zM428.4 505.1h3.8v4.9h-3.8zM428.4 509.7h3.8v4.9h-3.8zM431.9 477.3h3.8v4.9h-3.8zM431.9 481.9h3.8v4.9h-3.8zM431.9 486.6h3.8v4.9h-3.8zM431.9 491.2h3.8v4.9h-3.8zM431.9 495.8h3.8v4.9h-3.8zM431.9 500.4h3.8v4.9h-3.8zM431.9 505.1h3.8v4.9h-3.8zM431.9 509.7h3.8v4.9h-3.8zM435.5 477.3h3.8v4.9h-3.8zM435.5 481.9h3.8v4.9h-3.8zM435.5 486.6h3.8v4.9h-3.8zM435.5 491.2h3.8v4.9h-3.8zM435.5 495.8h3.8v4.9h-3.8zM435.5 500.4h3.8v4.9h-3.8zM435.5 505.1h3.8v4.9h-3.8zM435.5 509.7h3.8v4.9h-3.8zM439.0 477.3h3.8v4.9h-3.8zM439.0 481.9h3.8v4.9h-3.8zM439.0 486.6h3.8v4.9h-3.8zM439.0 491.2h3.8v4.9h-3.8zM439.0 495.8h3.8v4.9h-3.8zM439.0 500.4h3.8v4.9h-3.8zM439.0 505.1h3.8v4.9h-3.8zM439.0 509.7h3.8v4.9h-3.8zM442.6 477.3h3.8v4.9h-3.8zM442.6 481.9h3.8v4.9h-3.8zM442.6 486.6h3.8v4.9h-3.8zM442.6 491.2h3.8v4.9h-3.8zM442.6 495.8h3.8v4.9h-3.8zM442.6 500.4h3.8v4.9h-3.8zM442.6 505.1h3.8v4.9h-3.8zM442.6 509.7h3.8v4.9h-3.8zM446.1 477.3h3.8v4.9h-3.8zM446.1 481.9h3.8v4.9h-3.8zM446.1 486.6h3.8v4.9h-3.8zM446.1 491.2h3.8v4.9h-3.8zM446.1 495.8h3.8v4.9h-3.8zM446.1 500.4h3.8v4.9h-3.8zM446.1 505.1h3.8v4.9h-3.8zM446.1 509.7h3.8v4.9h-3.8zM449.7 477.3h3.8v4.9h-3.8zM449.7 481.9h3.8v4.9h-3.8zM449.7 486.6h3.8v4.9h-3.8zM449.7 491.2h3.8v4.9h-3.8zM449.7 495.8h3.8v4.9h-3.8zM449.7 500.4h3.8v4.9h-3.8zM449.7 505.1h3.8v4.9h-3.8zM449.7 509.7h3.8v4.9h-3.8zM453.2 477.3h3.8v4.9h-3.8zM453.2 481.9h3.8v4.9h-3.8zM453.2 486.6h3.8v4.9h-3.8zM453.2 491.2h3.8v4.9h-3.8zM453.2 495.8h3.8v4.9h-3.8zM453.2 500.4h3.8v4.9h-3.8zM453.2 505.1h3.8v4.9h-3.8zM453.2 509.7h3.8v4.9h-3.8zM456.8 477.3h3.8v4.9h-3.8zM456.8 481.9h3.8v4.9h-3.8zM456.8 486.6h3.8v4.9h-3.8zM456.8 491.2h3.8v4.9h-3.8zM456.8 495.8h3.8v4.9h-3.8zM456.8 500.4h3.8v4.9h-3.8zM456.8 505.1h3.8v4.9h-3.8zM456.8 509.7h3.8v4.9h-3.8zM460.3 477.3h3.8v4.9h-3.8zM460.3 481.9h3.8v4.9h-3.8zM460.3 486.6h3.8v4.9h-3.8zM460.3 491.2h3.8v4.9h-3.8zM460.3 495.8h3.8v4.9h-3.8zM460.3 500.4h3.8v4.9h-3.8zM460.3 505.1h3.8v4.9h-3.8zM460.3 509.7h3.8v4.9h-3.8zM463.8 477.3h3.8v4.9h-3.8zM463.8 481.9h3.8v4.9h-3.8zM463.8 486.6h3.8v4.9h-3.8zM463.8 491.2h3.8v4.9h-3.8zM463.8 495.8h3.8v4.9h-3.8zM463.8 500.4h3.8v4.9h-3.8zM463.8 505.1h3.8v4.9h-3.8zM463.8 509.7h3.8v4.9h-3.8zM467.4 477.3h3.8v4.9h-3.8zM467.4 481.9h3.8v4.9h-3.8zM467.4 486.6h3.8v4.9h-3.8zM467.4 491.2h3.8v4.9h-3.8zM467.4 495.8h3.8v4.9h-3.8zM467.4 500.4h3.8v4.9h-3.8zM467.4 505.1h3.8v4.9h-3.8zM467.4 509.7h3.8v4.9h-3.8zM470.9 477.3h3.8v4.9h-3.8zM470.9 481.9h3.8v4.9h-3.8zM470.9 486.6h3.8v4.9h-3.8zM470.9 491.2h3.8v4.9h-3.8zM470.9 495.8h3.8v4.9h-3.8zM470.9 500.4h3.8v4.9h-3.8zM470.9 505.1h3.8v4.9h-3.8zM470.9 509.7h3.8v4.9h-3.8zM474.5 477.3h3.8v4.9h-3.8zM474.5 481.9h3.8v4.9h-3.8zM474.5 486.6h3.8v4.9h-3.8zM474.5 491.2h3.8v4.9h-3.8zM474.5 495.8h3.8v4.9h-3.8zM474.5 500.4h3.8v4.9h-3.8zM474.5 505.1h3.8v4.9h-3.8zM474.5 509.7h3.8v4.9h-3.8zM478.0 477.3h3.8v4.9h-3.8zM478.0 481.9h3.8v4.9h-3.8zM478.0 486.6h3.8v4.9h-3.8zM478.0 491.2h3.8v4.9h-3.8zM478.0 495.8h3.8v4.9h-3.8zM478.0 500.4h3.8v4.9h-3.8zM478.0 505.1h3.8v4.9h-3.8zM478.0 509.7h3.8v4.9h-3.8zM481.6 477.3h3.8v4.9h-3.8zM481.6 481.9h3.8v4.9h-3.8zM481.6 486.6h3.8v4.9h-3.8zM481.6 491.2h3.8v4.9h-3.8zM481.6 495.8h3.8v4.9h-3.8zM481.6 500.4h3.8v4.9h-3.8zM481.6 505.1h3.8v4.9h-3.8zM481.6 509.7h3.8v4.9h-3.8zM485.1 477.3h3.8v4.9h-3.8zM485.1 481.9h3.8v4.9h-3.8zM485.1 486.6h3.8v4.9h-3.8zM485.1 491.2h3.8v4.9h-3.8zM485.1 495.8h3.8v4.9h-3.8zM485.1 500.4h3.8v4.9h-3.8zM485.1 505.1h3.8v4.9h-3.8zM485.1 509.7h3.8v4.9h-3.8zM488.6 477.3h3.8v4.9h-3.8zM488.6 481.9h3.8v4.9h-3.8zM488.6 486.6h3.8v4.9h-3.8zM488.6 491.2h3.8v4.9h-3.8zM488.6 495.8h3.8v4.9h-3.8zM488.6 500.4h3.8v4.9h-3.8zM488.6 505.1h3.8v4.9h-3.8zM488.6 509.7h3.8v4.9h-3.8zM492.2 477.3h3.8v4.9h-3.8zM492.2 481.9h3.8v4.9h-3.8zM492.2 486.6h3.8v4.9h-3.8zM492.2 491.2h3.8v4.9h-3.8zM492.2 495.8h3.8v4.9h-3.8zM492.2 500.4h3.8v4.9h-3.8zM492.2 505.1h3.8v4.9h-3.8zM492.2 509.7h3.8v4.9h-3.8zM495.7 477.3h3.8v4.9h-3.8zM495.7 481.9h3.8v4.9h-3.8zM495.7 486.6h3.8v4.9h-3.8zM495.7 491.2h3.8v4.9h-3.8zM495.7 495.8h3.8v4.9h-3.8zM495.7 500.4h3.8v4.9h-3.8zM495.7 505.1h3.8v4.9h-3.8zM495.7 509.7h3.8v4.9h-3.8zM499.3 477.3h3.8v4.9h-3.8zM499.3 481.9h3.8v4.9h-3.8zM499.3 486.6h3.8v4.9h-3.8zM499.3 491.2h3.8v4.9h-3.8zM499.3 495.8h3.8v4.9h-3.8zM499.3 500.4h3.8v4.9h-3.8zM499.3 505.1h3.8v4.9h-3.8zM499.3 509.7h3.8v4.9h-3.8zM502.8 477.3h3.8v4.9h-3.8zM502.8 481.9h3.8v4.9h-3.8zM502.8 486.6h3.8v4.9h-3.8zM502.8 491.2h3.8v4.9h-3.8zM502.8 495.8h3.8v4.9h-3.8zM502.8 500.4h3.8v4.9h-3.8zM502.8 505.1h3.8v4.9h-3.8zM502.8 509.7h3.8v4.9h-3.8zM506.4 477.3h3.8v4.9h-3.8zM506.4 481.9h3.8v4.9h-3.8zM506.4 486.6h3.8v4.9h-3.8zM506.4 491.2h3.8v4.9h-3.8zM506.4 495.8h3.8v4.9h-3.8zM506.4 500.4h3.8v4.9h-3.8zM506.4 505.1h3.8v4.9h-3.8zM506.4 509.7h3.8v4.9h-3.8zM509.9 477.3h3.8v4.9h-3.8zM509.9 481.9h3.8v4.9h-3.8zM509.9 486.6h3.8v4.9h-3.8zM509.9 491.2h3.8v4.9h-3.8zM509.9 495.8h3.8v4.9h-3.8zM509.9 500.4h3.8v4.9h-3.8zM509.9 505.1h3.8v4.9h-3.8zM509.9 509.7h3.8v4.9h-3.8zM513.4 477.3h3.8v4.9h-3.8zM513.4 481.9h3.8v4.9h-3.8zM513.4 486.6h3.8v4.9h-3.8zM513.4 491.2h3.8v4.9h-3.8zM513.4 495.8h3.8v4.9h-3.8zM513.4 500.4h3.8v4.9h-3.8zM513.4 505.1h3.8v4.9h-3.8zM513.4 509.7h3.8v4.9h-3.8zM517.0 477.3h3.8v4.9h-3.8zM517.0 481.9h3.8v4.9h-3.8zM517.0 486.6h3.8v4.9h-3.8zM517.0 491.2h3.8v4.9h-3.8zM517.0 495.8h3.8v4.9h-3.8zM517.0 500.4h3.8v4.9h-3.8zM517.0 505.1h3.8v4.9h-3.8zM517.0 509.7h3.8v4.9h-3.8zM520.5 477.3h3.8v4.9h-3.8zM520.5 481.9h3.8v4.9h-3.8zM520.5 486.6h3.8v4.9h-3.8zM520.5 491.2h3.8v4.9h-3.8zM520.5 495.8h3.8v4.9h-3.8zM520.5 500.4h3.8v4.9h-3.8zM520.5 505.1h3.8v4.9h-3.8zM520.5 509.7h3.8v4.9h-3.8zM524.1 477.3h3.8v4.9h-3.8zM524.1 481.9h3.8v4.9h-3.8zM524.1 486.6h3.8v4.9h-3.8zM524.1 491.2h3.8v4.9h-3.8zM524.1 495.8h3.8v4.9h-3.8zM524.1 500.4h3.8v4.9h-3.8zM524.1 505.1h3.8v4.9h-3.8zM524.1 509.7h3.8v4.9h-3.8zM527.6 477.3h3.8v4.9h-3.8zM527.6 481.9h3.8v4.9h-3.8zM527.6 486.6h3.8v4.9h-3.8zM527.6 491.2h3.8v4.9h-3.8zM527.6 495.8h3.8v4.9h-3.8zM527.6 500.4h3.8v4.9h-3.8zM527.6 505.1h3.8v4.9h-3.8zM527.6 509.7h3.8v4.9h-3.8zM531.2 477.3h3.8v4.9h-3.8zM531.2 481.9h3.8v4.9h-3.8zM531.2 486.6h3.8v4.9h-3.8zM531.2 491.2h3.8v4.9h-3.8zM531.2 495.8h3.8v4.9h-3.8zM531.2 500.4h3.8v4.9h-3.8zM531.2 505.1h3.8v4.9h-3.8zM531.2 509.7h3.8v4.9h-3.8zM534.7 477.3h3.8v4.9h-3.8zM534.7 481.9h3.8v4.9h-3.8zM534.7 486.6h3.8v4.9h-3.8zM534.7 491.2h3.8v4.9h-3.8zM534.7 495.8h3.8v4.9h-3.8zM534.7 500.4h3.8v4.9h-3.8zM534.7 505.1h3.8v4.9h-3.8zM534.7 509.7h3.8v4.9h-3.8zM538.2 477.3h3.8v4.9h-3.8zM538.2 481.9h3.8v4.9h-3.8zM538.2 486.6h3.8v4.9h-3.8zM538.2 491.2h3.8v4.9h-3.8zM538.2 495.8h3.8v4.9h-3.8zM538.2 500.4h3.8v4.9h-3.8zM538.2 505.1h3.8v4.9h-3.8zM538.2 509.7h3.8v4.9h-3.8zM541.8 477.3h3.8v4.9h-3.8zM541.8 481.9h3.8v4.9h-3.8zM541.8 486.6h3.8v4.9h-3.8zM541.8 491.2h3.8v4.9h-3.8zM541.8 495.8h3.8v4.9h-3.8zM541.8 500.4h3.8v4.9h-3.8zM541.8 505.1h3.8v4.9h-3.8zM541.8 509.7h3.8v4.9h-3.8zM545.3 477.3h3.8v4.9h-3.8zM545.3 481.9h3.8v4.9h-3.8zM545.3 486.6h3.8v4.9h-3.8zM545.3 491.2h3.8v4.9h-3.8zM545.3 495.8h3.8v4.9h-3.8zM545.3 500.4h3.8v4.9h-3.8zM545.3 505.1h3.8v4.9h-3.8zM545.3 509.7h3.8v4.9h-3.8zM548.9 477.3h3.8v4.9h-3.8zM548.9 481.9h3.8v4.9h-3.8zM548.9 486.6h3.8v4.9h-3.8zM548.9 491.2h3.8v4.9h-3.8zM548.9 495.8h3.8v4.9h-3.8zM548.9 500.4h3.8v4.9h-3.8zM548.9 505.1h3.8v4.9h-3.8zM548.9 509.7h3.8v4.9h-3.8zM552.4 477.3h3.8v4.9h-3.8zM552.4 481.9h3.8v4.9h-3.8zM552.4 486.6h3.8v4.9h-3.8zM552.4 491.2h3.8v4.9h-3.8zM552.4 495.8h3.8v4.9h-3.8zM552.4 500.4h3.8v4.9h-3.8zM552.4 505.1h3.8v4.9h-3.8zM552.4 509.7h3.8v4.9h-3.8zM556.0 477.3h3.8v4.9h-3.8zM556.0 481.9h3.8v4.9h-3.8zM556.0 486.6h3.8v4.9h-3.8zM556.0 491.2h3.8v4.9h-3.8zM556.0 495.8h3.8v4.9h-3.8zM556.0 500.4h3.8v4.9h-3.8zM556.0 505.1h3.8v4.9h-3.8zM556.0 509.7h3.8v4.9h-3.8zM559.5 477.3h3.8v4.9h-3.8zM559.5 481.9h3.8v4.9h-3.8zM559.5 486.6h3.8v4.9h-3.8zM559.5 491.2h3.8v4.9h-3.8zM559.5 495.8h3.8v4.9h-3.8zM559.5 500.4h3.8v4.9h-3.8zM559.5 505.1h3.8v4.9h-3.8zM559.5 509.7h3.8v4.9h-3.8zM563.1 477.3h3.8v4.9h-3.8zM563.1 481.9h3.8v4.9h-3.8zM563.1 486.6h3.8v4.9h-3.8zM563.1 491.2h3.8v4.9h-3.8zM563.1 495.8h3.8v4.9h-3.8zM563.1 500.4h3.8v4.9h-3.8zM563.1 505.1h3.8v4.9h-3.8zM563.1 509.7h3.8v4.9h-3.8z"/><path fill="#9fff60" d="M566.6 477.3h3.8v4.9h-3.8zM577.2 509.7h3.8v4.9h-3.8z"/><path fill="#efff10" d="M566.6 481.9h3.8v4.9h-3.8zM570.1 481.9h3.8v4.9h-3.8zM577.2 477.3h3.8v4.9h-3.8zM580.8 500.4h3.8v4.9h-3.8zM584.3 481.9h3.8v4.9h-3.8zM584.3 491.2h3.8v4.9h-3.8zM587.9 481.9h3.8v4.9h-3.8z"/><path fill="#dfff20" d="M566.6 486.6h3.8v4.9h-3.8zM566.6 495.8h3.8v4.9h-3.8zM570.1 491.2h3.8v4.9h-3.8zM570.1 500.4h3.8v4.9h-3.8zM573.7 500.4h3.8v4.9h-3.8zM580.8 477.3h3.8v4.9h-3.8zM587.9 477.3h3.8v4.9h-3.8z"/><path fill="#ff9f00" d="M566.6 491.2h3.8v4.9h-3.8zM584.3 509.7h3.8v4.9h-3.8z"/><path fill="#ffbf00" d="M566.6 500.4h3.8v4.9h-3.8zM573.7 486.6h3.8v4.9h-3.8zM573.7 505.1h3.8v4.9h-3.8zM587.9 509.7h3.8v4.9h-3.8z"/><path fill="#ffaf00" d="M566.6 505.1h3.8v4.9h-3.8zM580.8 495.8h3.8v4.9h-3.8z"/><path fill="#ffef00" d="M566.6 509.7h3.8v4.9h-3.8zM570.1 505.1h3.8v4.9h-3.8zM570.1 509.7h3.8v4.9h-3.8zM573.7 481.9h3.8v4.9h-3.8zM580.8 481.9h3.8v4.9h-3.8zM580.8 491.2h3.8v4.9h-3.8zM587.9 495.8h3.8v4.9h-3.8z"/><path fill="#cfff30" d="M570.1 477.3h3.8v4.9h-3.8zM580.8 486.6h3.8v4.9h-3.8z"/><path fill="#ffff00" d="M570.1 486.6h3.8v4.9h-3.8zM577.2 505.1h3.8v4.9h-3.8zM584.3 477.3h3.8v4.9h-3.8zM584.3 486.6h3.8v4.9h-3.8zM584.3 495.8h3.8v4.9h-3.8zM587.9 500.4h3.8v4.9h-3.8z"/><path fill="#afff50" d="M570.1 495.8h3.8v4.9h-3.8zM577.2 486.6h3.8v4.9h-3.8z"/><path fill="#ff7000" d="M573.7 477.3h3.8v4.9h-3.8zM577.2 495.8h3.8v4.9h-3.8z"/><path fill="#ff8f00" d="M573.7 491.2h3.8v4.9h-3.8zM587.9 505.1h3.8v4.9h-3.8z"/><path fill="#ffdf00" d="M573.7 495.8h3.8v4.9h-3.8zM577.2 491.2h3.8v4.9h-3.8zM580.8 505.1h3.8v4.9h-3.8zM587.9 486.6h3.8v4.9h-3.8z"/><path fill="#ffcf00" d="M573.7 509.7h3.8v4.9h-3.8zM587.9 491.2h3.8v4.9h-3.8z"/><path fill="#ff6000" d="M577.2 481.9h3.8v4.9h-3.8zM577.2 500.4h3.8v4.9h-3.8z"/><path fill="#ff1000" d="M580.8 509.7h3.8v4.9h-3.8z"/><path fill="#ff4000" d="M584.3 500.4h3.8v4.9h-3.8z"/><path fill="#8fff70" d="M584.3 505.1h3.8v4.9h-3.8z"/></g>
<line x1="385" y1="478.2" x2="568" y2="478.2" stroke="#c0101a" stroke-width="1.8" />
<line x1="385" y1="513.4" x2="565.3" y2="513.4" stroke="#c0101a" stroke-width="1.8" />
<path d="M568,477.3 C567,489.3 566.5,502.3 565.3,514.3" fill="none" stroke="#000" stroke-width="1.4"/>
<line x1="565.5" y1="480.3" x2="564" y2="512.3" stroke="#40e0f0" stroke-width="1.4" />
<rect x="378.8" y="477.3" width="212.6" height="37" fill="none" stroke="#2a2410" stroke-width="1.1" />
<text x="374.5" y="489.5" font-family='"Liberation Sans", sans-serif' font-size="19" text-anchor="end" fill="#262626" >5</text>
<text x="374.5" y="520.8" font-family='"Liberation Sans", sans-serif' font-size="19" text-anchor="end" fill="#262626" >0</text>
<text x="491.6" y="472" font-family='"Liberation Sans", sans-serif' font-size="19.8" fill="#262626" text-anchor="middle"><tspan font-style="italic">t</tspan><tspan font-size="13" dy="4">7</tspan><tspan dy="-4"> = 0.23 ms (rapid)</tspan></text>
<path d="M485.5,160.9 C487,157.1 493,157.1 495,160.9" fill="none" stroke="#000" stroke-width="1.6"/>
<path d="M473,231.9 C476,225.9 486,224.9 491,231.9" fill="none" stroke="#000" stroke-width="1.4"/>
<path d="M482,302.7 C484,298.7 490,298.7 492,302.7" fill="none" stroke="#000" stroke-width="1.4"/>
<path d="M482,373.5 C484,370.5 487,370.5 489,373.5" fill="none" stroke="#000" stroke-width="1.4"/>
<line x1="476.4" y1="202.9" x2="545" y2="202.9" stroke="#111" stroke-width="1.6" stroke-dasharray="5,3"/>
<line x1="505.8" y1="232.1" x2="572.4" y2="232.1" stroke="#111" stroke-width="1.6" stroke-dasharray="5,3"/>
<line x1="522.7" y1="216.9" x2="522.7" y2="209" stroke="#000" stroke-width="1.8" /><polygon points="522.7,203.4 525.7,210.4 519.7,210.4" fill="#000" stroke="none" stroke-width="1" />
<line x1="522.7" y1="216.9" x2="522.7" y2="225.8" stroke="#000" stroke-width="1.8" /><polygon points="522.7,231.4 519.7,224.4 525.7,224.4" fill="#000" stroke="none" stroke-width="1" />
<text x="538.5" y="225.9" font-family='"Liberation Sans", sans-serif' font-size="19" fill="#111">Z(<tspan font-style="italic">t</tspan>)</text>
<line x1="486" y1="286.3" x2="464.4" y2="286.3" stroke="#e0202a" stroke-width="2" /><polygon points="458,286.3 466,282.8 466,289.8" fill="#e0202a" stroke="none" stroke-width="1" />
<line x1="486" y1="286.3" x2="507.6" y2="286.3" stroke="#e0202a" stroke-width="2" /><polygon points="514,286.3 506,289.8 506,282.8" fill="#e0202a" stroke="none" stroke-width="1" />
<rect x="535.1" y="274.7" width="52.5" height="22" fill="#f6e6d8" stroke="none" stroke-width="1" opacity="0.9"/>
<text x="543" y="292.7" font-family='"Liberation Sans", sans-serif' font-size="19" fill="#e0202a"><tspan font-style="italic">l</tspan><tspan font-size="13" dy="4">1D</tspan><tspan dy="-4">(</tspan><tspan font-style="italic">t</tspan>)</text>
<line x1="482" y1="425.5" x2="441.2" y2="425.5" stroke="#e0202a" stroke-width="2" /><polygon points="434,425.5 443,421.5 443,429.5" fill="#e0202a" stroke="none" stroke-width="1" />
<line x1="482" y1="425.5" x2="523.8" y2="425.5" stroke="#e0202a" stroke-width="2" /><polygon points="531,425.5 522,429.5 522,421.5" fill="#e0202a" stroke="none" stroke-width="1" />
<rect x="551.6" y="415" width="28" height="21.5" fill="#f6e6d8" stroke="none" stroke-width="1" opacity="0.9"/>
<text x="554" y="433.0" font-family='"Liberation Sans", sans-serif' font-size="19" fill="#e0202a">2<tspan font-style="italic">l</tspan><tspan font-size="13" dy="4">c</tspan></text>
<defs><linearGradient id="cbar2" x1="0" y1="1" x2="0" y2="0"><stop offset="0.000" stop-color="#000080"/><stop offset="0.125" stop-color="#0000ff"/><stop offset="0.250" stop-color="#0080ff"/><stop offset="0.375" stop-color="#00ffff"/><stop offset="0.500" stop-color="#80ff80"/><stop offset="0.625" stop-color="#ffff00"/><stop offset="0.750" stop-color="#ff8000"/><stop offset="0.875" stop-color="#ff0000"/><stop offset="1.000" stop-color="#800000"/></linearGradient></defs>
<rect x="412.5" y="485" width="8.3" height="26" fill="url(#cbar2)" stroke="#fff" stroke-width="1.2" />
<text x="430.0" y="497.5" font-family='"Liberation Sans", sans-serif' font-size="13" text-anchor="start" fill="#fff" >1</text>
<text x="425.5" y="511.0" font-family='"Liberation Sans", sans-serif' font-size="13" text-anchor="start" fill="#fff" >0.9</text>
<path transform="translate(385.0,503.0) rotate(0) scale(0.925) translate(0,-14)" d="M0.6,13 C2,14.2 4.5,13.8 6.2,12.2 C9,9.3 12,4.2 16.2,0.8 M9.2,4.2 C10.8,2 13.5,0.9 17.2,0.6 M17.2,0.6 C16.6,5 16.3,9.2 16.2,13.6 M16.2,13.6 L19.6,12.8 M10.2,8.8 L16.6,8.4" fill="none" stroke="#fff" stroke-width="1.9" stroke-linecap="round" stroke-linejoin="round"/>
<text x="377.5" y="537.8" font-family='"Liberation Sans", sans-serif' font-size="19" text-anchor="middle" fill="#262626" >0</text>
<text x="446.7" y="537.8" font-family='"Liberation Sans", sans-serif' font-size="19" text-anchor="middle" fill="#262626" >20</text>
<text x="520.0" y="537.8" font-family='"Liberation Sans", sans-serif' font-size="19" text-anchor="middle" fill="#262626" >40</text>
<text x="591.3" y="537.8" font-family='"Liberation Sans", sans-serif' font-size="19" text-anchor="middle" fill="#262626" >60</text>
<text x="496" y="561" font-family='"Liberation Sans", sans-serif' font-size="19" fill="#262626" text-anchor="middle"><tspan font-style="italic">x</tspan> (mm)</text>
<text x="0" y="0" font-family='"Liberation Sans", sans-serif' font-size="19" fill="#262626" text-anchor="middle" transform="translate(344,294.8) rotate(-90)"><tspan font-style="italic">z</tspan> (mm)</text>
<text x="627.2" y="47.4" font-family='"Liberation Sans", sans-serif' font-size="19.5" text-anchor="start" fill="#262626" >(d)</text>
<defs><clipPath id="dc1"><rect x="685.7" y="62.9" width="192.79999999999995" height="138.0"/></clipPath><clipPath id="dc2"><rect x="685.7" y="221.3" width="192.79999999999995" height="138.3"/></clipPath><clipPath id="dc3"><rect x="685.7" y="379.7" width="192.79999999999995" height="138.00000000000006"/></clipPath></defs>
<rect x="685.7" y="62.9" width="127.8" height="138" fill="#fcefe6" stroke="none" stroke-width="1" />
<rect x="813.5" y="62.9" width="65" height="138" fill="#f6c9a8" stroke="none" stroke-width="1" />
<line x1="685.7" y1="85.5" x2="800" y2="85.5" stroke="#6a80c8" stroke-width="1" stroke-dasharray="3,2"/>
<g clip-path="url(#dc1)">
<polyline points="718,203 718.5,187.8 718.9,177.9 719.4,175.8 719.8,188.5 720.3,178.9 720.7,175.8 721.2,176.7 721.6,175.2 722.1,170.8 722.5,178.5 723,174.3 723.4,172.4 723.9,170.6 724.3,170.2 724.8,170.7 725.2,170.7 725.7,168.2 726.1,165.9 726.6,165.4 727,157.8 727.5,164.6 727.9,158.1 728.4,167.4 728.8,159.3 729.3,153.2 729.7,156.9 730.2,154.8 730.6,158.6 731.1,159 731.5,161.7 732,153.8 732.4,153.3 732.9,158.2 733.3,167 733.8,156.1 734.2,162.9 734.7,154.4 735.1,151.3 735.6,151.2 736,148 736.5,145.5 736.9,146.5 737.4,142 737.8,143.9 738.3,145.1 738.7,150.1 739.2,141.8 739.6,141.8 740.1,143.2 740.5,156.6 741,137.6 741.4,137.2 741.9,136.8 742.3,136.1 742.8,140.5 743.2,133.3 743.7,134.3 744.1,127.6 744.6,128.4 745,129.5 745.5,126.3 745.9,126.9 746.4,123.5 746.8,119.3 747.3,125 747.7,124.2 748.2,125.5 748.6,121.2 749.1,119.4 749.5,122.4 750,123.1 750.4,130.1 750.9,118.2 751.3,119.2 751.8,118.6 752.2,116.6 752.7,111.4 753.1,111.3 753.6,121.4 754,112.6 754.5,113.1 754.9,108.2 755.4,105.1 755.8,109 756.3,111.8 756.7,108.5 757.2,106.6 757.6,108 758.1,120.6 758.5,108.4 759,107.4 759.4,105.1 759.9,103.6 760.3,105.2 760.8,101.2 761.2,98.7 761.7,102.4 762.1,100.3 762.6,111.2 763,105.9 763.5,98.6 763.9,102.1 764.4,103.2 764.8,103.4 765.3,102.7 765.7,98.4 766.2,93 766.6,97.6 767.1,102.3 767.5,96.6 768,96.7 768.4,97.3 768.9,98.3 769.3,98.4 769.8,96.6 770.2,94.9 770.7,98.5 771.1,94.6 771.6,94.6 772,92.7 772.5,94.8 772.9,87.4 773.4,91.2 773.8,100 774.3,96.9 774.7,89.9 775.2,92.6 775.6,82.5 776.1,91.1 776.5,91.8 777,93.5 777.4,93.2 777.9,92.6 778.3,94.6 778.8,90.6 779.2,90.2 779.7,89.8 780.1,90.3 780.6,94.2 781,87.7 781.5,93.4 781.9,94 782.4,91.1 782.8,92 783.3,91.2 783.7,91.7 784.2,91.1 784.6,91.9 785.1,88.9 785.5,89.8 786,90.7 786.4,91.2 786.9,86.4 787.3,87.5 787.8,91.9 788.2,85.7 788.7,87.6 789.1,85.7 789.6,85.3 790,90.6 790.5,90.1 790.9,87.3 791.4,88 791.8,88.6 792.3,91 792.7,93.2 793.2,92.3 793.6,87.6 794.1,90.5 794.5,87.7 795,88.1 795.4,88.1 795.9,88.1 796.3,85 796.8,86.1 797.2,88 797.7,84.3 798.1,86.4 798.6,90.8 799,90.5 799.5,88.3 799.9,85.6 800.4,90.4 800.8,93.7 801.3,93.4 801.7,83.3 802.2,85.5 802.6,84 803.1,84.1 803.5,86 804,90.7 804.4,90.4 804.9,101.1 805.3,80.9 805.8,90.4 806.2,85.3 806.7,88.5 807.1,87.4 807.6,94 808,87.4 808.5,92.9 808.9,87.6 809.4,84.6 809.8,85.3 810.3,84.6 810.7,83.5 811.2,86.8 811.6,87.3 812.1,82.5 812.5,86 813,85.4 813.4,84 813.9,84.1 814.3,84.3 814.4,83.2" fill="none" stroke="#f7840e" stroke-width="2.8" stroke-linejoin="round"/>
<line x1="814" y1="85.5" x2="878" y2="85.5" stroke="#f7840e" stroke-width="1.5" />
<polyline points="722,201 722.5,202.6 722.9,200.8 723.4,197 723.8,192.7 724.3,214.8 724.7,199.8 725.2,198.4 725.6,198.4 726.1,195.5 726.5,195.6 727,199.6 727.4,192.2 727.9,190.6 728.3,191.1 728.8,191.5 729.2,191.1 729.7,189.7 730.1,188.5 730.6,186.7 731,187.9 731.5,188.9 731.9,187.6 732.4,187.3 732.8,184.7 733.3,180.5 733.7,188.7 734.2,184.4 734.6,169 735.1,177.7 735.5,181 736,184.6 736.4,184.3 736.9,182.9 737.3,181 737.8,179.7 738.2,178.6 738.7,178.8 739.1,176.8 739.6,174.3 740,175.7 740.5,178.3 740.9,176.1 741.4,171 741.8,170.5 742.3,172.9 742.7,172.6 743.2,172.4 743.6,169.2 744.1,168.1 744.5,171.7 745,167.2 745.4,156.7 745.9,168.3 746.3,167.5 746.8,166.4 747.2,169.1 747.7,167.2 748.1,162.5 748.6,167.1 749,160.8 749.5,160.9 749.9,158.9 750.4,158.3 750.8,158.8 751.3,156.6 751.7,152.6 752.2,149.9 752.6,153.5 753.1,156.9 753.5,156.9 754,161 754.4,152.5 754.9,147 755.3,153.3 755.8,150.3 756.2,148.6 756.7,149.3 757.1,154.1 757.6,151.6 758,147.6 758.5,148.2 758.9,150.5 759.4,150 759.8,147.2 760.3,146.7 760.7,145.3 761.2,136.4 761.6,148.9 762.1,147 762.5,147 763,146.9 763.4,144.6 763.9,144 764.3,143 764.8,144 765.2,152.1 765.7,141.9 766.1,141.3 766.6,140.9 767,139.3 767.5,139.9 767.9,142.6 768.4,144.1 768.8,144.2 769.3,148.1 769.7,145.5 770.2,148.4 770.6,142.9 771.1,141.8 771.5,140.2 772,140 772.4,138.8 772.9,136.9 773.3,137.4 773.8,139.8 774.2,136.7 774.7,146.6 775.1,140.1 775.6,140.6 776,136 776.5,135.5 776.9,140.4 777.4,136.8 777.8,142.6 778.3,135.5 778.7,133.1 779.2,133 779.6,131.5 780.1,131.1 780.5,132.6 781,134.2 781.4,136 781.9,133.4 782.3,131.9 782.8,132.1 783.2,134 783.7,134.3 784.1,130.6 784.6,129.9 785,127.6 785.5,129 785.9,125.6 786.4,129.4 786.8,127.1 787.3,127.2 787.7,123.1 788.2,125.7 788.6,129.6 789.1,128.2 789.5,126.1 790,124.6 790.4,124.9 790.9,123.1 791.3,124 791.8,111.6 792.2,123.7 792.7,125.4 793.1,125 793.6,123.3 794,113.7 794.5,115 794.9,119.6 795.4,117.2 795.8,118.1 796.3,120.1 796.7,118.4 797.2,119.6 797.6,120.4 798.1,120.7 798.5,115.7 799,115.3 799.4,116.7 799.9,114.4 800.3,114.9 800.8,127.7 801.2,111.3 801.7,111.4 802.1,102.2 802.6,111.6 803,114.9 803.5,110.2 803.9,107.1 804.4,104.8 804.8,108.9 805.3,110.5 805.7,113.8 806.2,108.2 806.6,107.4 807.1,104.3 807.5,103.3 808,107.2 808.4,105.9 808.9,98.9 809.3,103.6 809.8,107.1 810.2,106 810.7,101 811.1,98.1 811.6,100.8 812,98.9 812.5,100.4 812.9,97.6 813.4,99.8 813.8,99.9 814.3,97.4 814.7,85.2 815.2,92.3 815.6,94 816.1,94.4 816.5,98.5 817,96.2 817.4,95.1 817.9,95.5 818.3,95.9 818.8,94.7 819.2,92.1 819.7,92.9 820.1,95.9 820.6,91.6 821,92.5 821.5,95.2 821.9,90.6 822.4,86.2 822.8,87.7 823.3,98.2 823.7,88.8 824.2,83.1 824.6,87.1 825.1,88.6 825.5,85.8 826,88.4 826.4,94.4 826.9,91.5 827.3,87.5 827.8,86.9 828.2,84.1 828.7,86.7 829.1,85.4 829.6,83.2 830,81.9 830.5,84.5 830.9,86.9 831.4,89.5 831.8,96.9 832.3,89.3 832.7,82.6 833.2,81.2 833.6,82.4 834.1,94.4 834.5,95.8 835,86.4 835.4,84.8 835.9,83.1 836.3,80.9 836.8,82.5 837.2,86.4 837.7,89.6 837.8,86.6" fill="none" stroke="#5a5a5a" stroke-width="3.0" stroke-linejoin="round"/>
<polyline points="787.5,189.7 788,186.1 788.4,183.8 788.9,186.2 789.3,181.6 789.8,185.1 790.2,182.9 790.7,182.7 791.1,184 791.6,182.5 792,189.6 792.5,184.7 792.9,183.9 793.4,183.3 793.8,182.2 794.3,182.4 794.7,184.2 795.2,184.3 795.6,184.7 796.1,184.6 796.5,183.3 797,185.4 797.4,185.9 797.9,183.1 798.3,182 798.8,191 799.2,185.8 799.7,184.6 800.1,181.6 800.6,183.1 801,182.2 801.5,180.3 801.9,182.5 802.4,178.1 802.8,182.3 803.3,182.2 803.7,178.3 804.2,179.4 804.6,187.3 805.1,175.7 805.5,176.6 806,178.9 806.4,177.1 806.9,174 807.3,174.4 807.8,174.4 808.2,175.1 808.7,174.6 809.1,171.2 809.6,170.5 810,168.5 810.5,164.4 810.9,163.9 811.4,164.6 811.8,162.3 812.3,159.9 812.7,158.7 813.2,159.5 813.6,154.7 814.1,157.4 814.5,153.2 815,147.4 815.4,151.1 815.9,150.8 816.3,151.3 816.8,144.8 817.2,147 817.7,148 818.1,142.7 818.6,138.9 819,140.4 819.5,138.7 819.9,138.6 820.4,136.4 820.8,133.2 821.3,131.9 821.7,131.8 822.2,131.6 822.6,127.8 823.1,127.1 823.5,137.7 824,126.8 824.4,126.5 824.9,126.2 825.3,124.9 825.8,121.8 826.2,115 826.7,118.5 827.1,120.7 827.6,119.4 828,120.2 828.5,117.6 828.9,118.4 829.4,119.2 829.8,116.9 830.3,113.5 830.7,114.8 831.2,118.3 831.6,118.9 832.1,115.2 832.5,115.5 833,115.3 833.4,115.1 833.9,117 834.3,114.5 834.8,113.3 835.2,114.6 835.7,120 836.1,114.3 836.6,116.6 837,117.9 837.5,116.3 837.9,111.4 838.4,108.7 838.8,110.3 839.3,107.9 839.7,108.3 840.2,109.3 840.6,113.4 841.1,110 841.5,107 842,107.4 842.4,108.5 842.9,110.1 843.3,112.5 843.8,98.4 844.2,109.2 844.7,104.9 845.1,110.4 845.6,110.8 846,109.9 846.5,114.9 846.9,104.8 847.4,104.8 847.8,106.7 848.3,108.2 848.7,105.5 849.2,100.3 849.6,104.4 850.1,100.1 850.5,101.2 851,102.1 851.4,105.9 851.9,98.2 852.3,99.7 852.8,97.9 853.2,96.3 853.7,97.8 854.1,102.9 854.6,98.7 855,97.4 855.5,97.8 855.9,96.1 856.4,93.3 856.8,91.9 857.3,93.4 857.7,92.3 858.2,85 858.6,90.3 859.1,89.8 859.5,91.4 860,90.7 860.4,88.9 860.9,90 861.3,90.6 861.8,91.3 862.2,87.3 862.7,89.1 863.1,87.4 863.6,86 864,87.3 864.5,88 864.5,88.3" fill="none" stroke="#a3a3a3" stroke-width="3.4" stroke-linejoin="round"/>
</g>
<line x1="826" y1="85.5" x2="864.5" y2="85.5" stroke="#5a5a5a" stroke-width="2" />
<rect x="810.6" y="81.8" width="7.5" height="7.5" fill="#f7940e" stroke="#111" stroke-width="1.2" />
<rect x="834" y="81.8" width="7.5" height="7.5" fill="#5f5f5f" stroke="#111" stroke-width="1.2" />
<rect x="860.8" y="81.8" width="7.5" height="7.5" fill="#a8a8a8" stroke="#111" stroke-width="1.2" />
<text x="769.0" y="160.5" font-family='"Liberation Sans", sans-serif' font-size="19.5" text-anchor="start" fill="#e0202a" >2D</text>
<text x="835.5" y="160.5" font-family='"Liberation Sans", sans-serif' font-size="19.5" text-anchor="start" fill="#e0202a" >1D</text>
<line x1="685.7" y1="85.5" x2="688.7" y2="85.5" stroke="#333" stroke-width="1" />
<line x1="878.5" y1="85.5" x2="875.5" y2="85.5" stroke="#333" stroke-width="1" />
<line x1="685.7" y1="120.8" x2="688.7" y2="120.8" stroke="#333" stroke-width="1" />
<line x1="878.5" y1="120.8" x2="875.5" y2="120.8" stroke="#333" stroke-width="1" />
<line x1="685.7" y1="156.5" x2="688.7" y2="156.5" stroke="#333" stroke-width="1" />
<line x1="878.5" y1="156.5" x2="875.5" y2="156.5" stroke="#333" stroke-width="1" />
<line x1="685.7" y1="192.2" x2="688.7" y2="192.2" stroke="#333" stroke-width="1" />
<line x1="878.5" y1="192.2" x2="875.5" y2="192.2" stroke="#333" stroke-width="1" />
<line x1="748.8" y1="62.9" x2="748.8" y2="65.9" stroke="#333" stroke-width="1" />
<line x1="748.8" y1="200.9" x2="748.8" y2="197.9" stroke="#333" stroke-width="1" />
<line x1="810.5" y1="62.9" x2="810.5" y2="65.9" stroke="#333" stroke-width="1" />
<line x1="810.5" y1="200.9" x2="810.5" y2="197.9" stroke="#333" stroke-width="1" />
<line x1="872" y1="62.9" x2="872" y2="200.9" stroke="#111" stroke-width="1.3" stroke-dasharray="4,3"/>
<rect x="685.7" y="62.9" width="192.8" height="138" fill="none" stroke="#3a3a3a" stroke-width="1.3" />
<line x1="777.9" y1="44.8" x2="864" y2="44.8" stroke="#e0202a" stroke-width="2.2" />
<line x1="814.4" y1="44.8" x2="814.4" y2="70.5" stroke="#ef7f2e" stroke-width="1.8" /><polygon points="814.4,78.5 809.9,68.5 818.9,68.5" fill="#ef7f2e" stroke="none" stroke-width="1" />
<line x1="837.8" y1="44.8" x2="837.8" y2="70.5" stroke="#6e6e6e" stroke-width="1.8" /><polygon points="837.8,78.5 833.3,68.5 842.3,68.5" fill="#6e6e6e" stroke="none" stroke-width="1" />
<line x1="862.6" y1="44.8" x2="862.6" y2="70.5" stroke="#a5a5a5" stroke-width="1.8" /><polygon points="862.6,78.5 858.1,68.5 867.1,68.5" fill="#a5a5a5" stroke="none" stroke-width="1" />
<text x="734" y="48" font-family='"Liberation Sans", sans-serif' font-size="19.5" fill="#e0202a"><tspan font-style="italic">t</tspan><tspan font-size="13.5" font-weight="bold" dy="4">trans</tspan></text>
<text x="677.5" y="92.8" font-family='"Liberation Sans", sans-serif' font-size="19.5" text-anchor="end" fill="#262626" >1</text>
<text x="677.5" y="128.1" font-family='"Liberation Sans", sans-serif' font-size="19.5" text-anchor="end" fill="#262626" >0.8</text>
<text x="677.5" y="163.8" font-family='"Liberation Sans", sans-serif' font-size="19.5" text-anchor="end" fill="#262626" >0.6</text>
<text x="677.5" y="199.5" font-family='"Liberation Sans", sans-serif' font-size="19.5" text-anchor="end" fill="#262626" >0.4</text>
<text x="0" y="0" font-family='"Liberation Sans", sans-serif' font-size="19" fill="#262626" text-anchor="middle" transform="translate(629,139) rotate(-90)">z(<tspan font-style="italic">t</tspan>) / W</text>
<rect x="685.7" y="221.3" width="127.8" height="138.3" fill="#fcefe6" stroke="none" stroke-width="1" />
<rect x="813.5" y="221.3" width="65" height="138.3" fill="#f6c9a8" stroke="none" stroke-width="1" />
<g clip-path="url(#dc2)">
<polyline points="787.3,358.8 787.9,359.2 788.5,357.9 789.1,357.2 789.7,358.1 790.3,358.4 790.9,358.1 791.5,358 792.1,357.7 792.7,357.3 793.3,357.1 793.9,356.4 794.5,355.9 795.1,356.2 795.7,356.1 796.3,356.2 796.9,356.6 797.5,356.6 798.1,356.1 798.7,355.8 799.3,355.3 799.9,354.5 800.5,354.7 801.1,354.8 801.7,354.2 802.3,353.4 802.9,353.9 803.5,354 804.1,354.1 804.7,354.3 805.3,353.9 805.9,353.7 806.5,353.8 807.1,353.5 807.7,353.4 808.3,353.2 808.9,352.6 809.5,352.4 810.1,352.5 810.7,352.6 811.3,352 811.9,352.5 812.5,352.5 813.1,351.7 813.7,351.8 814.3,352.1 814.9,351.7 815.5,351.1 816.1,350.9 816.7,349.9 817.3,349.9 817.9,350.3 818.5,349.7 819.1,349.1 819.7,348.5 820.3,347.8 820.9,347.8 821.5,348.2 822.1,347.9 822.7,347.5 823.3,347.6 823.9,347.3 824.5,346.9 825.1,347 825.7,346.2 826.3,345.7 826.9,345.2 827.5,344.9 828.1,345.2 828.7,344.7 829.3,344 829.9,343.9 830.5,343.8 831.1,343.6 831.7,343.2 832.3,343 832.9,342.7 833.5,342.2 834.1,342.1 834.7,342.3 835.3,341.7 835.9,340.9 836.5,341.5 837.1,341.1 837.7,340.1 838.3,340 838.9,340 839.5,339.8 840.1,339.3 840.7,338.8 841.3,338.9 841.9,338.9 842.5,338 843.1,337.8 843.7,337.5 844.3,336.3 844.9,336 845.5,336.2 846.1,336 846.7,335.8 847.3,335.7 847.9,335.4 848.5,334.8 849.1,335 849.7,334 850.3,332.6 850.9,332.8 851.5,332.6 852.1,331.6 852.7,331.4 853.3,331.6 853.9,330.7 854.5,330.8 855.1,331.6 855.7,331.3 856.3,330.4 856.9,329.8 857.5,329.2 858.1,328.9 858.7,328.6 859.3,328.3 859.9,328.1 860.5,327.8 861.1,327.6 861.7,327.1 862.3,325.8 862.9,324.4 863.5,324.5 864.1,324.3 864.7,323.4 865.3,322.2 865.9,320.5 866.5,319.2 867.1,317.8 867.7,316.1 868.3,313.4 868.9,310.7 869.5,308.1 870.1,304.9 870.7,301.9 871,300.5" fill="none" stroke="#a3a3a3" stroke-width="3.0" />
<polyline points="711.9,358.1 712.5,357.2 713.1,357.5 713.7,358.3 714.3,359 714.9,358.8 715.5,357.8 716.1,357.2 716.7,357.8 717.3,359.1 717.9,358.7 718.5,357.1 719.1,356.3 719.7,357.8 720.3,358.3 720.9,356.4 721.5,356.2 722.1,356.4 722.7,356 723.3,356.3 723.9,356.2 724.5,356.7 725.1,356.9 725.7,356.2 726.3,356.4 726.9,357.1 727.5,355.9 728.1,355.2 728.7,355.5 729.3,355.5 729.9,355.2 730.5,355.2 731.1,355.7 731.7,355.4 732.3,354.8 732.9,354.6 733.5,354.4 734.1,353.8 734.7,354.3 735.3,354.3 735.9,354.7 736.5,355.6 737.1,353.7 737.7,353.4 738.3,353.7 738.9,353.5 739.5,354 740.1,352.7 740.7,352.4 741.3,353.2 741.9,353.8 742.5,353.1 743.1,352.9 743.7,352.8 744.3,352.1 744.9,352.1 745.5,352.9 746.1,353.6 746.7,354 747.3,353.9 747.9,352.9 748.5,352.9 749.1,351.9 749.7,351.3 750.3,352.2 750.9,351.8 751.5,350.9 752.1,350.9 752.7,350.9 753.3,350.5 753.9,349.9 754.5,350 755.1,349.9 755.7,349.1 756.3,349.3 756.9,348.8 757.5,347.4 758.1,347.2 758.7,348.2 759.3,348.5 759.9,347.2 760.5,346.5 761.1,347.1 761.7,346.9 762.3,345.7 762.9,346.4 763.5,346.2 764.1,345.5 764.7,345.9 765.3,345.7 765.9,345.5 766.5,346.3 767.1,345.9 767.7,344.3 768.3,343.4 768.9,343.8 769.5,344.4 770.1,344.5 770.7,344.3 771.3,343.7 771.9,343.4 772.5,343.2 773.1,343.5 773.7,343.4 774.3,343.2 774.9,344.3 775.5,344.3 776.1,342.3 776.7,342.8 777.3,343.7 777.9,342 778.5,342.2 779.1,342.5 779.7,341.5 780.3,341 780.9,340.6 781.5,340.8 782.1,341.8 782.7,341.4 783.3,340.8 783.9,341.8 784.5,340.7 785.1,339.5 785.7,339.8 786.3,338.8 786.9,338.2 787.5,338.5 788.1,339.1 788.7,338.5 789.3,338.1 789.9,338.5 790.5,338.4 791.1,338.3 791.7,338.1 792.3,337.6 792.9,338.2 793.5,338 794.1,336.8 794.7,336.6 795.3,335.8 795.9,335 796.5,335.7 797.1,336 797.7,336.1 798.3,335.5 798.9,333.6 799.5,334.5 800.1,335.6 800.7,333.7 801.3,333.5 801.9,333.8 802.5,331.8 803.1,331.2 803.7,331.6 804.3,332.4 804.9,332 805.5,330.6 806.1,330.6 806.7,330.2 807.3,329.6 807.9,329.6 808.5,330.4 809.1,330.3 809.7,328.9 810.3,327.6 810.9,327.9 811.5,327.8 812.1,327.1 812.7,326.3 813.3,327.4 813.9,328.5 814.5,326.8 815.1,326.6 815.7,327.8 816.3,325.8 816.9,324.7 817.5,325.6 818.1,326.1 818.7,326.2 819.3,325.6 819.9,325.5 820.5,326.5 821.1,327.6 821.7,326.1 822.3,324.3 822.9,325.9 823.5,325.8 824.1,323.8 824.7,324.3 825.3,324.8 825.9,325.2 826.5,325.1 827.1,324 827.7,324 828.3,324.5 828.9,325.2 829.5,325 830.1,323.2 830.7,322.5 831.3,324 831.9,324.2 832.5,322.2 833.1,322.1 833.7,323.2 834.3,324.1 834.9,323.4 835.5,323.1 836.1,324 836.7,323.2 837.3,322.6 837.9,323.8 838.5,324.6 839.1,323.8 839.7,322.7 840.3,322.6 840.9,322 841.5,321.1 842.1,320.4 842.7,320.1 843.3,320.3 843.9,321.5 844.5,321.1 845.1,320 845.7,320.5 846.3,319.4 846.9,319.1 847.5,317.7 848.1,316.8 848.7,318.2 849.3,316.5 849.9,315.1 850.5,316.7 851.1,316.8 851.7,315.3 852.3,314.9 852.9,314.8 853.5,315.1 854.1,315.3 854.7,314.4 855.3,313.5 855.9,313.2 856.5,314 857.1,313.9 857.7,313.2 858.3,312.5 858.9,311.1 859.5,310.5 860.1,311.2 860.7,311.3 861.3,310.1 861.9,308.8 862.5,309 863.1,309.4 863.7,308.8 864.3,308.5 864.9,308.5 865.5,307.6 866.1,306.7 866.7,305.8 867.3,304.8 867.9,303.5 868.5,301.3 869.1,299.3 869.7,296.7 870.3,293.6 870.9,290.6 871.5,285.9 872,280.2" fill="none" stroke="#5a5a5a" stroke-width="3.2" />
<polyline points="716,356.6 716.6,356.3 717.2,357.4 717.8,357.6 718.4,355.6 719,355 719.6,355.4 720.2,355.2 720.8,354.5 721.4,354.3 722,355.1 722.6,355.6 723.2,355.5 723.8,354.7 724.4,353.5 725,354.2 725.6,353.8 726.2,352.9 726.8,353.6 727.4,352.3 728,351.9 728.6,351.8 729.2,352.1 729.8,352.2 730.4,352.6 731,351.5 731.6,350.5 732.2,350.8 732.8,351 733.4,350.1 734,349.3 734.6,350.4 735.2,349.6 735.8,349.8 736.4,350.5 737,350.4 737.6,350.6 738.2,349.3 738.8,348.1 739.4,348.4 740,349 740.6,349.4 741.2,348.4 741.8,347.4 742.4,347.2 743,347 743.6,347.1 744.2,347.1 744.8,348.2 745.4,347.8 746,346.3 746.6,346.6 747.2,346.1 747.8,345.4 748.4,345.8 749,346.2 749.6,345.3 750.2,345.4 750.8,345.7 751.4,344.8 752,345.3 752.6,345.3 753.2,345.2 753.8,344.8 754.4,343.9 755,343.8 755.6,343 756.2,343.3 756.8,343.2 757.4,341.6 758,343 758.6,343.4 759.2,341.4 759.8,342.3 760.4,342.5 761,341.9 761.6,341.4 762.2,340.4 762.8,339.7 763.4,338.6 764,338.8 764.6,339.6 765.2,340.3 765.8,341.5 766.4,340.3 767,339.4 767.6,339.4 768.2,338.6 768.8,337.9 769.4,337 770,337.2 770.6,337.2 771.2,337.4 771.8,337.5 772.4,338 773,338.3 773.6,337.5 774.2,337.9 774.8,337.9 775.4,337 776,336.5 776.6,336.3 777.2,336.7 777.8,337 778.4,336.5 779,336.3 779.6,335.6 780.2,335.3 780.8,334.6 781.4,334.9 782,335.5 782.6,334.7 783.2,334.8 783.8,334.4 784.4,333.7 785,334.2 785.6,334.1 786.2,332.8 786.8,332.7 787.4,332 788,332.5 788.6,333.1 789.2,332 789.8,333.1 790.4,334 791,332.6 791.6,331.6 792.2,331.9 792.8,332.2 793.4,331.3 794,330.3 794.6,330.8 795.2,330.6 795.8,330.1 796.4,330.1 797,328.8 797.6,327.8 798.2,326.8 798.8,326.9 799.4,328.8 800,328.1 800.6,327.9 801.2,328.8 801.8,327.9 802.4,327.1 803,327 803.6,326.3 804.2,325.9 804.8,326.1 805.4,326.4 806,326.6 806.6,325.7 807.2,325.5 807.8,325.2 808.4,324.5 809,324.9 809.6,324.8 810.2,324.3 810.8,324.2 811.4,323.8 812,323.1 812.6,323 813.2,323.7 813.8,323.5 814.4,323.8 815,323.7 815.6,320.8 816.2,320.1 816.8,322.4 817.4,322.4 818,320.9 818.6,320.2 819.2,320.9 819.8,321.6 820.4,321 821,320.4 821.6,320.6 822.2,320.5 822.8,318.8 823.4,318.5 824,319 824.6,318.2 825.2,318.3 825.8,318.1 826.4,315.8 827,316.4 827.6,318.3 828.2,317.1 828.8,316.1 829.4,316 830,315.2 830.6,315 831.2,315.3 831.8,314.7 832.4,314.1 833,313.6 833.6,314.5 834.2,315.3 834.8,314.7 835.4,313.7 836,312.7 836.6,312.8 837.2,313.9 837.8,312.4 838.4,311.9 839,311.3 839.6,310.2 840.2,311.4 840.8,310.5 841.4,309.2 842,309.8 842.6,310.9 843.2,310.2 843.8,310.2 844.4,309.8 845,309.7 845.6,310 846.2,308.9 846.8,308.9 847.4,308.7 848,309.1 848.6,309.8 849.2,308.9 849.8,307.3 850.4,306.1 851,305.5 851.6,305.9 852.2,306.1 852.8,305.8 853.4,305.6 854,305.7 854.6,304.7 855.2,303.6 855.8,304.7 856.4,305.5 857,304.3 857.6,304.4 858.2,304 858.8,302.9 859.4,302.1 860,302.4 860.6,303.2 861.2,303.1 861.8,303.2 862.4,302.5 863,301.9 863.6,302.3 864.2,301.9 864.8,300.9 865.4,300.2 866,299.7 866.6,299.2 867.2,298.9 867.8,297.4 868.4,295.8 869,294.2 869.6,292.5 870.2,291.7 870.8,290 871.4,287.8 872,284.2 872.6,280.6 873.2,271.8 873.8,262.1 874.4,242.9 874.8,218.4" fill="none" stroke="#f7840e" stroke-width="3.4" />
</g>
<line x1="749.6" y1="339.8" x2="846.6" y2="298.8" stroke="#3a3ad8" stroke-width="1.4" />
<line x1="864.9" y1="222.3" x2="864.9" y2="276.2" stroke="#3a3ad8" stroke-width="1.4" />
<rect x="810.6" y="319.2" width="7.5" height="7.5" fill="#f7940e" stroke="#111" stroke-width="1.2" />
<rect x="834" y="319.2" width="7.5" height="7.5" fill="#5f5f5f" stroke="#111" stroke-width="1.2" />
<rect x="860.2" y="320.2" width="7.5" height="7.5" fill="#a8a8a8" stroke="#111" stroke-width="1.2" />
<text x="0" y="0" font-family='"Liberation Sans", sans-serif' font-size="19" fill="#262626" text-anchor="middle" transform="translate(792.5,314.5) rotate(-23)">~1 m/s</text>
<text x="0" y="0" font-family='"Liberation Sans", sans-serif' font-size="18" fill="#262626" text-anchor="middle" transform="translate(856,256.5) rotate(-90)">~800 m/s</text>
<line x1="685.7" y1="313.5" x2="688.7" y2="313.5" stroke="#333" stroke-width="1" />
<line x1="878.5" y1="313.5" x2="875.5" y2="313.5" stroke="#333" stroke-width="1" />
<line x1="685.7" y1="267.4" x2="688.7" y2="267.4" stroke="#333" stroke-width="1" />
<line x1="878.5" y1="267.4" x2="875.5" y2="267.4" stroke="#333" stroke-width="1" />
<line x1="748.8" y1="221.3" x2="748.8" y2="224.3" stroke="#333" stroke-width="1" />
<line x1="748.8" y1="359.6" x2="748.8" y2="356.6" stroke="#333" stroke-width="1" />
<line x1="810.5" y1="221.3" x2="810.5" y2="224.3" stroke="#333" stroke-width="1" />
<line x1="810.5" y1="359.6" x2="810.5" y2="356.6" stroke="#333" stroke-width="1" />
<line x1="872" y1="221.3" x2="872" y2="359.6" stroke="#111" stroke-width="1.3" stroke-dasharray="4,3"/>
<rect x="685.7" y="221.3" width="192.8" height="138.3" fill="none" stroke="#3a3a3a" stroke-width="1.3" />
<text x="675.0" y="237.3" font-family='"Liberation Sans", sans-serif' font-size="19" text-anchor="end" fill="#262626" >60</text>
<text x="675.0" y="276.4" font-family='"Liberation Sans", sans-serif' font-size="19" text-anchor="end" fill="#262626" >40</text>
<text x="675.0" y="323.2" font-family='"Liberation Sans", sans-serif' font-size="19" text-anchor="end" fill="#262626" >20</text>
<text x="675.0" y="363.2" font-family='"Liberation Sans", sans-serif' font-size="19" text-anchor="end" fill="#262626" >0</text>
<text x="0" y="0" font-family='"Liberation Sans", sans-serif' font-size="19" fill="#262626" text-anchor="middle" transform="translate(628.8,285.8) rotate(-90)"><tspan font-style="italic">l</tspan><tspan font-size="13" dy="3">1D</tspan><tspan dy="-3">(</tspan><tspan font-style="italic">t</tspan>) (mm)</text>
<rect x="685.7" y="379.7" width="127.8" height="138" fill="#fcefe6" stroke="none" stroke-width="1" />
<rect x="813.5" y="379.7" width="65" height="138" fill="#f6c9a8" stroke="none" stroke-width="1" />
<line x1="770" y1="411.4" x2="878.5" y2="411.4" stroke="#6a80c8" stroke-width="1" stroke-dasharray="3,2"/>
<g clip-path="url(#dc3)">
<polyline points="686,406.5 686.6,405.8 687.2,406 687.8,406.6 688.4,406 689,406.1 689.6,406.9 690.2,407.5 690.8,408.5 691.4,408.8 692,408.7 692.6,407.9 693.2,407.9 693.8,408.8 694.4,408 695,407.5 695.6,407.8 696.2,408.3 696.8,407.8 697.4,406.9 698,407.5 698.6,407.8 699.2,406.7 699.8,406.8 700.4,407.6 701,407.3 701.6,407.3 702.2,408.5 702.8,406.7 703.4,407.4 704,408 704.6,405.9 705.2,406.4 705.8,408.4 706.4,408.2 707,408.2 707.6,409.4 708.2,408.1 708.8,405.9 709.4,405.7 710,407.7 710.6,408 711.2,406.5 711.8,406.2 712.4,407.1 713,407.8 713.6,408.3 714.2,408.9 714.8,407.9 715.4,407.3 716,407.1 716.6,407.3 717.2,407.3 717.8,406.7 718.4,408.5 719,409.2 719.6,408.4 720.2,409.7 720.8,409.8 721.4,408.4 722,408 722.6,407.6 723.2,408.2 723.8,408.4 724.4,408.8 725,408.8 725.6,407.6 726.2,407.6 726.8,408.1 727.4,408.4 728,408.9 728.6,408.4 729.2,407.9 729.8,409.2 730.4,408.9 731,408.2 731.6,409.2 732.2,409.2 732.8,408 733.4,406.5 734,408.2 734.6,409.6 735.2,408.9 735.8,408.4 736.4,409.8 737,409.3 737.6,408.3 738.2,407.5 738.8,407.7 739.4,407.9 740,407.6 740.6,407 741.2,406.8 741.8,407.8 742.4,407.4 743,407.4 743.6,408.4 744.2,412.1 744.8,407.5 745.4,407.3 746,408.2 746.6,407.7 747.2,407 747.8,407.6 748.4,407.8 749,408 749.6,407.4 750.2,408.5 750.8,409.2 751.4,407.4 752,406.8 752.6,407.6 753.2,408.4 753.8,407.6 754.4,407.7 755,407.6 755.6,406.8 756.2,408 756.8,409.4 757.4,408.9 758,407.8 758.6,408.5 759.2,408.1 759.8,407.6 760.4,408.3 761,408.7 761.6,408.8 762.2,408.1 762.8,408.3 763.4,407.9 764,408 764.6,408.3 765.2,407.3 765.8,407.5 766.4,408.1 767,408.7 767.6,408.4 768.2,408.6 768.8,409.3 769.4,408.9 770,407.8 770.6,408.4 771.2,409.1 771.8,407.5 772.4,406.8 773,408.1 773.6,408 774.2,407.6 774.8,407.4 775.4,408.1 776,409.2 776.6,409.1 777.2,409.8 777.8,409.6 778.4,408.7 779,410 779.6,409.5 780.2,408.9 780.8,408.9 781.4,408.7 782,410.6 782.6,410.7 783.2,409.2 783.8,410.4 784.4,410.5 785,409.2 785.6,409.7 786.2,409.1 786.8,409.6 787.4,411.3 788,411.1 788.6,410.5 789.2,410 789.8,410.4 790.4,408.9 791,408.4 791.6,410.5 792.2,409.6 792.8,409.8 793.4,411 794,410.9 794.6,411.2 795.2,411.7 795.8,412 796.4,411.3 797,411.1 797.6,411.7 798.2,412 798.8,411.9 799.4,412.6 800,413.8 800.6,414.3 801.2,414.9 801.8,415.2 802.4,414.1 803,413.3 803.6,413.6 804.2,414.5 804.8,414.9 805.4,415.4 806,416.7 806.6,416.1 807.2,416 807.8,417.9 808.4,415.4 809,415.2 809.6,415.9 810.2,415.9 810.8,416.7 811.4,419 812,418.5 812.6,417.8 813.2,418.7 813.8,420.4 814.4,420.1 815,420.1 815.6,420.9 816.2,421.6 816.8,420.9 817.4,419.7 818,419.2 818.6,421.3 819.2,423 819.8,423.8 820.4,424.6 821,423.6 821.6,423.8 822.2,425.6 822.8,425.3 823.4,424.8 824,426.7 824.6,426.4 825.2,425.2 825.8,427.2 826.4,428.3 827,427.5 827.6,427 828.2,428.2 828.8,430.1 829.4,430.7 830,430.7 830.6,431.5 831.2,431.8 831.8,431 832.4,432.3 833,432.5 833.6,431.8 834.2,432.8 834.8,434.1 835.4,434.1 836,433.6 836.6,433.5 837.2,434.2 837.8,435.9 838.4,436.5 839,436.1 839.6,436.3 840.2,436.8 840.8,436.8 841.4,437.7 842,439.1 842.6,439.3 843.2,439.1 843.8,439.3 844.4,439.3 845,439.8 845.6,437.9 846.2,441.8 846.8,441.8 847.4,442.3 848,442.9 848.6,443.2 849.2,443.9 849.8,444.1 850.4,444.7 851,446 851.6,446.8 852.2,447.3 852.8,447.5 853.4,447.3 854,448.9 854.6,448.6 855.2,447.7 855.8,449 856.4,451 857,451.3 857.6,451.2 858.2,452.9 858.8,452.8 859.4,452.3 860,453.8 860.6,454.1 861.2,453.1 861.8,454.4 862.4,455.1 863,455.9 863.6,457 864.2,455.8 864.8,456.7 865.4,459.2 866,460.3 866.6,462.5 867.2,463.5 867.8,463.8 868.4,467.8 869,473.1 869.6,476.8 870.2,481.4 870.8,489.9 871.4,497.4 872,516.9 872,517.1" fill="none" stroke="#a3a3a3" stroke-width="3.6" />
<polyline points="686,408.9 686.6,409.1 687.2,408.7 687.8,408.9 688.4,410.2 689,409.7 689.6,409.4 690.2,409.7 690.8,409.3 691.4,408.8 692,408.1 692.6,409.2 693.2,410.1 693.8,410.6 694.4,409.5 695,410 695.6,409.3 696.2,409.8 696.8,409.9 697.4,410 698,410.1 698.6,409.5 699.2,409 699.8,410 700.4,410.6 701,409.4 701.6,409.8 702.2,409.6 702.8,409.6 703.4,409.5 704,409.4 704.6,409.5 705.2,408.4 705.8,408.6 706.4,408.8 707,409.3 707.6,410 708.2,410 708.8,410 709.4,409.7 710,409.7 710.6,410.3 711.2,410.2 711.8,409.4 712.4,409.1 713,409.3 713.6,409.5 714.2,410.4 714.8,410.2 715.4,408.9 716,409.3 716.6,410.1 717.2,410.2 717.8,409.5 718.4,409.2 719,409.5 719.6,412.3 720.2,410.1 720.8,409.6 721.4,409.8 722,410 722.6,410.5 723.2,409.7 723.8,410.6 724.4,411.3 725,410.1 725.6,409.6 726.2,409.7 726.8,410.1 727.4,410.5 728,410.5 728.6,410.5 729.2,409.8 729.8,409.3 730.4,409.7 731,410.1 731.6,410.9 732.2,410.2 732.8,410 733.4,411 734,411.6 734.6,410.8 735.2,410.7 735.8,411.4 736.4,411 737,411.8 737.6,411.6 738.2,410.6 738.8,411.4 739.4,409.5 740,411.5 740.6,412.1 741.2,412.8 741.8,412.7 742.4,412.6 743,412.2 743.6,411.3 744.2,412.4 744.8,412.5 745.4,412.6 746,413 746.6,411.5 747.2,412.2 747.8,412.6 748.4,412.5 749,413 749.6,413.5 750.2,412.8 750.8,412.4 751.4,411.7 752,412.9 752.6,413 753.2,414.2 753.8,412.8 754.4,413.1 755,412.8 755.6,412.9 756.2,413.2 756.8,412.6 757.4,413.9 758,414 758.6,413.3 759.2,413.9 759.8,413.7 760.4,412.6 761,414.1 761.6,414.4 762.2,414 762.8,414.8 763.4,414.8 764,414.6 764.6,414.8 765.2,414.9 765.8,415.4 766.4,415.8 767,415.5 767.6,415.6 768.2,415.3 768.8,414.6 769.4,414.5 770,415.3 770.6,416.6 771.2,416.4 771.8,414.8 772.4,414.7 773,415.9 773.6,416.3 774.2,416.3 774.8,416.7 775.4,417.2 776,416.2 776.6,416.1 777.2,416.5 777.8,416.5 778.4,417.5 779,418.4 779.6,418.2 780.2,417.3 780.8,416.9 781.4,417.5 782,417.3 782.6,417.2 783.2,418 783.8,418.5 784.4,418.3 785,418.1 785.6,419 786.2,419.1 786.8,417.8 787.4,417.8 788,418.8 788.6,418.7 789.2,418.7 789.8,418.3 790.4,419 791,420.1 791.6,419.5 792.2,419.6 792.8,420.1 793.4,419.8 794,418.7 794.6,418 795.2,420.3 795.8,421.3 796.4,420.4 797,421.4 797.6,421.5 798.2,422 798.8,421.9 799.4,421.8 800,421.5 800.6,420.2 801.2,423.2 801.8,423.3 802.4,423.3 803,423.5 803.6,423.9 804.2,424.5 804.8,423.9 805.4,424.1 806,424.3 806.6,424.1 807.2,424.6 807.8,425 808.4,425.1 809,425.3 809.6,425.5 810.2,425.1 810.8,427.1 811.4,426.7 812,426.8 812.6,427.2 813.2,426.7 813.8,426.9 814.4,427.1 815,427.1 815.6,427.7 816.2,427.8 816.8,428.5 817.4,428.6 818,430.7 818.6,428.7 819.2,429.8 819.8,429.9 820.4,430.1 821,429.2 821.6,429 822.2,430 822.8,429.3 823.4,429.6 824,430.7 824.6,430.2 825.2,430 825.8,431 826.4,431.9 827,432.5 827.6,432 828.2,431.4 828.8,429.9 829.4,432.7 830,432.9 830.6,433.1 831.2,433.9 831.8,434.8 832.4,434.6 833,434 833.6,434 834.2,435.1 834.8,435.9 835.4,436.4 836,435.8 836.6,435.4 837.2,435.6 837.8,434.7 838.4,435.1 839,436 839.6,437.5 840.2,438.9 840.8,436.4 841.4,438.5 842,439.4 842.6,440.5 843.2,441 843.8,441.3 844.4,441.5 845,441.8 845.6,442.6 846.2,442.8 846.8,442.5 847.4,442.9 848,443.1 848.6,443.6 849.2,444 849.8,443.5 850.4,444.9 851,445.6 851.6,445.4 852.2,445.6 852.8,445.8 853.4,446.7 854,447.1 854.6,448.3 855.2,449 855.8,448.4 856.4,449.8 857,451.2 857.6,450.2 858.2,450.2 858.8,452.6 859.4,452.7 860,452.7 860.6,453.5 861.2,453.2 861.8,453.4 862.4,455.8 863,458 863.6,458.8 864.2,459.3 864.8,460.8 865.4,462.1 866,463.3 866.6,464.1 867.2,465.6 867.8,469.3 868.4,472.5 869,474.6 869.6,477.7 870.2,483.1 870.8,490.8 871.4,498 872,517.2 872,517.3" fill="none" stroke="#5a5a5a" stroke-width="3.4" />
<polyline points="686,411.4 686.6,411.6 687.2,411.5 687.8,411.1 688.4,411.1 689,411.1 689.6,411.4 690.2,412.5 690.8,412.3 691.4,411.5 692,412 692.6,412.5 693.2,412.4 693.8,411.9 694.4,411.9 695,412.7 695.6,412.2 696.2,411.8 696.8,411.6 697.4,411.3 698,411.4 698.6,411.9 699.2,412.2 699.8,412.4 700.4,413.2 701,413.1 701.6,411.9 702.2,411.8 702.8,413 703.4,413.3 704,412.7 704.6,412.5 705.2,412.8 705.8,412.7 706.4,413.7 707,413.8 707.6,413.9 708.2,414.1 708.8,414 709.4,413.6 710,413.9 710.6,414.1 711.2,413.5 711.8,413.6 712.4,414.8 713,414.1 713.6,414 714.2,414.8 714.8,414.1 715.4,415 716,415.7 716.6,414.3 717.2,414.1 717.8,415 718.4,414.9 719,415 719.6,415.1 720.2,415.2 720.8,415.9 721.4,415.3 722,414.8 722.6,415 723.2,415 723.8,414.7 724.4,415.2 725,415 725.6,415.7 726.2,416.4 726.8,415.4 727.4,414.6 728,415.5 728.6,415.1 729.2,414.6 729.8,415.5 730.4,416.4 731,416.8 731.6,416.1 732.2,415.7 732.8,415.8 733.4,416.8 734,416.7 734.6,416 735.2,416.4 735.8,416.5 736.4,416.4 737,416 737.6,416.1 738.2,416.5 738.8,417.1 739.4,417.7 740,417.2 740.6,417.3 741.2,417.2 741.8,417.4 742.4,417.6 743,417.5 743.6,417 744.2,416.9 744.8,416.8 745.4,415.8 746,416.5 746.6,417.1 747.2,417.4 747.8,418.8 748.4,418.5 749,417.2 749.6,417.8 750.2,418.3 750.8,420 751.4,418 752,418.5 752.6,418.9 753.2,418.2 753.8,418 754.4,418.6 755,418.2 755.6,418.4 756.2,418.6 756.8,419 757.4,420.7 758,419.2 758.6,419 759.2,419 759.8,418.4 760.4,418 761,419.2 761.6,418.8 762.2,419.1 762.8,419.4 763.4,419.4 764,419.9 764.6,420 765.2,420.5 765.8,419.6 766.4,420.2 767,421.6 767.6,421.1 768.2,420.4 768.8,420.4 769.4,420.2 770,420.8 770.6,421.1 771.2,420.7 771.8,420.7 772.4,420.5 773,420.4 773.6,421.4 774.2,422 774.8,422 775.4,422.2 776,421.5 776.6,421.5 777.2,421.7 777.8,421.9 778.4,422.4 779,422.1 779.6,421.8 780.2,421.6 780.8,423.1 781.4,423.3 782,422.2 782.6,422.8 783.2,424 783.8,423.3 784.4,422.7 785,423.2 785.6,422.6 786.2,423.3 786.8,424.2 787.4,424 788,423.8 788.6,424.1 789.2,424.3 789.8,424.2 790.4,424 791,423.6 791.6,424.8 792.2,425.2 792.8,424.8 793.4,425.2 794,424.9 794.6,424.8 795.2,425.4 795.8,425.6 796.4,425.3 797,425.6 797.6,426.2 798.2,426.6 798.8,426.4 799.4,425.9 800,425.2 800.6,426 801.2,427.1 801.8,426.7 802.4,426.6 803,427.2 803.6,427.4 804.2,427.5 804.8,427.1 805.4,427.4 806,427.2 806.6,427 807.2,427.8 807.8,427.9 808.4,428.7 809,429 809.6,427.8 810.2,426.4 810.8,427.4 811.4,427.8 812,427.5 812.6,428.5 813.2,427.8 813.8,426.6 814.4,427.6 815,428.7 815.6,428.7 816.2,428.9 816.8,428.8 817.4,428.3 818,428.8 818.6,429.2 819.2,428.7 819.8,429.6 820.4,430.5 821,430.6 821.6,430.4 822.2,430.1 822.8,430.3 823.4,430.3 824,431.1 824.6,431.3 825.2,431.6 825.8,432.3 826.4,433.2 827,432.7 827.6,432.4 828.2,433.3 828.8,433.1 829.4,432.8 830,432.8 830.6,434.4 831.2,434.5 831.8,434.4 832.4,434.6 833,436.1 833.6,435.7 834.2,434.5 834.8,434.4 835.4,434.8 836,433.9 836.6,434.8 837.2,437.1 837.8,437.7 838.4,436.9 839,436.8 839.6,438.2 840.2,439 840.8,438.9 841.4,438.6 842,439.5 842.6,440.2 843.2,440.8 843.8,440.8 844.4,440.5 845,440.9 845.6,441.4 846.2,442 846.8,442.1 847.4,441.9 848,442.8 848.6,442.6 849.2,443.7 849.8,445.3 850.4,444.9 851,445.2 851.6,446.2 852.2,445.4 852.8,446 853.4,447.8 854,449.2 854.6,448.5 855.2,449 855.8,450.1 856.4,451.4 857,452.2 857.6,452.3 858.2,453.5 858.8,453.9 859.4,453.7 860,453.8 860.6,455.3 861.2,457.2 861.8,457.6 862.4,458.1 863,458.6 863.6,459.7 864.2,460.9 864.8,463.9 865.4,463.4 866,465.5 866.6,467.1 867.2,468 867.8,469.7 868.4,471.7 869,474.9 869.6,477.6 870.2,479.2 870.8,485.7 871.4,493 872,510.9 872.2,518.4" fill="none" stroke="#f7840e" stroke-width="4.6" />
</g>
<rect x="810.6" y="424.6" width="7.5" height="7.5" fill="#f7940e" stroke="#111" stroke-width="1.2" />
<rect x="833.5" y="432.4" width="8.5" height="8.5" fill="#5f5f5f" stroke="#111" stroke-width="1.2" />
<rect x="860.8" y="452.9" width="7.5" height="7.5" fill="#a8a8a8" stroke="#111" stroke-width="1.2" />
<line x1="729" y1="509.3" x2="729" y2="517.7" stroke="#e8762e" stroke-width="3" />
<text x="722.0" y="501.5" font-family='"Liberation Serif", serif' font-size="22" font-style="italic" fill="#262626">t<tspan font-size="14.5" font-style="normal" dy="3">1</tspan></text>
<line x1="748.8" y1="509.3" x2="748.8" y2="517.7" stroke="#e8762e" stroke-width="3" />
<text x="741.8" y="501.5" font-family='"Liberation Serif", serif' font-size="22" font-style="italic" fill="#262626">t<tspan font-size="14.5" font-style="normal" dy="3">2</tspan></text>
<line x1="777.2" y1="509.3" x2="777.2" y2="517.7" stroke="#e8762e" stroke-width="3" />
<text x="770.2" y="501.5" font-family='"Liberation Serif", serif' font-size="22" font-style="italic" fill="#262626">t<tspan font-size="14.5" font-style="normal" dy="3">3</tspan></text>
<line x1="814.3" y1="509.3" x2="814.3" y2="517.7" stroke="#e8762e" stroke-width="3" />
<text x="807.3" y="501.5" font-family='"Liberation Serif", serif' font-size="22" font-style="italic" fill="#262626">t<tspan font-size="14.5" font-style="normal" dy="3">4</tspan></text>
<line x1="848.8" y1="509.3" x2="848.8" y2="517.7" stroke="#e8762e" stroke-width="3" />
<text x="841.8" y="501.5" font-family='"Liberation Serif", serif' font-size="22" font-style="italic" fill="#262626">t<tspan font-size="14.5" font-style="normal" dy="3">5</tspan></text>
<line x1="685.7" y1="413.5" x2="688.7" y2="413.5" stroke="#333" stroke-width="1" />
<line x1="878.5" y1="413.5" x2="875.5" y2="413.5" stroke="#333" stroke-width="1" />
<line x1="685.7" y1="465.6" x2="688.7" y2="465.6" stroke="#333" stroke-width="1" />
<line x1="878.5" y1="465.6" x2="875.5" y2="465.6" stroke="#333" stroke-width="1" />
<line x1="748.8" y1="379.7" x2="748.8" y2="382.7" stroke="#333" stroke-width="1" />
<line x1="748.8" y1="517.7" x2="748.8" y2="514.7" stroke="#333" stroke-width="1" />
<line x1="810.5" y1="379.7" x2="810.5" y2="382.7" stroke="#333" stroke-width="1" />
<line x1="810.5" y1="517.7" x2="810.5" y2="514.7" stroke="#333" stroke-width="1" />
<line x1="872" y1="379.7" x2="872" y2="517.7" stroke="#111" stroke-width="1.3" stroke-dasharray="4,3"/>
<rect x="685.7" y="379.7" width="192.8" height="138" fill="none" stroke="#3a3a3a" stroke-width="1.3" />
<text x="674.5" y="420.8" font-family='"Liberation Sans", sans-serif' font-size="19.5" text-anchor="end" fill="#262626" >1</text>
<text x="676.5" y="472.9" font-family='"Liberation Sans", sans-serif' font-size="19.5" text-anchor="end" fill="#262626" >0.95</text>
<text x="676.5" y="522.0" font-family='"Liberation Sans", sans-serif' font-size="19.5" text-anchor="end" fill="#262626" >0.9</text>
<path transform="translate(628.0,470.4) rotate(-90) scale(0.985) translate(0,-14)" d="M0.6,13 C2,14.2 4.5,13.8 6.2,12.2 C9,9.3 12,4.2 16.2,0.8 M9.2,4.2 C10.8,2 13.5,0.9 17.2,0.6 M17.2,0.6 C16.6,5 16.3,9.2 16.2,13.6 M16.2,13.6 L19.6,12.8 M10.2,8.8 L16.6,8.4" fill="none" stroke="#262626" stroke-width="1.9" stroke-linecap="round" stroke-linejoin="round"/>
<text x="0" y="0" font-family='"Liberation Serif", serif' font-size="20" fill="#262626" transform="translate(628,446.5) rotate(-90)">(<tspan font-style="italic">t</tspan>)</text>
<text x="684.5" y="540.0" font-family='"Liberation Sans", sans-serif' font-size="19.5" text-anchor="middle" fill="#262626" >-15</text>
<text x="746.3" y="540.0" font-family='"Liberation Sans", sans-serif' font-size="19.5" text-anchor="middle" fill="#262626" >-10</text>
<text x="808.0" y="540.0" font-family='"Liberation Sans", sans-serif' font-size="19.5" text-anchor="middle" fill="#262626" >-5</text>
<text x="870.8" y="540.0" font-family='"Liberation Sans", sans-serif' font-size="19.5" text-anchor="middle" fill="#262626" >0</text>
<text x="786" y="561.5" font-family='"Liberation Sans", sans-serif' font-size="19.5" fill="#262626" text-anchor="middle"><tspan font-style="italic">t</tspan> (ms)</text>
<text x="17.2" y="598.6" font-family='"Liberation Sans", sans-serif' font-size="19.5" text-anchor="start" fill="#262626" >(e)</text>
<rect x="95.5" y="609.3" width="200.1" height="151.5" fill="#fff" stroke="none" stroke-width="1" />
<ellipse cx="133.6" cy="722.5" rx="3.1" ry="2.5" fill="#4a7a60" stroke="#111" stroke-width="2.0"/>
<ellipse cx="135.0" cy="731.4" rx="3.1" ry="2.5" fill="#c8c85a" stroke="#111" stroke-width="2.0"/>
<ellipse cx="139.2" cy="732.8" rx="3.1" ry="2.5" fill="#3a6a55" stroke="#111" stroke-width="2.0"/>
<ellipse cx="143.3" cy="724.4" rx="3.1" ry="2.5" fill="#3a6a55" stroke="#111" stroke-width="2.0"/>
<ellipse cx="146.1" cy="721.7" rx="3.1" ry="2.5" fill="#3a6a55" stroke="#111" stroke-width="2.0"/>
<ellipse cx="147.5" cy="727.2" rx="3.1" ry="2.5" fill="#4a7a60" stroke="#111" stroke-width="2.0"/>
<ellipse cx="148.9" cy="731.4" rx="3.1" ry="2.5" fill="#1e4a3c" stroke="#111" stroke-width="2.0"/>
<ellipse cx="150.3" cy="716.1" rx="3.1" ry="2.5" fill="#d0d070" stroke="#111" stroke-width="2.0"/>
<ellipse cx="151.7" cy="710.6" rx="3.1" ry="2.5" fill="#c8c85a" stroke="#111" stroke-width="2.0"/>
<ellipse cx="153.0" cy="721.7" rx="3.1" ry="2.5" fill="#c8c85a" stroke="#111" stroke-width="2.0"/>
<ellipse cx="155.8" cy="713.3" rx="3.1" ry="2.5" fill="#a8b860" stroke="#111" stroke-width="2.0"/>
<ellipse cx="157.2" cy="707.8" rx="3.1" ry="2.5" fill="#2a5a4a" stroke="#111" stroke-width="2.0"/>
<ellipse cx="158.6" cy="700.0" rx="3.1" ry="2.5" fill="#d0d070" stroke="#111" stroke-width="2.0"/>
<ellipse cx="160.0" cy="718.9" rx="3.1" ry="2.5" fill="#2a5a4a" stroke="#111" stroke-width="2.0"/>
<ellipse cx="161.4" cy="710.6" rx="3.1" ry="2.5" fill="#3a6a55" stroke="#111" stroke-width="2.0"/>
<ellipse cx="162.8" cy="720.3" rx="3.1" ry="2.5" fill="#3a6a55" stroke="#111" stroke-width="2.0"/>
<ellipse cx="164.2" cy="705.0" rx="3.1" ry="2.5" fill="#d0d070" stroke="#111" stroke-width="2.0"/>
<ellipse cx="165.6" cy="711.9" rx="3.1" ry="2.5" fill="#4a7a60" stroke="#111" stroke-width="2.0"/>
<ellipse cx="166.9" cy="703.6" rx="3.1" ry="2.5" fill="#c8c85a" stroke="#111" stroke-width="2.0"/>
<ellipse cx="169.7" cy="707.8" rx="3.1" ry="2.5" fill="#c8c85a" stroke="#111" stroke-width="2.0"/>
<ellipse cx="171.1" cy="693.9" rx="3.1" ry="2.5" fill="#2a5a4a" stroke="#111" stroke-width="2.0"/>
<ellipse cx="172.5" cy="702.2" rx="3.1" ry="2.5" fill="#a8b860" stroke="#111" stroke-width="2.0"/>
<ellipse cx="173.9" cy="706.4" rx="3.1" ry="2.5" fill="#1e4a3c" stroke="#111" stroke-width="2.0"/>
<ellipse cx="175.3" cy="695.3" rx="3.1" ry="2.5" fill="#2a5a4a" stroke="#111" stroke-width="2.0"/>
<ellipse cx="179.4" cy="685.0" rx="3.1" ry="2.5" fill="#a8b860" stroke="#111" stroke-width="2.0"/>
<ellipse cx="180.8" cy="689.7" rx="3.1" ry="2.5" fill="#2a5a4a" stroke="#111" stroke-width="2.0"/>
<ellipse cx="183.6" cy="696.7" rx="3.1" ry="2.5" fill="#d0d070" stroke="#111" stroke-width="2.0"/>
<ellipse cx="186.4" cy="687.8" rx="3.1" ry="2.5" fill="#d0d070" stroke="#111" stroke-width="2.0"/>
<ellipse cx="200.3" cy="688.9" rx="3.1" ry="2.5" fill="#3a6a55" stroke="#111" stroke-width="2.0"/>
<ellipse cx="192.5" cy="678.2" rx="3.1" ry="2.5" fill="#4a7a60" stroke="#111" stroke-width="2.0"/>
<ellipse cx="205.4" cy="668.3" rx="3.1" ry="2.5" fill="#4a7a60" stroke="#111" stroke-width="2.0"/>
<ellipse cx="212.0" cy="669.7" rx="3.1" ry="2.5" fill="#1e4a3c" stroke="#111" stroke-width="2.0"/>
<ellipse cx="222.6" cy="657.3" rx="3.1" ry="2.5" fill="#4a7a60" stroke="#111" stroke-width="2.0"/>
<ellipse cx="231.8" cy="646.3" rx="3.1" ry="2.5" fill="#3a6a55" stroke="#111" stroke-width="2.0"/>
<ellipse cx="199.9" cy="689.2" rx="3.1" ry="2.5" fill="#a8b860" stroke="#111" stroke-width="2.0"/>
<ellipse cx="141.0" cy="719.0" rx="3.1" ry="2.5" fill="#d0d070" stroke="#111" stroke-width="2.0"/>
<ellipse cx="145.0" cy="716.0" rx="3.1" ry="2.5" fill="#d0d070" stroke="#111" stroke-width="2.0"/>
<ellipse cx="156.0" cy="716.0" rx="3.1" ry="2.5" fill="#d0d070" stroke="#111" stroke-width="2.0"/>
<ellipse cx="168.0" cy="715.0" rx="3.1" ry="2.5" fill="#1e4a3c" stroke="#111" stroke-width="2.0"/>
<ellipse cx="177.0" cy="700.0" rx="3.1" ry="2.5" fill="#a8b860" stroke="#111" stroke-width="2.0"/>
<ellipse cx="154.0" cy="724.0" rx="3.1" ry="2.5" fill="#1e4a3c" stroke="#111" stroke-width="2.0"/>
<ellipse cx="163.0" cy="714.0" rx="3.1" ry="2.5" fill="#c8c85a" stroke="#111" stroke-width="2.0"/>
<ellipse cx="176.0" cy="691.0" rx="3.1" ry="2.5" fill="#c8c85a" stroke="#111" stroke-width="2.0"/>
<ellipse cx="149.0" cy="713.0" rx="3.1" ry="2.5" fill="#1e4a3c" stroke="#111" stroke-width="2.0"/>
<line x1="95.5" y1="760.8" x2="295.6" y2="609.3" stroke="#e02424" stroke-width="1.8" stroke-dasharray="7,4.5"/>
<line x1="248.6" y1="637.8" x2="248.6" y2="651.4" stroke="#141414" stroke-width="1.3" />
<line x1="245.5" y1="637.8" x2="251.7" y2="637.8" stroke="#141414" stroke-width="1.3" />
<line x1="245.5" y1="651.4" x2="251.7" y2="651.4" stroke="#141414" stroke-width="1.3" />
<ellipse cx="248.6" cy="645" rx="3.6" ry="3.2" fill="#e06060" stroke="#141414" stroke-width="1.5"/>
<line x1="95.5" y1="722.9" x2="98.5" y2="722.9" stroke="#333" stroke-width="1" />
<line x1="295.6" y1="722.9" x2="292.6" y2="722.9" stroke="#333" stroke-width="1" />
<line x1="145.5" y1="760.8" x2="145.5" y2="757.8" stroke="#333" stroke-width="1" />
<line x1="145.5" y1="609.3" x2="145.5" y2="612.3" stroke="#333" stroke-width="1" />
<line x1="95.5" y1="685" x2="98.5" y2="685" stroke="#333" stroke-width="1" />
<line x1="295.6" y1="685" x2="292.6" y2="685" stroke="#333" stroke-width="1" />
<line x1="195.6" y1="760.8" x2="195.6" y2="757.8" stroke="#333" stroke-width="1" />
<line x1="195.6" y1="609.3" x2="195.6" y2="612.3" stroke="#333" stroke-width="1" />
<line x1="95.5" y1="647.2" x2="98.5" y2="647.2" stroke="#333" stroke-width="1" />
<line x1="295.6" y1="647.2" x2="292.6" y2="647.2" stroke="#333" stroke-width="1" />
<line x1="245.6" y1="760.8" x2="245.6" y2="757.8" stroke="#333" stroke-width="1" />
<line x1="245.6" y1="609.3" x2="245.6" y2="612.3" stroke="#333" stroke-width="1" />
<rect x="95.5" y="609.3" width="200.1" height="151.5" fill="none" stroke="#4a4a4a" stroke-width="1.4" />
<text x="89.0" y="622.8" font-family='"Liberation Sans", sans-serif' font-size="19.5" text-anchor="end" fill="#262626" >40</text>
<text x="89.0" y="660.7" font-family='"Liberation Sans", sans-serif' font-size="19.5" text-anchor="end" fill="#262626" >30</text>
<text x="89.0" y="698.5" font-family='"Liberation Sans", sans-serif' font-size="19.5" text-anchor="end" fill="#262626" >20</text>
<text x="89.0" y="736.4" font-family='"Liberation Sans", sans-serif' font-size="19.5" text-anchor="end" fill="#262626" >10</text>
<text x="83.0" y="774.3" font-family='"Liberation Sans", sans-serif' font-size="19.5" text-anchor="end" fill="#262626" >0</text>
<text x="97.0" y="781.0" font-family='"Liberation Sans", sans-serif' font-size="19.5" text-anchor="middle" fill="#262626" >0</text>
<text x="148.0" y="781.0" font-family='"Liberation Sans", sans-serif' font-size="19.5" text-anchor="middle" fill="#262626" >10</text>
<text x="197.3" y="781.0" font-family='"Liberation Sans", sans-serif' font-size="19.5" text-anchor="middle" fill="#262626" >20</text>
<text x="246.7" y="781.0" font-family='"Liberation Sans", sans-serif' font-size="19.5" text-anchor="middle" fill="#262626" >30</text>
<text x="293.3" y="781.0" font-family='"Liberation Sans", sans-serif' font-size="19.5" text-anchor="middle" fill="#262626" >40</text>
<text x="0" y="0" font-family='"Liberation Sans", sans-serif' font-size="19" fill="#262626" text-anchor="middle" transform="translate(44,699) rotate(-90)">Predicted <tspan font-style="italic">l</tspan><tspan font-size="14" dy="4">G</tspan><tspan dy="-4"> (mm)</tspan></text>
<text x="199" y="806.5" font-family='"Liberation Sans", sans-serif' font-size="19.5" fill="#262626" text-anchor="middle"><tspan font-style="italic">l</tspan><tspan font-size="14" dy="4">c</tspan><tspan dy="-4"> (mm)</tspan></text>
<text x="336.5" y="598.6" font-family='"Liberation Sans", sans-serif' font-size="19.5" text-anchor="start" fill="#262626" >(f)</text>
<defs><clipPath id="hatchclip"><polygon points="371.3,754.8 371.3,614 372.3,617.8 372.8,620.7 373.3,623.5 373.8,626.3 374.3,629 374.8,631.7 375.3,634.3 375.8,636.8 376.3,639.3 376.8,641.8 377.3,644.2 377.8,646.5 378.3,648.8 378.8,651 379.3,653.2 379.8,655.3 380.3,657.4 380.8,659.5 381.3,661.5 381.8,663.5 382.3,665.4 382.8,667.3 383.3,669.1 383.8,670.9 384.3,672.7 384.8,674.4 385.3,676.1 385.8,677.7 386.3,679.3 386.8,680.9 387.3,682.5 387.8,684 388.3,685.5 388.8,686.9 389.3,688.3 389.8,689.7 390.3,691.1 390.8,692.4 391.3,693.7 391.8,695 392.3,696.2 392.8,697.4 393.3,698.6 393.8,699.8 394.3,700.9 394.3,754.8" fill="#000" stroke="none" stroke-width="1" /></clipPath></defs>
<g clip-path="url(#hatchclip)">
<line x1="371.3" y1="637" x2="401.3" y2="612" stroke="#1a22e0" stroke-width="2.6" />
<line x1="371.3" y1="649.3" x2="401.3" y2="624.3" stroke="#1a22e0" stroke-width="2.6" />
<line x1="371.3" y1="661.6" x2="401.3" y2="636.6" stroke="#1a22e0" stroke-width="2.6" />
<line x1="371.3" y1="673.9" x2="401.3" y2="648.9" stroke="#1a22e0" stroke-width="2.6" />
<line x1="371.3" y1="686.2" x2="401.3" y2="661.2" stroke="#1a22e0" stroke-width="2.6" />
<line x1="371.3" y1="698.5" x2="401.3" y2="673.5" stroke="#1a22e0" stroke-width="2.6" />
<line x1="371.3" y1="710.8" x2="401.3" y2="685.8" stroke="#1a22e0" stroke-width="2.6" />
<line x1="371.3" y1="723.1" x2="401.3" y2="698.1" stroke="#1a22e0" stroke-width="2.6" />
<line x1="371.3" y1="735.4" x2="401.3" y2="710.4" stroke="#1a22e0" stroke-width="2.6" />
<line x1="371.3" y1="747.7" x2="401.3" y2="722.7" stroke="#1a22e0" stroke-width="2.6" />
<line x1="371.3" y1="760" x2="401.3" y2="735" stroke="#1a22e0" stroke-width="2.6" />
<line x1="371.3" y1="772.3" x2="401.3" y2="747.3" stroke="#1a22e0" stroke-width="2.6" />
<line x1="371.3" y1="784.6" x2="401.3" y2="759.6" stroke="#1a22e0" stroke-width="2.6" />
<line x1="371.3" y1="796.9" x2="401.3" y2="771.9" stroke="#1a22e0" stroke-width="2.6" />
</g>
<line x1="394.3" y1="704" x2="394.3" y2="763" stroke="#4a9a30" stroke-width="1.4" stroke-dasharray="4,2.5"/>
<line x1="371.3" y1="754.8" x2="562" y2="754.8" stroke="#222" stroke-width="1.2" stroke-dasharray="5,3.5"/>
<polyline points="372.3,617.8 373.3,623.5 374.3,629 375.3,634.3 376.3,639.3 377.3,644.2 378.3,648.8 379.3,653.2 380.3,657.4 381.3,661.5 382.3,665.4 383.3,669.1 384.3,672.7 385.3,676.1 386.3,679.3 387.3,682.5 388.3,685.5 389.3,688.3 390.3,691.1 391.3,693.7 392.3,696.2 393.3,698.6 394.3,700.9 395.3,703.1 396.3,705.2 397.3,707.3 398.3,709.2 399.3,711.1 400.3,712.8 401.3,714.5 402.3,716.2 403.3,717.7 404.3,719.2 405.3,720.6 406.3,722 407.3,723.3 408.3,724.6 409.3,725.8 410.3,726.9 411.3,728 412.3,729.1 413.3,730.1 414.3,731.1 415.3,732 416.3,732.9 417.3,733.7 418.3,734.5 419.3,735.3 420.3,736 421.3,736.8 422.3,737.4 423.3,738.1 424.3,738.7 425.3,739.3 426.3,739.9 427.3,740.4 428.3,741 429.3,741.5 430.3,742 431.3,742.4 432.3,742.9 433.3,743.3 434.3,743.7 435.3,744.1 436.3,744.4 437.3,744.8 438.3,745.1 439.3,745.5 440.3,745.8 441.3,746.1 442.3,746.4 443.3,746.6 444.3,746.9 445.3,747.2 446.3,747.4 447.3,747.6 448.3,747.8 449.3,748.1 450.3,748.3 451.3,748.4 452.3,748.6 453.3,748.8 454.3,749 455.3,749.1 456.3,749.3 457.3,749.4 458.3,749.6 459.3,749.7 460.3,749.9 461.3,750 462.3,750.1 463.3,750.2 464.3,750.3 465.3,750.4 466.3,750.5 467.3,750.6 468.3,750.7 469.3,750.8 470.3,750.9 471.3,751 472.3,751.1 473.3,751.1 474.3,751.2 475.3,751.3 476.3,751.3 477.3,751.4 478.3,751.5 479.3,751.5 480.3,751.6 481.3,751.6 482.3,751.7 483.3,751.7 484.3,751.8 485.3,751.8 486.3,751.8 487.3,751.9 488.3,751.9 489.3,752 490.3,752 491.3,752 492.3,752.1 493.3,752.1 494.3,752.1 495.3,752.2 496.3,752.2 497.3,752.2 498.3,752.2 499.3,752.3 500.3,752.3 501.3,752.3 502.3,752.3 503.3,752.3 504.3,752.4 505.3,752.4 506.3,752.4 507.3,752.4 508.3,752.4 509.3,752.5 510.3,752.5 511.3,752.5 512.3,752.5 513.3,752.5 514.3,752.5 515.3,752.5 516.3,752.5 517.3,752.6 518.3,752.6 519.3,752.6 520.3,752.6 521.3,752.6 522.3,752.6 523.3,752.6 524.3,752.6 525.3,752.6 526.3,752.6 527.3,752.6 528.3,752.6 529.3,752.7 530.3,752.7 531.3,752.7 532.3,752.7 533.3,752.7 534.3,752.7 535.3,752.7 536.3,752.7 537.3,752.7 538.3,752.7 539.3,752.7 540.3,752.7 541.3,752.7 542.3,752.7 543.3,752.7 544.3,752.7 545.3,752.7 546.3,752.7 547.3,752.7 548.3,752.7 549.3,752.7 550.3,752.7 551.3,752.7 552.3,752.7 553.3,752.7 554.3,752.8 555.3,752.8 556.3,752.8 557.3,752.8 558.3,752.8 559.3,752.8 560.3,752.8 561.3,752.8 562.3,752.8 563.3,752.8 564.3,752.8 565.3,752.8 566.3,752.8 567.3,752.8 568.3,752.8 569.3,752.8 570.3,752.8 571.3,752.8 572.3,752.8 573.3,752.8 574.3,752.8" fill="none" stroke="#e8161c" stroke-width="2.4" />
<line x1="371.3" y1="762.5" x2="371.3" y2="621" stroke="#111" stroke-width="2.4" />
<polygon points="371.3,611.6 375.8,622.6 366.8,622.6" fill="#222" stroke="none" stroke-width="1" />
<line x1="370.1" y1="762.5" x2="578" y2="762.5" stroke="#111" stroke-width="2.4" />
<polygon points="587,762.5 576,767 576,758" fill="#222" stroke="none" stroke-width="1" />
<path d="M382,693.5 C392,694 396,690 398,680 C400,668 406,661 418,658.5" fill="none" stroke="#1a22e0" stroke-width="1.5"/>
<polygon points="425,656.5 418,663.4 415.2,655.9" fill="#1a22e0" stroke="none" stroke-width="1" />
<text x="381.5" y="637.5" font-family='"Liberation Serif", serif' font-size="19" font-style="italic" fill="#e8161c">τ<tspan font-family='"Liberation Sans", sans-serif' font-style="normal" font-size="15" dy="2">max</tspan></text>
<text x="424" y="640" font-family='"Liberation Serif", serif' font-size="21.5" fill="#2424d8">Γ(δ′) = <tspan font-style="italic">ασ</tspan><tspan font-size="13" dy="4">yy</tspan><tspan dy="-4">Δ</tspan></text>
<path transform="translate(537.5,640.0) rotate(0) scale(0.975) translate(0,-14)" d="M0.6,13 C2,14.2 4.5,13.8 6.2,12.2 C9,9.3 12,4.2 16.2,0.8 M9.2,4.2 C10.8,2 13.5,0.9 17.2,0.6 M17.2,0.6 C16.6,5 16.3,9.2 16.2,13.6 M16.2,13.6 L19.6,12.8 M10.2,8.8 L16.6,8.4" fill="none" stroke="#2424d8" stroke-width="1.9" stroke-linecap="round" stroke-linejoin="round"/>
<text x="554" y="640" font-family='"Liberation Serif", serif' font-size="21.5" fill="#2424d8">(δ′)</text>
<text x="483" y="741" font-family='"Liberation Serif", serif' font-size="19" font-style="italic" fill="#e8161c">τ<tspan font-family='"Liberation Sans", sans-serif' font-style="normal" font-size="15" dy="2">res</tspan></text>
<text x="565" y="745.5" font-family='"Liberation Serif", serif' font-size="21" fill="#111">δ</text>
<text x="401" y="751" font-family='"Liberation Serif", serif' font-size="18" fill="#4a9a30">δ</text>
<text x="0" y="0" font-family='"Liberation Sans", sans-serif' font-size="21" font-weight="bold" fill="#111" text-anchor="middle" transform="translate(349.8,700.5) rotate(-90)">τ</text>
<line x1="664.2" y1="746.6" x2="878" y2="746.6" stroke="#222" stroke-width="1.3" stroke-dasharray="5,3.5"/>
<line x1="680.6" y1="640" x2="680.6" y2="696" stroke="#8e8e8e" stroke-width="1.3" /><line x1="676.6" y1="640" x2="684.6" y2="640" stroke="#8e8e8e" stroke-width="1.3" /><line x1="676.6" y1="696" x2="684.6" y2="696" stroke="#8e8e8e" stroke-width="1.3" /><line x1="671.6" y1="668" x2="689.6" y2="668" stroke="#8e8e8e" stroke-width="1.3" /><line x1="671.6" y1="665.5" x2="671.6" y2="670.5" stroke="#8e8e8e" stroke-width="1.1" /><line x1="689.6" y1="665.5" x2="689.6" y2="670.5" stroke="#8e8e8e" stroke-width="1.1" /><line x1="681.6" y1="648.4" x2="681.6" y2="708.4" stroke="#8e8e8e" stroke-width="1.3" /><line x1="677.6" y1="648.4" x2="685.6" y2="648.4" stroke="#8e8e8e" stroke-width="1.3" /><line x1="677.6" y1="708.4" x2="685.6" y2="708.4" stroke="#8e8e8e" stroke-width="1.3" /><line x1="673.6" y1="678.4" x2="689.6" y2="678.4" stroke="#8e8e8e" stroke-width="1.3" /><line x1="673.6" y1="675.9" x2="673.6" y2="680.9" stroke="#8e8e8e" stroke-width="1.1" /><line x1="689.6" y1="675.9" x2="689.6" y2="680.9" stroke="#8e8e8e" stroke-width="1.1" /><line x1="686.8" y1="635.2" x2="686.8" y2="711.2" stroke="#8e8e8e" stroke-width="1.3" /><line x1="682.8" y1="635.2" x2="690.8" y2="635.2" stroke="#8e8e8e" stroke-width="1.3" /><line x1="682.8" y1="711.2" x2="690.8" y2="711.2" stroke="#8e8e8e" stroke-width="1.3" /><line x1="678.8" y1="673.2" x2="694.8" y2="673.2" stroke="#8e8e8e" stroke-width="1.3" /><line x1="678.8" y1="670.7" x2="678.8" y2="675.7" stroke="#8e8e8e" stroke-width="1.1" /><line x1="694.8" y1="670.7" x2="694.8" y2="675.7" stroke="#8e8e8e" stroke-width="1.1" /><line x1="688.5" y1="648" x2="688.5" y2="708" stroke="#8e8e8e" stroke-width="1.3" /><line x1="684.5" y1="648" x2="692.5" y2="648" stroke="#8e8e8e" stroke-width="1.3" /><line x1="684.5" y1="708" x2="692.5" y2="708" stroke="#8e8e8e" stroke-width="1.3" /><line x1="681.5" y1="678" x2="695.5" y2="678" stroke="#8e8e8e" stroke-width="1.3" /><line x1="681.5" y1="675.5" x2="681.5" y2="680.5" stroke="#8e8e8e" stroke-width="1.1" /><line x1="695.5" y1="675.5" x2="695.5" y2="680.5" stroke="#8e8e8e" stroke-width="1.1" /><line x1="694" y1="639.6" x2="694" y2="705.6" stroke="#8e8e8e" stroke-width="1.3" /><line x1="690" y1="639.6" x2="698" y2="639.6" stroke="#8e8e8e" stroke-width="1.3" /><line x1="690" y1="705.6" x2="698" y2="705.6" stroke="#8e8e8e" stroke-width="1.3" /><line x1="687" y1="672.6" x2="701" y2="672.6" stroke="#8e8e8e" stroke-width="1.3" /><line x1="687" y1="670.1" x2="687" y2="675.1" stroke="#8e8e8e" stroke-width="1.1" /><line x1="701" y1="670.1" x2="701" y2="675.1" stroke="#8e8e8e" stroke-width="1.1" /><line x1="685.8" y1="669.1" x2="685.8" y2="713.1" stroke="#8e8e8e" stroke-width="1.3" /><line x1="681.8" y1="669.1" x2="689.8" y2="669.1" stroke="#8e8e8e" stroke-width="1.3" /><line x1="681.8" y1="713.1" x2="689.8" y2="713.1" stroke="#8e8e8e" stroke-width="1.3" /><line x1="676.8" y1="691.1" x2="694.8" y2="691.1" stroke="#8e8e8e" stroke-width="1.3" /><line x1="676.8" y1="688.6" x2="676.8" y2="693.6" stroke="#8e8e8e" stroke-width="1.1" /><line x1="694.8" y1="688.6" x2="694.8" y2="693.6" stroke="#8e8e8e" stroke-width="1.1" /><line x1="690.9" y1="676.9" x2="690.9" y2="716.9" stroke="#8e8e8e" stroke-width="1.3" /><line x1="686.9" y1="676.9" x2="694.9" y2="676.9" stroke="#8e8e8e" stroke-width="1.3" /><line x1="686.9" y1="716.9" x2="694.9" y2="716.9" stroke="#8e8e8e" stroke-width="1.3" /><line x1="681.9" y1="696.9" x2="699.9" y2="696.9" stroke="#8e8e8e" stroke-width="1.3" /><line x1="681.9" y1="694.4" x2="681.9" y2="699.4" stroke="#8e8e8e" stroke-width="1.1" /><line x1="699.9" y1="694.4" x2="699.9" y2="699.4" stroke="#8e8e8e" stroke-width="1.1" /><line x1="683.1" y1="674.6" x2="683.1" y2="726.6" stroke="#8e8e8e" stroke-width="1.3" /><line x1="679.1" y1="674.6" x2="687.1" y2="674.6" stroke="#8e8e8e" stroke-width="1.3" /><line x1="679.1" y1="726.6" x2="687.1" y2="726.6" stroke="#8e8e8e" stroke-width="1.3" /><line x1="675.1" y1="700.6" x2="691.1" y2="700.6" stroke="#8e8e8e" stroke-width="1.3" /><line x1="675.1" y1="698.1" x2="675.1" y2="703.1" stroke="#8e8e8e" stroke-width="1.1" /><line x1="691.1" y1="698.1" x2="691.1" y2="703.1" stroke="#8e8e8e" stroke-width="1.1" /><line x1="696.1" y1="683" x2="696.1" y2="719" stroke="#8e8e8e" stroke-width="1.3" /><line x1="692.1" y1="683" x2="700.1" y2="683" stroke="#8e8e8e" stroke-width="1.3" /><line x1="692.1" y1="719" x2="700.1" y2="719" stroke="#8e8e8e" stroke-width="1.3" /><line x1="688.1" y1="701" x2="704.1" y2="701" stroke="#8e8e8e" stroke-width="1.3" /><line x1="688.1" y1="698.5" x2="688.1" y2="703.5" stroke="#8e8e8e" stroke-width="1.1" /><line x1="704.1" y1="698.5" x2="704.1" y2="703.5" stroke="#8e8e8e" stroke-width="1.1" /><line x1="700.2" y1="687.1" x2="700.2" y2="719.1" stroke="#8e8e8e" stroke-width="1.3" /><line x1="696.2" y1="687.1" x2="704.2" y2="687.1" stroke="#8e8e8e" stroke-width="1.3" /><line x1="696.2" y1="719.1" x2="704.2" y2="719.1" stroke="#8e8e8e" stroke-width="1.3" /><line x1="692.2" y1="703.1" x2="708.2" y2="703.1" stroke="#8e8e8e" stroke-width="1.3" /><line x1="692.2" y1="700.6" x2="692.2" y2="705.6" stroke="#8e8e8e" stroke-width="1.1" /><line x1="708.2" y1="700.6" x2="708.2" y2="705.6" stroke="#8e8e8e" stroke-width="1.1" /><line x1="699.2" y1="691.2" x2="699.2" y2="723.2" stroke="#8e8e8e" stroke-width="1.3" /><line x1="695.2" y1="691.2" x2="703.2" y2="691.2" stroke="#8e8e8e" stroke-width="1.3" /><line x1="695.2" y1="723.2" x2="703.2" y2="723.2" stroke="#8e8e8e" stroke-width="1.3" /><line x1="692.2" y1="707.2" x2="706.2" y2="707.2" stroke="#8e8e8e" stroke-width="1.3" /><line x1="692.2" y1="704.7" x2="692.2" y2="709.7" stroke="#8e8e8e" stroke-width="1.1" /><line x1="706.2" y1="704.7" x2="706.2" y2="709.7" stroke="#8e8e8e" stroke-width="1.1" /><line x1="705.4" y1="701" x2="705.4" y2="725" stroke="#8e8e8e" stroke-width="1.3" /><line x1="701.4" y1="701" x2="709.4" y2="701" stroke="#8e8e8e" stroke-width="1.3" /><line x1="701.4" y1="725" x2="709.4" y2="725" stroke="#8e8e8e" stroke-width="1.3" /><line x1="697.4" y1="713" x2="713.4" y2="713" stroke="#8e8e8e" stroke-width="1.3" /><line x1="697.4" y1="710.5" x2="697.4" y2="715.5" stroke="#8e8e8e" stroke-width="1.1" /><line x1="713.4" y1="710.5" x2="713.4" y2="715.5" stroke="#8e8e8e" stroke-width="1.1" /><line x1="713.2" y1="734.8" x2="713.2" y2="744.8" stroke="#8e8e8e" stroke-width="1.3" /><line x1="709.2" y1="734.8" x2="717.2" y2="734.8" stroke="#8e8e8e" stroke-width="1.3" /><line x1="709.2" y1="744.8" x2="717.2" y2="744.8" stroke="#8e8e8e" stroke-width="1.3" /><line x1="706.2" y1="739.8" x2="720.2" y2="739.8" stroke="#8e8e8e" stroke-width="1.3" /><line x1="706.2" y1="737.3" x2="706.2" y2="742.3" stroke="#8e8e8e" stroke-width="1.1" /><line x1="720.2" y1="737.3" x2="720.2" y2="742.3" stroke="#8e8e8e" stroke-width="1.1" /><line x1="718.8" y1="733.6" x2="718.8" y2="743.6" stroke="#8e8e8e" stroke-width="1.3" /><line x1="714.8" y1="733.6" x2="722.8" y2="733.6" stroke="#8e8e8e" stroke-width="1.3" /><line x1="714.8" y1="743.6" x2="722.8" y2="743.6" stroke="#8e8e8e" stroke-width="1.3" /><line x1="711.8" y1="738.6" x2="725.8" y2="738.6" stroke="#8e8e8e" stroke-width="1.3" /><line x1="711.8" y1="736.1" x2="711.8" y2="741.1" stroke="#8e8e8e" stroke-width="1.1" /><line x1="725.8" y1="736.1" x2="725.8" y2="741.1" stroke="#8e8e8e" stroke-width="1.1" /><line x1="723.9" y1="732.7" x2="723.9" y2="742.7" stroke="#8e8e8e" stroke-width="1.3" /><line x1="719.9" y1="732.7" x2="727.9" y2="732.7" stroke="#8e8e8e" stroke-width="1.3" /><line x1="719.9" y1="742.7" x2="727.9" y2="742.7" stroke="#8e8e8e" stroke-width="1.3" /><line x1="716.9" y1="737.7" x2="730.9" y2="737.7" stroke="#8e8e8e" stroke-width="1.3" /><line x1="716.9" y1="735.2" x2="716.9" y2="740.2" stroke="#8e8e8e" stroke-width="1.1" /><line x1="730.9" y1="735.2" x2="730.9" y2="740.2" stroke="#8e8e8e" stroke-width="1.1" /><line x1="730.1" y1="735.2" x2="730.1" y2="745.2" stroke="#8e8e8e" stroke-width="1.3" /><line x1="726.1" y1="735.2" x2="734.1" y2="735.2" stroke="#8e8e8e" stroke-width="1.3" /><line x1="726.1" y1="745.2" x2="734.1" y2="745.2" stroke="#8e8e8e" stroke-width="1.3" /><line x1="723.1" y1="740.2" x2="737.1" y2="740.2" stroke="#8e8e8e" stroke-width="1.3" /><line x1="723.1" y1="737.7" x2="723.1" y2="742.7" stroke="#8e8e8e" stroke-width="1.1" /><line x1="737.1" y1="737.7" x2="737.1" y2="742.7" stroke="#8e8e8e" stroke-width="1.1" /><line x1="736.3" y1="733.6" x2="736.3" y2="743.6" stroke="#8e8e8e" stroke-width="1.3" /><line x1="732.3" y1="733.6" x2="740.3" y2="733.6" stroke="#8e8e8e" stroke-width="1.3" /><line x1="732.3" y1="743.6" x2="740.3" y2="743.6" stroke="#8e8e8e" stroke-width="1.3" /><line x1="729.3" y1="738.6" x2="743.3" y2="738.6" stroke="#8e8e8e" stroke-width="1.3" /><line x1="729.3" y1="736.1" x2="729.3" y2="741.1" stroke="#8e8e8e" stroke-width="1.1" /><line x1="743.3" y1="736.1" x2="743.3" y2="741.1" stroke="#8e8e8e" stroke-width="1.1" /><line x1="816.7" y1="745" x2="816.7" y2="755" stroke="#8e8e8e" stroke-width="1.3" /><line x1="812.7" y1="745" x2="820.7" y2="745" stroke="#8e8e8e" stroke-width="1.3" /><line x1="812.7" y1="755" x2="820.7" y2="755" stroke="#8e8e8e" stroke-width="1.3" /><line x1="810.7" y1="750" x2="822.7" y2="750" stroke="#8e8e8e" stroke-width="1.3" /><line x1="810.7" y1="747.5" x2="810.7" y2="752.5" stroke="#8e8e8e" stroke-width="1.1" /><line x1="822.7" y1="747.5" x2="822.7" y2="752.5" stroke="#8e8e8e" stroke-width="1.1" /><line x1="820" y1="743.3" x2="820" y2="753.3" stroke="#8e8e8e" stroke-width="1.3" /><line x1="816" y1="743.3" x2="824" y2="743.3" stroke="#8e8e8e" stroke-width="1.3" /><line x1="816" y1="753.3" x2="824" y2="753.3" stroke="#8e8e8e" stroke-width="1.3" /><line x1="814" y1="748.3" x2="826" y2="748.3" stroke="#8e8e8e" stroke-width="1.3" /><line x1="814" y1="745.8" x2="814" y2="750.8" stroke="#8e8e8e" stroke-width="1.1" /><line x1="826" y1="745.8" x2="826" y2="750.8" stroke="#8e8e8e" stroke-width="1.1" /><line x1="826.7" y1="740" x2="826.7" y2="750" stroke="#8e8e8e" stroke-width="1.3" /><line x1="822.7" y1="740" x2="830.7" y2="740" stroke="#8e8e8e" stroke-width="1.3" /><line x1="822.7" y1="750" x2="830.7" y2="750" stroke="#8e8e8e" stroke-width="1.3" /><line x1="820.7" y1="745" x2="832.7" y2="745" stroke="#8e8e8e" stroke-width="1.3" /><line x1="820.7" y1="742.5" x2="820.7" y2="747.5" stroke="#8e8e8e" stroke-width="1.1" /><line x1="832.7" y1="742.5" x2="832.7" y2="747.5" stroke="#8e8e8e" stroke-width="1.1" /><line x1="830" y1="741" x2="830" y2="751" stroke="#8e8e8e" stroke-width="1.3" /><line x1="826" y1="741" x2="834" y2="741" stroke="#8e8e8e" stroke-width="1.3" /><line x1="826" y1="751" x2="834" y2="751" stroke="#8e8e8e" stroke-width="1.3" /><line x1="824" y1="746" x2="836" y2="746" stroke="#8e8e8e" stroke-width="1.3" /><line x1="824" y1="743.5" x2="824" y2="748.5" stroke="#8e8e8e" stroke-width="1.1" /><line x1="836" y1="743.5" x2="836" y2="748.5" stroke="#8e8e8e" stroke-width="1.1" /><line x1="835" y1="741" x2="835" y2="751" stroke="#8e8e8e" stroke-width="1.3" /><line x1="831" y1="741" x2="839" y2="741" stroke="#8e8e8e" stroke-width="1.3" /><line x1="831" y1="751" x2="839" y2="751" stroke="#8e8e8e" stroke-width="1.3" /><line x1="829" y1="746" x2="841" y2="746" stroke="#8e8e8e" stroke-width="1.3" /><line x1="829" y1="743.5" x2="829" y2="748.5" stroke="#8e8e8e" stroke-width="1.1" /><line x1="841" y1="743.5" x2="841" y2="748.5" stroke="#8e8e8e" stroke-width="1.1" /><line x1="845" y1="738.3" x2="845" y2="748.3" stroke="#8e8e8e" stroke-width="1.3" /><line x1="841" y1="738.3" x2="849" y2="738.3" stroke="#8e8e8e" stroke-width="1.3" /><line x1="841" y1="748.3" x2="849" y2="748.3" stroke="#8e8e8e" stroke-width="1.3" /><line x1="839" y1="743.3" x2="851" y2="743.3" stroke="#8e8e8e" stroke-width="1.3" /><line x1="839" y1="740.8" x2="839" y2="745.8" stroke="#8e8e8e" stroke-width="1.1" /><line x1="851" y1="740.8" x2="851" y2="745.8" stroke="#8e8e8e" stroke-width="1.1" />
<line x1="681" y1="614" x2="681" y2="730" stroke="#8e8e8e" stroke-width="1.3" />
<line x1="674" y1="614" x2="688" y2="614" stroke="#8e8e8e" stroke-width="1.3" />
<line x1="674" y1="730" x2="688" y2="730" stroke="#8e8e8e" stroke-width="1.3" />
<line x1="693.5" y1="639" x2="693.5" y2="712" stroke="#8e8e8e" stroke-width="1.3" />
<line x1="688.5" y1="639" x2="698.5" y2="639" stroke="#8e8e8e" stroke-width="1.3" />
<line x1="688.5" y1="712" x2="698.5" y2="712" stroke="#8e8e8e" stroke-width="1.3" />
<line x1="688" y1="643" x2="688" y2="731" stroke="#8e8e8e" stroke-width="1.3" />
<line x1="683" y1="643" x2="693" y2="643" stroke="#8e8e8e" stroke-width="1.3" />
<line x1="683" y1="731" x2="693" y2="731" stroke="#8e8e8e" stroke-width="1.3" />
<line x1="684.5" y1="645" x2="684.5" y2="715" stroke="#8e8e8e" stroke-width="1.3" />
<line x1="680.5" y1="645" x2="688.5" y2="645" stroke="#8e8e8e" stroke-width="1.3" />
<line x1="680.5" y1="715" x2="688.5" y2="715" stroke="#8e8e8e" stroke-width="1.3" />
<line x1="690.5" y1="676" x2="690.5" y2="717" stroke="#8e8e8e" stroke-width="1.3" />
<line x1="686.5" y1="676" x2="694.5" y2="676" stroke="#8e8e8e" stroke-width="1.3" />
<line x1="686.5" y1="717" x2="694.5" y2="717" stroke="#8e8e8e" stroke-width="1.3" />
<line x1="672" y1="684" x2="698" y2="684" stroke="#8e8e8e" stroke-width="1.3" />
<line x1="673" y1="693" x2="702" y2="693" stroke="#8e8e8e" stroke-width="1.3" />
<line x1="675" y1="698" x2="708" y2="698" stroke="#8e8e8e" stroke-width="1.3" />
<line x1="680" y1="705" x2="712" y2="705" stroke="#8e8e8e" stroke-width="1.3" />
<line x1="670" y1="688" x2="690" y2="688" stroke="#8e8e8e" stroke-width="1.3" />
<defs><clipPath id="fclip"><rect x="664.2" y="603.8" width="213.79999999999995" height="159.10000000000002"/></clipPath></defs>
<circle cx="680.6" cy="655.3" r="3.9" fill="#eeea5a" stroke="#111" stroke-width="1.4"/>
<circle cx="680.6" cy="668.0" r="3.9" fill="#e0cc60" stroke="#111" stroke-width="1.4"/>
<circle cx="681.6" cy="678.4" r="3.9" fill="#a8d070" stroke="#111" stroke-width="1.4"/>
<circle cx="686.8" cy="673.2" r="3.9" fill="#4aa06a" stroke="#111" stroke-width="1.4"/>
<circle cx="688.5" cy="678.0" r="3.9" fill="#3a9a6a" stroke="#111" stroke-width="1.4"/>
<circle cx="694.0" cy="672.6" r="3.9" fill="#1e8a64" stroke="#111" stroke-width="1.4"/>
<circle cx="685.8" cy="691.1" r="3.9" fill="#f0ec60" stroke="#111" stroke-width="1.4"/>
<circle cx="690.9" cy="696.9" r="3.9" fill="#eeea60" stroke="#111" stroke-width="1.4"/>
<circle cx="683.1" cy="700.6" r="3.9" fill="#2a8a5a" stroke="#111" stroke-width="1.4"/>
<circle cx="696.1" cy="701.0" r="3.9" fill="#3a9a6a" stroke="#111" stroke-width="1.4"/>
<circle cx="700.2" cy="703.1" r="3.9" fill="#4aa06a" stroke="#111" stroke-width="1.4"/>
<circle cx="699.2" cy="707.2" r="3.9" fill="#1e8060" stroke="#111" stroke-width="1.4"/>
<circle cx="705.4" cy="713.0" r="3.9" fill="#16785a" stroke="#111" stroke-width="1.4"/>
<circle cx="713.2" cy="739.8" r="3.9" fill="#f0ec60" stroke="#111" stroke-width="1.4"/>
<circle cx="718.8" cy="738.6" r="3.9" fill="#e0e070" stroke="#111" stroke-width="1.4"/>
<circle cx="723.9" cy="737.7" r="3.9" fill="#5aa868" stroke="#111" stroke-width="1.4"/>
<circle cx="730.1" cy="740.2" r="3.9" fill="#2a8a5a" stroke="#111" stroke-width="1.4"/>
<circle cx="736.3" cy="738.6" r="3.9" fill="#1e7a5a" stroke="#111" stroke-width="1.4"/>
<circle cx="816.7" cy="750.0" r="3.9" fill="#f0ec60" stroke="#111" stroke-width="1.4"/>
<circle cx="820.0" cy="748.3" r="3.9" fill="#e0e070" stroke="#111" stroke-width="1.4"/>
<circle cx="826.7" cy="745.0" r="3.9" fill="#5aa868" stroke="#111" stroke-width="1.4"/>
<circle cx="830.0" cy="746.0" r="3.9" fill="#3a9a6a" stroke="#111" stroke-width="1.4"/>
<circle cx="835.0" cy="746.0" r="3.9" fill="#4aa06a" stroke="#111" stroke-width="1.4"/>
<circle cx="845.0" cy="743.3" r="3.9" fill="#1e8a64" stroke="#111" stroke-width="1.4"/>
<g clip-path="url(#fclip)"><polyline points="664.2,590.5 665.1,596.4 666,602 667,607.5 667.9,612.7 668.8,617.8 669.7,622.7 670.7,627.3 671.6,631.8 672.5,636.2 673.4,640.3 674.3,644.3 675.3,648.2 676.2,651.9 677.1,655.5 678,658.9 679,662.2 679.9,665.4 680.8,668.5 681.7,671.4 682.7,674.3 683.6,677 684.5,679.6 685.4,682.1 686.3,684.6 687.3,686.9 688.2,689.2 689.1,691.3 690,693.4 691,695.4 691.9,697.4 692.8,699.2 693.7,701 694.6,702.7 695.6,704.4 696.5,706 697.4,707.5 698.3,709 699.3,710.4 700.2,711.8 701.1,713.1 702,714.3 702.9,715.6 703.9,716.7 704.8,717.9 705.7,718.9 706.6,720 707.6,721 708.5,722 709.4,722.9 710.3,723.8 711.2,724.6 712.2,725.5 713.1,726.3 714,727 714.9,727.8 715.9,728.5 716.8,729.2 717.7,729.8 718.6,730.5 719.6,731.1 720.5,731.7 721.4,732.2 722.3,732.8 723.2,733.3 724.2,733.8 725.1,734.3 726,734.7 726.9,735.2 727.9,735.6 728.8,736 729.7,736.4 730.6,736.8 731.5,737.2 732.5,737.5 733.4,737.9 734.3,738.2 735.2,738.5 736.2,738.8 737.1,739.1 738,739.4 738.9,739.7 739.8,739.9 740.8,740.2 741.7,740.4 742.6,740.7 743.5,740.9 744.5,741.1 745.4,741.3 746.3,741.5 747.2,741.7 748.1,741.9 749.1,742.1 750,742.2 750.9,742.4 751.8,742.6 752.8,742.7 753.7,742.9 754.6,743 755.5,743.1 756.5,743.3 757.4,743.4 758.3,743.5 759.2,743.6 760.1,743.7 761.1,743.8 762,744 762.9,744.1 763.8,744.1 764.8,744.2 765.7,744.3 766.6,744.4 767.5,744.5 768.4,744.6 769.4,744.7 770.3,744.7 771.2,744.8 772.1,744.9 773.1,744.9 774,745 774.9,745.1 775.8,745.1 776.7,745.2 777.7,745.2 778.6,745.3 779.5,745.3 780.4,745.4 781.4,745.4 782.3,745.5 783.2,745.5 784.1,745.5 785,745.6 786,745.6 786.9,745.7 787.8,745.7 788.7,745.7 789.7,745.8 790.6,745.8 791.5,745.8 792.4,745.9 793.4,745.9 794.3,745.9 795.2,745.9 796.1,746 797,746 798,746 798.9,746 799.8,746.1 800.7,746.1 801.7,746.1 802.6,746.1 803.5,746.1 804.4,746.1 805.3,746.2 806.3,746.2 807.2,746.2 808.1,746.2 809,746.2 810,746.2 810.9,746.3 811.8,746.3 812.7,746.3 813.6,746.3 814.6,746.3 815.5,746.3 816.4,746.3 817.3,746.3 818.3,746.3 819.2,746.4 820.1,746.4 821,746.4 821.9,746.4 822.9,746.4 823.8,746.4 824.7,746.4 825.6,746.4 826.6,746.4 827.5,746.4 828.4,746.4 829.3,746.4 830.2,746.4 831.2,746.5 832.1,746.5 833,746.5 833.9,746.5 834.9,746.5 835.8,746.5 836.7,746.5 837.6,746.5 838.6,746.5 839.5,746.5 840.4,746.5 841.3,746.5 842.2,746.5 843.2,746.5 844.1,746.5 845,746.5 845.9,746.5 846.9,746.5 847.8,746.5 848.7,746.5 849.6,746.5 850.5,746.5 851.5,746.5 852.4,746.5 853.3,746.5 854.2,746.5 855.2,746.5 856.1,746.5 857,746.5 857.9,746.6 858.8,746.6 859.8,746.6 860.7,746.6 861.6,746.6 862.5,746.6 863.5,746.6 864.4,746.6 865.3,746.6 866.2,746.6 867.2,746.6 868.1,746.6 869,746.6 869.9,746.6 870.8,746.6 871.8,746.6 872.7,746.6 873.6,746.6 874.5,746.6 875.5,746.6 876.4,746.6 877.3,746.6 878.2,746.6 879.1,746.6 880.1,746.6 881,746.6 881.9,746.6" fill="none" stroke="#e8161c" stroke-width="2.4" /></g>
<line x1="664.2" y1="714.9" x2="667.2" y2="714.9" stroke="#333" stroke-width="1" />
<line x1="878" y1="714.9" x2="875" y2="714.9" stroke="#333" stroke-width="1" />
<line x1="664.2" y1="683.2" x2="667.2" y2="683.2" stroke="#333" stroke-width="1" />
<line x1="878" y1="683.2" x2="875" y2="683.2" stroke="#333" stroke-width="1" />
<line x1="664.2" y1="651.5" x2="667.2" y2="651.5" stroke="#333" stroke-width="1" />
<line x1="878" y1="651.5" x2="875" y2="651.5" stroke="#333" stroke-width="1" />
<line x1="664.2" y1="619.8" x2="667.2" y2="619.8" stroke="#333" stroke-width="1" />
<line x1="878" y1="619.8" x2="875" y2="619.8" stroke="#333" stroke-width="1" />
<line x1="664.2" y1="746.6" x2="667.2" y2="746.6" stroke="#333" stroke-width="1" />
<line x1="878" y1="746.6" x2="875" y2="746.6" stroke="#333" stroke-width="1" />
<line x1="725.7" y1="762.9" x2="725.7" y2="759.9" stroke="#333" stroke-width="1" />
<line x1="725.7" y1="603.8" x2="725.7" y2="606.8" stroke="#333" stroke-width="1" />
<line x1="787.2" y1="762.9" x2="787.2" y2="759.9" stroke="#333" stroke-width="1" />
<line x1="787.2" y1="603.8" x2="787.2" y2="606.8" stroke="#333" stroke-width="1" />
<line x1="848.7" y1="762.9" x2="848.7" y2="759.9" stroke="#333" stroke-width="1" />
<line x1="848.7" y1="603.8" x2="848.7" y2="606.8" stroke="#333" stroke-width="1" />
<rect x="664.2" y="603.8" width="213.8" height="159.1" fill="none" stroke="#3a3a3a" stroke-width="1.4" />
<text x="656.5" y="627.8" font-family='"Liberation Sans", sans-serif' font-size="19.5" text-anchor="end" fill="#262626" >0.8</text>
<text x="656.5" y="659.5" font-family='"Liberation Sans", sans-serif' font-size="19.5" text-anchor="end" fill="#262626" >0.6</text>
<text x="656.5" y="691.2" font-family='"Liberation Sans", sans-serif' font-size="19.5" text-anchor="end" fill="#262626" >0.4</text>
<text x="656.5" y="722.9" font-family='"Liberation Sans", sans-serif' font-size="19.5" text-anchor="end" fill="#262626" >0.2</text>
<text x="656.5" y="754.6" font-family='"Liberation Sans", sans-serif' font-size="19.5" text-anchor="end" fill="#262626" >0</text>
<text x="663.7" y="784.0" font-family='"Liberation Sans", sans-serif' font-size="19.5" text-anchor="middle" fill="#262626" >0</text>
<text x="725.2" y="784.0" font-family='"Liberation Sans", sans-serif' font-size="19.5" text-anchor="middle" fill="#262626" >2</text>
<text x="786.7" y="784.0" font-family='"Liberation Sans", sans-serif' font-size="19.5" text-anchor="middle" fill="#262626" >4</text>
<text x="848.2" y="784.0" font-family='"Liberation Sans", sans-serif' font-size="19.5" text-anchor="middle" fill="#262626" >6</text>
<text x="775" y="806" font-family='"Liberation Sans", sans-serif' font-size="19.5" fill="#262626" text-anchor="middle"><tspan font-family='"Liberation Serif", serif'>δ</tspan> (μm)</text>
<text x="0" y="0" font-family='"Liberation Sans", sans-serif' font-size="19.5" fill="#262626" text-anchor="middle" transform="translate(611.5,679.5) rotate(-90)">τ − τ<tspan font-size="13" font-weight="bold" dy="4">res</tspan><tspan dy="-4"> (Mpa)</tspan></text>
<text x="702" y="634" font-family='"Liberation Serif", serif' font-size="21.5" fill="#e8161c">Δτ(δ) = Δτ<tspan font-size="14" font-weight="bold" dy="4">max</tspan><tspan dy="-4" font-style="italic">e</tspan><tspan font-size="20" dy="-5.5">−δ/δ</tspan><tspan font-size="12" font-weight="bold" dy="4">o</tspan></text></svg></body></html>
